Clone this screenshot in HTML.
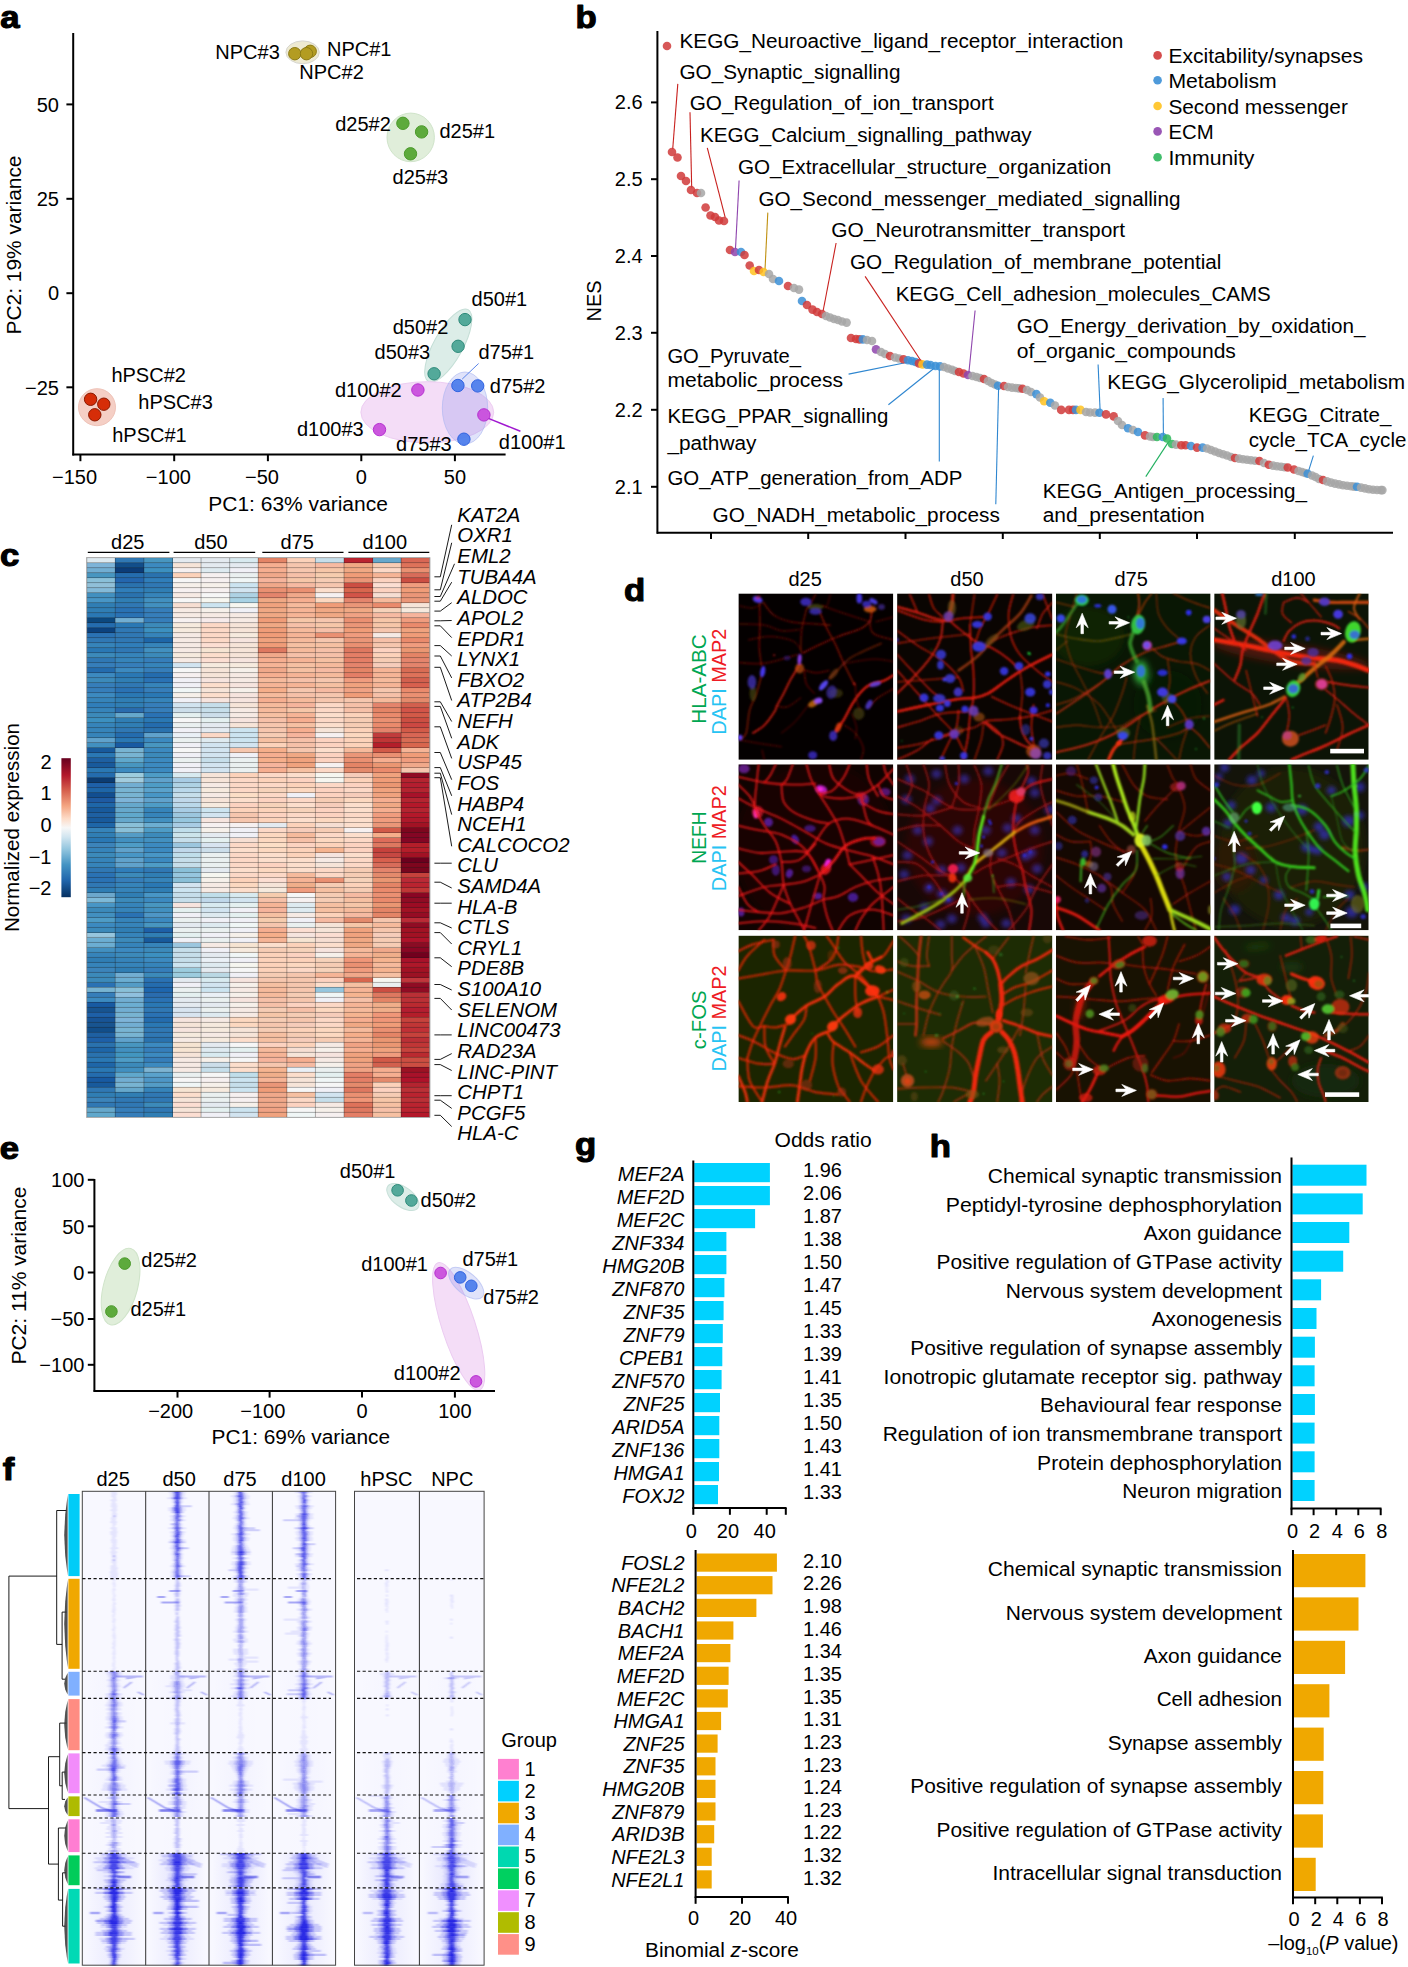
<!DOCTYPE html>
<html><head><meta charset="utf-8"><title>Figure</title>
<style>
html,body{margin:0;padding:0;background:#fff;}
body{width:1408px;height:1967px;overflow:hidden;}
svg{display:block;font-family:"Liberation Sans",sans-serif;font-size:20px;fill:#000;}
</style></head><body>
<svg width="1408" height="1967" viewBox="0 0 1408 1967">
<rect width="1408" height="1967" fill="#fff"/>
<g id="pa">
<text transform="translate(1.6 27.5) scale(1.12 1)" x="-1.2" y="0" font-size="31" font-weight="bold" stroke="#000" stroke-width="1.1" stroke-linejoin="round">a</text>
<ellipse cx="302.6" cy="52.3" rx="16.7" ry="11.4" fill="#EEEAD2" stroke="#D6D6D0" stroke-width="1"/>
<ellipse cx="410.7" cy="137.4" rx="23.7" ry="24.3" fill="#E0EEDA" stroke="#D0E4CA" stroke-width="1"/>
<ellipse cx="448.3" cy="345.5" rx="14.5" ry="41" transform="rotate(29 448.3 345.5)" fill="#DCEDE8" stroke="#C4DED6" stroke-width="1"/>
<ellipse cx="427.3" cy="412.3" rx="66.4" ry="30.6" fill="#F4DDF7" stroke="#EDCDF2" stroke-width="1"/>
<ellipse cx="465" cy="408" rx="22.7" ry="36" fill="#7080E8" fill-opacity="0.22" stroke="#A8B4F0" stroke-opacity="0.6" stroke-width="1"/>
<circle cx="97" cy="407.2" r="18.5" fill="#F5CFC5" stroke="#EFC3B8" stroke-width="1"/>
<line x1="478.6" y1="363.5" x2="462.2" y2="379.1" stroke="#5C86EA" stroke-width="1"/>
<line x1="487.8" y1="418.1" x2="520.4" y2="431.3" stroke="#A018D0" stroke-width="1.5"/>
<circle cx="310.2" cy="51.3" r="6.2" fill="#B39C22" stroke="#8C7A14" stroke-width="1" fill-opacity="1"/>
<circle cx="294.8" cy="53.7" r="6.2" fill="#B39C22" stroke="#8C7A14" stroke-width="1" fill-opacity="1"/>
<circle cx="306.5" cy="53.7" r="6.2" fill="#B39C22" stroke="#8C7A14" stroke-width="1" fill-opacity="1"/>
<circle cx="402.9" cy="123.3" r="6.2" fill="#5DAA3C" stroke="#4C9A2C" stroke-width="1" fill-opacity="1"/>
<circle cx="421.6" cy="131.9" r="6.2" fill="#5DAA3C" stroke="#4C9A2C" stroke-width="1" fill-opacity="1"/>
<circle cx="410.5" cy="153.8" r="6.2" fill="#5DAA3C" stroke="#4C9A2C" stroke-width="1" fill-opacity="1"/>
<circle cx="465" cy="319.6" r="6.2" fill="#4BA596" stroke="#2E8A7A" stroke-width="1" fill-opacity="0.95"/>
<circle cx="458.1" cy="346.3" r="6.2" fill="#4BA596" stroke="#2E8A7A" stroke-width="1" fill-opacity="0.95"/>
<circle cx="434.1" cy="373.8" r="6.2" fill="#4BA596" stroke="#2E8A7A" stroke-width="1" fill-opacity="0.95"/>
<circle cx="457.9" cy="385.5" r="6.2" fill="#4A7CEB" stroke="#2F62E0" stroke-width="1" fill-opacity="0.92"/>
<circle cx="477.7" cy="385.9" r="6.2" fill="#4A7CEB" stroke="#2F62E0" stroke-width="1" fill-opacity="0.92"/>
<circle cx="463.9" cy="439.2" r="6.2" fill="#4A7CEB" stroke="#2F62E0" stroke-width="1" fill-opacity="0.92"/>
<circle cx="417.9" cy="390" r="6.2" fill="#C94FDC" stroke="#B530D0" stroke-width="1" fill-opacity="0.95"/>
<circle cx="483.9" cy="414.9" r="6.2" fill="#C94FDC" stroke="#B530D0" stroke-width="1" fill-opacity="0.95"/>
<circle cx="379.5" cy="429.6" r="6.2" fill="#C94FDC" stroke="#B530D0" stroke-width="1" fill-opacity="0.95"/>
<circle cx="90.6" cy="399.3" r="6.2" fill="#D62D08" stroke="#8A1800" stroke-width="1" fill-opacity="1"/>
<circle cx="103.8" cy="404.2" r="6.2" fill="#D62D08" stroke="#8A1800" stroke-width="1" fill-opacity="1"/>
<circle cx="94.8" cy="414.8" r="6.2" fill="#D62D08" stroke="#8A1800" stroke-width="1" fill-opacity="1"/>
<line x1="73.2" y1="33.0" x2="73.2" y2="455.4" stroke="#000" stroke-width="2.0"/>
<line x1="72.4" y1="454.6" x2="505.6" y2="454.6" stroke="#000" stroke-width="2.0"/>
<line x1="66.4" y1="104.4" x2="73.2" y2="104.4" stroke="#000" stroke-width="2.0"/>
<text x="59.0" y="111.6" text-anchor="end">50</text>
<line x1="66.4" y1="198.8" x2="73.2" y2="198.8" stroke="#000" stroke-width="2.0"/>
<text x="59.0" y="206.0" text-anchor="end">25</text>
<line x1="66.4" y1="293.2" x2="73.2" y2="293.2" stroke="#000" stroke-width="2.0"/>
<text x="59.0" y="300.4" text-anchor="end">0</text>
<line x1="66.4" y1="387.3" x2="73.2" y2="387.3" stroke="#000" stroke-width="2.0"/>
<text x="59.0" y="394.5" text-anchor="end">−25</text>
<line x1="80.4" y1="454.6" x2="80.4" y2="461.2" stroke="#000" stroke-width="2.0"/>
<text x="97.1" y="483.5" text-anchor="end">−150</text>
<line x1="174.2" y1="454.6" x2="174.2" y2="461.2" stroke="#000" stroke-width="2.0"/>
<text x="190.9" y="483.5" text-anchor="end">−100</text>
<line x1="267.9" y1="454.6" x2="267.9" y2="461.2" stroke="#000" stroke-width="2.0"/>
<text x="279.0" y="483.5" text-anchor="end">−50</text>
<line x1="361.3" y1="454.6" x2="361.3" y2="461.2" stroke="#000" stroke-width="2.0"/>
<text x="361.3" y="483.5" text-anchor="middle">0</text>
<line x1="454.9" y1="454.6" x2="454.9" y2="461.2" stroke="#000" stroke-width="2.0"/>
<text x="454.9" y="483.5" text-anchor="middle">50</text>
<text x="208.3" y="511.2" textLength="179.5" lengthAdjust="spacingAndGlyphs">PC1: 63% variance</text>
<text x="21.2" y="245.0" text-anchor="middle" textLength="179.0" lengthAdjust="spacingAndGlyphs" transform="rotate(-90 21.2 245.0)">PC2: 19% variance</text>
<text x="215.3" y="58.6">NPC#3</text>
<text x="327.0" y="55.8">NPC#1</text>
<text x="299.3" y="79.3">NPC#2</text>
<text x="335.2" y="131.4">d25#2</text>
<text x="439.5" y="138.4">d25#1</text>
<text x="392.6" y="184.4">d25#3</text>
<text x="471.6" y="306.2">d50#1</text>
<text x="392.7" y="334.4">d50#2</text>
<text x="374.6" y="359.0">d50#3</text>
<text x="478.5" y="359.3">d75#1</text>
<text x="489.8" y="392.5">d75#2</text>
<text x="396.1" y="450.6">d75#3</text>
<text x="334.9" y="396.9">d100#2</text>
<text x="297.0" y="436.0">d100#3</text>
<text x="498.8" y="449.2">d100#1</text>
<text x="111.4" y="382.2">hPSC#2</text>
<text x="138.3" y="409.2">hPSC#3</text>
<text x="112.2" y="442.2">hPSC#1</text>
</g>
<g id="pb">
<text transform="translate(576.8 27.8) scale(1.12 1)" x="-1.2" y="0" font-size="31" font-weight="bold" stroke="#000" stroke-width="1.1" stroke-linejoin="round">b</text>
<line x1="657.4" y1="31.0" x2="657.4" y2="533.8" stroke="#000" stroke-width="2.0"/>
<line x1="656.8" y1="532.8" x2="1393.0" y2="532.8" stroke="#000" stroke-width="2.0"/>
<line x1="651.0" y1="102.4" x2="657.6" y2="102.4" stroke="#000" stroke-width="2.0"/>
<text x="642.6" y="109.3" text-anchor="end">2.6</text>
<line x1="651.0" y1="179.2" x2="657.6" y2="179.2" stroke="#000" stroke-width="2.0"/>
<text x="642.6" y="186.1" text-anchor="end">2.5</text>
<line x1="651.0" y1="256.0" x2="657.6" y2="256.0" stroke="#000" stroke-width="2.0"/>
<text x="642.6" y="262.9" text-anchor="end">2.4</text>
<line x1="651.0" y1="332.8" x2="657.6" y2="332.8" stroke="#000" stroke-width="2.0"/>
<text x="642.6" y="339.7" text-anchor="end">2.3</text>
<line x1="651.0" y1="409.8" x2="657.6" y2="409.8" stroke="#000" stroke-width="2.0"/>
<text x="642.6" y="416.7" text-anchor="end">2.2</text>
<line x1="651.0" y1="486.8" x2="657.6" y2="486.8" stroke="#000" stroke-width="2.0"/>
<text x="642.6" y="493.7" text-anchor="end">2.1</text>
<line x1="711.0" y1="532.8" x2="711.0" y2="539.0" stroke="#000" stroke-width="2.0"/>
<line x1="808.2" y1="532.8" x2="808.2" y2="539.0" stroke="#000" stroke-width="2.0"/>
<line x1="905.5" y1="532.8" x2="905.5" y2="539.0" stroke="#000" stroke-width="2.0"/>
<line x1="1002.8" y1="532.8" x2="1002.8" y2="539.0" stroke="#000" stroke-width="2.0"/>
<line x1="1099.8" y1="532.8" x2="1099.8" y2="539.0" stroke="#000" stroke-width="2.0"/>
<line x1="1197.0" y1="532.8" x2="1197.0" y2="539.0" stroke="#000" stroke-width="2.0"/>
<line x1="1294.8" y1="532.8" x2="1294.8" y2="539.0" stroke="#000" stroke-width="2.0"/>
<text x="600.5" y="301.0" text-anchor="middle" transform="rotate(-90 600.5 301.0)">NES</text>
<line x1="677.8" y1="83.9" x2="672.7" y2="149.3" stroke="#C8201E" stroke-width="1.1"/>
<line x1="690.0" y1="112.3" x2="691.7" y2="187.6" stroke="#C8201E" stroke-width="1.1"/>
<line x1="707.3" y1="147.8" x2="725.2" y2="217.4" stroke="#C8201E" stroke-width="1.1"/>
<line x1="739.1" y1="180.5" x2="735.5" y2="248.7" stroke="#8E44AD" stroke-width="1.1"/>
<line x1="767.8" y1="212.6" x2="765.0" y2="270.0" stroke="#C09010" stroke-width="1.1"/>
<line x1="836.1" y1="243.0" x2="823.1" y2="311.0" stroke="#C8201E" stroke-width="1.1"/>
<line x1="865.1" y1="276.4" x2="921.9" y2="362.2" stroke="#C8201E" stroke-width="1.1"/>
<line x1="975.1" y1="310.5" x2="968.8" y2="373.5" stroke="#8E44AD" stroke-width="1.1"/>
<line x1="1098.1" y1="364.4" x2="1100.1" y2="410.5" stroke="#2E86D0" stroke-width="1.1"/>
<line x1="848.6" y1="374.1" x2="907.7" y2="362.2" stroke="#2E86D0" stroke-width="1.1"/>
<line x1="888.4" y1="404.8" x2="934.7" y2="367.8" stroke="#2E86D0" stroke-width="1.1"/>
<line x1="939.3" y1="369.3" x2="939.3" y2="461.6" stroke="#2E86D0" stroke-width="1.1"/>
<line x1="998.6" y1="387.7" x2="995.8" y2="504.2" stroke="#2E86D0" stroke-width="1.1"/>
<line x1="1163.1" y1="397.9" x2="1163.4" y2="436.3" stroke="#2E86D0" stroke-width="1.1"/>
<line x1="1168.5" y1="441.9" x2="1145.8" y2="476.6" stroke="#22B060" stroke-width="1.1"/>
<line x1="1313.4" y1="455.6" x2="1308.6" y2="470.9" stroke="#2E86D0" stroke-width="1.1"/>
<g fill-opacity="0.85">
<circle cx="667" cy="46" r="4.3" fill="#D03A3A"/>
<circle cx="672" cy="152" r="4.3" fill="#D03A3A"/>
<circle cx="677.5" cy="157.5" r="4.3" fill="#D03A3A"/>
<circle cx="681" cy="176" r="4.3" fill="#D03A3A"/>
<circle cx="686" cy="181" r="4.3" fill="#D03A3A"/>
<circle cx="691" cy="190" r="4.3" fill="#D03A3A"/>
<circle cx="697" cy="193" r="4.3" fill="#D03A3A"/>
<circle cx="701" cy="193" r="4.3" fill="#A6A6A6"/>
<circle cx="705.6" cy="207.5" r="4.3" fill="#D03A3A"/>
<circle cx="710.5" cy="215.5" r="4.3" fill="#D03A3A"/>
<circle cx="715" cy="217" r="4.3" fill="#D03A3A"/>
<circle cx="719" cy="220.5" r="4.3" fill="#D03A3A"/>
<circle cx="724" cy="221" r="4.3" fill="#D03A3A"/>
<circle cx="730" cy="250" r="4.3" fill="#D03A3A"/>
<circle cx="735" cy="252" r="4.3" fill="#8E44AD"/>
<circle cx="741" cy="252" r="4.3" fill="#3B8FD6"/>
<circle cx="744.5" cy="255" r="4.3" fill="#D03A3A"/>
<circle cx="749.7" cy="265.5" r="4.3" fill="#D03A3A"/>
<circle cx="754" cy="271" r="4.3" fill="#FFC21F"/>
<circle cx="759" cy="270" r="4.3" fill="#D03A3A"/>
<circle cx="763.6" cy="272" r="4.3" fill="#FFC21F"/>
<circle cx="769" cy="274" r="4.3" fill="#A6A6A6"/>
<circle cx="773" cy="279" r="4.3" fill="#A6A6A6"/>
<circle cx="779" cy="281" r="4.3" fill="#3B8FD6"/>
<circle cx="788" cy="286" r="4.3" fill="#D03A3A"/>
<circle cx="794" cy="288" r="4.3" fill="#A6A6A6"/>
<circle cx="799" cy="289.6" r="4.3" fill="#A6A6A6"/>
<circle cx="802" cy="301" r="4.3" fill="#3B8FD6"/>
<circle cx="807" cy="305" r="4.3" fill="#D03A3A"/>
<circle cx="812.5" cy="309.6" r="4.3" fill="#D03A3A"/>
<circle cx="817" cy="312" r="4.3" fill="#D03A3A"/>
<circle cx="822" cy="314" r="4.3" fill="#D03A3A"/>
<circle cx="826" cy="316" r="4.3" fill="#A6A6A6"/>
<circle cx="830" cy="317.5" r="4.3" fill="#A6A6A6"/>
<circle cx="834" cy="319" r="4.3" fill="#A6A6A6"/>
<circle cx="838" cy="320" r="4.3" fill="#A6A6A6"/>
<circle cx="842" cy="321.5" r="4.3" fill="#A6A6A6"/>
<circle cx="846.6" cy="322.6" r="4.3" fill="#A6A6A6"/>
<circle cx="851" cy="338" r="4.3" fill="#D03A3A"/>
<circle cx="856" cy="339" r="4.3" fill="#D03A3A"/>
<circle cx="859.5" cy="339.4" r="4.3" fill="#D03A3A"/>
<circle cx="862.8" cy="339.4" r="4.3" fill="#3B8FD6"/>
<circle cx="867" cy="340" r="4.3" fill="#A6A6A6"/>
<circle cx="872" cy="341" r="4.3" fill="#A6A6A6"/>
<circle cx="876" cy="349.4" r="4.3" fill="#8E44AD"/>
<circle cx="881" cy="352" r="4.3" fill="#A6A6A6"/>
<circle cx="885" cy="354" r="4.3" fill="#A6A6A6"/>
<circle cx="890" cy="356" r="4.3" fill="#D03A3A"/>
<circle cx="895" cy="357.5" r="4.3" fill="#A6A6A6"/>
<circle cx="899" cy="358.5" r="4.3" fill="#A6A6A6"/>
<circle cx="903.5" cy="359.3" r="4.3" fill="#D03A3A"/>
<circle cx="908" cy="360.2" r="4.3" fill="#3B8FD6"/>
<circle cx="912" cy="361" r="4.3" fill="#3B8FD6"/>
<circle cx="915.5" cy="362" r="4.3" fill="#3B8FD6"/>
<circle cx="919" cy="363.4" r="4.3" fill="#D03A3A"/>
<circle cx="922.5" cy="364.4" r="4.3" fill="#FFC21F"/>
<circle cx="927" cy="364.6" r="4.3" fill="#3B8FD6"/>
<circle cx="930.5" cy="365" r="4.3" fill="#3B8FD6"/>
<circle cx="935.5" cy="366" r="4.3" fill="#3B8FD6"/>
<circle cx="940" cy="366.4" r="4.3" fill="#3B8FD6"/>
<circle cx="944" cy="367" r="4.3" fill="#A6A6A6"/>
<circle cx="948" cy="368.5" r="4.3" fill="#A6A6A6"/>
<circle cx="952" cy="369.8" r="4.3" fill="#A6A6A6"/>
<circle cx="955" cy="371" r="4.3" fill="#A6A6A6"/>
<circle cx="959" cy="372" r="4.3" fill="#D03A3A"/>
<circle cx="963.5" cy="373.5" r="4.3" fill="#D03A3A"/>
<circle cx="968" cy="375" r="4.3" fill="#8E44AD"/>
<circle cx="972.5" cy="376" r="4.3" fill="#A6A6A6"/>
<circle cx="976.5" cy="377" r="4.3" fill="#A6A6A6"/>
<circle cx="980" cy="378" r="4.3" fill="#A6A6A6"/>
<circle cx="984" cy="379" r="4.3" fill="#D03A3A"/>
<circle cx="988" cy="381" r="4.3" fill="#A6A6A6"/>
<circle cx="991.5" cy="383" r="4.3" fill="#A6A6A6"/>
<circle cx="995" cy="384.5" r="4.3" fill="#A6A6A6"/>
<circle cx="998" cy="385.7" r="4.3" fill="#3B8FD6"/>
<circle cx="1004" cy="386" r="4.3" fill="#D03A3A"/>
<circle cx="1008" cy="387" r="4.3" fill="#A6A6A6"/>
<circle cx="1012" cy="387.6" r="4.3" fill="#A6A6A6"/>
<circle cx="1016" cy="388" r="4.3" fill="#A6A6A6"/>
<circle cx="1019" cy="388.4" r="4.3" fill="#A6A6A6"/>
<circle cx="1022.5" cy="388.7" r="4.3" fill="#D03A3A"/>
<circle cx="1027" cy="390" r="4.3" fill="#A6A6A6"/>
<circle cx="1031" cy="392" r="4.3" fill="#A6A6A6"/>
<circle cx="1036.4" cy="394.1" r="4.3" fill="#3B8FD6"/>
<circle cx="1040" cy="397.5" r="4.3" fill="#A6A6A6"/>
<circle cx="1044.2" cy="401.2" r="4.3" fill="#FFC21F"/>
<circle cx="1050.3" cy="402.8" r="4.3" fill="#3B8FD6"/>
<circle cx="1055" cy="405.5" r="4.3" fill="#A6A6A6"/>
<circle cx="1061.2" cy="409.9" r="4.3" fill="#D03A3A"/>
<circle cx="1069" cy="409.9" r="4.3" fill="#D03A3A"/>
<circle cx="1073" cy="409.9" r="4.3" fill="#D03A3A"/>
<circle cx="1076" cy="409.9" r="4.3" fill="#3B8FD6"/>
<circle cx="1080.5" cy="409.9" r="4.3" fill="#FFC21F"/>
<circle cx="1086" cy="412" r="4.3" fill="#A6A6A6"/>
<circle cx="1090" cy="412.5" r="4.3" fill="#A6A6A6"/>
<circle cx="1095" cy="412.6" r="4.3" fill="#A6A6A6"/>
<circle cx="1099.5" cy="412.7" r="4.3" fill="#3B8FD6"/>
<circle cx="1106" cy="414.4" r="4.3" fill="#D03A3A"/>
<circle cx="1113.7" cy="416.4" r="4.3" fill="#D03A3A"/>
<circle cx="1118" cy="421" r="4.3" fill="#A6A6A6"/>
<circle cx="1122" cy="425" r="4.3" fill="#A6A6A6"/>
<circle cx="1128" cy="428.3" r="4.3" fill="#3B8FD6"/>
<circle cx="1133" cy="430" r="4.3" fill="#A6A6A6"/>
<circle cx="1138" cy="432" r="4.3" fill="#3B8FD6"/>
<circle cx="1145" cy="435.4" r="4.3" fill="#D03A3A"/>
<circle cx="1150" cy="436.5" r="4.3" fill="#A6A6A6"/>
<circle cx="1153" cy="437" r="4.3" fill="#A6A6A6"/>
<circle cx="1157" cy="437" r="4.3" fill="#2DB75C"/>
<circle cx="1162.8" cy="437" r="4.3" fill="#3B8FD6"/>
<circle cx="1167" cy="438.5" r="4.3" fill="#2DB75C"/>
<circle cx="1172" cy="444" r="4.3" fill="#2DB75C"/>
<circle cx="1176" cy="444.6" r="4.3" fill="#A6A6A6"/>
<circle cx="1181.3" cy="445.3" r="4.3" fill="#D03A3A"/>
<circle cx="1185.5" cy="445.3" r="4.3" fill="#D03A3A"/>
<circle cx="1191" cy="446" r="4.3" fill="#3B8FD6"/>
<circle cx="1197" cy="447.6" r="4.3" fill="#D03A3A"/>
<circle cx="1202.6" cy="447.6" r="4.3" fill="#3B8FD6"/>
<circle cx="1207" cy="448.5" r="4.3" fill="#A6A6A6"/>
<circle cx="1211" cy="450" r="4.3" fill="#A6A6A6"/>
<circle cx="1215" cy="451.5" r="4.3" fill="#A6A6A6"/>
<circle cx="1219" cy="453" r="4.3" fill="#A6A6A6"/>
<circle cx="1223" cy="454.2" r="4.3" fill="#A6A6A6"/>
<circle cx="1227" cy="455.5" r="4.3" fill="#A6A6A6"/>
<circle cx="1231" cy="457" r="4.3" fill="#A6A6A6"/>
<circle cx="1235" cy="458" r="4.3" fill="#D03A3A"/>
<circle cx="1239" cy="458.6" r="4.3" fill="#A6A6A6"/>
<circle cx="1243" cy="459.2" r="4.3" fill="#A6A6A6"/>
<circle cx="1247" cy="459.8" r="4.3" fill="#A6A6A6"/>
<circle cx="1251" cy="460.3" r="4.3" fill="#A6A6A6"/>
<circle cx="1255" cy="460.8" r="4.3" fill="#A6A6A6"/>
<circle cx="1259.4" cy="461" r="4.3" fill="#D03A3A"/>
<circle cx="1264" cy="463" r="4.3" fill="#A6A6A6"/>
<circle cx="1268.8" cy="464.7" r="4.3" fill="#D03A3A"/>
<circle cx="1273" cy="465.6" r="4.3" fill="#A6A6A6"/>
<circle cx="1277" cy="466.2" r="4.3" fill="#A6A6A6"/>
<circle cx="1281" cy="466.8" r="4.3" fill="#A6A6A6"/>
<circle cx="1284.5" cy="467.2" r="4.3" fill="#A6A6A6"/>
<circle cx="1287.8" cy="467.5" r="4.3" fill="#D03A3A"/>
<circle cx="1294" cy="469.5" r="4.3" fill="#D03A3A"/>
<circle cx="1298.5" cy="471" r="4.3" fill="#A6A6A6"/>
<circle cx="1302" cy="472" r="4.3" fill="#A6A6A6"/>
<circle cx="1305" cy="473" r="4.3" fill="#A6A6A6"/>
<circle cx="1307.7" cy="473.7" r="4.3" fill="#3B8FD6"/>
<circle cx="1312" cy="475.5" r="4.3" fill="#A6A6A6"/>
<circle cx="1315.5" cy="477" r="4.3" fill="#A6A6A6"/>
<circle cx="1319" cy="479" r="4.3" fill="#A6A6A6"/>
<circle cx="1323" cy="480" r="4.3" fill="#D03A3A"/>
<circle cx="1327" cy="481.4" r="4.3" fill="#A6A6A6"/>
<circle cx="1331" cy="482.6" r="4.3" fill="#A6A6A6"/>
<circle cx="1335" cy="483.6" r="4.3" fill="#A6A6A6"/>
<circle cx="1339" cy="484.4" r="4.3" fill="#A6A6A6"/>
<circle cx="1343" cy="485.2" r="4.3" fill="#A6A6A6"/>
<circle cx="1347" cy="485.8" r="4.3" fill="#A6A6A6"/>
<circle cx="1351" cy="486.3" r="4.3" fill="#A6A6A6"/>
<circle cx="1354" cy="486.6" r="4.3" fill="#A6A6A6"/>
<circle cx="1357" cy="486.8" r="4.3" fill="#3B8FD6"/>
<circle cx="1361" cy="487.6" r="4.3" fill="#A6A6A6"/>
<circle cx="1365" cy="488.4" r="4.3" fill="#A6A6A6"/>
<circle cx="1369" cy="489.2" r="4.3" fill="#A6A6A6"/>
<circle cx="1373" cy="489.7" r="4.3" fill="#A6A6A6"/>
<circle cx="1377" cy="490" r="4.3" fill="#A6A6A6"/>
<circle cx="1381" cy="490.1" r="4.3" fill="#A6A6A6"/>
<circle cx="1382.4" cy="490.1" r="4.3" fill="#A6A6A6"/>
</g>
<circle cx="1157.6" cy="55.4" r="4.3" fill="#D03A3A" fill-opacity="0.9"/>
<text x="1168.4" y="63.4" textLength="194.6" lengthAdjust="spacingAndGlyphs">Excitability/synapses</text>
<circle cx="1157.6" cy="80.3" r="4.3" fill="#3B8FD6" fill-opacity="0.9"/>
<text x="1168.4" y="88.3" textLength="108.4" lengthAdjust="spacingAndGlyphs">Metabolism</text>
<circle cx="1157.6" cy="106" r="4.3" fill="#FFC21F" fill-opacity="0.9"/>
<text x="1168.4" y="114.0" textLength="179.5" lengthAdjust="spacingAndGlyphs">Second messenger</text>
<circle cx="1157.6" cy="131.4" r="4.3" fill="#8E44AD" fill-opacity="0.9"/>
<text x="1168.4" y="139.4" textLength="45.2" lengthAdjust="spacingAndGlyphs">ECM</text>
<circle cx="1157.6" cy="157.2" r="4.3" fill="#2DB75C" fill-opacity="0.9"/>
<text x="1168.4" y="165.2" textLength="86.1" lengthAdjust="spacingAndGlyphs">Immunity</text>
<text x="679.5" y="47.6" textLength="443.8" lengthAdjust="spacingAndGlyphs">KEGG_Neuroactive_ligand_receptor_interaction</text>
<text x="679.5" y="78.5" textLength="220.9" lengthAdjust="spacingAndGlyphs">GO_Synaptic_signalling</text>
<text x="689.7" y="110.3" textLength="304.0" lengthAdjust="spacingAndGlyphs">GO_Regulation_of_ion_transport</text>
<text x="700.0" y="142.2" textLength="331.7" lengthAdjust="spacingAndGlyphs">KEGG_Calcium_signalling_pathway</text>
<text x="737.9" y="173.7" textLength="373.3" lengthAdjust="spacingAndGlyphs">GO_Extracellular_structure_organization</text>
<text x="758.4" y="205.5" textLength="422.1" lengthAdjust="spacingAndGlyphs">GO_Second_messenger_mediated_signalling</text>
<text x="831.3" y="237.4" textLength="293.8" lengthAdjust="spacingAndGlyphs">GO_Neurotransmitter_transport</text>
<text x="850.0" y="269.3" textLength="371.4" lengthAdjust="spacingAndGlyphs">GO_Regulation_of_membrane_potential</text>
<text x="895.7" y="300.8" textLength="375.1" lengthAdjust="spacingAndGlyphs">KEGG_Cell_adhesion_molecules_CAMS</text>
<text x="1016.8" y="333.2" textLength="348.6" lengthAdjust="spacingAndGlyphs">GO_Energy_derivation_by_oxidation_</text>
<text x="1016.8" y="358.0" textLength="219.1" lengthAdjust="spacingAndGlyphs">of_organic_compounds</text>
<text x="1107.2" y="389.3" textLength="298.0" lengthAdjust="spacingAndGlyphs">KEGG_Glycerolipid_metabolism</text>
<text x="1248.8" y="421.8" textLength="142.5" lengthAdjust="spacingAndGlyphs">KEGG_Citrate_</text>
<text x="1248.8" y="446.5" textLength="157.6" lengthAdjust="spacingAndGlyphs">cycle_TCA_cycle</text>
<text x="667.4" y="362.8" textLength="133.6" lengthAdjust="spacingAndGlyphs">GO_Pyruvate_</text>
<text x="667.4" y="387.4" textLength="175.7" lengthAdjust="spacingAndGlyphs">metabolic_process</text>
<text x="667.4" y="423.0" textLength="220.9" lengthAdjust="spacingAndGlyphs">KEGG_PPAR_signalling</text>
<text x="667.4" y="449.5" textLength="89.0" lengthAdjust="spacingAndGlyphs">_pathway</text>
<text x="667.4" y="485.0" textLength="295.0" lengthAdjust="spacingAndGlyphs">GO_ATP_generation_from_ADP</text>
<text x="712.6" y="521.8" textLength="287.2" lengthAdjust="spacingAndGlyphs">GO_NADH_metabolic_process</text>
<text x="1042.7" y="497.7" textLength="264.3" lengthAdjust="spacingAndGlyphs">KEGG_Antigen_processing_</text>
<text x="1042.7" y="521.8" textLength="161.9" lengthAdjust="spacingAndGlyphs">and_presentation</text>
</g>
<g id="pc">
<text transform="translate(1.4 566.0) scale(1.12 1)" x="-1.2" y="0" font-size="31" font-weight="bold" stroke="#000" stroke-width="1.1" stroke-linejoin="round">c</text>
<g shape-rendering="crispEdges">
<path d="M86.7 557.6h28.6v5.00h-28.6zM201.1 567.6h28.6v5.00h-28.6zM201.1 737.5h28.6v5.00h-28.6zM286.8 902.5h28.6v5.00h-28.6zM286.8 907.5h28.6v5.00h-28.6zM201.1 912.5h28.6v5.00h-28.6zM201.1 922.5h28.6v5.00h-28.6zM201.1 962.5h28.6v5.00h-28.6zM201.1 1012.4h28.6v5.00h-28.6zM201.1 1047.4h28.6v5.00h-28.6z" fill="#deeaf0"/>
<path d="M115.3 557.6h28.6v5.00h-28.6zM143.9 582.6h28.6v5.00h-28.6zM115.3 602.6h28.6v5.00h-28.6zM115.3 627.6h28.6v5.00h-28.6zM115.3 632.6h28.6v5.00h-28.6zM86.7 637.6h28.6v5.00h-28.6zM115.3 637.6h28.6v5.00h-28.6zM115.3 647.6h28.6v5.00h-28.6zM86.7 657.6h28.6v5.00h-28.6zM115.3 682.6h28.6v5.00h-28.6zM115.3 727.5h28.6v5.00h-28.6zM86.7 867.5h28.6v5.00h-28.6zM143.9 867.5h28.6v5.00h-28.6zM86.7 882.5h28.6v5.00h-28.6zM143.9 1007.4h28.6v5.00h-28.6zM143.9 1027.4h28.6v5.00h-28.6zM143.9 1032.4h28.6v5.00h-28.6zM86.7 1087.4h28.6v5.00h-28.6zM143.9 1092.4h28.6v5.00h-28.6zM115.3 1097.4h28.6v5.00h-28.6zM143.9 1097.4h28.6v5.00h-28.6zM86.7 1102.4h28.6v5.00h-28.6zM115.3 1102.4h28.6v5.00h-28.6zM143.9 1107.4h28.6v5.00h-28.6z" fill="#3078b4"/>
<path d="M143.9 557.6h28.6v5.00h-28.6zM86.7 572.6h28.6v5.00h-28.6zM143.9 742.5h28.6v5.00h-28.6zM115.3 762.5h28.6v5.00h-28.6zM143.9 902.5h28.6v5.00h-28.6zM143.9 922.5h28.6v5.00h-28.6zM115.3 1042.4h28.6v5.00h-28.6z" fill="#4896c0"/>
<path d="M172.5 557.6h28.6v5.00h-28.6zM201.1 557.6h28.6v5.00h-28.6zM201.1 562.6h28.6v5.00h-28.6zM229.7 562.6h28.6v5.00h-28.6zM201.1 722.5h28.6v5.00h-28.6zM201.1 727.5h28.6v5.00h-28.6zM258.2 822.5h28.6v5.00h-28.6zM201.1 832.5h28.6v5.00h-28.6zM201.1 867.5h28.6v5.00h-28.6zM172.5 922.5h28.6v5.00h-28.6zM201.1 952.5h28.6v5.00h-28.6zM201.1 967.5h28.6v5.00h-28.6zM172.5 977.5h28.6v5.00h-28.6zM172.5 997.4h28.6v5.00h-28.6zM172.5 1002.4h28.6v5.00h-28.6zM201.1 1002.4h28.6v5.00h-28.6zM201.1 1042.4h28.6v5.00h-28.6zM201.1 1102.4h28.6v5.00h-28.6z" fill="#e4eaf0"/>
<path d="M229.7 557.6h28.6v5.00h-28.6zM172.5 772.5h28.6v5.00h-28.6zM229.7 892.5h28.6v5.00h-28.6zM201.1 902.5h28.6v5.00h-28.6zM201.1 977.5h28.6v5.00h-28.6zM201.1 1052.4h28.6v5.00h-28.6z" fill="#d8eaf0"/>
<path d="M258.2 557.6h28.6v5.00h-28.6zM401.2 652.6h28.6v5.00h-28.6zM344.0 667.6h28.6v5.00h-28.6zM372.6 707.5h28.6v5.00h-28.6zM344.0 762.5h28.6v5.00h-28.6zM372.6 882.5h28.6v5.00h-28.6zM372.6 907.5h28.6v5.00h-28.6zM372.6 912.5h28.6v5.00h-28.6zM372.6 997.4h28.6v5.00h-28.6zM372.6 1032.4h28.6v5.00h-28.6z" fill="#e48466"/>
<path d="M286.8 557.6h28.6v5.00h-28.6zM172.5 572.6h28.6v5.00h-28.6zM372.6 652.6h28.6v5.00h-28.6zM344.0 712.5h28.6v5.00h-28.6zM344.0 727.5h28.6v5.00h-28.6zM344.0 737.5h28.6v5.00h-28.6zM258.2 742.5h28.6v5.00h-28.6zM344.0 742.5h28.6v5.00h-28.6zM229.7 772.5h28.6v5.00h-28.6zM258.2 777.5h28.6v5.00h-28.6zM344.0 777.5h28.6v5.00h-28.6zM286.8 782.5h28.6v5.00h-28.6zM229.7 807.5h28.6v5.00h-28.6zM258.2 807.5h28.6v5.00h-28.6zM258.2 817.5h28.6v5.00h-28.6zM286.8 822.5h28.6v5.00h-28.6zM315.4 842.5h28.6v5.00h-28.6zM286.8 847.5h28.6v5.00h-28.6zM286.8 852.5h28.6v5.00h-28.6zM229.7 877.5h28.6v5.00h-28.6zM344.0 882.5h28.6v5.00h-28.6zM315.4 912.5h28.6v5.00h-28.6zM286.8 942.5h28.6v5.00h-28.6zM258.2 952.5h28.6v5.00h-28.6zM258.2 957.5h28.6v5.00h-28.6zM286.8 957.5h28.6v5.00h-28.6zM258.2 962.5h28.6v5.00h-28.6zM258.2 967.5h28.6v5.00h-28.6zM286.8 1027.4h28.6v5.00h-28.6zM286.8 1042.4h28.6v5.00h-28.6zM372.6 1082.4h28.6v5.00h-28.6z" fill="#fcd2ba"/>
<path d="M315.4 557.6h28.6v5.00h-28.6zM201.1 702.5h28.6v5.00h-28.6zM201.1 707.5h28.6v5.00h-28.6zM201.1 757.5h28.6v5.00h-28.6zM172.5 792.5h28.6v5.00h-28.6zM172.5 837.5h28.6v5.00h-28.6zM172.5 857.5h28.6v5.00h-28.6zM172.5 862.5h28.6v5.00h-28.6zM172.5 892.5h28.6v5.00h-28.6zM172.5 897.5h28.6v5.00h-28.6zM172.5 947.5h28.6v5.00h-28.6zM172.5 952.5h28.6v5.00h-28.6zM172.5 957.5h28.6v5.00h-28.6zM201.1 1067.4h28.6v5.00h-28.6zM229.7 1082.4h28.6v5.00h-28.6zM315.4 1097.4h28.6v5.00h-28.6z" fill="#c6deea"/>
<path d="M344.0 557.6h28.6v5.00h-28.6zM401.2 882.5h28.6v5.00h-28.6zM401.2 1092.4h28.6v5.00h-28.6zM401.2 1102.4h28.6v5.00h-28.6zM401.2 1107.4h28.6v5.00h-28.6z" fill="#ba2430"/>
<path d="M372.6 557.6h28.6v5.00h-28.6zM115.3 712.5h28.6v5.00h-28.6zM115.3 802.5h28.6v5.00h-28.6zM115.3 807.5h28.6v5.00h-28.6zM115.3 817.5h28.6v5.00h-28.6zM115.3 1087.4h28.6v5.00h-28.6zM86.7 1107.4h28.6v5.00h-28.6z" fill="#66a8cc"/>
<path d="M401.2 557.6h28.6v5.00h-28.6zM401.2 732.5h28.6v5.00h-28.6z" fill="#d86654"/>
<path d="M86.7 562.6h28.6v5.00h-28.6zM115.3 797.5h28.6v5.00h-28.6zM115.3 1017.4h28.6v5.00h-28.6z" fill="#7eb4d8"/>
<path d="M115.3 562.6h28.6v5.00h-28.6zM86.7 1027.4h28.6v5.00h-28.6z" fill="#124e8a"/>
<path d="M143.9 562.6h28.6v5.00h-28.6zM115.3 667.6h28.6v5.00h-28.6zM86.7 672.6h28.6v5.00h-28.6zM86.7 692.6h28.6v5.00h-28.6zM143.9 737.5h28.6v5.00h-28.6zM143.9 747.5h28.6v5.00h-28.6zM143.9 757.5h28.6v5.00h-28.6zM143.9 762.5h28.6v5.00h-28.6zM115.3 767.5h28.6v5.00h-28.6zM143.9 767.5h28.6v5.00h-28.6zM143.9 842.5h28.6v5.00h-28.6zM143.9 847.5h28.6v5.00h-28.6zM143.9 857.5h28.6v5.00h-28.6zM143.9 897.5h28.6v5.00h-28.6zM143.9 917.5h28.6v5.00h-28.6zM86.7 922.5h28.6v5.00h-28.6zM115.3 947.5h28.6v5.00h-28.6zM143.9 957.5h28.6v5.00h-28.6zM86.7 997.4h28.6v5.00h-28.6zM143.9 1042.4h28.6v5.00h-28.6zM143.9 1052.4h28.6v5.00h-28.6zM143.9 1062.4h28.6v5.00h-28.6z" fill="#3c8ac0"/>
<path d="M172.5 562.6h28.6v5.00h-28.6zM401.2 602.6h28.6v5.00h-28.6zM229.7 622.6h28.6v5.00h-28.6zM229.7 627.6h28.6v5.00h-28.6zM229.7 642.6h28.6v5.00h-28.6zM229.7 647.6h28.6v5.00h-28.6zM229.7 652.6h28.6v5.00h-28.6zM201.1 667.6h28.6v5.00h-28.6zM201.1 672.6h28.6v5.00h-28.6zM201.1 687.6h28.6v5.00h-28.6zM229.7 702.5h28.6v5.00h-28.6zM229.7 722.5h28.6v5.00h-28.6zM315.4 727.5h28.6v5.00h-28.6zM201.1 772.5h28.6v5.00h-28.6zM201.1 777.5h28.6v5.00h-28.6zM201.1 797.5h28.6v5.00h-28.6zM315.4 862.5h28.6v5.00h-28.6zM258.2 882.5h28.6v5.00h-28.6zM315.4 922.5h28.6v5.00h-28.6zM315.4 927.5h28.6v5.00h-28.6zM172.5 1022.4h28.6v5.00h-28.6zM229.7 1027.4h28.6v5.00h-28.6zM229.7 1032.4h28.6v5.00h-28.6zM172.5 1052.4h28.6v5.00h-28.6zM286.8 1052.4h28.6v5.00h-28.6zM286.8 1077.4h28.6v5.00h-28.6zM286.8 1082.4h28.6v5.00h-28.6zM172.5 1097.4h28.6v5.00h-28.6zM172.5 1107.4h28.6v5.00h-28.6z" fill="#f6e4d8"/>
<path d="M258.2 562.6h28.6v5.00h-28.6zM258.2 567.6h28.6v5.00h-28.6zM286.8 597.6h28.6v5.00h-28.6zM258.2 657.6h28.6v5.00h-28.6zM258.2 672.6h28.6v5.00h-28.6zM258.2 697.6h28.6v5.00h-28.6zM286.8 717.5h28.6v5.00h-28.6zM286.8 727.5h28.6v5.00h-28.6zM258.2 752.5h28.6v5.00h-28.6zM372.6 757.5h28.6v5.00h-28.6zM258.2 767.5h28.6v5.00h-28.6zM372.6 797.5h28.6v5.00h-28.6zM372.6 807.5h28.6v5.00h-28.6zM258.2 927.5h28.6v5.00h-28.6zM344.0 1017.4h28.6v5.00h-28.6zM344.0 1047.4h28.6v5.00h-28.6zM286.8 1057.4h28.6v5.00h-28.6zM372.6 1067.4h28.6v5.00h-28.6zM372.6 1072.4h28.6v5.00h-28.6z" fill="#f6ae90"/>
<path d="M286.8 562.6h28.6v5.00h-28.6zM286.8 567.6h28.6v5.00h-28.6zM315.4 582.6h28.6v5.00h-28.6zM315.4 617.6h28.6v5.00h-28.6zM372.6 627.6h28.6v5.00h-28.6zM315.4 637.6h28.6v5.00h-28.6zM372.6 642.6h28.6v5.00h-28.6zM315.4 677.6h28.6v5.00h-28.6zM286.8 687.6h28.6v5.00h-28.6zM372.6 687.6h28.6v5.00h-28.6zM315.4 692.6h28.6v5.00h-28.6zM315.4 697.6h28.6v5.00h-28.6zM344.0 697.6h28.6v5.00h-28.6zM258.2 722.5h28.6v5.00h-28.6zM258.2 727.5h28.6v5.00h-28.6zM229.7 747.5h28.6v5.00h-28.6zM286.8 747.5h28.6v5.00h-28.6zM401.2 767.5h28.6v5.00h-28.6zM229.7 812.5h28.6v5.00h-28.6zM229.7 817.5h28.6v5.00h-28.6zM372.6 917.5h28.6v5.00h-28.6zM258.2 922.5h28.6v5.00h-28.6zM372.6 927.5h28.6v5.00h-28.6zM286.8 972.5h28.6v5.00h-28.6zM258.2 977.5h28.6v5.00h-28.6zM286.8 977.5h28.6v5.00h-28.6zM286.8 982.4h28.6v5.00h-28.6zM286.8 987.4h28.6v5.00h-28.6zM286.8 997.4h28.6v5.00h-28.6zM286.8 1017.4h28.6v5.00h-28.6zM258.2 1022.4h28.6v5.00h-28.6zM258.2 1062.4h28.6v5.00h-28.6z" fill="#f6c6ae"/>
<path d="M315.4 562.6h28.6v5.00h-28.6zM286.8 582.6h28.6v5.00h-28.6zM372.6 612.6h28.6v5.00h-28.6zM315.4 667.6h28.6v5.00h-28.6zM315.4 687.6h28.6v5.00h-28.6zM344.0 892.5h28.6v5.00h-28.6zM344.0 912.5h28.6v5.00h-28.6zM315.4 917.5h28.6v5.00h-28.6zM286.8 1062.4h28.6v5.00h-28.6z" fill="#f6baa2"/>
<path d="M344.0 562.6h28.6v5.00h-28.6zM344.0 567.6h28.6v5.00h-28.6zM258.2 597.6h28.6v5.00h-28.6zM258.2 607.6h28.6v5.00h-28.6zM315.4 607.6h28.6v5.00h-28.6zM344.0 607.6h28.6v5.00h-28.6zM258.2 612.6h28.6v5.00h-28.6zM315.4 612.6h28.6v5.00h-28.6zM258.2 622.6h28.6v5.00h-28.6zM286.8 752.5h28.6v5.00h-28.6zM372.6 802.5h28.6v5.00h-28.6zM344.0 937.5h28.6v5.00h-28.6zM344.0 942.5h28.6v5.00h-28.6zM344.0 1022.4h28.6v5.00h-28.6z" fill="#f0a884"/>
<path d="M372.6 562.6h28.6v5.00h-28.6zM315.4 577.6h28.6v5.00h-28.6zM372.6 657.6h28.6v5.00h-28.6zM344.0 717.5h28.6v5.00h-28.6zM344.0 722.5h28.6v5.00h-28.6zM258.2 732.5h28.6v5.00h-28.6zM315.4 797.5h28.6v5.00h-28.6zM315.4 827.5h28.6v5.00h-28.6zM344.0 867.5h28.6v5.00h-28.6zM344.0 872.5h28.6v5.00h-28.6zM315.4 882.5h28.6v5.00h-28.6zM344.0 887.5h28.6v5.00h-28.6zM315.4 892.5h28.6v5.00h-28.6zM315.4 897.5h28.6v5.00h-28.6zM372.6 937.5h28.6v5.00h-28.6zM372.6 942.5h28.6v5.00h-28.6zM258.2 947.5h28.6v5.00h-28.6zM315.4 962.5h28.6v5.00h-28.6zM258.2 972.5h28.6v5.00h-28.6zM286.8 992.4h28.6v5.00h-28.6zM258.2 1007.4h28.6v5.00h-28.6zM286.8 1012.4h28.6v5.00h-28.6zM258.2 1017.4h28.6v5.00h-28.6zM258.2 1027.4h28.6v5.00h-28.6zM286.8 1032.4h28.6v5.00h-28.6zM315.4 1037.4h28.6v5.00h-28.6zM372.6 1092.4h28.6v5.00h-28.6z" fill="#f6ccb4"/>
<path d="M401.2 562.6h28.6v5.00h-28.6zM401.2 672.6h28.6v5.00h-28.6zM344.0 1102.4h28.6v5.00h-28.6z" fill="#de725a"/>
<path d="M86.7 567.6h28.6v5.00h-28.6zM115.3 617.6h28.6v5.00h-28.6zM115.3 782.5h28.6v5.00h-28.6zM115.3 972.5h28.6v5.00h-28.6zM115.3 997.4h28.6v5.00h-28.6zM115.3 1007.4h28.6v5.00h-28.6zM115.3 1022.4h28.6v5.00h-28.6zM115.3 1077.4h28.6v5.00h-28.6z" fill="#72aed2"/>
<path d="M115.3 567.6h28.6v5.00h-28.6z" fill="#0c3c78"/>
<path d="M143.9 567.6h28.6v5.00h-28.6zM143.9 627.6h28.6v5.00h-28.6zM86.7 717.5h28.6v5.00h-28.6zM143.9 952.5h28.6v5.00h-28.6z" fill="#3c90c0"/>
<path d="M172.5 567.6h28.6v5.00h-28.6zM201.1 572.6h28.6v5.00h-28.6zM201.1 577.6h28.6v5.00h-28.6zM172.5 587.6h28.6v5.00h-28.6zM201.1 587.6h28.6v5.00h-28.6zM315.4 592.6h28.6v5.00h-28.6zM172.5 617.6h28.6v5.00h-28.6zM172.5 672.6h28.6v5.00h-28.6zM315.4 732.5h28.6v5.00h-28.6zM315.4 762.5h28.6v5.00h-28.6zM201.1 822.5h28.6v5.00h-28.6zM229.7 822.5h28.6v5.00h-28.6zM344.0 827.5h28.6v5.00h-28.6zM286.8 897.5h28.6v5.00h-28.6zM201.1 1077.4h28.6v5.00h-28.6zM229.7 1092.4h28.6v5.00h-28.6zM229.7 1097.4h28.6v5.00h-28.6zM315.4 1112.4h28.6v5.00h-28.6z" fill="#f6f0f0"/>
<path d="M229.7 567.6h28.6v5.00h-28.6zM229.7 607.6h28.6v5.00h-28.6zM172.5 677.6h28.6v5.00h-28.6zM172.5 682.6h28.6v5.00h-28.6zM172.5 697.6h28.6v5.00h-28.6zM172.5 727.5h28.6v5.00h-28.6zM172.5 742.5h28.6v5.00h-28.6zM172.5 752.5h28.6v5.00h-28.6zM229.7 752.5h28.6v5.00h-28.6zM172.5 762.5h28.6v5.00h-28.6zM172.5 767.5h28.6v5.00h-28.6zM286.8 792.5h28.6v5.00h-28.6zM229.7 827.5h28.6v5.00h-28.6zM229.7 832.5h28.6v5.00h-28.6zM229.7 907.5h28.6v5.00h-28.6zM172.5 912.5h28.6v5.00h-28.6zM201.1 917.5h28.6v5.00h-28.6zM229.7 917.5h28.6v5.00h-28.6zM286.8 917.5h28.6v5.00h-28.6zM229.7 927.5h28.6v5.00h-28.6zM201.1 932.5h28.6v5.00h-28.6zM172.5 937.5h28.6v5.00h-28.6zM229.7 937.5h28.6v5.00h-28.6zM201.1 947.5h28.6v5.00h-28.6zM229.7 957.5h28.6v5.00h-28.6zM229.7 972.5h28.6v5.00h-28.6zM172.5 982.4h28.6v5.00h-28.6zM315.4 997.4h28.6v5.00h-28.6zM229.7 1052.4h28.6v5.00h-28.6zM315.4 1087.4h28.6v5.00h-28.6zM201.1 1112.4h28.6v5.00h-28.6z" fill="#f0f0f6"/>
<path d="M315.4 567.6h28.6v5.00h-28.6zM286.8 577.6h28.6v5.00h-28.6zM286.8 617.6h28.6v5.00h-28.6zM372.6 617.6h28.6v5.00h-28.6zM315.4 622.6h28.6v5.00h-28.6zM372.6 622.6h28.6v5.00h-28.6zM286.8 707.5h28.6v5.00h-28.6zM344.0 902.5h28.6v5.00h-28.6zM344.0 922.5h28.6v5.00h-28.6zM258.2 1012.4h28.6v5.00h-28.6zM372.6 1097.4h28.6v5.00h-28.6z" fill="#f6c6a8"/>
<path d="M372.6 567.6h28.6v5.00h-28.6zM201.1 622.6h28.6v5.00h-28.6zM201.1 627.6h28.6v5.00h-28.6zM201.1 632.6h28.6v5.00h-28.6zM201.1 637.6h28.6v5.00h-28.6zM315.4 702.5h28.6v5.00h-28.6zM315.4 707.5h28.6v5.00h-28.6zM315.4 717.5h28.6v5.00h-28.6zM201.1 732.5h28.6v5.00h-28.6zM315.4 767.5h28.6v5.00h-28.6zM258.2 772.5h28.6v5.00h-28.6zM229.7 777.5h28.6v5.00h-28.6zM229.7 782.5h28.6v5.00h-28.6zM258.2 782.5h28.6v5.00h-28.6zM315.4 782.5h28.6v5.00h-28.6zM229.7 787.5h28.6v5.00h-28.6zM344.0 787.5h28.6v5.00h-28.6zM258.2 792.5h28.6v5.00h-28.6zM286.8 797.5h28.6v5.00h-28.6zM286.8 812.5h28.6v5.00h-28.6zM344.0 812.5h28.6v5.00h-28.6zM258.2 827.5h28.6v5.00h-28.6zM315.4 832.5h28.6v5.00h-28.6zM344.0 837.5h28.6v5.00h-28.6zM229.7 842.5h28.6v5.00h-28.6zM229.7 852.5h28.6v5.00h-28.6zM229.7 857.5h28.6v5.00h-28.6zM344.0 857.5h28.6v5.00h-28.6zM229.7 862.5h28.6v5.00h-28.6zM344.0 862.5h28.6v5.00h-28.6zM315.4 867.5h28.6v5.00h-28.6zM229.7 872.5h28.6v5.00h-28.6zM258.2 872.5h28.6v5.00h-28.6zM315.4 872.5h28.6v5.00h-28.6zM286.8 967.5h28.6v5.00h-28.6zM315.4 1002.4h28.6v5.00h-28.6zM315.4 1017.4h28.6v5.00h-28.6zM315.4 1022.4h28.6v5.00h-28.6zM286.8 1097.4h28.6v5.00h-28.6z" fill="#fcd8c6"/>
<path d="M401.2 567.6h28.6v5.00h-28.6zM258.2 587.6h28.6v5.00h-28.6zM286.8 587.6h28.6v5.00h-28.6zM344.0 617.6h28.6v5.00h-28.6zM315.4 632.6h28.6v5.00h-28.6zM344.0 642.6h28.6v5.00h-28.6zM401.2 692.6h28.6v5.00h-28.6zM372.6 717.5h28.6v5.00h-28.6zM372.6 752.5h28.6v5.00h-28.6zM344.0 757.5h28.6v5.00h-28.6zM315.4 877.5h28.6v5.00h-28.6zM372.6 892.5h28.6v5.00h-28.6zM344.0 962.5h28.6v5.00h-28.6zM372.6 1027.4h28.6v5.00h-28.6zM344.0 1092.4h28.6v5.00h-28.6z" fill="#ea9072"/>
<path d="M115.3 572.6h28.6v5.00h-28.6zM86.7 622.6h28.6v5.00h-28.6zM86.7 667.6h28.6v5.00h-28.6zM143.9 672.6h28.6v5.00h-28.6zM143.9 722.5h28.6v5.00h-28.6zM115.3 732.5h28.6v5.00h-28.6zM86.7 772.5h28.6v5.00h-28.6zM143.9 982.4h28.6v5.00h-28.6zM143.9 1017.4h28.6v5.00h-28.6zM86.7 1072.4h28.6v5.00h-28.6z" fill="#246cae"/>
<path d="M143.9 572.6h28.6v5.00h-28.6zM115.3 582.6h28.6v5.00h-28.6zM115.3 592.6h28.6v5.00h-28.6zM143.9 727.5h28.6v5.00h-28.6zM143.9 1037.4h28.6v5.00h-28.6zM86.7 1042.4h28.6v5.00h-28.6zM86.7 1052.4h28.6v5.00h-28.6z" fill="#2a72ae"/>
<path d="M229.7 572.6h28.6v5.00h-28.6zM172.5 722.5h28.6v5.00h-28.6zM172.5 737.5h28.6v5.00h-28.6zM172.5 757.5h28.6v5.00h-28.6zM229.7 757.5h28.6v5.00h-28.6zM229.7 762.5h28.6v5.00h-28.6zM229.7 767.5h28.6v5.00h-28.6zM201.1 852.5h28.6v5.00h-28.6zM201.1 857.5h28.6v5.00h-28.6zM201.1 862.5h28.6v5.00h-28.6zM172.5 917.5h28.6v5.00h-28.6zM286.8 922.5h28.6v5.00h-28.6zM172.5 927.5h28.6v5.00h-28.6zM201.1 927.5h28.6v5.00h-28.6zM201.1 937.5h28.6v5.00h-28.6zM372.6 982.4h28.6v5.00h-28.6zM172.5 987.4h28.6v5.00h-28.6zM201.1 997.4h28.6v5.00h-28.6zM201.1 1007.4h28.6v5.00h-28.6zM315.4 1067.4h28.6v5.00h-28.6zM172.5 1072.4h28.6v5.00h-28.6zM201.1 1092.4h28.6v5.00h-28.6zM201.1 1097.4h28.6v5.00h-28.6z" fill="#eaf0f0"/>
<path d="M258.2 572.6h28.6v5.00h-28.6zM258.2 582.6h28.6v5.00h-28.6zM286.8 592.6h28.6v5.00h-28.6zM258.2 652.6h28.6v5.00h-28.6zM258.2 667.6h28.6v5.00h-28.6zM401.2 762.5h28.6v5.00h-28.6zM372.6 947.5h28.6v5.00h-28.6zM344.0 972.5h28.6v5.00h-28.6zM258.2 1092.4h28.6v5.00h-28.6zM258.2 1097.4h28.6v5.00h-28.6zM258.2 1102.4h28.6v5.00h-28.6z" fill="#f0a88a"/>
<path d="M286.8 572.6h28.6v5.00h-28.6zM286.8 622.6h28.6v5.00h-28.6zM315.4 627.6h28.6v5.00h-28.6zM372.6 637.6h28.6v5.00h-28.6zM315.4 647.6h28.6v5.00h-28.6zM286.8 652.6h28.6v5.00h-28.6zM315.4 652.6h28.6v5.00h-28.6zM286.8 677.6h28.6v5.00h-28.6zM286.8 692.6h28.6v5.00h-28.6zM372.6 692.6h28.6v5.00h-28.6zM344.0 702.5h28.6v5.00h-28.6zM344.0 707.5h28.6v5.00h-28.6zM258.2 717.5h28.6v5.00h-28.6zM286.8 737.5h28.6v5.00h-28.6zM286.8 742.5h28.6v5.00h-28.6zM286.8 837.5h28.6v5.00h-28.6zM258.2 897.5h28.6v5.00h-28.6zM258.2 997.4h28.6v5.00h-28.6zM344.0 997.4h28.6v5.00h-28.6zM258.2 1002.4h28.6v5.00h-28.6zM286.8 1007.4h28.6v5.00h-28.6zM372.6 1107.4h28.6v5.00h-28.6z" fill="#f6c0a8"/>
<path d="M315.4 572.6h28.6v5.00h-28.6zM258.2 892.5h28.6v5.00h-28.6zM258.2 917.5h28.6v5.00h-28.6z" fill="#f6ccae"/>
<path d="M344.0 572.6h28.6v5.00h-28.6zM401.2 587.6h28.6v5.00h-28.6zM315.4 602.6h28.6v5.00h-28.6zM258.2 617.6h28.6v5.00h-28.6zM258.2 627.6h28.6v5.00h-28.6zM344.0 627.6h28.6v5.00h-28.6zM258.2 632.6h28.6v5.00h-28.6zM401.2 632.6h28.6v5.00h-28.6zM258.2 642.6h28.6v5.00h-28.6zM344.0 692.6h28.6v5.00h-28.6zM401.2 752.5h28.6v5.00h-28.6zM372.6 777.5h28.6v5.00h-28.6zM372.6 1022.4h28.6v5.00h-28.6zM258.2 1087.4h28.6v5.00h-28.6z" fill="#f09c78"/>
<path d="M372.6 572.6h28.6v5.00h-28.6zM286.8 607.6h28.6v5.00h-28.6zM286.8 612.6h28.6v5.00h-28.6zM286.8 632.6h28.6v5.00h-28.6zM286.8 657.6h28.6v5.00h-28.6zM258.2 662.6h28.6v5.00h-28.6zM372.6 667.6h28.6v5.00h-28.6zM286.8 672.6h28.6v5.00h-28.6zM372.6 672.6h28.6v5.00h-28.6zM258.2 682.6h28.6v5.00h-28.6zM286.8 682.6h28.6v5.00h-28.6zM372.6 682.6h28.6v5.00h-28.6zM286.8 712.5h28.6v5.00h-28.6zM401.2 747.5h28.6v5.00h-28.6zM286.8 877.5h28.6v5.00h-28.6zM258.2 902.5h28.6v5.00h-28.6zM258.2 937.5h28.6v5.00h-28.6zM344.0 952.5h28.6v5.00h-28.6zM315.4 972.5h28.6v5.00h-28.6zM344.0 987.4h28.6v5.00h-28.6zM344.0 1002.4h28.6v5.00h-28.6zM344.0 1037.4h28.6v5.00h-28.6zM258.2 1052.4h28.6v5.00h-28.6zM258.2 1077.4h28.6v5.00h-28.6z" fill="#f6b496"/>
<path d="M401.2 572.6h28.6v5.00h-28.6zM372.6 862.5h28.6v5.00h-28.6z" fill="#d86c5a"/>
<path d="M86.7 577.6h28.6v5.00h-28.6zM115.3 822.5h28.6v5.00h-28.6zM115.3 827.5h28.6v5.00h-28.6zM172.5 867.5h28.6v5.00h-28.6zM172.5 877.5h28.6v5.00h-28.6zM115.3 987.4h28.6v5.00h-28.6z" fill="#8ac0d8"/>
<path d="M115.3 577.6h28.6v5.00h-28.6z" fill="#2466ae"/>
<path d="M143.9 577.6h28.6v5.00h-28.6zM115.3 587.6h28.6v5.00h-28.6zM115.3 642.6h28.6v5.00h-28.6zM86.7 702.5h28.6v5.00h-28.6zM115.3 867.5h28.6v5.00h-28.6z" fill="#307eba"/>
<path d="M172.5 577.6h28.6v5.00h-28.6zM201.1 592.6h28.6v5.00h-28.6zM172.5 597.6h28.6v5.00h-28.6zM172.5 667.6h28.6v5.00h-28.6zM172.5 717.5h28.6v5.00h-28.6zM172.5 747.5h28.6v5.00h-28.6zM286.8 892.5h28.6v5.00h-28.6zM229.7 967.5h28.6v5.00h-28.6zM229.7 1042.4h28.6v5.00h-28.6zM229.7 1057.4h28.6v5.00h-28.6zM201.1 1072.4h28.6v5.00h-28.6zM172.5 1077.4h28.6v5.00h-28.6zM315.4 1082.4h28.6v5.00h-28.6zM286.8 1087.4h28.6v5.00h-28.6zM286.8 1107.4h28.6v5.00h-28.6z" fill="#f6f6f6"/>
<path d="M229.7 577.6h28.6v5.00h-28.6zM172.5 687.6h28.6v5.00h-28.6zM229.7 922.5h28.6v5.00h-28.6zM229.7 952.5h28.6v5.00h-28.6zM315.4 992.4h28.6v5.00h-28.6zM315.4 1077.4h28.6v5.00h-28.6zM172.5 1082.4h28.6v5.00h-28.6zM286.8 1112.4h28.6v5.00h-28.6z" fill="#f0f6f6"/>
<path d="M258.2 577.6h28.6v5.00h-28.6zM401.2 612.6h28.6v5.00h-28.6zM286.8 702.5h28.6v5.00h-28.6zM286.8 732.5h28.6v5.00h-28.6zM258.2 762.5h28.6v5.00h-28.6zM258.2 907.5h28.6v5.00h-28.6zM258.2 1057.4h28.6v5.00h-28.6z" fill="#f6b49c"/>
<path d="M344.0 577.6h28.6v5.00h-28.6zM401.2 592.6h28.6v5.00h-28.6zM401.2 597.6h28.6v5.00h-28.6zM344.0 602.6h28.6v5.00h-28.6zM344.0 622.6h28.6v5.00h-28.6zM344.0 637.6h28.6v5.00h-28.6zM344.0 752.5h28.6v5.00h-28.6zM372.6 822.5h28.6v5.00h-28.6zM258.2 1082.4h28.6v5.00h-28.6z" fill="#ea9678"/>
<path d="M372.6 577.6h28.6v5.00h-28.6zM372.6 587.6h28.6v5.00h-28.6zM372.6 647.6h28.6v5.00h-28.6zM315.4 737.5h28.6v5.00h-28.6zM315.4 742.5h28.6v5.00h-28.6zM315.4 752.5h28.6v5.00h-28.6zM315.4 757.5h28.6v5.00h-28.6zM286.8 777.5h28.6v5.00h-28.6zM344.0 782.5h28.6v5.00h-28.6zM315.4 787.5h28.6v5.00h-28.6zM315.4 792.5h28.6v5.00h-28.6zM258.2 797.5h28.6v5.00h-28.6zM229.7 802.5h28.6v5.00h-28.6zM315.4 807.5h28.6v5.00h-28.6zM258.2 812.5h28.6v5.00h-28.6zM315.4 812.5h28.6v5.00h-28.6zM286.8 842.5h28.6v5.00h-28.6zM344.0 842.5h28.6v5.00h-28.6zM344.0 847.5h28.6v5.00h-28.6zM258.2 862.5h28.6v5.00h-28.6zM286.8 952.5h28.6v5.00h-28.6zM315.4 977.5h28.6v5.00h-28.6zM286.8 1002.4h28.6v5.00h-28.6zM258.2 1042.4h28.6v5.00h-28.6zM372.6 1087.4h28.6v5.00h-28.6zM286.8 1102.4h28.6v5.00h-28.6z" fill="#fcd2c0"/>
<path d="M401.2 577.6h28.6v5.00h-28.6zM344.0 582.6h28.6v5.00h-28.6zM401.2 717.5h28.6v5.00h-28.6zM372.6 987.4h28.6v5.00h-28.6zM401.2 1057.4h28.6v5.00h-28.6zM401.2 1062.4h28.6v5.00h-28.6z" fill="#cc4e42"/>
<path d="M86.7 582.6h28.6v5.00h-28.6z" fill="#90c0d8"/>
<path d="M172.5 582.6h28.6v5.00h-28.6zM201.1 582.6h28.6v5.00h-28.6zM201.1 607.6h28.6v5.00h-28.6zM229.7 667.6h28.6v5.00h-28.6zM229.7 687.6h28.6v5.00h-28.6zM172.5 692.6h28.6v5.00h-28.6zM201.1 827.5h28.6v5.00h-28.6zM201.1 877.5h28.6v5.00h-28.6zM229.7 932.5h28.6v5.00h-28.6zM315.4 952.5h28.6v5.00h-28.6zM229.7 982.4h28.6v5.00h-28.6zM229.7 992.4h28.6v5.00h-28.6zM229.7 1002.4h28.6v5.00h-28.6zM315.4 1047.4h28.6v5.00h-28.6zM201.1 1057.4h28.6v5.00h-28.6zM315.4 1062.4h28.6v5.00h-28.6zM201.1 1082.4h28.6v5.00h-28.6zM229.7 1102.4h28.6v5.00h-28.6zM315.4 1107.4h28.6v5.00h-28.6z" fill="#f6f0ea"/>
<path d="M229.7 582.6h28.6v5.00h-28.6zM201.1 602.6h28.6v5.00h-28.6zM229.7 727.5h28.6v5.00h-28.6zM229.7 732.5h28.6v5.00h-28.6zM229.7 737.5h28.6v5.00h-28.6zM201.1 807.5h28.6v5.00h-28.6zM172.5 887.5h28.6v5.00h-28.6zM172.5 962.5h28.6v5.00h-28.6zM201.1 987.4h28.6v5.00h-28.6zM229.7 1077.4h28.6v5.00h-28.6zM229.7 1087.4h28.6v5.00h-28.6zM229.7 1107.4h28.6v5.00h-28.6z" fill="#cce4f0"/>
<path d="M372.6 582.6h28.6v5.00h-28.6zM201.1 642.6h28.6v5.00h-28.6zM201.1 657.6h28.6v5.00h-28.6zM258.2 877.5h28.6v5.00h-28.6zM286.8 927.5h28.6v5.00h-28.6zM315.4 932.5h28.6v5.00h-28.6zM172.5 1102.4h28.6v5.00h-28.6zM172.5 1112.4h28.6v5.00h-28.6z" fill="#fcded2"/>
<path d="M401.2 582.6h28.6v5.00h-28.6zM401.2 617.6h28.6v5.00h-28.6zM344.0 632.6h28.6v5.00h-28.6zM401.2 642.6h28.6v5.00h-28.6zM344.0 677.6h28.6v5.00h-28.6zM401.2 757.5h28.6v5.00h-28.6zM372.6 812.5h28.6v5.00h-28.6zM372.6 817.5h28.6v5.00h-28.6zM286.8 887.5h28.6v5.00h-28.6zM344.0 967.5h28.6v5.00h-28.6zM372.6 1052.4h28.6v5.00h-28.6z" fill="#f09c7e"/>
<path d="M86.7 587.6h28.6v5.00h-28.6z" fill="#84bad8"/>
<path d="M143.9 587.6h28.6v5.00h-28.6zM115.3 597.6h28.6v5.00h-28.6zM86.7 602.6h28.6v5.00h-28.6zM86.7 607.6h28.6v5.00h-28.6zM115.3 677.6h28.6v5.00h-28.6zM115.3 697.6h28.6v5.00h-28.6zM115.3 702.5h28.6v5.00h-28.6zM115.3 717.5h28.6v5.00h-28.6zM115.3 722.5h28.6v5.00h-28.6zM86.7 832.5h28.6v5.00h-28.6zM143.9 872.5h28.6v5.00h-28.6zM86.7 887.5h28.6v5.00h-28.6zM143.9 887.5h28.6v5.00h-28.6zM115.3 892.5h28.6v5.00h-28.6zM115.3 927.5h28.6v5.00h-28.6zM143.9 932.5h28.6v5.00h-28.6zM86.7 957.5h28.6v5.00h-28.6zM115.3 967.5h28.6v5.00h-28.6zM86.7 1092.4h28.6v5.00h-28.6zM115.3 1092.4h28.6v5.00h-28.6zM143.9 1112.4h28.6v5.00h-28.6z" fill="#307eb4"/>
<path d="M229.7 587.6h28.6v5.00h-28.6zM172.5 662.6h28.6v5.00h-28.6zM172.5 702.5h28.6v5.00h-28.6zM201.1 742.5h28.6v5.00h-28.6zM229.7 742.5h28.6v5.00h-28.6zM201.1 747.5h28.6v5.00h-28.6zM201.1 752.5h28.6v5.00h-28.6zM201.1 762.5h28.6v5.00h-28.6zM201.1 767.5h28.6v5.00h-28.6zM201.1 812.5h28.6v5.00h-28.6zM172.5 882.5h28.6v5.00h-28.6zM229.7 897.5h28.6v5.00h-28.6zM201.1 907.5h28.6v5.00h-28.6zM201.1 982.4h28.6v5.00h-28.6zM315.4 1092.4h28.6v5.00h-28.6zM229.7 1112.4h28.6v5.00h-28.6z" fill="#d2e4f0"/>
<path d="M315.4 587.6h28.6v5.00h-28.6zM201.1 652.6h28.6v5.00h-28.6zM201.1 682.6h28.6v5.00h-28.6zM201.1 692.6h28.6v5.00h-28.6zM315.4 712.5h28.6v5.00h-28.6zM315.4 722.5h28.6v5.00h-28.6zM315.4 747.5h28.6v5.00h-28.6zM286.8 772.5h28.6v5.00h-28.6zM229.7 797.5h28.6v5.00h-28.6zM286.8 802.5h28.6v5.00h-28.6zM344.0 802.5h28.6v5.00h-28.6zM344.0 807.5h28.6v5.00h-28.6zM286.8 817.5h28.6v5.00h-28.6zM344.0 817.5h28.6v5.00h-28.6zM344.0 822.5h28.6v5.00h-28.6zM344.0 832.5h28.6v5.00h-28.6zM229.7 847.5h28.6v5.00h-28.6zM258.2 852.5h28.6v5.00h-28.6zM344.0 852.5h28.6v5.00h-28.6zM258.2 857.5h28.6v5.00h-28.6zM286.8 857.5h28.6v5.00h-28.6zM286.8 862.5h28.6v5.00h-28.6zM229.7 867.5h28.6v5.00h-28.6zM286.8 867.5h28.6v5.00h-28.6zM229.7 887.5h28.6v5.00h-28.6zM258.2 942.5h28.6v5.00h-28.6zM315.4 942.5h28.6v5.00h-28.6zM315.4 982.4h28.6v5.00h-28.6zM229.7 1037.4h28.6v5.00h-28.6zM229.7 1062.4h28.6v5.00h-28.6zM229.7 1067.4h28.6v5.00h-28.6zM286.8 1072.4h28.6v5.00h-28.6zM172.5 1092.4h28.6v5.00h-28.6z" fill="#fcdecc"/>
<path d="M344.0 587.6h28.6v5.00h-28.6zM401.2 742.5h28.6v5.00h-28.6zM344.0 977.5h28.6v5.00h-28.6z" fill="#d8664e"/>
<path d="M86.7 592.6h28.6v5.00h-28.6zM143.9 597.6h28.6v5.00h-28.6zM143.9 602.6h28.6v5.00h-28.6zM143.9 647.6h28.6v5.00h-28.6zM86.7 742.5h28.6v5.00h-28.6zM143.9 817.5h28.6v5.00h-28.6zM115.3 837.5h28.6v5.00h-28.6zM143.9 837.5h28.6v5.00h-28.6zM143.9 907.5h28.6v5.00h-28.6zM86.7 912.5h28.6v5.00h-28.6zM86.7 947.5h28.6v5.00h-28.6zM115.3 1047.4h28.6v5.00h-28.6zM115.3 1067.4h28.6v5.00h-28.6z" fill="#4290c0"/>
<path d="M143.9 592.6h28.6v5.00h-28.6zM143.9 632.6h28.6v5.00h-28.6zM86.7 642.6h28.6v5.00h-28.6zM143.9 642.6h28.6v5.00h-28.6zM115.3 652.6h28.6v5.00h-28.6zM115.3 657.6h28.6v5.00h-28.6zM143.9 662.6h28.6v5.00h-28.6zM143.9 682.6h28.6v5.00h-28.6zM86.7 697.6h28.6v5.00h-28.6zM143.9 697.6h28.6v5.00h-28.6zM86.7 707.5h28.6v5.00h-28.6zM86.7 722.5h28.6v5.00h-28.6zM86.7 727.5h28.6v5.00h-28.6zM86.7 732.5h28.6v5.00h-28.6zM143.9 807.5h28.6v5.00h-28.6zM143.9 812.5h28.6v5.00h-28.6zM86.7 827.5h28.6v5.00h-28.6zM86.7 847.5h28.6v5.00h-28.6zM86.7 857.5h28.6v5.00h-28.6zM86.7 862.5h28.6v5.00h-28.6zM143.9 877.5h28.6v5.00h-28.6zM115.3 882.5h28.6v5.00h-28.6zM115.3 887.5h28.6v5.00h-28.6zM115.3 902.5h28.6v5.00h-28.6zM115.3 907.5h28.6v5.00h-28.6zM115.3 917.5h28.6v5.00h-28.6zM115.3 922.5h28.6v5.00h-28.6zM115.3 932.5h28.6v5.00h-28.6zM115.3 942.5h28.6v5.00h-28.6zM143.9 942.5h28.6v5.00h-28.6zM86.7 952.5h28.6v5.00h-28.6zM115.3 957.5h28.6v5.00h-28.6zM86.7 962.5h28.6v5.00h-28.6zM115.3 962.5h28.6v5.00h-28.6zM143.9 962.5h28.6v5.00h-28.6zM143.9 1087.4h28.6v5.00h-28.6z" fill="#3684ba"/>
<path d="M172.5 592.6h28.6v5.00h-28.6zM172.5 607.6h28.6v5.00h-28.6zM172.5 612.6h28.6v5.00h-28.6zM201.1 612.6h28.6v5.00h-28.6zM229.7 612.6h28.6v5.00h-28.6zM229.7 617.6h28.6v5.00h-28.6zM172.5 632.6h28.6v5.00h-28.6zM372.6 632.6h28.6v5.00h-28.6zM172.5 637.6h28.6v5.00h-28.6zM172.5 642.6h28.6v5.00h-28.6zM172.5 647.6h28.6v5.00h-28.6zM172.5 657.6h28.6v5.00h-28.6zM229.7 672.6h28.6v5.00h-28.6zM229.7 677.6h28.6v5.00h-28.6zM229.7 707.5h28.6v5.00h-28.6zM229.7 712.5h28.6v5.00h-28.6zM201.1 782.5h28.6v5.00h-28.6zM201.1 792.5h28.6v5.00h-28.6zM315.4 857.5h28.6v5.00h-28.6zM201.1 882.5h28.6v5.00h-28.6zM201.1 887.5h28.6v5.00h-28.6zM286.8 912.5h28.6v5.00h-28.6zM201.1 942.5h28.6v5.00h-28.6zM229.7 987.4h28.6v5.00h-28.6zM229.7 1007.4h28.6v5.00h-28.6zM229.7 1012.4h28.6v5.00h-28.6zM201.1 1017.4h28.6v5.00h-28.6zM201.1 1032.4h28.6v5.00h-28.6zM172.5 1037.4h28.6v5.00h-28.6zM315.4 1042.4h28.6v5.00h-28.6zM172.5 1057.4h28.6v5.00h-28.6zM315.4 1057.4h28.6v5.00h-28.6zM172.5 1062.4h28.6v5.00h-28.6zM172.5 1067.4h28.6v5.00h-28.6zM315.4 1102.4h28.6v5.00h-28.6z" fill="#f6eae4"/>
<path d="M229.7 592.6h28.6v5.00h-28.6zM172.5 782.5h28.6v5.00h-28.6z" fill="#aed2e4"/>
<path d="M258.2 592.6h28.6v5.00h-28.6zM344.0 597.6h28.6v5.00h-28.6zM401.2 657.6h28.6v5.00h-28.6zM344.0 662.6h28.6v5.00h-28.6zM401.2 662.6h28.6v5.00h-28.6zM372.6 702.5h28.6v5.00h-28.6zM372.6 727.5h28.6v5.00h-28.6zM372.6 867.5h28.6v5.00h-28.6z" fill="#e4846c"/>
<path d="M344.0 592.6h28.6v5.00h-28.6zM401.2 707.5h28.6v5.00h-28.6z" fill="#d25448"/>
<path d="M372.6 592.6h28.6v5.00h-28.6zM172.5 602.6h28.6v5.00h-28.6zM315.4 822.5h28.6v5.00h-28.6zM229.7 837.5h28.6v5.00h-28.6zM315.4 937.5h28.6v5.00h-28.6zM286.8 1047.4h28.6v5.00h-28.6z" fill="#f6ded2"/>
<path d="M86.7 597.6h28.6v5.00h-28.6zM143.9 792.5h28.6v5.00h-28.6zM115.3 852.5h28.6v5.00h-28.6zM143.9 852.5h28.6v5.00h-28.6zM143.9 892.5h28.6v5.00h-28.6zM86.7 902.5h28.6v5.00h-28.6z" fill="#4896c6"/>
<path d="M201.1 597.6h28.6v5.00h-28.6zM229.7 602.6h28.6v5.00h-28.6zM315.4 772.5h28.6v5.00h-28.6zM315.4 777.5h28.6v5.00h-28.6zM201.1 872.5h28.6v5.00h-28.6zM229.7 962.5h28.6v5.00h-28.6zM372.6 977.5h28.6v5.00h-28.6z" fill="#f6f6f0"/>
<path d="M229.7 597.6h28.6v5.00h-28.6z" fill="#a8d2e4"/>
<path d="M315.4 597.6h28.6v5.00h-28.6zM344.0 732.5h28.6v5.00h-28.6zM286.8 787.5h28.6v5.00h-28.6zM344.0 797.5h28.6v5.00h-28.6zM315.4 817.5h28.6v5.00h-28.6zM258.2 832.5h28.6v5.00h-28.6zM258.2 837.5h28.6v5.00h-28.6zM315.4 837.5h28.6v5.00h-28.6zM258.2 847.5h28.6v5.00h-28.6zM258.2 867.5h28.6v5.00h-28.6zM229.7 882.5h28.6v5.00h-28.6zM286.8 962.5h28.6v5.00h-28.6zM315.4 1007.4h28.6v5.00h-28.6zM229.7 1017.4h28.6v5.00h-28.6zM229.7 1022.4h28.6v5.00h-28.6zM315.4 1027.4h28.6v5.00h-28.6zM315.4 1032.4h28.6v5.00h-28.6z" fill="#fcd8c0"/>
<path d="M372.6 597.6h28.6v5.00h-28.6zM286.8 602.6h28.6v5.00h-28.6zM286.8 627.6h28.6v5.00h-28.6zM286.8 637.6h28.6v5.00h-28.6zM286.8 647.6h28.6v5.00h-28.6zM315.4 662.6h28.6v5.00h-28.6zM315.4 672.6h28.6v5.00h-28.6zM258.2 677.6h28.6v5.00h-28.6zM372.6 677.6h28.6v5.00h-28.6zM258.2 692.6h28.6v5.00h-28.6zM286.8 697.6h28.6v5.00h-28.6zM372.6 697.6h28.6v5.00h-28.6zM258.2 702.5h28.6v5.00h-28.6zM258.2 707.5h28.6v5.00h-28.6zM344.0 747.5h28.6v5.00h-28.6zM286.8 832.5h28.6v5.00h-28.6zM286.8 872.5h28.6v5.00h-28.6zM344.0 907.5h28.6v5.00h-28.6zM372.6 922.5h28.6v5.00h-28.6zM344.0 947.5h28.6v5.00h-28.6zM372.6 962.5h28.6v5.00h-28.6zM258.2 987.4h28.6v5.00h-28.6zM258.2 992.4h28.6v5.00h-28.6zM344.0 1007.4h28.6v5.00h-28.6zM344.0 1027.4h28.6v5.00h-28.6zM258.2 1047.4h28.6v5.00h-28.6z" fill="#f6ba9c"/>
<path d="M258.2 602.6h28.6v5.00h-28.6zM401.2 627.6h28.6v5.00h-28.6zM258.2 637.6h28.6v5.00h-28.6zM344.0 682.6h28.6v5.00h-28.6zM286.8 757.5h28.6v5.00h-28.6zM286.8 762.5h28.6v5.00h-28.6zM372.6 772.5h28.6v5.00h-28.6zM372.6 787.5h28.6v5.00h-28.6zM372.6 792.5h28.6v5.00h-28.6zM344.0 927.5h28.6v5.00h-28.6zM344.0 932.5h28.6v5.00h-28.6zM372.6 1047.4h28.6v5.00h-28.6zM344.0 1052.4h28.6v5.00h-28.6zM344.0 1057.4h28.6v5.00h-28.6zM258.2 1112.4h28.6v5.00h-28.6z" fill="#f0a27e"/>
<path d="M372.6 602.6h28.6v5.00h-28.6zM401.2 622.6h28.6v5.00h-28.6zM401.2 637.6h28.6v5.00h-28.6zM401.2 687.6h28.6v5.00h-28.6zM372.6 712.5h28.6v5.00h-28.6zM372.6 722.5h28.6v5.00h-28.6zM372.6 767.5h28.6v5.00h-28.6zM372.6 887.5h28.6v5.00h-28.6zM372.6 897.5h28.6v5.00h-28.6z" fill="#ea8a6c"/>
<path d="M115.3 607.6h28.6v5.00h-28.6zM115.3 612.6h28.6v5.00h-28.6zM86.7 632.6h28.6v5.00h-28.6zM143.9 677.6h28.6v5.00h-28.6zM115.3 687.6h28.6v5.00h-28.6zM143.9 712.5h28.6v5.00h-28.6zM86.7 872.5h28.6v5.00h-28.6zM86.7 877.5h28.6v5.00h-28.6zM115.3 912.5h28.6v5.00h-28.6zM143.9 977.5h28.6v5.00h-28.6zM86.7 982.4h28.6v5.00h-28.6zM143.9 997.4h28.6v5.00h-28.6zM143.9 1012.4h28.6v5.00h-28.6z" fill="#2a72b4"/>
<path d="M143.9 607.6h28.6v5.00h-28.6zM143.9 612.6h28.6v5.00h-28.6zM143.9 617.6h28.6v5.00h-28.6zM143.9 657.6h28.6v5.00h-28.6zM86.7 662.6h28.6v5.00h-28.6zM115.3 662.6h28.6v5.00h-28.6zM143.9 667.6h28.6v5.00h-28.6zM86.7 682.6h28.6v5.00h-28.6zM86.7 687.6h28.6v5.00h-28.6zM143.9 687.6h28.6v5.00h-28.6zM143.9 702.5h28.6v5.00h-28.6zM143.9 707.5h28.6v5.00h-28.6zM115.3 877.5h28.6v5.00h-28.6zM143.9 967.5h28.6v5.00h-28.6zM86.7 992.4h28.6v5.00h-28.6zM143.9 1047.4h28.6v5.00h-28.6zM143.9 1057.4h28.6v5.00h-28.6zM115.3 1107.4h28.6v5.00h-28.6zM115.3 1112.4h28.6v5.00h-28.6z" fill="#367eba"/>
<path d="M372.6 607.6h28.6v5.00h-28.6zM258.2 787.5h28.6v5.00h-28.6zM258.2 802.5h28.6v5.00h-28.6zM286.8 807.5h28.6v5.00h-28.6zM344.0 877.5h28.6v5.00h-28.6zM286.8 947.5h28.6v5.00h-28.6zM315.4 957.5h28.6v5.00h-28.6zM315.4 967.5h28.6v5.00h-28.6z" fill="#f6d2ba"/>
<path d="M401.2 607.6h28.6v5.00h-28.6zM172.5 622.6h28.6v5.00h-28.6zM172.5 627.6h28.6v5.00h-28.6zM229.7 632.6h28.6v5.00h-28.6zM172.5 652.6h28.6v5.00h-28.6zM201.1 662.6h28.6v5.00h-28.6zM229.7 662.6h28.6v5.00h-28.6zM201.1 787.5h28.6v5.00h-28.6zM201.1 802.5h28.6v5.00h-28.6zM258.2 887.5h28.6v5.00h-28.6zM229.7 947.5h28.6v5.00h-28.6zM201.1 1022.4h28.6v5.00h-28.6zM201.1 1027.4h28.6v5.00h-28.6zM172.5 1032.4h28.6v5.00h-28.6zM201.1 1037.4h28.6v5.00h-28.6zM201.1 1087.4h28.6v5.00h-28.6z" fill="#f6eade"/>
<path d="M86.7 612.6h28.6v5.00h-28.6zM115.3 622.6h28.6v5.00h-28.6zM86.7 647.6h28.6v5.00h-28.6zM115.3 672.6h28.6v5.00h-28.6zM115.3 692.6h28.6v5.00h-28.6zM143.9 692.6h28.6v5.00h-28.6zM143.9 717.5h28.6v5.00h-28.6zM115.3 737.5h28.6v5.00h-28.6zM86.7 752.5h28.6v5.00h-28.6zM86.7 767.5h28.6v5.00h-28.6zM86.7 837.5h28.6v5.00h-28.6zM143.9 882.5h28.6v5.00h-28.6zM143.9 1002.4h28.6v5.00h-28.6zM143.9 1022.4h28.6v5.00h-28.6zM86.7 1057.4h28.6v5.00h-28.6zM86.7 1067.4h28.6v5.00h-28.6z" fill="#2a78b4"/>
<path d="M344.0 612.6h28.6v5.00h-28.6zM344.0 687.6h28.6v5.00h-28.6zM344.0 1042.4h28.6v5.00h-28.6zM344.0 1062.4h28.6v5.00h-28.6zM344.0 1067.4h28.6v5.00h-28.6zM258.2 1107.4h28.6v5.00h-28.6z" fill="#f0a284"/>
<path d="M86.7 617.6h28.6v5.00h-28.6z" fill="#0c487e"/>
<path d="M201.1 617.6h28.6v5.00h-28.6z" fill="#f6eaea"/>
<path d="M143.9 622.6h28.6v5.00h-28.6zM86.7 652.6h28.6v5.00h-28.6zM143.9 652.6h28.6v5.00h-28.6zM86.7 677.6h28.6v5.00h-28.6zM86.7 712.5h28.6v5.00h-28.6zM143.9 752.5h28.6v5.00h-28.6zM143.9 832.5h28.6v5.00h-28.6zM86.7 852.5h28.6v5.00h-28.6zM115.3 872.5h28.6v5.00h-28.6zM115.3 897.5h28.6v5.00h-28.6zM86.7 907.5h28.6v5.00h-28.6zM86.7 927.5h28.6v5.00h-28.6zM115.3 937.5h28.6v5.00h-28.6zM143.9 947.5h28.6v5.00h-28.6zM115.3 952.5h28.6v5.00h-28.6zM86.7 972.5h28.6v5.00h-28.6zM143.9 972.5h28.6v5.00h-28.6zM86.7 977.5h28.6v5.00h-28.6zM115.3 1062.4h28.6v5.00h-28.6zM143.9 1102.4h28.6v5.00h-28.6z" fill="#3c8aba"/>
<path d="M86.7 627.6h28.6v5.00h-28.6z" fill="#0c427e"/>
<path d="M143.9 637.6h28.6v5.00h-28.6zM86.7 787.5h28.6v5.00h-28.6zM86.7 802.5h28.6v5.00h-28.6zM86.7 822.5h28.6v5.00h-28.6zM86.7 1047.4h28.6v5.00h-28.6zM86.7 1062.4h28.6v5.00h-28.6z" fill="#1e66a8"/>
<path d="M229.7 637.6h28.6v5.00h-28.6zM229.7 657.6h28.6v5.00h-28.6zM201.1 677.6h28.6v5.00h-28.6zM229.7 682.6h28.6v5.00h-28.6zM229.7 692.6h28.6v5.00h-28.6zM201.1 697.6h28.6v5.00h-28.6zM229.7 697.6h28.6v5.00h-28.6zM229.7 717.5h28.6v5.00h-28.6zM201.1 817.5h28.6v5.00h-28.6zM315.4 852.5h28.6v5.00h-28.6zM172.5 902.5h28.6v5.00h-28.6zM286.8 932.5h28.6v5.00h-28.6zM315.4 947.5h28.6v5.00h-28.6zM229.7 977.5h28.6v5.00h-28.6zM229.7 997.4h28.6v5.00h-28.6zM172.5 1017.4h28.6v5.00h-28.6zM172.5 1027.4h28.6v5.00h-28.6zM315.4 1052.4h28.6v5.00h-28.6z" fill="#f6e4de"/>
<path d="M286.8 642.6h28.6v5.00h-28.6zM315.4 642.6h28.6v5.00h-28.6zM315.4 657.6h28.6v5.00h-28.6zM286.8 662.6h28.6v5.00h-28.6zM286.8 667.6h28.6v5.00h-28.6zM315.4 682.6h28.6v5.00h-28.6zM258.2 712.5h28.6v5.00h-28.6zM286.8 722.5h28.6v5.00h-28.6zM258.2 737.5h28.6v5.00h-28.6zM286.8 767.5h28.6v5.00h-28.6zM315.4 887.5h28.6v5.00h-28.6zM344.0 897.5h28.6v5.00h-28.6zM315.4 902.5h28.6v5.00h-28.6zM315.4 907.5h28.6v5.00h-28.6zM258.2 912.5h28.6v5.00h-28.6zM372.6 972.5h28.6v5.00h-28.6zM258.2 982.4h28.6v5.00h-28.6zM344.0 982.4h28.6v5.00h-28.6zM258.2 1032.4h28.6v5.00h-28.6zM258.2 1037.4h28.6v5.00h-28.6zM286.8 1092.4h28.6v5.00h-28.6zM372.6 1102.4h28.6v5.00h-28.6zM372.6 1112.4h28.6v5.00h-28.6z" fill="#f6c0a2"/>
<path d="M201.1 647.6h28.6v5.00h-28.6zM286.8 937.5h28.6v5.00h-28.6zM229.7 942.5h28.6v5.00h-28.6zM172.5 1042.4h28.6v5.00h-28.6zM172.5 1047.4h28.6v5.00h-28.6zM172.5 1087.4h28.6v5.00h-28.6z" fill="#f6e4d2"/>
<path d="M258.2 647.6h28.6v5.00h-28.6zM344.0 647.6h28.6v5.00h-28.6zM372.6 842.5h28.6v5.00h-28.6zM372.6 992.4h28.6v5.00h-28.6zM344.0 1087.4h28.6v5.00h-28.6zM344.0 1107.4h28.6v5.00h-28.6z" fill="#de7860"/>
<path d="M401.2 647.6h28.6v5.00h-28.6zM372.6 762.5h28.6v5.00h-28.6zM372.6 782.5h28.6v5.00h-28.6zM372.6 877.5h28.6v5.00h-28.6zM372.6 902.5h28.6v5.00h-28.6zM372.6 1037.4h28.6v5.00h-28.6zM372.6 1042.4h28.6v5.00h-28.6z" fill="#ea9672"/>
<path d="M344.0 652.6h28.6v5.00h-28.6zM344.0 657.6h28.6v5.00h-28.6zM344.0 672.6h28.6v5.00h-28.6zM344.0 1072.4h28.6v5.00h-28.6zM344.0 1077.4h28.6v5.00h-28.6zM344.0 1112.4h28.6v5.00h-28.6z" fill="#e47e66"/>
<path d="M372.6 662.6h28.6v5.00h-28.6zM344.0 772.5h28.6v5.00h-28.6zM344.0 792.5h28.6v5.00h-28.6zM315.4 802.5h28.6v5.00h-28.6zM286.8 827.5h28.6v5.00h-28.6zM372.6 932.5h28.6v5.00h-28.6zM315.4 1012.4h28.6v5.00h-28.6zM286.8 1022.4h28.6v5.00h-28.6zM286.8 1037.4h28.6v5.00h-28.6z" fill="#f6ccba"/>
<path d="M401.2 667.6h28.6v5.00h-28.6zM401.2 737.5h28.6v5.00h-28.6z" fill="#d86c54"/>
<path d="M401.2 677.6h28.6v5.00h-28.6zM401.2 702.5h28.6v5.00h-28.6zM372.6 1062.4h28.6v5.00h-28.6z" fill="#d2604e"/>
<path d="M401.2 682.6h28.6v5.00h-28.6zM372.6 857.5h28.6v5.00h-28.6z" fill="#d8604e"/>
<path d="M258.2 687.6h28.6v5.00h-28.6zM258.2 747.5h28.6v5.00h-28.6zM258.2 757.5h28.6v5.00h-28.6zM372.6 832.5h28.6v5.00h-28.6zM258.2 932.5h28.6v5.00h-28.6zM344.0 1032.4h28.6v5.00h-28.6z" fill="#f6ae8a"/>
<path d="M401.2 697.6h28.6v5.00h-28.6zM344.0 767.5h28.6v5.00h-28.6zM372.6 872.5h28.6v5.00h-28.6zM344.0 917.5h28.6v5.00h-28.6zM372.6 1077.4h28.6v5.00h-28.6zM344.0 1082.4h28.6v5.00h-28.6z" fill="#e48a6c"/>
<path d="M115.3 707.5h28.6v5.00h-28.6zM143.9 992.4h28.6v5.00h-28.6z" fill="#2a6cae"/>
<path d="M172.5 707.5h28.6v5.00h-28.6zM201.1 712.5h28.6v5.00h-28.6zM201.1 847.5h28.6v5.00h-28.6zM201.1 1062.4h28.6v5.00h-28.6z" fill="#ccdeea"/>
<path d="M172.5 712.5h28.6v5.00h-28.6zM201.1 717.5h28.6v5.00h-28.6zM201.1 837.5h28.6v5.00h-28.6zM229.7 902.5h28.6v5.00h-28.6zM172.5 907.5h28.6v5.00h-28.6zM229.7 912.5h28.6v5.00h-28.6zM172.5 932.5h28.6v5.00h-28.6zM172.5 992.4h28.6v5.00h-28.6zM229.7 1047.4h28.6v5.00h-28.6zM315.4 1072.4h28.6v5.00h-28.6zM201.1 1107.4h28.6v5.00h-28.6z" fill="#e4f0f0"/>
<path d="M401.2 712.5h28.6v5.00h-28.6zM401.2 727.5h28.6v5.00h-28.6zM372.6 747.5h28.6v5.00h-28.6zM372.6 827.5h28.6v5.00h-28.6zM372.6 1057.4h28.6v5.00h-28.6z" fill="#d25a48"/>
<path d="M401.2 722.5h28.6v5.00h-28.6z" fill="#cc4842"/>
<path d="M143.9 732.5h28.6v5.00h-28.6zM86.7 737.5h28.6v5.00h-28.6zM143.9 777.5h28.6v5.00h-28.6zM143.9 797.5h28.6v5.00h-28.6zM115.3 847.5h28.6v5.00h-28.6zM115.3 857.5h28.6v5.00h-28.6zM115.3 862.5h28.6v5.00h-28.6zM115.3 1037.4h28.6v5.00h-28.6z" fill="#60a2cc"/>
<path d="M172.5 732.5h28.6v5.00h-28.6zM201.1 957.5h28.6v5.00h-28.6zM201.1 992.4h28.6v5.00h-28.6zM286.8 1067.4h28.6v5.00h-28.6z" fill="#eaf0f6"/>
<path d="M372.6 732.5h28.6v5.00h-28.6z" fill="#c03c3c"/>
<path d="M372.6 737.5h28.6v5.00h-28.6zM401.2 887.5h28.6v5.00h-28.6zM401.2 1022.4h28.6v5.00h-28.6zM401.2 1042.4h28.6v5.00h-28.6z" fill="#c03636"/>
<path d="M115.3 742.5h28.6v5.00h-28.6zM86.7 1002.4h28.6v5.00h-28.6zM86.7 1077.4h28.6v5.00h-28.6z" fill="#185aa2"/>
<path d="M372.6 742.5h28.6v5.00h-28.6zM401.2 842.5h28.6v5.00h-28.6zM401.2 847.5h28.6v5.00h-28.6zM401.2 1012.4h28.6v5.00h-28.6z" fill="#b41e2a"/>
<path d="M86.7 747.5h28.6v5.00h-28.6zM86.7 762.5h28.6v5.00h-28.6zM86.7 807.5h28.6v5.00h-28.6zM86.7 817.5h28.6v5.00h-28.6zM143.9 937.5h28.6v5.00h-28.6zM86.7 1082.4h28.6v5.00h-28.6z" fill="#185a9c"/>
<path d="M115.3 747.5h28.6v5.00h-28.6zM115.3 752.5h28.6v5.00h-28.6zM115.3 787.5h28.6v5.00h-28.6zM115.3 792.5h28.6v5.00h-28.6zM86.7 987.4h28.6v5.00h-28.6zM115.3 1012.4h28.6v5.00h-28.6zM115.3 1027.4h28.6v5.00h-28.6zM115.3 1032.4h28.6v5.00h-28.6zM115.3 1082.4h28.6v5.00h-28.6z" fill="#78b4d2"/>
<path d="M86.7 757.5h28.6v5.00h-28.6zM86.7 812.5h28.6v5.00h-28.6zM86.7 1032.4h28.6v5.00h-28.6z" fill="#1e60a2"/>
<path d="M115.3 757.5h28.6v5.00h-28.6zM115.3 812.5h28.6v5.00h-28.6zM115.3 1072.4h28.6v5.00h-28.6zM86.7 1112.4h28.6v5.00h-28.6z" fill="#60a8cc"/>
<path d="M115.3 772.5h28.6v5.00h-28.6zM172.5 967.5h28.6v5.00h-28.6zM172.5 972.5h28.6v5.00h-28.6z" fill="#9cccde"/>
<path d="M143.9 772.5h28.6v5.00h-28.6zM143.9 782.5h28.6v5.00h-28.6zM143.9 802.5h28.6v5.00h-28.6zM143.9 827.5h28.6v5.00h-28.6zM115.3 842.5h28.6v5.00h-28.6zM143.9 862.5h28.6v5.00h-28.6zM86.7 917.5h28.6v5.00h-28.6zM115.3 1057.4h28.6v5.00h-28.6z" fill="#4e9cc6"/>
<path d="M401.2 772.5h28.6v5.00h-28.6zM401.2 897.5h28.6v5.00h-28.6zM401.2 922.5h28.6v5.00h-28.6zM401.2 982.4h28.6v5.00h-28.6zM401.2 987.4h28.6v5.00h-28.6z" fill="#900c24"/>
<path d="M86.7 777.5h28.6v5.00h-28.6z" fill="#0c3c72"/>
<path d="M115.3 777.5h28.6v5.00h-28.6z" fill="#a2ccde"/>
<path d="M172.5 777.5h28.6v5.00h-28.6zM172.5 807.5h28.6v5.00h-28.6zM172.5 822.5h28.6v5.00h-28.6z" fill="#a8cce4"/>
<path d="M401.2 777.5h28.6v5.00h-28.6zM401.2 787.5h28.6v5.00h-28.6zM401.2 797.5h28.6v5.00h-28.6zM401.2 807.5h28.6v5.00h-28.6zM401.2 1082.4h28.6v5.00h-28.6z" fill="#b42430"/>
<path d="M86.7 782.5h28.6v5.00h-28.6zM143.9 927.5h28.6v5.00h-28.6zM86.7 1012.4h28.6v5.00h-28.6zM86.7 1037.4h28.6v5.00h-28.6z" fill="#1e60a8"/>
<path d="M401.2 782.5h28.6v5.00h-28.6zM401.2 1007.4h28.6v5.00h-28.6z" fill="#b41e30"/>
<path d="M143.9 787.5h28.6v5.00h-28.6zM143.9 1072.4h28.6v5.00h-28.6z" fill="#5aa2cc"/>
<path d="M172.5 787.5h28.6v5.00h-28.6zM172.5 802.5h28.6v5.00h-28.6z" fill="#bad8ea"/>
<path d="M86.7 792.5h28.6v5.00h-28.6z" fill="#124e90"/>
<path d="M229.7 792.5h28.6v5.00h-28.6zM258.2 842.5h28.6v5.00h-28.6z" fill="#fcdec6"/>
<path d="M401.2 792.5h28.6v5.00h-28.6zM401.2 957.5h28.6v5.00h-28.6zM401.2 1072.4h28.6v5.00h-28.6z" fill="#a8122a"/>
<path d="M86.7 797.5h28.6v5.00h-28.6z" fill="#1e5aa2"/>
<path d="M172.5 797.5h28.6v5.00h-28.6zM172.5 847.5h28.6v5.00h-28.6zM201.1 897.5h28.6v5.00h-28.6z" fill="#c0d8ea"/>
<path d="M401.2 802.5h28.6v5.00h-28.6zM401.2 812.5h28.6v5.00h-28.6zM401.2 1112.4h28.6v5.00h-28.6z" fill="#b4182a"/>
<path d="M172.5 812.5h28.6v5.00h-28.6zM172.5 842.5h28.6v5.00h-28.6zM172.5 942.5h28.6v5.00h-28.6z" fill="#9cc6de"/>
<path d="M172.5 817.5h28.6v5.00h-28.6zM172.5 872.5h28.6v5.00h-28.6zM86.7 932.5h28.6v5.00h-28.6zM315.4 987.4h28.6v5.00h-28.6z" fill="#96c6de"/>
<path d="M401.2 817.5h28.6v5.00h-28.6zM401.2 962.5h28.6v5.00h-28.6z" fill="#ae182a"/>
<path d="M143.9 822.5h28.6v5.00h-28.6zM86.7 937.5h28.6v5.00h-28.6zM86.7 942.5h28.6v5.00h-28.6zM115.3 977.5h28.6v5.00h-28.6zM115.3 1002.4h28.6v5.00h-28.6z" fill="#6caed2"/>
<path d="M401.2 822.5h28.6v5.00h-28.6zM401.2 852.5h28.6v5.00h-28.6zM401.2 907.5h28.6v5.00h-28.6zM401.2 927.5h28.6v5.00h-28.6zM401.2 932.5h28.6v5.00h-28.6zM401.2 967.5h28.6v5.00h-28.6z" fill="#a21224"/>
<path d="M172.5 827.5h28.6v5.00h-28.6zM172.5 852.5h28.6v5.00h-28.6zM201.1 892.5h28.6v5.00h-28.6zM229.7 1072.4h28.6v5.00h-28.6z" fill="#c0deea"/>
<path d="M401.2 827.5h28.6v5.00h-28.6zM401.2 862.5h28.6v5.00h-28.6z" fill="#7e061e"/>
<path d="M115.3 832.5h28.6v5.00h-28.6zM115.3 982.4h28.6v5.00h-28.6zM143.9 1082.4h28.6v5.00h-28.6z" fill="#549cc6"/>
<path d="M172.5 832.5h28.6v5.00h-28.6z" fill="#cce4ea"/>
<path d="M401.2 832.5h28.6v5.00h-28.6zM401.2 837.5h28.6v5.00h-28.6z" fill="#840624"/>
<path d="M372.6 837.5h28.6v5.00h-28.6z" fill="#de6c5a"/>
<path d="M86.7 842.5h28.6v5.00h-28.6zM86.7 967.5h28.6v5.00h-28.6zM86.7 1097.4h28.6v5.00h-28.6z" fill="#3c84ba"/>
<path d="M201.1 842.5h28.6v5.00h-28.6zM172.5 1007.4h28.6v5.00h-28.6zM172.5 1012.4h28.6v5.00h-28.6z" fill="#d8e4f0"/>
<path d="M315.4 847.5h28.6v5.00h-28.6zM372.6 957.5h28.6v5.00h-28.6zM372.6 967.5h28.6v5.00h-28.6zM344.0 992.4h28.6v5.00h-28.6zM344.0 1012.4h28.6v5.00h-28.6zM258.2 1067.4h28.6v5.00h-28.6z" fill="#f6b490"/>
<path d="M372.6 847.5h28.6v5.00h-28.6zM401.2 872.5h28.6v5.00h-28.6zM401.2 1017.4h28.6v5.00h-28.6zM401.2 1032.4h28.6v5.00h-28.6zM401.2 1047.4h28.6v5.00h-28.6z" fill="#c6423c"/>
<path d="M372.6 852.5h28.6v5.00h-28.6z" fill="#c64842"/>
<path d="M401.2 857.5h28.6v5.00h-28.6z" fill="#6c001e"/>
<path d="M401.2 867.5h28.6v5.00h-28.6z" fill="#78061e"/>
<path d="M401.2 877.5h28.6v5.00h-28.6zM401.2 917.5h28.6v5.00h-28.6z" fill="#ba2a36"/>
<path d="M286.8 882.5h28.6v5.00h-28.6zM372.6 952.5h28.6v5.00h-28.6zM372.6 1002.4h28.6v5.00h-28.6zM372.6 1007.4h28.6v5.00h-28.6zM258.2 1072.4h28.6v5.00h-28.6z" fill="#f0ae8a"/>
<path d="M86.7 892.5h28.6v5.00h-28.6z" fill="#6ca8cc"/>
<path d="M401.2 892.5h28.6v5.00h-28.6zM401.2 947.5h28.6v5.00h-28.6z" fill="#8a0624"/>
<path d="M86.7 897.5h28.6v5.00h-28.6z" fill="#7ebad8"/>
<path d="M401.2 902.5h28.6v5.00h-28.6z" fill="#9c0c24"/>
<path d="M143.9 912.5h28.6v5.00h-28.6zM143.9 1077.4h28.6v5.00h-28.6z" fill="#4e96c6"/>
<path d="M401.2 912.5h28.6v5.00h-28.6z" fill="#960c24"/>
<path d="M401.2 937.5h28.6v5.00h-28.6zM401.2 1077.4h28.6v5.00h-28.6z" fill="#ae122a"/>
<path d="M401.2 942.5h28.6v5.00h-28.6z" fill="#8a0c24"/>
<path d="M401.2 952.5h28.6v5.00h-28.6z" fill="#72001e"/>
<path d="M344.0 957.5h28.6v5.00h-28.6zM372.6 1012.4h28.6v5.00h-28.6zM372.6 1017.4h28.6v5.00h-28.6zM344.0 1097.4h28.6v5.00h-28.6z" fill="#f09678"/>
<path d="M201.1 972.5h28.6v5.00h-28.6z" fill="#bad8e4"/>
<path d="M401.2 972.5h28.6v5.00h-28.6zM401.2 1067.4h28.6v5.00h-28.6z" fill="#9c1224"/>
<path d="M401.2 977.5h28.6v5.00h-28.6z" fill="#c0363c"/>
<path d="M143.9 987.4h28.6v5.00h-28.6z" fill="#1e66ae"/>
<path d="M115.3 992.4h28.6v5.00h-28.6z" fill="#90c0de"/>
<path d="M401.2 992.4h28.6v5.00h-28.6zM401.2 997.4h28.6v5.00h-28.6zM401.2 1037.4h28.6v5.00h-28.6zM401.2 1087.4h28.6v5.00h-28.6zM401.2 1097.4h28.6v5.00h-28.6z" fill="#ba3036"/>
<path d="M401.2 1002.4h28.6v5.00h-28.6zM401.2 1052.4h28.6v5.00h-28.6z" fill="#ba2a30"/>
<path d="M86.7 1007.4h28.6v5.00h-28.6zM86.7 1022.4h28.6v5.00h-28.6z" fill="#185490"/>
<path d="M86.7 1017.4h28.6v5.00h-28.6z" fill="#185496"/>
<path d="M401.2 1027.4h28.6v5.00h-28.6z" fill="#c03036"/>
<path d="M115.3 1052.4h28.6v5.00h-28.6z" fill="#4296c0"/>
<path d="M143.9 1067.4h28.6v5.00h-28.6z" fill="#7eb4d2"/>
</g>
<path d="M86.7 557.60H429.8M86.7 562.60H429.8M86.7 567.60H429.8M86.7 572.59H429.8M86.7 577.59H429.8M86.7 582.59H429.8M86.7 587.59H429.8M86.7 592.59H429.8M86.7 597.59H429.8M86.7 602.58H429.8M86.7 607.58H429.8M86.7 612.58H429.8M86.7 617.58H429.8M86.7 622.58H429.8M86.7 627.58H429.8M86.7 632.57H429.8M86.7 637.57H429.8M86.7 642.57H429.8M86.7 647.57H429.8M86.7 652.57H429.8M86.7 657.56H429.8M86.7 662.56H429.8M86.7 667.56H429.8M86.7 672.56H429.8M86.7 677.56H429.8M86.7 682.56H429.8M86.7 687.55H429.8M86.7 692.55H429.8M86.7 697.55H429.8M86.7 702.55H429.8M86.7 707.55H429.8M86.7 712.54H429.8M86.7 717.54H429.8M86.7 722.54H429.8M86.7 727.54H429.8M86.7 732.54H429.8M86.7 737.54H429.8M86.7 742.53H429.8M86.7 747.53H429.8M86.7 752.53H429.8M86.7 757.53H429.8M86.7 762.53H429.8M86.7 767.53H429.8M86.7 772.52H429.8M86.7 777.52H429.8M86.7 782.52H429.8M86.7 787.52H429.8M86.7 792.52H429.8M86.7 797.51H429.8M86.7 802.51H429.8M86.7 807.51H429.8M86.7 812.51H429.8M86.7 817.51H429.8M86.7 822.51H429.8M86.7 827.50H429.8M86.7 832.50H429.8M86.7 837.50H429.8M86.7 842.50H429.8M86.7 847.50H429.8M86.7 852.49H429.8M86.7 857.49H429.8M86.7 862.49H429.8M86.7 867.49H429.8M86.7 872.49H429.8M86.7 877.49H429.8M86.7 882.48H429.8M86.7 887.48H429.8M86.7 892.48H429.8M86.7 897.48H429.8M86.7 902.48H429.8M86.7 907.48H429.8M86.7 912.47H429.8M86.7 917.47H429.8M86.7 922.47H429.8M86.7 927.47H429.8M86.7 932.47H429.8M86.7 937.46H429.8M86.7 942.46H429.8M86.7 947.46H429.8M86.7 952.46H429.8M86.7 957.46H429.8M86.7 962.46H429.8M86.7 967.45H429.8M86.7 972.45H429.8M86.7 977.45H429.8M86.7 982.45H429.8M86.7 987.45H429.8M86.7 992.44H429.8M86.7 997.44H429.8M86.7 1002.44H429.8M86.7 1007.44H429.8M86.7 1012.44H429.8M86.7 1017.44H429.8M86.7 1022.43H429.8M86.7 1027.43H429.8M86.7 1032.43H429.8M86.7 1037.43H429.8M86.7 1042.43H429.8M86.7 1047.43H429.8M86.7 1052.42H429.8M86.7 1057.42H429.8M86.7 1062.42H429.8M86.7 1067.42H429.8M86.7 1072.42H429.8M86.7 1077.41H429.8M86.7 1082.41H429.8M86.7 1087.41H429.8M86.7 1092.41H429.8M86.7 1097.41H429.8M86.7 1102.41H429.8M86.7 1107.40H429.8M86.7 1112.40H429.8M86.7 1117.40H429.8M86.70 557.6V1117.4M115.29 557.6V1117.4M143.88 557.6V1117.4M172.48 557.6V1117.4M201.07 557.6V1117.4M229.66 557.6V1117.4M258.25 557.6V1117.4M286.84 557.6V1117.4M315.43 557.6V1117.4M344.03 557.6V1117.4M372.62 557.6V1117.4M401.21 557.6V1117.4M429.80 557.6V1117.4" stroke="#1a1a1a" stroke-opacity="0.62" stroke-width="0.55" fill="none"/>
<rect x="86.7" y="557.6" width="343.1" height="559.8" fill="none" stroke="#aaa" stroke-width="0.8"/>
<text x="127.8" y="549.2" text-anchor="middle">d25</text>
<line x1="87.8" y1="552.4" x2="169.4" y2="552.4" stroke="#000" stroke-width="1.3"/>
<text x="211.0" y="549.2" text-anchor="middle">d50</text>
<line x1="173.6" y1="552.4" x2="255.2" y2="552.4" stroke="#000" stroke-width="1.3"/>
<text x="297.2" y="549.2" text-anchor="middle">d75</text>
<line x1="262.3" y1="552.4" x2="343.5" y2="552.4" stroke="#000" stroke-width="1.3"/>
<text x="384.8" y="549.2" text-anchor="middle">d100</text>
<line x1="348.4" y1="552.4" x2="429.3" y2="552.4" stroke="#000" stroke-width="1.3"/>
<defs><linearGradient id="cbar" x1="0" y1="0" x2="0" y2="1">
<stop offset="0.000" stop-color="rgb(103, 0, 31)"/>
<stop offset="0.122" stop-color="rgb(178, 24, 43)"/>
<stop offset="0.233" stop-color="rgb(214, 96, 77)"/>
<stop offset="0.344" stop-color="rgb(244, 165, 130)"/>
<stop offset="0.433" stop-color="rgb(253, 219, 199)"/>
<stop offset="0.500" stop-color="rgb(247, 247, 247)"/>
<stop offset="0.567" stop-color="rgb(209, 229, 240)"/>
<stop offset="0.656" stop-color="rgb(146, 197, 222)"/>
<stop offset="0.767" stop-color="rgb(67, 147, 195)"/>
<stop offset="0.878" stop-color="rgb(33, 102, 172)"/>
<stop offset="1.000" stop-color="rgb(5, 48, 97)"/>
</linearGradient></defs>
<rect x="61.4" y="758.2" width="9.4" height="139" fill="url(#cbar)"/>
<text x="51.5" y="768.5" text-anchor="end">2</text>
<text x="51.5" y="800.1" text-anchor="end">1</text>
<text x="51.5" y="831.8" text-anchor="end">0</text>
<text x="51.5" y="863.6" text-anchor="end">−1</text>
<text x="51.5" y="895.3" text-anchor="end">−2</text>
<text x="19.4" y="827.5" text-anchor="middle" textLength="209.0" lengthAdjust="spacingAndGlyphs" transform="rotate(-90 19.4 827.5)">Normalized expression</text>
<text x="457.3" y="521.8" font-style="italic" textLength="63.1" lengthAdjust="spacingAndGlyphs">KAT2A</text>
<text x="457.3" y="542.4" font-style="italic" textLength="55.6" lengthAdjust="spacingAndGlyphs">OXR1</text>
<text x="457.3" y="563.0" font-style="italic" textLength="53.3" lengthAdjust="spacingAndGlyphs">EML2</text>
<text x="457.3" y="583.7" font-style="italic" textLength="79.4" lengthAdjust="spacingAndGlyphs">TUBA4A</text>
<text x="457.3" y="604.3" font-style="italic" textLength="70.3" lengthAdjust="spacingAndGlyphs">ALDOC</text>
<text x="457.3" y="624.9" font-style="italic" textLength="65.8" lengthAdjust="spacingAndGlyphs">APOL2</text>
<text x="457.3" y="645.5" font-style="italic" textLength="68.0" lengthAdjust="spacingAndGlyphs">EPDR1</text>
<text x="457.3" y="666.1" font-style="italic" textLength="62.8" lengthAdjust="spacingAndGlyphs">LYNX1</text>
<text x="457.3" y="686.8" font-style="italic" textLength="66.9" lengthAdjust="spacingAndGlyphs">FBXO2</text>
<text x="457.3" y="707.4" font-style="italic" textLength="74.5" lengthAdjust="spacingAndGlyphs">ATP2B4</text>
<text x="457.3" y="728.0" font-style="italic" textLength="55.5" lengthAdjust="spacingAndGlyphs">NEFH</text>
<text x="457.3" y="748.6" font-style="italic" textLength="41.9" lengthAdjust="spacingAndGlyphs">ADK</text>
<text x="457.3" y="769.2" font-style="italic" textLength="64.6" lengthAdjust="spacingAndGlyphs">USP45</text>
<text x="457.3" y="789.9" font-style="italic" textLength="41.9" lengthAdjust="spacingAndGlyphs">FOS</text>
<text x="457.3" y="810.5" font-style="italic" textLength="66.9" lengthAdjust="spacingAndGlyphs">HABP4</text>
<text x="457.3" y="831.1" font-style="italic" textLength="69.2" lengthAdjust="spacingAndGlyphs">NCEH1</text>
<text x="457.3" y="851.7" font-style="italic" textLength="112.2" lengthAdjust="spacingAndGlyphs">CALCOCO2</text>
<text x="457.3" y="872.3" font-style="italic" textLength="40.8" lengthAdjust="spacingAndGlyphs">CLU</text>
<text x="457.3" y="893.0" font-style="italic" textLength="83.9" lengthAdjust="spacingAndGlyphs">SAMD4A</text>
<text x="457.3" y="913.6" font-style="italic" textLength="60.1" lengthAdjust="spacingAndGlyphs">HLA-B</text>
<text x="457.3" y="934.2" font-style="italic" textLength="52.1" lengthAdjust="spacingAndGlyphs">CTLS</text>
<text x="457.3" y="954.8" font-style="italic" textLength="65.0" lengthAdjust="spacingAndGlyphs">CRYL1</text>
<text x="457.3" y="975.4" font-style="italic" textLength="66.9" lengthAdjust="spacingAndGlyphs">PDE8B</text>
<text x="457.3" y="996.1" font-style="italic" textLength="83.9" lengthAdjust="spacingAndGlyphs">S100A10</text>
<text x="457.3" y="1016.7" font-style="italic" textLength="99.8" lengthAdjust="spacingAndGlyphs">SELENOM</text>
<text x="457.3" y="1037.3" font-style="italic" textLength="103.2" lengthAdjust="spacingAndGlyphs">LINC00473</text>
<text x="457.3" y="1057.9" font-style="italic" textLength="79.4" lengthAdjust="spacingAndGlyphs">RAD23A</text>
<text x="457.3" y="1078.5" font-style="italic" textLength="99.7" lengthAdjust="spacingAndGlyphs">LINC-PINT</text>
<text x="457.3" y="1099.2" font-style="italic" textLength="66.9" lengthAdjust="spacingAndGlyphs">CHPT1</text>
<text x="457.3" y="1119.8" font-style="italic" textLength="68.0" lengthAdjust="spacingAndGlyphs">PCGF5</text>
<text x="457.3" y="1140.4" font-style="italic" textLength="61.2" lengthAdjust="spacingAndGlyphs">HLA-C</text>
<polyline points="434.4,576.8 440.3,576.8 451.7,524.8" fill="none" stroke="#000" stroke-width="0.9"/>
<polyline points="434.4,589.8 440.3,589.8 451.7,542.8" fill="none" stroke="#000" stroke-width="0.9"/>
<polyline points="434.4,596.5 440.3,596.5 454.5,563.8" fill="none" stroke="#000" stroke-width="0.9"/>
<polyline points="434.4,601.2 440.3,601.2 451.7,582.2" fill="none" stroke="#000" stroke-width="0.9"/>
<polyline points="434.4,611.1 440.3,611.1 451.7,602.7" fill="none" stroke="#000" stroke-width="0.9"/>
<polyline points="434.4,620.8 440.3,620.8 451.7,620.5" fill="none" stroke="#000" stroke-width="0.9"/>
<polyline points="434.4,625.8 440.3,625.8 451.7,637.6" fill="none" stroke="#000" stroke-width="0.9"/>
<polyline points="434.4,645.6 440.3,645.6 451.7,656.0" fill="none" stroke="#000" stroke-width="0.9"/>
<polyline points="434.4,656.0 440.3,656.0 451.7,677.9" fill="none" stroke="#000" stroke-width="0.9"/>
<polyline points="434.4,667.3 440.3,667.3 451.7,700.5" fill="none" stroke="#000" stroke-width="0.9"/>
<polyline points="434.4,701.8 440.3,701.8 451.7,721.5" fill="none" stroke="#000" stroke-width="0.9"/>
<polyline points="434.4,706.4 440.3,706.4 451.7,738.3" fill="none" stroke="#000" stroke-width="0.9"/>
<polyline points="434.4,726.8 440.3,726.8 451.7,758.4" fill="none" stroke="#000" stroke-width="0.9"/>
<polyline points="434.4,752.5 440.3,752.5 451.7,779.7" fill="none" stroke="#000" stroke-width="0.9"/>
<polyline points="434.4,767.6 440.3,767.6 451.7,795.8" fill="none" stroke="#000" stroke-width="0.9"/>
<polyline points="434.4,773.2 440.3,773.2 451.7,814.6" fill="none" stroke="#000" stroke-width="0.9"/>
<polyline points="434.4,777.7 440.3,777.7 451.7,846.3" fill="none" stroke="#000" stroke-width="0.9"/>
<polyline points="434.4,863.2 440.3,863.2 451.7,863.2" fill="none" stroke="#000" stroke-width="0.9"/>
<polyline points="434.4,882.2 440.3,882.2 451.7,888.0" fill="none" stroke="#000" stroke-width="0.9"/>
<polyline points="434.4,903.2 440.3,903.2 451.7,903.2" fill="none" stroke="#000" stroke-width="0.9"/>
<polyline points="434.4,922.8 440.3,922.8 451.7,928.0" fill="none" stroke="#000" stroke-width="0.9"/>
<polyline points="434.4,932.6 440.3,932.6 451.7,944.0" fill="none" stroke="#000" stroke-width="0.9"/>
<polyline points="434.4,957.8 440.3,957.8 451.7,966.7" fill="none" stroke="#000" stroke-width="0.9"/>
<polyline points="434.4,984.5 440.3,984.5 451.7,990.0" fill="none" stroke="#000" stroke-width="0.9"/>
<polyline points="434.4,998.4 440.3,998.4 451.7,1010.0" fill="none" stroke="#000" stroke-width="0.9"/>
<polyline points="434.4,1034.9 440.3,1034.9 451.7,1034.9" fill="none" stroke="#000" stroke-width="0.9"/>
<polyline points="434.4,1059.4 440.3,1059.4 451.7,1053.6" fill="none" stroke="#000" stroke-width="0.9"/>
<polyline points="434.4,1064.6 440.3,1064.6 451.7,1070.5" fill="none" stroke="#000" stroke-width="0.9"/>
<polyline points="434.4,1095.7 440.3,1095.7 451.7,1095.7" fill="none" stroke="#000" stroke-width="0.9"/>
<polyline points="434.4,1100.2 440.3,1100.2 451.7,1108.4" fill="none" stroke="#000" stroke-width="0.9"/>
<polyline points="434.4,1115.3 440.3,1115.3 451.7,1126.5" fill="none" stroke="#000" stroke-width="0.9"/>
</g>
<g id="pd">
<text transform="translate(625.4 601.4) scale(1.12 1)" x="-1.2" y="0" font-size="31" font-weight="bold" stroke="#000" stroke-width="1.1" stroke-linejoin="round">d</text>
<text x="805.2" y="586.3" text-anchor="middle">d25</text>
<text x="967.0" y="586.3" text-anchor="middle">d50</text>
<text x="1131.2" y="586.3" text-anchor="middle">d75</text>
<text x="1293.5" y="586.3" text-anchor="middle">d100</text>
<text x="705.7" y="679" text-anchor="middle" fill="#00A651" transform="rotate(-90 705.7 679)" textLength="89.5" lengthAdjust="spacingAndGlyphs">HLA-ABC</text>
<text x="725.6" y="681.7" text-anchor="middle" transform="rotate(-90 725.6 681.7)" textLength="106" lengthAdjust="spacingAndGlyphs"><tspan fill="#27C3F3">DAPI</tspan><tspan fill="#EE1C25"> MAP2</tspan></text>
<text x="705.7" y="837.5" text-anchor="middle" fill="#00A651" transform="rotate(-90 705.7 837.5)" textLength="52.4" lengthAdjust="spacingAndGlyphs">NEFH</text>
<text x="725.6" y="838.2" text-anchor="middle" transform="rotate(-90 725.6 838.2)" textLength="106" lengthAdjust="spacingAndGlyphs"><tspan fill="#27C3F3">DAPI</tspan><tspan fill="#EE1C25"> MAP2</tspan></text>
<text x="705.7" y="1019.8" text-anchor="middle" fill="#00A651" transform="rotate(-90 705.7 1019.8)" textLength="58.7" lengthAdjust="spacingAndGlyphs">c-FOS</text>
<text x="725.6" y="1018.4" text-anchor="middle" transform="rotate(-90 725.6 1018.4)" textLength="106" lengthAdjust="spacingAndGlyphs"><tspan fill="#27C3F3">DAPI</tspan><tspan fill="#EE1C25"> MAP2</tspan></text>
<defs><filter id="b1" x="-5%" y="-5%" width="110%" height="110%"><feGaussianBlur stdDeviation="0.8"/></filter><filter id="b2" x="-20%" y="-20%" width="140%" height="140%"><feGaussianBlur stdDeviation="1.05"/></filter><filter id="b2s" x="-30%" y="-30%" width="160%" height="160%"><feGaussianBlur stdDeviation="2.0"/></filter><filter id="b3" x="-30%" y="-30%" width="160%" height="160%"><feGaussianBlur stdDeviation="3.5"/></filter>
<clipPath id="cp00"><rect x="738.4" y="593.4" width="154.9" height="166.4"/></clipPath>
<clipPath id="cp01"><rect x="897.1" y="593.4" width="155.3" height="166.4"/></clipPath>
<clipPath id="cp02"><rect x="1056" y="593.4" width="154.6" height="166.4"/></clipPath>
<clipPath id="cp03"><rect x="1214.2" y="593.4" width="154.5" height="166.4"/></clipPath>
<clipPath id="cp10"><rect x="738.4" y="764.3" width="154.9" height="166.0"/></clipPath>
<clipPath id="cp11"><rect x="897.1" y="764.3" width="155.3" height="166.0"/></clipPath>
<clipPath id="cp12"><rect x="1056" y="764.3" width="154.6" height="166.0"/></clipPath>
<clipPath id="cp13"><rect x="1214.2" y="764.3" width="154.5" height="166.0"/></clipPath>
<clipPath id="cp20"><rect x="738.4" y="935.6" width="154.9" height="166.4"/></clipPath>
<clipPath id="cp21"><rect x="897.1" y="935.6" width="155.3" height="166.4"/></clipPath>
<clipPath id="cp22"><rect x="1056" y="935.6" width="154.6" height="166.4"/></clipPath>
<clipPath id="cp23"><rect x="1214.2" y="935.6" width="154.5" height="166.4"/></clipPath>
</defs>
<g clip-path="url(#cp00)">
<rect x="738.4" y="593.4" width="154.9" height="166.4" fill="#040000"/>
<g filter="url(#b1)" fill="none" stroke-linecap="round" stroke-linejoin="round">
<path d="M759.3 595.5C759.4 600.5 759.9 616.4 759.9 625.1C759.9 633.8 759.0 641.0 759.3 647.8C759.6 654.6 761.2 663.0 761.6 666.0" stroke="#B81810" stroke-width="1.1" stroke-opacity="0.75"/>
<path d="M761.6 675.1C760.7 678.1 758.4 687.4 756.5 693.3C754.5 699.1 751.3 703.7 749.6 710.3C747.9 716.9 747.7 728.3 746.2 733.0C744.7 737.8 741.5 737.8 740.5 738.7" stroke="#B02010" stroke-width="1.3" stroke-opacity="0.75"/>
<path d="M763.3 602.4C765.0 604.4 769.0 611.6 773.5 614.9C778.0 618.1 783.5 620.2 790.5 621.7C797.6 623.2 808.9 623.4 815.5 624.0C822.2 624.5 827.9 624.9 830.3 625.1" stroke="#B81810" stroke-width="1.1" stroke-opacity="0.7"/>
<path d="M739.4 624.0C743.6 624.1 757.4 624.0 764.4 625.1C771.4 626.2 775.6 630.0 781.5 630.8C787.3 631.5 796.6 629.8 799.6 629.6" stroke="#A81810" stroke-width="1.0" stroke-opacity="0.65"/>
<path d="M748.5 639.9C752.1 639.3 762.7 636.3 770.1 636.5C777.5 636.6 787.7 638.7 792.8 641.0C797.9 643.3 799.4 648.6 800.8 650.1" stroke="#A81810" stroke-width="1.0" stroke-opacity="0.65"/>
<path d="M806.5 609.2C805.7 612.4 802.9 622.4 801.9 628.5C801.0 634.6 800.9 641.5 800.8 645.5C800.7 649.6 801.2 651.7 801.3 652.9" stroke="#B81810" stroke-width="1.1" stroke-opacity="0.7"/>
<path d="M815.5 594.4C814.6 596.1 811.4 602.2 809.9 604.6C808.3 607.1 807.0 608.4 806.5 609.2" stroke="#B81810" stroke-width="1.1" stroke-opacity="0.7"/>
<path d="M819.0 610.3C820.3 613.3 824.1 622.6 826.9 628.5C829.8 634.4 833.2 639.7 836.0 645.5C838.8 651.4 841.1 657.7 844.0 663.7C846.8 669.8 851.2 678.3 853.0 681.9C854.9 685.5 854.9 684.8 855.3 685.3" stroke="#C01810" stroke-width="1.2" stroke-opacity="0.8"/>
<path d="M803.0 652.9C805.5 651.7 811.9 648.3 817.8 645.5C823.7 642.8 831.1 639.3 838.3 636.5C845.5 633.6 855.7 631.2 861.0 628.5C866.3 625.8 868.4 623.6 870.1 620.5C871.8 617.5 871.0 612.0 871.2 610.3" stroke="#C01810" stroke-width="1.2" stroke-opacity="0.8"/>
<path d="M799.6 664.9C798.1 667.3 793.2 674.9 790.5 679.6C787.9 684.4 786.0 688.9 783.7 693.3C781.5 697.6 778.4 702.7 776.9 705.8C775.4 708.8 776.7 708.2 774.6 711.5C772.6 714.7 768.0 721.5 764.4 725.1C760.8 728.7 754.9 731.7 753.0 733.0" stroke="#E02010" stroke-width="1.8" stroke-opacity="0.9"/>
<path d="M803.0 669.4C805.1 670.0 811.2 672.6 815.5 672.8C819.9 673.0 826.9 670.9 829.2 670.5" stroke="#B81810" stroke-width="1.0" stroke-opacity="0.7"/>
<path d="M804.2 670.5C804.6 672.8 804.8 680.4 806.5 684.2C808.2 688.0 813.1 691.8 814.4 693.3" stroke="#B81810" stroke-width="1.0" stroke-opacity="0.7"/>
<path d="M739.4 662.6C742.6 662.8 753.0 663.9 758.7 663.7C764.4 663.5 767.1 663.0 773.5 661.5C779.9 659.9 793.4 655.8 797.4 654.6" stroke="#B01810" stroke-width="1.0" stroke-opacity="0.7"/>
<path d="M829.2 678.5C830.7 677.0 835.1 672.6 838.3 669.4C841.5 666.2 844.7 662.0 848.5 659.2C852.3 656.3 855.5 655.0 861.0 652.4C866.5 649.7 878.0 644.8 881.5 643.3" stroke="#A83010" stroke-width="1.2" stroke-opacity="0.7"/>
<path d="M836.0 730.8C837.3 728.9 841.3 723.8 844.0 719.4C846.6 715.1 849.3 709.0 851.9 704.6C854.6 700.3 857.0 696.5 859.9 693.3C862.7 690.1 865.0 687.4 869.0 685.3C872.9 683.2 879.7 682.5 883.7 680.8C887.8 679.1 891.8 676.0 893.4 675.1" stroke="#F02010" stroke-width="2.2" stroke-opacity="0.95"/>
<path d="M872.4 611.5C872.0 613.7 869.7 621.3 870.1 625.1C870.5 628.9 870.8 631.7 874.6 634.2C878.5 636.6 890.3 638.9 893.4 639.9" stroke="#B81810" stroke-width="1.1" stroke-opacity="0.7"/>
<path d="M822.4 605.8C825.0 606.7 832.8 609.6 838.3 611.5C843.8 613.3 850.0 615.4 855.3 617.1C860.6 618.8 867.6 620.9 870.1 621.7" stroke="#B01810" stroke-width="1.0" stroke-opacity="0.65"/>
<path d="M775.8 705.8C777.7 706.0 783.0 708.2 787.1 706.9C791.3 705.6 798.5 699.3 800.8 697.8" stroke="#B01810" stroke-width="1.0" stroke-opacity="0.65"/>
<path d="M855.3 685.3C855.5 687.6 855.7 694.8 856.5 699.0C857.2 703.1 859.3 708.4 859.9 710.3" stroke="#B01810" stroke-width="1.0" stroke-opacity="0.65"/>
<path d="M844.0 725.1C845.8 726.4 852.1 729.3 855.3 733.0C858.5 736.8 862.3 743.4 863.3 747.8C864.2 752.3 861.4 757.8 861.0 759.8" stroke="#B01810" stroke-width="1.0" stroke-opacity="0.65"/>
<path d="M739.4 739.9C742.6 740.4 751.7 742.1 758.7 743.3C765.7 744.4 777.7 746.1 781.5 746.7" stroke="#A01810" stroke-width="1.0" stroke-opacity="0.6"/>
<path d="M869.0 706.9C870.5 705.4 874.0 700.8 878.0 697.8C882.1 694.8 890.8 690.2 893.4 688.7" stroke="#B01810" stroke-width="1.1" stroke-opacity="0.7"/>
<path d="M851.9 713.7C852.7 716.0 855.9 723.2 856.5 727.4C857.0 731.5 855.5 736.8 855.3 738.7" stroke="#A01810" stroke-width="1.0" stroke-opacity="0.6"/>
<path d="M808.7 704.6C806.5 707.5 799.6 716.9 795.1 721.7C790.5 726.4 783.7 731.2 781.5 733.0" stroke="#A01810" stroke-width="1.0" stroke-opacity="0.6"/>
<path d="M875.8 621.7 L893.4 617.1" stroke="#A01810" stroke-width="1.0" stroke-opacity="0.6"/>
<path d="M842.8 663.7C847.7 663.0 863.9 659.6 872.4 659.2C880.8 658.8 889.9 661.1 893.4 661.5" stroke="#A01810" stroke-width="1.0" stroke-opacity="0.6"/>
<path d="M762.1 750.1 L764.4 759.8" stroke="#A01810" stroke-width="1.0" stroke-opacity="0.6"/>
<path d="M830.3 594.4C829.8 596.3 828.2 603.9 826.9 605.8C825.6 607.7 823.1 605.8 822.4 605.8" stroke="#A01810" stroke-width="1.0" stroke-opacity="0.55"/>
<path d="M739.4 605.8C741.7 606.2 749.1 608.6 753.0 608.0C757.0 607.5 761.6 603.3 763.3 602.4" stroke="#A01810" stroke-width="1.0" stroke-opacity="0.55"/>
</g>
<g filter="url(#b2)"><ellipse cx="799.6" cy="668.3" rx="4.5" ry="5.1" fill="#C05010" fill-opacity="0.7"/><ellipse cx="870.1" cy="609.2" rx="6.2" ry="3.4" fill="#E06010" fill-opacity="0.8"/><ellipse cx="813.3" cy="703.5" rx="5.7" ry="3.2" fill="#D07010" fill-opacity="0.8" transform="rotate(-30 813.3 703.5)"/><ellipse cx="838.3" cy="727.4" rx="2.8" ry="5.1" fill="#E04010" fill-opacity="0.8" transform="rotate(20 838.3 727.4)"/><ellipse cx="815.5" cy="606.9" rx="8.0" ry="2.8" fill="#606010" fill-opacity="0.6"/><ellipse cx="753.0" cy="693.3" rx="3.4" ry="8.0" fill="#505010" fill-opacity="0.6"/><ellipse cx="858.7" cy="713.7" rx="5.7" ry="6.2" fill="#504810" fill-opacity="0.6"/><ellipse cx="836.0" cy="693.3" rx="6.8" ry="4.5" fill="#504810" fill-opacity="0.55"/><ellipse cx="833.7" cy="674.0" rx="2.8" ry="6.8" fill="#804010" fill-opacity="0.6" transform="rotate(40 833.7 674.0)"/><ellipse cx="757.6" cy="599.5" rx="5.1" ry="3.2" fill="#5038F0" fill-opacity="0.95" transform="rotate(20 757.6 599.5)"/><ellipse cx="805.9" cy="601.8" rx="5.7" ry="4.0" fill="#4030C8" fill-opacity="0.85"/><ellipse cx="815.5" cy="611.5" rx="6.2" ry="3.2" fill="#4030C0" fill-opacity="0.8"/><ellipse cx="859.3" cy="598.4" rx="2.8" ry="5.1" fill="#4838F0" fill-opacity="0.9"/><ellipse cx="866.7" cy="604.1" rx="4.5" ry="3.4" fill="#4030D0" fill-opacity="0.8"/><ellipse cx="873.5" cy="601.2" rx="4.5" ry="2.3" fill="#5040F0" fill-opacity="0.9" transform="rotate(30 873.5 601.2)"/><ellipse cx="881.5" cy="606.9" rx="3.4" ry="2.8" fill="#5030B0" fill-opacity="0.6"/><ellipse cx="799.6" cy="659.2" rx="2.0" ry="5.1" fill="#9040F0" fill-opacity="0.95" transform="rotate(5 799.6 659.2)"/><ellipse cx="762.7" cy="671.7" rx="2.5" ry="5.7" fill="#4838F8" fill-opacity="0.95" transform="rotate(10 762.7 671.7)"/><ellipse cx="751.9" cy="681.9" rx="4.3" ry="6.8" fill="#4030B0" fill-opacity="0.8"/><ellipse cx="823.5" cy="685.3" rx="2.8" ry="6.2" fill="#5848F8" fill-opacity="0.95" transform="rotate(40 823.5 685.3)"/><ellipse cx="831.5" cy="692.1" rx="5.1" ry="6.8" fill="#4030A8" fill-opacity="0.7" transform="rotate(15 831.5 692.1)"/><ellipse cx="818.4" cy="700.7" rx="4.1" ry="3.0" fill="#9050FF" fill-opacity="0.95" transform="rotate(-10 818.4 700.7)"/><ellipse cx="875.2" cy="684.2" rx="6.2" ry="2.5" fill="#6040E0" fill-opacity="0.9" transform="rotate(-15 875.2 684.2)"/><ellipse cx="869.0" cy="704.6" rx="2.8" ry="5.1" fill="#5038D0" fill-opacity="0.85" transform="rotate(30 869.0 704.6)"/><ellipse cx="833.2" cy="735.9" rx="4.0" ry="5.1" fill="#4030C0" fill-opacity="0.85"/><ellipse cx="812.7" cy="755.2" rx="4.5" ry="4.0" fill="#3828C0" fill-opacity="0.85"/><ellipse cx="740.0" cy="737.6" rx="2.5" ry="2.8" fill="#6040FF" fill-opacity="0.95"/><ellipse cx="787.1" cy="658.0" rx="3.4" ry="2.3" fill="#3020A0" fill-opacity="0.5"/><ellipse cx="774.1" cy="655.2" rx="1.0" ry="1.0" fill="#E02020" fill-opacity="0.8"/><ellipse cx="854.2" cy="683.6" rx="1.2" ry="1.2" fill="#E02020" fill-opacity="0.8"/><ellipse cx="757.6" cy="597.8" rx="2.3" ry="1.4" fill="#F03040" fill-opacity="0.6"/></g>
</g>
<g clip-path="url(#cp01)">
<rect x="897.1" y="593.4" width="155.3" height="166.4" fill="#0A0502"/>
<g filter="url(#b1)" fill="none" stroke-linecap="round" stroke-linejoin="round">
<path d="M897.3 606.9C900.7 607.9 910.9 610.5 917.7 612.6C924.5 614.7 932.9 618.3 938.2 619.4C943.5 620.5 947.7 619.4 949.5 619.4" stroke="#E02010" stroke-width="2.4" stroke-opacity="0.9"/>
<path d="M897.3 610.3C901.6 611.8 916.2 617.5 923.4 619.4C930.6 621.3 933.8 621.9 940.5 621.7C947.1 621.5 956.0 619.0 963.2 618.3C970.4 617.5 980.2 617.3 983.6 617.1" stroke="#F02010" stroke-width="1.6" stroke-opacity="0.9"/>
<path d="M953.0 594.4C952.8 596.3 952.6 602.0 951.8 605.8C951.1 609.6 949.0 615.2 948.4 617.1" stroke="#E02810" stroke-width="3.0" stroke-opacity="0.85"/>
<path d="M949.5 620.5C951.1 621.9 955.4 625.8 958.6 628.5C961.9 631.2 965.3 633.8 968.9 636.5C972.5 639.1 976.4 642.5 980.2 644.4C984.0 646.3 986.9 645.4 991.6 647.8C996.3 650.3 1003.9 655.4 1008.6 659.2C1013.4 663.0 1018.1 668.7 1020.0 670.5" stroke="#F02010" stroke-width="1.6" stroke-opacity="0.9"/>
<path d="M942.7 622.8C942.3 625.5 942.2 633.4 940.5 638.7C938.8 644.0 936.3 649.0 932.5 654.6C928.7 660.3 923.2 666.8 917.7 672.8C912.2 678.9 903.0 687.6 899.5 691.0C896.1 694.4 897.7 692.9 897.3 693.3" stroke="#D82010" stroke-width="2.0" stroke-opacity="0.85"/>
<path d="M970.0 625.1C970.2 629.3 970.6 642.5 971.1 650.1C971.7 657.7 973.0 662.6 973.4 670.5C973.8 678.5 974.0 690.2 973.4 697.8C972.8 705.4 970.9 709.2 970.0 716.0C969.1 722.8 968.9 731.4 967.7 738.7C966.6 746.0 963.9 756.2 963.2 759.8" stroke="#F02010" stroke-width="1.6" stroke-opacity="0.9"/>
<path d="M1052.4 654.6C1048.9 656.3 1037.1 661.8 1031.4 664.9C1025.6 667.9 1022.5 669.8 1017.7 672.8C1013.0 675.8 1007.9 679.6 1003.0 683.0C998.0 686.5 992.9 690.8 988.2 693.3C983.4 695.7 979.5 696.9 974.5 697.8C969.6 698.8 966.2 697.8 958.6 699.0C951.1 700.1 939.3 702.6 929.1 704.6C918.9 706.7 902.6 710.3 897.3 711.5" stroke="#F02010" stroke-width="2.6" stroke-opacity="0.95"/>
<path d="M1031.4 595.5C1029.5 598.6 1024.7 608.0 1020.0 613.7C1015.3 619.4 1007.7 625.1 1003.0 629.6C998.2 634.2 995.9 636.5 991.6 641.0C987.2 645.5 982.3 652.0 976.8 656.9C971.3 661.8 961.7 668.3 958.6 670.5" stroke="#B04010" stroke-width="2.6" stroke-opacity="0.8"/>
<path d="M897.3 630.8C900.7 633.2 910.5 640.8 917.7 645.5C924.9 650.3 933.6 653.9 940.5 659.2C947.3 664.5 954.8 672.1 958.6 677.4C962.4 682.7 962.4 688.7 963.2 691.0" stroke="#E82010" stroke-width="1.4" stroke-opacity="0.88"/>
<path d="M897.3 654.6C899.7 657.3 906.7 664.9 912.0 670.5C917.3 676.2 924.0 683.8 929.1 688.7C934.2 693.7 940.5 698.2 942.7 700.1" stroke="#E82010" stroke-width="1.4" stroke-opacity="0.88"/>
<path d="M983.6 721.7C985.9 723.6 993.1 730.2 997.3 733.0C1001.4 735.9 1003.9 736.5 1008.6 738.7C1013.4 741.0 1021.3 744.8 1025.7 746.7C1030.0 748.6 1033.3 749.5 1034.8 750.1" stroke="#E02010" stroke-width="2.0" stroke-opacity="0.9"/>
<path d="M983.6 721.7C982.1 722.6 978.7 725.8 974.5 727.4C970.4 728.9 964.3 729.3 958.6 730.8C953.0 732.3 943.5 735.5 940.5 736.5" stroke="#D02010" stroke-width="1.4" stroke-opacity="0.8"/>
<path d="M1020.0 716.0C1020.2 717.9 1020.2 723.6 1021.1 727.4C1022.1 731.2 1023.6 735.3 1025.7 738.7C1027.8 742.1 1032.3 746.3 1033.6 747.8" stroke="#E02010" stroke-width="2.0" stroke-opacity="0.85"/>
<path d="M897.3 747.8C900.7 747.2 910.5 746.1 917.7 744.4C924.9 742.7 932.9 739.9 940.5 737.6C948.0 735.3 959.4 731.9 963.2 730.8" stroke="#E82010" stroke-width="1.4" stroke-opacity="0.88"/>
<path d="M997.3 594.4C995.8 597.6 991.0 608.0 988.2 613.7C985.3 619.4 982.5 623.2 980.2 628.5C978.0 633.8 975.5 642.7 974.5 645.5" stroke="#E82010" stroke-width="1.4" stroke-opacity="0.88"/>
<path d="M1013.2 594.4C1012.4 597.6 1009.0 606.7 1008.6 613.7C1008.3 620.7 1009.0 629.6 1010.9 636.5C1012.8 643.3 1015.6 649.0 1020.0 654.6C1024.4 660.3 1031.6 666.0 1037.0 670.5C1042.4 675.1 1049.8 680.0 1052.4 681.9" stroke="#E82010" stroke-width="1.4" stroke-opacity="0.88"/>
<path d="M985.9 720.5C989.7 720.4 1001.1 720.2 1008.6 719.4C1016.2 718.7 1024.1 717.5 1031.4 716.0C1038.7 714.5 1048.9 711.3 1052.4 710.3" stroke="#E82010" stroke-width="1.4" stroke-opacity="0.88"/>
<path d="M897.3 727.4C900.7 726.4 910.5 724.0 917.7 721.7C924.9 719.4 932.1 715.4 940.5 713.7C948.8 712.0 963.2 711.8 967.7 711.5" stroke="#E82010" stroke-width="1.4" stroke-opacity="0.88"/>
<path d="M929.1 594.4C929.8 596.7 931.4 604.3 933.6 608.0C935.9 611.8 941.2 615.6 942.7 617.1" stroke="#E82010" stroke-width="1.4" stroke-opacity="0.88"/>
<path d="M1052.4 625.1C1048.9 625.5 1038.7 625.8 1031.4 627.4C1024.1 628.9 1015.3 631.9 1008.6 634.2C1002.0 636.5 994.4 639.9 991.6 641.0" stroke="#E02010" stroke-width="1.4" stroke-opacity="0.85"/>
<path d="M897.3 670.5C900.7 674.3 910.9 685.7 917.7 693.3C924.5 700.8 932.1 709.4 938.2 716.0C944.2 722.6 949.9 727.4 954.1 733.0C958.3 738.7 961.7 747.2 963.2 750.1" stroke="#E82010" stroke-width="1.4" stroke-opacity="0.88"/>
<path d="M1033.6 704.6C1033.3 708.4 1031.2 719.8 1031.4 727.4C1031.6 734.9 1034.2 746.3 1034.8 750.1" stroke="#E82010" stroke-width="1.4" stroke-opacity="0.88"/>
<path d="M991.6 696.7C994.4 698.0 1002.0 701.8 1008.6 704.6C1015.3 707.5 1024.1 710.9 1031.4 713.7C1038.7 716.6 1048.9 720.4 1052.4 721.7" stroke="#E82010" stroke-width="1.4" stroke-opacity="0.88"/>
<path d="M940.5 759.8C942.0 756.6 946.9 746.4 949.5 741.0C952.2 735.6 954.8 732.5 956.4 727.4C957.9 722.2 958.3 713.2 958.6 710.3" stroke="#E82010" stroke-width="1.4" stroke-opacity="0.88"/>
<path d="M897.3 759.8C900.7 758.1 911.9 753.6 917.7 750.1C923.6 746.6 930.0 740.6 932.5 738.7" stroke="#E82010" stroke-width="1.4" stroke-opacity="0.88"/>
<path d="M1052.4 602.4C1050.8 604.3 1045.3 609.4 1042.7 613.7C1040.2 618.1 1038.0 626.0 1037.0 628.5" stroke="#E02010" stroke-width="1.4" stroke-opacity="0.85"/>
<path d="M997.3 759.8C998.2 757.2 1002.6 748.9 1003.0 744.4C1003.3 740.0 1002.4 736.8 999.5 733.0C996.7 729.3 988.2 723.6 985.9 721.7" stroke="#E82010" stroke-width="1.4" stroke-opacity="0.88"/>
<path d="M909.8 594.4 L917.7 612.6" stroke="#E02010" stroke-width="1.4" stroke-opacity="0.85"/>
<path d="M1042.7 594.4 L1052.4 619.4" stroke="#E02010" stroke-width="1.4" stroke-opacity="0.85"/>
<path d="M897.3 643.3C902.6 642.5 917.0 640.2 929.1 638.7C941.2 637.2 963.2 634.9 970.0 634.2" stroke="#D82010" stroke-width="1.3" stroke-opacity="0.8"/>
<path d="M974.5 594.4 L970.0 625.1" stroke="#D82010" stroke-width="1.3" stroke-opacity="0.8"/>
<path d="M1020.0 670.5C1020.4 674.3 1022.3 685.7 1022.3 693.3C1022.3 700.8 1020.4 712.2 1020.0 716.0" stroke="#D82010" stroke-width="1.3" stroke-opacity="0.8"/>
<path d="M897.3 681.9C902.6 681.5 918.9 680.4 929.1 679.6C939.3 678.9 953.7 677.7 958.6 677.4" stroke="#D82010" stroke-width="1.3" stroke-opacity="0.8"/>
<path d="M974.5 759.8C975.7 756.2 979.8 745.1 981.4 738.7C982.9 732.4 983.3 724.5 983.6 721.7" stroke="#D82010" stroke-width="1.3" stroke-opacity="0.8"/>
</g>
<g filter="url(#b2)"><ellipse cx="951.8" cy="608.0" rx="4.0" ry="8.0" fill="#806020" fill-opacity="0.6"/><ellipse cx="1025.7" cy="625.1" rx="9.1" ry="5.1" fill="#506018" fill-opacity="0.6" transform="rotate(-20 1025.7 625.1)"/><ellipse cx="991.6" cy="639.9" rx="8.0" ry="3.4" fill="#705018" fill-opacity="0.6" transform="rotate(-40 991.6 639.9)"/><ellipse cx="979.1" cy="717.1" rx="5.7" ry="4.5" fill="#A05010" fill-opacity="0.65"/><ellipse cx="958.6" cy="730.8" rx="4.5" ry="4.5" fill="#704810" fill-opacity="0.5"/><ellipse cx="1033.6" cy="751.2" rx="7.4" ry="6.8" fill="#C05010" fill-opacity="0.7"/><ellipse cx="948.4" cy="616.6" rx="5.1" ry="5.1" fill="#7040B0" fill-opacity="0.85"/><ellipse cx="987.6" cy="616.6" rx="4.3" ry="4.1" fill="#3838E8" fill-opacity="0.9"/><ellipse cx="977.4" cy="624.5" rx="5.5" ry="3.4" fill="#3838E8" fill-opacity="0.9"/><ellipse cx="1030.2" cy="618.3" rx="5.7" ry="5.1" fill="#3848E0" fill-opacity="0.85"/><ellipse cx="979.1" cy="646.7" rx="6.8" ry="5.1" fill="#3C3CE8" fill-opacity="0.9"/><ellipse cx="941.0" cy="654.6" rx="5.1" ry="4.8" fill="#3838D8" fill-opacity="0.85"/><ellipse cx="940.5" cy="664.9" rx="3.4" ry="4.5" fill="#3838D8" fill-opacity="0.85"/><ellipse cx="950.1" cy="678.5" rx="5.1" ry="4.5" fill="#3838D8" fill-opacity="0.85"/><ellipse cx="944.4" cy="679.6" rx="2.0" ry="2.0" fill="#4040FF" fill-opacity="0.9"/><ellipse cx="1004.1" cy="671.1" rx="4.3" ry="4.1" fill="#3838E8" fill-opacity="0.9"/><ellipse cx="1018.9" cy="666.0" rx="4.3" ry="4.1" fill="#3838E8" fill-opacity="0.9"/><ellipse cx="958.1" cy="692.1" rx="4.5" ry="4.5" fill="#4838D8" fill-opacity="0.85"/><ellipse cx="924.0" cy="697.8" rx="4.5" ry="4.3" fill="#3838E8" fill-opacity="0.9"/><ellipse cx="939.3" cy="698.4" rx="6.2" ry="4.5" fill="#3838D8" fill-opacity="0.85"/><ellipse cx="947.3" cy="703.5" rx="3.4" ry="3.4" fill="#4038E8" fill-opacity="0.9"/><ellipse cx="939.9" cy="708.0" rx="4.0" ry="3.6" fill="#3838E8" fill-opacity="0.9"/><ellipse cx="964.9" cy="709.2" rx="3.4" ry="3.4" fill="#3838F0" fill-opacity="0.9"/><ellipse cx="973.4" cy="710.9" rx="5.1" ry="5.1" fill="#7040C0" fill-opacity="0.85"/><ellipse cx="1030.2" cy="692.1" rx="5.1" ry="4.3" fill="#3838E8" fill-opacity="0.9"/><ellipse cx="1047.3" cy="684.2" rx="4.3" ry="4.3" fill="#3838E0" fill-opacity="0.85"/><ellipse cx="1047.8" cy="674.0" rx="2.8" ry="2.5" fill="#3838FF" fill-opacity="0.9"/><ellipse cx="1051.2" cy="692.1" rx="2.3" ry="2.8" fill="#3838E8" fill-opacity="0.85"/><ellipse cx="1033.6" cy="710.3" rx="4.0" ry="3.7" fill="#4030E8" fill-opacity="0.9"/><ellipse cx="1047.8" cy="705.2" rx="2.0" ry="2.0" fill="#3030FF" fill-opacity="0.9"/><ellipse cx="938.8" cy="735.3" rx="4.5" ry="4.1" fill="#3838E8" fill-opacity="0.9"/><ellipse cx="954.1" cy="734.2" rx="4.8" ry="4.8" fill="#6038D0" fill-opacity="0.85"/><ellipse cx="1025.7" cy="729.6" rx="4.5" ry="5.7" fill="#3030A0" fill-opacity="0.6"/><ellipse cx="1043.9" cy="743.3" rx="5.1" ry="4.8" fill="#3838B0" fill-opacity="0.7"/><ellipse cx="1035.9" cy="753.5" rx="5.7" ry="5.5" fill="#9048B0" fill-opacity="0.85"/><ellipse cx="1047.3" cy="755.8" rx="4.0" ry="3.7" fill="#3838D0" fill-opacity="0.8"/><ellipse cx="963.8" cy="755.8" rx="3.7" ry="3.7" fill="#3838F0" fill-opacity="0.9"/><ellipse cx="1039.9" cy="596.7" rx="4.0" ry="3.4" fill="#3838D0" fill-opacity="0.8"/><ellipse cx="1031.4" cy="738.7" rx="2.0" ry="2.0" fill="#3838FF" fill-opacity="0.9"/><ellipse cx="942.2" cy="758.6" rx="2.8" ry="2.3" fill="#3838E8" fill-opacity="0.85"/><ellipse cx="897.3" cy="639.9" rx="1.4" ry="1.8" fill="#6040F0" fill-opacity="0.8"/><ellipse cx="1029.1" cy="653.5" rx="1.8" ry="1.1" fill="#20F040" fill-opacity="1" transform="rotate(30 1029.1 653.5)"/><ellipse cx="931.4" cy="649.5" rx="0.7" ry="0.7" fill="#20C030" fill-opacity="0.7"/><ellipse cx="901.8" cy="741.0" rx="0.7" ry="0.7" fill="#20C030" fill-opacity="0.7"/></g>
</g>
<g clip-path="url(#cp02)">
<rect x="1056" y="593.4" width="154.6" height="166.4" fill="#091704"/>
<g filter="url(#b3)"><ellipse cx="1088.1" cy="636.5" rx="36.4" ry="29.5" fill="#1C4410" fill-opacity="0.28"/><ellipse cx="1167.6" cy="704.6" rx="34.1" ry="34.1" fill="#0A2204" fill-opacity="0.3"/><ellipse cx="1140.9" cy="672.2" rx="6.6" ry="11.4" fill="#38D048" fill-opacity="0.9"/></g>
<g filter="url(#b1)" fill="none" stroke-linecap="round" stroke-linejoin="round">
<path d="M1056.3 713.7C1059.7 711.5 1069.5 705.0 1076.7 700.1C1083.9 695.2 1091.9 690.1 1099.5 684.2C1107.0 678.3 1114.6 670.2 1122.2 664.9C1129.8 659.6 1137.3 655.6 1144.9 652.4C1152.5 649.1 1162.0 647.2 1167.6 645.5C1173.3 643.8 1177.1 642.7 1179.0 642.1" stroke="#D83010" stroke-width="1.5" stroke-opacity="0.85"/>
<path d="M1138.1 593.3C1138.3 595.2 1139.4 600.8 1139.2 604.6C1139.0 608.4 1137.3 614.1 1137.0 616.0" stroke="#D84010" stroke-width="1.5" stroke-opacity="0.8"/>
<path d="M1056.3 634.2C1059.7 634.9 1069.5 637.6 1076.7 638.7C1083.9 639.9 1091.9 641.4 1099.5 641.0C1107.0 640.6 1116.9 637.6 1122.2 636.5C1127.5 635.3 1129.8 634.6 1131.3 634.2" stroke="#806010" stroke-width="1.3" stroke-opacity="0.7"/>
<path d="M1056.3 659.2C1059.7 660.3 1069.5 663.7 1076.7 666.0C1083.9 668.3 1094.2 671.7 1099.5 672.8C1104.8 674.0 1107.0 672.8 1108.5 672.8" stroke="#C03010" stroke-width="1.2" stroke-opacity="0.7"/>
<path d="M1173.3 593.3C1176.2 594.6 1184.3 598.8 1190.4 601.2C1196.5 603.7 1206.7 606.9 1209.9 608.0" stroke="#C83010" stroke-width="1.2" stroke-opacity="0.75"/>
<path d="M1056.3 752.4C1061.6 751.0 1077.9 747.8 1088.1 744.4C1098.3 741.0 1108.2 737.0 1117.6 731.9C1127.1 726.8 1136.6 719.0 1144.9 713.7C1153.2 708.4 1160.1 704.3 1167.6 700.1C1175.2 695.9 1183.3 691.9 1190.4 688.7C1197.4 685.5 1206.7 682.1 1209.9 680.8" stroke="#E02810" stroke-width="1.9" stroke-opacity="0.9"/>
<path d="M1117.6 744.4C1120.3 744.0 1127.1 743.1 1133.5 742.1C1140.0 741.2 1148.7 740.2 1156.3 738.7C1163.8 737.2 1173.7 734.9 1179.0 733.0C1184.3 731.2 1186.6 728.3 1188.1 727.4" stroke="#D03010" stroke-width="1.3" stroke-opacity="0.8"/>
<path d="M1108.5 759.8C1109.3 758.1 1111.4 752.8 1113.1 750.1C1114.8 747.3 1117.3 745.2 1118.8 743.3C1120.3 741.4 1121.6 739.5 1122.2 738.7" stroke="#F03010" stroke-width="3.2" stroke-opacity="0.95"/>
<path d="M1172.2 700.1C1173.7 701.8 1178.6 706.5 1181.3 710.3C1183.9 714.1 1187.0 720.7 1188.1 722.8" stroke="#D03010" stroke-width="1.3" stroke-opacity="0.8"/>
<path d="M1190.4 727.4C1191.9 728.7 1196.2 731.9 1199.5 735.3C1202.7 738.7 1208.2 745.7 1209.9 747.8" stroke="#D03010" stroke-width="1.3" stroke-opacity="0.8"/>
<path d="M1108.5 677.4C1105.1 679.6 1094.3 687.2 1088.1 691.0C1081.8 694.8 1076.3 697.8 1071.0 700.1C1065.7 702.4 1058.7 703.9 1056.3 704.6" stroke="#C83010" stroke-width="1.2" stroke-opacity="0.75"/>
<path d="M1147.2 705.8C1147.9 708.4 1150.6 716.2 1151.7 721.7C1152.9 727.2 1153.2 732.4 1154.0 738.7C1154.8 745.1 1155.9 756.2 1156.3 759.8" stroke="#907010" stroke-width="2.4" stroke-opacity="0.75"/>
<path d="M1167.6 659.2C1168.0 662.6 1169.9 674.0 1169.9 679.6C1169.9 685.3 1168.4 689.1 1167.6 693.3C1166.9 697.4 1165.7 702.7 1165.4 704.6" stroke="#C83010" stroke-width="1.2" stroke-opacity="0.7"/>
<path d="M1151.7 647.8C1153.6 649.3 1158.5 654.6 1163.1 656.9C1167.6 659.2 1173.5 660.3 1179.0 661.5C1184.5 662.6 1190.9 662.2 1196.0 663.7C1201.2 665.2 1207.6 669.4 1209.9 670.5" stroke="#C83010" stroke-width="1.2" stroke-opacity="0.7"/>
<path d="M1056.3 727.4C1059.7 727.0 1069.5 725.1 1076.7 725.1C1083.9 725.1 1091.9 727.2 1099.5 727.4C1107.0 727.6 1118.4 726.4 1122.2 726.2" stroke="#C03010" stroke-width="1.2" stroke-opacity="0.7"/>
<path d="M1076.7 593.3C1075.8 596.7 1072.9 606.5 1071.0 613.7C1069.2 620.9 1065.4 628.9 1065.4 636.5C1065.4 644.0 1068.2 651.6 1071.0 659.2C1073.9 666.8 1078.6 674.3 1082.4 681.9C1086.2 689.5 1090.6 697.1 1093.8 704.6C1097.0 712.2 1100.4 723.6 1101.7 727.4" stroke="#B03010" stroke-width="1.2" stroke-opacity="0.65"/>
<path d="M1209.9 625.1C1207.6 627.0 1199.3 631.7 1196.0 636.5C1192.8 641.2 1190.4 646.9 1190.4 653.5C1190.4 660.1 1193.2 669.6 1196.0 676.2C1198.9 682.9 1205.5 690.4 1207.4 693.3" stroke="#C03010" stroke-width="1.2" stroke-opacity="0.7"/>
<path d="M1122.2 726.2C1125.0 724.5 1133.5 718.7 1139.2 716.0C1144.9 713.3 1153.4 711.3 1156.3 710.3" stroke="#C03010" stroke-width="1.2" stroke-opacity="0.7"/>
<path d="M1188.1 727.4C1187.1 730.2 1183.9 739.0 1182.4 744.4C1180.9 749.8 1179.6 757.2 1179.0 759.8" stroke="#C03010" stroke-width="1.2" stroke-opacity="0.7"/>
<path d="M1056.3 602.4 L1074.5 606.9" stroke="#B04010" stroke-width="1.2" stroke-opacity="0.65"/>
<path d="M1156.3 738.7C1158.2 740.6 1164.2 746.6 1167.6 750.1C1171.0 753.6 1175.2 758.1 1176.7 759.8" stroke="#C03010" stroke-width="1.2" stroke-opacity="0.7"/>
<path d="M1088.1 759.8C1090.0 756.2 1095.3 746.0 1099.5 738.7C1103.6 731.4 1109.3 723.6 1113.1 716.0C1116.9 708.4 1119.9 699.7 1122.2 693.3C1124.5 686.8 1126.0 680.0 1126.7 677.4" stroke="#C03010" stroke-width="1.2" stroke-opacity="0.7"/>
<path d="M1138.1 616.0C1139.2 613.7 1142.6 606.2 1144.9 602.4C1147.2 598.6 1150.6 594.8 1151.7 593.3" stroke="#D04010" stroke-width="1.3" stroke-opacity="0.75"/>
<path d="M1056.3 650.1 L1067.6 641.0" stroke="#A05010" stroke-width="1.2" stroke-opacity="0.6"/>
<path d="M1056.3 681.9C1059.7 683.0 1069.5 684.9 1076.7 688.7C1083.9 692.5 1092.6 697.4 1099.5 704.6C1106.3 711.8 1114.6 727.4 1117.6 731.9" stroke="#C03010" stroke-width="1.2" stroke-opacity="0.65"/>
<path d="M1133.5 759.8C1133.9 756.2 1134.7 746.0 1135.8 738.7C1137.0 731.4 1139.6 719.8 1140.4 716.0" stroke="#C03010" stroke-width="1.2" stroke-opacity="0.65"/>
<path d="M1156.3 593.3C1156.7 596.7 1156.7 607.9 1158.5 613.7C1160.4 619.6 1163.8 624.0 1167.6 628.5C1171.5 633.0 1179.5 638.9 1181.8 641.0" stroke="#C03010" stroke-width="1.2" stroke-opacity="0.6"/>
<path d="M1209.9 716.0C1206.7 716.4 1197.4 716.4 1190.4 718.3C1183.3 720.2 1171.4 725.8 1167.6 727.4" stroke="#C03010" stroke-width="1.2" stroke-opacity="0.6"/>
<path d="M1076.7 604.6C1075.4 606.5 1071.4 612.2 1068.8 616.0C1066.1 619.8 1062.9 624.7 1060.8 627.4C1058.7 630.0 1057.0 631.2 1056.3 631.9" stroke="#40B030" stroke-width="3.0" stroke-opacity="0.6"/>
<path d="M1133.5 631.9C1133.0 633.8 1130.1 639.5 1130.1 643.3C1130.1 647.1 1132.4 651.6 1133.5 654.6C1134.7 657.7 1136.4 660.3 1137.0 661.5" stroke="#40B030" stroke-width="4.0" stroke-opacity="0.7"/>
<path d="M1143.8 681.9C1144.5 684.2 1147.2 690.8 1148.3 695.5C1149.5 700.3 1150.2 707.9 1150.6 710.3" stroke="#50B030" stroke-width="4.5" stroke-opacity="0.75"/>
</g>
<g filter="url(#b2)"><ellipse cx="1081.8" cy="600.3" rx="7.0" ry="5.7" fill="#30D050" fill-opacity="0.9"/><ellipse cx="1138.1" cy="624.5" rx="7.0" ry="10.0" fill="#38D048" fill-opacity="0.9" transform="rotate(10 1138.1 624.5)"/><ellipse cx="1167.6" cy="697.8" rx="5.7" ry="5.1" fill="#506020" fill-opacity="0.6"/><ellipse cx="1123.3" cy="733.0" rx="6.8" ry="5.7" fill="#607020" fill-opacity="0.6"/><ellipse cx="1081.8" cy="599.6" rx="5.0" ry="3.9" fill="#3070E8" fill-opacity="0.9"/><ellipse cx="1140.4" cy="623.4" rx="4.3" ry="5.7" fill="#3070E8" fill-opacity="0.9"/><ellipse cx="1140.9" cy="671.1" rx="4.3" ry="6.2" fill="#3070E0" fill-opacity="0.9"/><ellipse cx="1060.8" cy="618.3" rx="4.3" ry="4.1" fill="#3848F0" fill-opacity="0.95"/><ellipse cx="1112.0" cy="609.2" rx="4.5" ry="4.5" fill="#3858F0" fill-opacity="0.95"/><ellipse cx="1097.8" cy="605.8" rx="3.6" ry="1.8" fill="#3030F0" fill-opacity="0.9"/><ellipse cx="1188.7" cy="612.6" rx="2.8" ry="2.8" fill="#3030F8" fill-opacity="0.95"/><ellipse cx="1206.8" cy="619.4" rx="4.0" ry="3.7" fill="#5040F0" fill-opacity="0.95"/><ellipse cx="1181.8" cy="641.0" rx="5.1" ry="3.6" fill="#3838F0" fill-opacity="0.95"/><ellipse cx="1147.2" cy="645.5" rx="4.8" ry="4.8" fill="#C040B0" fill-opacity="0.9"/><ellipse cx="1146.6" cy="645.0" rx="3.4" ry="3.4" fill="#7050F0" fill-opacity="0.9"/><ellipse cx="1108.0" cy="674.0" rx="4.0" ry="5.1" fill="#6040E0" fill-opacity="0.9"/><ellipse cx="1162.5" cy="672.8" rx="5.1" ry="3.2" fill="#3030F0" fill-opacity="0.85"/><ellipse cx="1162.5" cy="692.1" rx="5.5" ry="4.5" fill="#4038E8" fill-opacity="0.95"/><ellipse cx="1172.2" cy="699.0" rx="4.3" ry="4.1" fill="#4848F0" fill-opacity="0.95"/><ellipse cx="1189.2" cy="724.5" rx="4.5" ry="5.1" fill="#6038D0" fill-opacity="0.9"/><ellipse cx="1122.8" cy="735.9" rx="5.1" ry="4.0" fill="#3848F0" fill-opacity="0.95"/><ellipse cx="1118.8" cy="743.3" rx="2.5" ry="2.3" fill="#F03010" fill-opacity="0.95"/><ellipse cx="1128.4" cy="617.1" rx="0.7" ry="0.7" fill="#30E040" fill-opacity="0.9"/><ellipse cx="1204.0" cy="718.3" rx="0.9" ry="0.9" fill="#30E040" fill-opacity="0.9"/><ellipse cx="1196.0" cy="749.0" rx="0.7" ry="0.7" fill="#30E040" fill-opacity="0.9"/></g>
</g>
<g clip-path="url(#cp03)">
<rect x="1214.2" y="593.4" width="154.5" height="166.4" fill="#0C1406"/>
<g filter="url(#b3)"><ellipse cx="1291.5" cy="654.6" rx="79.5" ry="10.2" fill="#C02010" fill-opacity="0.35" transform="rotate(8 1291.5 654.6)"/></g>
<g filter="url(#b1)" fill="none" stroke-linecap="round" stroke-linejoin="round">
<path d="M1214.3 610.3C1217.7 612.6 1227.5 619.2 1234.7 624.0C1241.9 628.7 1250.6 634.0 1257.5 638.7C1264.3 643.5 1270.0 648.6 1275.6 652.4C1281.3 656.2 1285.1 659.6 1291.5 661.5C1298.0 663.3 1310.5 663.3 1314.3 663.7" stroke="#F03010" stroke-width="4.0" stroke-opacity="0.9"/>
<path d="M1214.3 639.9C1218.6 640.6 1231.3 642.7 1240.4 644.4C1249.5 646.1 1260.3 648.4 1268.8 650.1C1277.3 651.8 1284.0 653.3 1291.5 654.6C1299.1 656.0 1306.7 657.1 1314.3 658.0C1321.8 659.0 1330.4 659.2 1337.0 660.3C1343.6 661.5 1348.7 663.2 1354.0 664.9C1359.3 666.6 1366.4 669.6 1368.8 670.5" stroke="#F82810" stroke-width="5.0" stroke-opacity="0.95"/>
<path d="M1222.2 593.3C1222.8 595.7 1224.5 602.7 1225.6 608.0C1226.8 613.3 1227.5 619.4 1229.0 625.1C1230.6 630.8 1233.8 639.3 1234.7 642.1" stroke="#F02010" stroke-width="2.6" stroke-opacity="0.9"/>
<path d="M1264.3 594.4C1263.1 597.6 1259.9 607.5 1257.5 613.7C1255.0 620.0 1252.0 625.8 1249.5 631.9C1247.0 638.0 1244.2 644.6 1242.7 650.1C1241.2 655.6 1241.7 659.9 1240.4 664.9C1239.1 669.8 1235.7 677.2 1234.7 679.6" stroke="#E82010" stroke-width="2.6" stroke-opacity="0.9"/>
<path d="M1283.6 641.0C1284.5 639.3 1286.4 633.8 1289.3 630.8C1292.1 627.7 1296.5 624.5 1300.6 622.8C1304.8 621.1 1309.2 620.4 1314.3 620.5C1319.4 620.7 1327.2 622.6 1331.3 624.0C1335.5 625.3 1337.9 627.7 1339.3 628.5" stroke="#E82010" stroke-width="2.0" stroke-opacity="0.9"/>
<path d="M1343.8 642.1C1341.7 644.2 1336.2 650.3 1331.3 654.6C1326.4 659.0 1319.0 664.3 1314.3 668.3C1309.5 672.2 1306.7 675.3 1302.9 678.5C1299.1 681.7 1293.4 686.1 1291.5 687.6" stroke="#E07010" stroke-width="4.2" stroke-opacity="0.85"/>
<path d="M1352.9 639.9 L1368.8 638.7" stroke="#E07010" stroke-width="2.5" stroke-opacity="0.8"/>
<path d="M1284.7 696.7C1282.1 698.0 1275.3 702.2 1268.8 704.6C1262.4 707.1 1255.2 708.6 1246.1 711.5C1237.0 714.3 1219.6 720.0 1214.3 721.7" stroke="#E06010" stroke-width="2.6" stroke-opacity="0.85"/>
<path d="M1285.9 697.8C1283.4 700.8 1275.8 710.1 1271.1 716.0C1266.4 721.9 1262.6 727.7 1257.5 733.0C1252.3 738.3 1245.1 743.4 1240.4 747.8C1235.7 752.3 1230.9 757.8 1229.0 759.8" stroke="#F02010" stroke-width="2.6" stroke-opacity="0.9"/>
<path d="M1368.8 725.1C1365.4 726.6 1355.6 730.8 1348.4 734.2C1341.2 737.6 1333.2 742.1 1325.6 745.5C1318.1 749.0 1308.6 752.3 1302.9 754.6C1297.2 757.0 1293.4 758.9 1291.5 759.8" stroke="#F02010" stroke-width="2.6" stroke-opacity="0.92"/>
<path d="M1327.9 681.9C1331.3 682.5 1341.5 684.4 1348.4 685.3C1355.2 686.3 1365.4 687.2 1368.8 687.6" stroke="#E82010" stroke-width="2.0" stroke-opacity="0.85"/>
<path d="M1325.6 666.0C1326.8 668.7 1330.9 676.4 1332.5 681.9C1334.0 687.4 1334.9 693.3 1334.7 699.0C1334.5 704.6 1332.8 710.3 1331.3 716.0C1329.8 721.7 1326.6 730.2 1325.6 733.0" stroke="#E02010" stroke-width="1.4" stroke-opacity="0.8"/>
<path d="M1214.3 704.6 L1223.4 700.1" stroke="#F02010" stroke-width="2.6" stroke-opacity="0.9"/>
<path d="M1368.8 602.4C1365.4 602.4 1354.6 602.4 1348.4 602.4C1342.1 602.4 1337.0 602.7 1331.3 602.4C1325.6 602.0 1317.1 600.5 1314.3 600.1" stroke="#E85010" stroke-width="3.2" stroke-opacity="0.85"/>
<path d="M1359.7 593.3C1358.8 595.7 1354.0 603.7 1354.0 608.0C1354.0 612.4 1358.8 617.5 1359.7 619.4" stroke="#E06010" stroke-width="2.0" stroke-opacity="0.8"/>
<path d="M1300.6 593.3C1302.0 594.8 1305.9 599.3 1308.6 602.4C1311.2 605.4 1314.5 609.0 1316.5 611.5C1318.6 613.9 1320.3 616.2 1321.1 617.1" stroke="#E02010" stroke-width="1.4" stroke-opacity="0.8"/>
<path d="M1214.3 663.7C1217.7 666.8 1228.5 677.0 1234.7 681.9C1241.0 686.8 1247.6 689.5 1251.8 693.3C1255.9 697.1 1258.4 702.7 1259.7 704.6" stroke="#E82010" stroke-width="1.5" stroke-opacity="0.85"/>
<path d="M1214.3 628.5C1216.7 630.2 1223.7 635.1 1229.0 638.7C1234.3 642.3 1243.2 648.2 1246.1 650.1" stroke="#E82010" stroke-width="1.5" stroke-opacity="0.85"/>
<path d="M1298.4 735.3C1301.0 734.4 1309.7 731.3 1314.3 729.6C1318.8 727.9 1323.7 725.8 1325.6 725.1" stroke="#E82010" stroke-width="1.4" stroke-opacity="0.85"/>
<path d="M1325.6 689.9C1327.5 691.4 1332.3 695.0 1337.0 699.0C1341.7 702.9 1348.7 709.4 1354.0 713.7C1359.3 718.1 1366.4 723.2 1368.8 725.1" stroke="#E82010" stroke-width="1.5" stroke-opacity="0.85"/>
<path d="M1287.0 700.1C1287.4 702.7 1289.3 710.9 1289.3 716.0C1289.3 721.1 1287.4 728.3 1287.0 730.8" stroke="#E82010" stroke-width="1.4" stroke-opacity="0.85"/>
<path d="M1314.3 663.7 L1317.7 677.4" stroke="#E02010" stroke-width="1.4" stroke-opacity="0.8"/>
<path d="M1214.3 730.8C1217.7 729.3 1227.5 724.5 1234.7 721.7C1241.9 718.8 1253.7 715.1 1257.5 713.7" stroke="#D06010" stroke-width="1.3" stroke-opacity="0.7"/>
<path d="M1283.6 602.4C1283.4 604.3 1281.1 610.3 1282.5 613.7C1283.8 617.1 1290.0 621.3 1291.5 622.8" stroke="#E82010" stroke-width="1.4" stroke-opacity="0.85"/>
<path d="M1283.6 602.4C1285.9 601.6 1293.1 597.8 1297.2 597.8C1301.4 597.8 1306.7 601.6 1308.6 602.4" stroke="#E82010" stroke-width="1.4" stroke-opacity="0.85"/>
<path d="M1368.8 628.5C1367.3 626.8 1363.1 621.1 1359.7 618.3C1356.3 615.4 1350.3 612.6 1348.4 611.5" stroke="#E04010" stroke-width="1.4" stroke-opacity="0.75"/>
<path d="M1246.1 670.5C1247.0 674.3 1249.9 685.7 1251.8 693.3C1253.7 700.8 1256.5 712.2 1257.5 716.0" stroke="#E02010" stroke-width="1.3" stroke-opacity="0.8"/>
<path d="M1337.0 704.6C1337.9 708.4 1342.7 719.8 1342.7 727.4C1342.7 734.9 1337.9 746.3 1337.0 750.1" stroke="#E02010" stroke-width="1.3" stroke-opacity="0.8"/>
<path d="M1266.5 593.3 L1265.4 613.7" stroke="#30A030" stroke-width="2.0" stroke-opacity="0.5"/>
<path d="M1239.3 725.1 L1238.7 759.8" stroke="#30A030" stroke-width="3.0" stroke-opacity="0.45"/>
</g>
<g filter="url(#b2)"><ellipse cx="1352.9" cy="631.9" rx="7.7" ry="10.8" fill="#40E030" fill-opacity="0.95" transform="rotate(15 1352.9 631.9)"/><ellipse cx="1293.2" cy="688.7" rx="7.0" ry="8.5" fill="#38D840" fill-opacity="0.92" transform="rotate(20 1293.2 688.7)"/><ellipse cx="1301.8" cy="677.4" rx="3.4" ry="4.8" fill="#60A030" fill-opacity="0.8" transform="rotate(30 1301.8 677.4)"/><ellipse cx="1241.0" cy="620.5" rx="5.1" ry="8.5" fill="#607030" fill-opacity="0.7"/><ellipse cx="1354.6" cy="634.8" rx="5.1" ry="4.3" fill="#3868E0" fill-opacity="0.9"/><ellipse cx="1293.2" cy="688.7" rx="5.1" ry="4.5" fill="#3860E0" fill-opacity="0.9"/><ellipse cx="1241.0" cy="614.3" rx="4.8" ry="4.3" fill="#5040A0" fill-opacity="0.85"/><ellipse cx="1324.5" cy="601.8" rx="5.5" ry="4.3" fill="#5038D0" fill-opacity="0.9"/><ellipse cx="1338.1" cy="614.3" rx="4.8" ry="4.5" fill="#4838E8" fill-opacity="0.95"/><ellipse cx="1275.1" cy="645.5" rx="7.4" ry="5.1" fill="#7040D0" fill-opacity="0.9"/><ellipse cx="1313.1" cy="652.4" rx="5.7" ry="4.5" fill="#5030A0" fill-opacity="0.8"/><ellipse cx="1306.3" cy="660.9" rx="5.1" ry="4.0" fill="#5030A0" fill-opacity="0.8"/><ellipse cx="1293.8" cy="636.5" rx="2.3" ry="2.3" fill="#3030F0" fill-opacity="0.9"/><ellipse cx="1307.5" cy="638.7" rx="2.3" ry="2.3" fill="#3030C0" fill-opacity="0.7"/><ellipse cx="1349.5" cy="656.3" rx="2.8" ry="2.8" fill="#3030F8" fill-opacity="0.95"/><ellipse cx="1321.7" cy="684.2" rx="6.8" ry="6.2" fill="#E03020" fill-opacity="0.6"/><ellipse cx="1321.7" cy="684.2" rx="5.2" ry="4.8" fill="#E040A0" fill-opacity="0.9"/><ellipse cx="1290.4" cy="738.7" rx="8.5" ry="8.0" fill="#D05020" fill-opacity="0.85"/><ellipse cx="1287.0" cy="735.3" rx="4.5" ry="4.3" fill="#C04080" fill-opacity="0.8"/><ellipse cx="1259.2" cy="594.4" rx="4.0" ry="1.7" fill="#3080E0" fill-opacity="0.8"/><ellipse cx="1262.0" cy="717.1" rx="0.7" ry="0.7" fill="#30E040" fill-opacity="0.9"/><ellipse cx="1292.7" cy="707.5" rx="0.7" ry="0.7" fill="#30E040" fill-opacity="0.9"/></g>
</g>
<g clip-path="url(#cp10)">
<rect x="738.4" y="764.3" width="154.9" height="166.0" fill="#100301"/>
<g filter="url(#b3)"><ellipse cx="815.5" cy="847.2" rx="79.5" ry="85.2" fill="#3A0806" fill-opacity="0.22"/></g>
<g filter="url(#b2)"><ellipse cx="744.0" cy="768.8" rx="5.7" ry="4.5" fill="#7020A0" fill-opacity="0.8"/><ellipse cx="821.2" cy="789.8" rx="6.2" ry="4.5" fill="#C020D0" fill-opacity="0.9" transform="rotate(20 821.2 789.8)"/><ellipse cx="820.1" cy="789.3" rx="2.8" ry="2.3" fill="#FF30E0" fill-opacity="0.9"/><ellipse cx="863.3" cy="799.5" rx="5.7" ry="6.2" fill="#6020A0" fill-opacity="0.75"/><ellipse cx="884.9" cy="792.1" rx="5.7" ry="4.0" fill="#7020A0" fill-opacity="0.7"/><ellipse cx="757.6" cy="812.0" rx="5.7" ry="6.2" fill="#E01830" fill-opacity="0.7"/><ellipse cx="755.9" cy="813.7" rx="2.5" ry="4.8" fill="#FF30B0" fill-opacity="0.95"/><ellipse cx="768.4" cy="822.2" rx="4.5" ry="4.5" fill="#6020B0" fill-opacity="0.8"/><ellipse cx="809.9" cy="828.5" rx="5.7" ry="3.4" fill="#5020A0" fill-opacity="0.7"/><ellipse cx="795.1" cy="839.3" rx="3.4" ry="5.1" fill="#5020C0" fill-opacity="0.8" transform="rotate(-30 795.1 839.3)"/><ellipse cx="878.0" cy="841.5" rx="8.0" ry="5.7" fill="#D01820" fill-opacity="0.6"/><ellipse cx="879.2" cy="841.5" rx="5.7" ry="4.0" fill="#7020B0" fill-opacity="0.8"/><ellipse cx="825.8" cy="868.8" rx="5.1" ry="6.2" fill="#F01820" fill-opacity="0.8" transform="rotate(30 825.8 868.8)"/><ellipse cx="828.0" cy="863.1" rx="3.2" ry="4.3" fill="#F020E0" fill-opacity="0.97" transform="rotate(20 828.0 863.1)"/><ellipse cx="773.5" cy="859.7" rx="4.5" ry="4.5" fill="#5020A0" fill-opacity="0.7"/><ellipse cx="775.8" cy="870.0" rx="4.0" ry="5.7" fill="#5020A0" fill-opacity="0.7"/><ellipse cx="789.4" cy="873.4" rx="3.4" ry="4.5" fill="#6020B8" fill-opacity="0.8" transform="rotate(20 789.4 873.4)"/><ellipse cx="817.8" cy="896.1" rx="4.5" ry="3.4" fill="#6020B0" fill-opacity="0.8"/><ellipse cx="853.0" cy="897.2" rx="5.1" ry="4.5" fill="#5020B0" fill-opacity="0.8"/><ellipse cx="741.1" cy="912.0" rx="3.4" ry="4.5" fill="#6020B0" fill-opacity="0.8"/><ellipse cx="806.5" cy="868.8" rx="4.5" ry="3.4" fill="#5020A0" fill-opacity="0.6"/><ellipse cx="861.0" cy="796.1" rx="5.7" ry="4.5" fill="#D01820" fill-opacity="0.5"/></g>
<g filter="url(#b1)" fill="none" stroke-linecap="round" stroke-linejoin="round">
<path d="M738.3 776.8C742.6 777.7 755.3 781.1 764.4 782.5C773.5 783.8 784.3 784.5 792.8 784.7C801.3 784.9 811.8 783.8 815.5 783.6" stroke="#EC1618" stroke-width="1.8" stroke-opacity="0.9"/>
<path d="M738.3 798.4C741.1 799.9 748.1 804.0 755.3 807.5C762.5 810.9 772.9 814.7 781.5 818.8C790.0 823.0 798.9 828.3 806.5 832.5C814.0 836.6 819.7 840.8 826.9 843.8C834.1 846.8 842.1 848.6 849.6 850.6C857.2 852.7 865.1 854.0 872.4 856.3C879.7 858.6 889.9 862.9 893.4 864.3" stroke="#EC1618" stroke-width="1.8" stroke-opacity="0.9"/>
<path d="M758.7 764.3C758.3 767.7 757.0 777.5 756.5 784.7C755.9 791.9 754.0 800.6 755.3 807.5C756.6 814.3 761.0 820.0 764.4 825.6C767.8 831.3 772.9 835.5 775.8 841.5C778.6 847.6 780.1 854.8 781.5 862.0C782.8 869.2 782.2 877.7 783.7 884.7C785.2 891.7 787.9 898.0 790.5 904.0C793.2 910.1 797.4 916.7 799.6 921.1C801.9 925.5 803.4 928.9 804.2 930.4" stroke="#EC1618" stroke-width="1.8" stroke-opacity="0.9"/>
<path d="M806.5 764.3C807.2 766.7 808.9 774.1 811.0 779.0C813.1 784.0 815.9 788.7 819.0 793.8C822.0 798.9 826.0 804.4 829.2 809.7C832.4 815.0 835.6 819.6 838.3 825.6C840.9 831.7 843.2 839.7 845.1 846.1C847.0 852.5 848.9 861.2 849.6 864.3" stroke="#EC1618" stroke-width="1.8" stroke-opacity="0.9"/>
<path d="M738.3 825.6C741.7 826.4 751.5 828.7 758.7 830.2C765.9 831.7 773.9 831.7 781.5 834.7C789.0 837.8 797.7 841.7 804.2 848.4C810.6 855.0 817.4 870.1 820.1 874.5" stroke="#EC1618" stroke-width="1.8" stroke-opacity="0.9"/>
<path d="M820.1 874.5C817.4 875.6 810.2 879.6 804.2 881.3C798.1 883.0 790.4 883.8 783.7 884.7C777.1 885.7 772.0 885.1 764.4 887.0C756.8 888.9 742.6 894.6 738.3 896.1" stroke="#EC1618" stroke-width="1.8" stroke-opacity="0.9"/>
<path d="M820.1 874.5C820.8 876.6 824.1 882.8 824.6 887.0C825.2 891.2 823.1 894.8 823.5 899.5C823.9 904.2 825.4 910.3 826.9 915.4C828.4 920.6 831.6 927.9 832.6 930.4" stroke="#EC1618" stroke-width="1.8" stroke-opacity="0.9"/>
<path d="M823.5 899.5C826.0 898.9 833.0 898.2 838.3 896.1C843.6 894.0 849.6 889.5 855.3 887.0C861.0 884.5 866.0 882.8 872.4 881.3C878.7 879.8 889.9 878.5 893.4 877.9" stroke="#EC1618" stroke-width="1.8" stroke-opacity="0.9"/>
<path d="M823.5 899.5C820.3 900.8 811.2 905.2 804.2 907.5C797.2 909.7 789.0 912.4 781.5 913.1C773.9 913.9 765.9 912.6 758.7 912.0C751.5 911.4 741.7 910.1 738.3 909.7" stroke="#EC1618" stroke-width="1.8" stroke-opacity="0.9"/>
<path d="M893.4 768.8C890.8 771.5 883.4 780.4 878.0 784.7C872.6 789.1 866.7 792.7 861.0 795.0C855.3 797.2 849.6 798.0 844.0 798.4C838.3 798.7 831.1 798.0 826.9 797.2C822.7 796.5 820.3 794.4 819.0 793.8" stroke="#EC1618" stroke-width="1.8" stroke-opacity="0.9"/>
<path d="M849.6 764.3C848.7 766.4 846.8 772.4 844.0 776.8C841.1 781.1 836.8 787.6 832.6 790.4C828.4 793.2 821.2 793.2 819.0 793.8" stroke="#EC1618" stroke-width="1.8" stroke-opacity="0.9"/>
<path d="M738.3 848.4C741.7 849.1 751.5 852.3 758.7 852.9C765.9 853.5 773.5 851.8 781.5 851.8C789.4 851.8 800.0 849.1 806.5 852.9C812.9 856.7 817.8 870.9 820.1 874.5" stroke="#EC1618" stroke-width="1.8" stroke-opacity="0.9"/>
<path d="M806.5 852.9C808.0 851.0 811.8 846.5 815.5 841.5C819.3 836.6 823.5 827.2 829.2 823.4C834.9 819.6 842.4 818.4 849.6 818.8C856.8 819.2 865.1 823.0 872.4 825.6C879.7 828.3 889.9 833.2 893.4 834.7" stroke="#EC1618" stroke-width="1.8" stroke-opacity="0.9"/>
<path d="M866.7 764.3C867.1 766.7 867.1 773.7 869.0 779.0C870.8 784.3 876.5 793.2 878.0 796.1" stroke="#EC1618" stroke-width="1.8" stroke-opacity="0.9"/>
<path d="M781.5 862.0C784.5 861.6 794.0 862.8 799.6 859.7C805.3 856.7 812.9 846.5 815.5 843.8" stroke="#EC1618" stroke-width="1.8" stroke-opacity="0.9"/>
<path d="M849.6 864.3C851.5 866.2 856.3 870.9 861.0 875.6C865.7 880.4 872.6 887.9 878.0 892.7C883.4 897.4 890.8 902.2 893.4 904.0" stroke="#EC1618" stroke-width="1.8" stroke-opacity="0.9"/>
<path d="M849.6 864.3C853.4 863.5 865.1 861.2 872.4 859.7C879.7 858.2 889.9 855.9 893.4 855.2" stroke="#EC1618" stroke-width="1.8" stroke-opacity="0.9"/>
<path d="M738.3 873.4C741.7 873.0 752.5 872.6 758.7 871.1C765.0 869.6 772.9 865.4 775.8 864.3" stroke="#EC1618" stroke-width="1.8" stroke-opacity="0.9"/>
<path d="M893.4 887.0C889.9 889.8 877.8 898.7 872.4 904.0C867.0 909.3 863.8 914.4 861.0 918.8C858.2 923.2 856.3 928.5 855.3 930.4" stroke="#EC1618" stroke-width="1.8" stroke-opacity="0.9"/>
<path d="M758.7 930.4C760.6 927.9 765.9 923.0 770.1 915.4C774.3 907.8 781.5 889.8 783.7 884.7" stroke="#EC1618" stroke-width="1.8" stroke-opacity="0.9"/>
<path d="M738.3 923.4C742.6 923.0 755.3 921.1 764.4 921.1C773.5 921.1 784.3 922.2 792.8 923.4C801.3 924.5 811.8 927.2 815.5 927.9" stroke="#EC1618" stroke-width="1.8" stroke-opacity="0.9"/>
<path d="M838.3 930.4C840.2 927.9 844.0 918.9 849.6 915.4C855.3 912.0 865.1 909.7 872.4 909.7C879.7 909.7 889.9 914.5 893.4 915.4" stroke="#EC1618" stroke-width="1.8" stroke-opacity="0.9"/>
<path d="M781.5 784.7C781.8 787.6 781.5 797.0 783.7 801.8C786.0 806.5 789.8 809.9 795.1 813.1C800.4 816.4 809.9 819.4 815.5 821.1C821.2 822.8 826.9 823.0 829.2 823.4" stroke="#EC1618" stroke-width="1.8" stroke-opacity="0.9"/>
<path d="M738.3 784.7C740.2 786.6 746.8 792.3 749.6 796.1C752.5 799.9 754.4 805.6 755.3 807.5" stroke="#EC1618" stroke-width="1.8" stroke-opacity="0.9"/>
<path d="M878.0 784.7C879.0 786.6 881.2 793.6 883.7 796.1C886.3 798.6 891.8 798.9 893.4 799.5" stroke="#EC1618" stroke-width="1.8" stroke-opacity="0.9"/>
<path d="M792.8 764.3C791.9 766.7 789.0 775.6 787.1 779.0C785.2 782.5 782.4 783.8 781.5 784.7" stroke="#EC1618" stroke-width="1.8" stroke-opacity="0.9"/>
<path d="M804.2 930.4C805.1 927.0 807.2 919.0 809.9 909.7C812.5 900.4 818.4 880.4 820.1 874.5" stroke="#EC1618" stroke-width="1.8" stroke-opacity="0.9"/>
<path d="M872.4 856.3C873.3 859.2 876.5 867.3 878.0 873.4C879.6 879.4 880.5 883.2 881.5 892.7C882.4 902.2 883.3 924.1 883.7 930.4" stroke="#EC1618" stroke-width="1.8" stroke-opacity="0.9"/>
<path d="M738.3 862.0C740.7 864.3 747.7 870.5 753.0 875.6C758.3 880.8 763.8 887.9 770.1 892.7C776.3 897.4 787.1 902.2 790.5 904.0" stroke="#EC1618" stroke-width="1.8" stroke-opacity="0.9"/>
<path d="M829.2 764.3C829.9 766.7 830.3 774.5 833.7 779.0C837.1 783.6 845.1 788.9 849.6 791.5C854.2 794.2 859.1 794.4 861.0 795.0" stroke="#EC1618" stroke-width="1.8" stroke-opacity="0.9"/>
<path d="M893.4 814.3C890.8 813.7 883.4 812.9 878.0 810.9C872.6 808.8 863.8 803.3 861.0 801.8" stroke="#EC1618" stroke-width="1.8" stroke-opacity="0.9"/>
<path d="M738.3 887.0C739.8 889.8 744.0 899.9 747.4 904.0C750.8 908.2 756.8 910.7 758.7 912.0" stroke="#EC1618" stroke-width="1.8" stroke-opacity="0.9"/>
<path d="M861.0 795.0C861.9 798.9 864.8 813.7 866.7 818.8C868.6 823.9 871.4 824.5 872.4 825.6" stroke="#EC1618" stroke-width="1.8" stroke-opacity="0.9"/>
<path d="M775.8 764.3C774.8 766.2 772.0 772.6 770.1 775.6C768.2 778.7 765.4 781.3 764.4 782.5" stroke="#EC1618" stroke-width="1.8" stroke-opacity="0.9"/>
<path d="M893.4 784.7C892.2 782.8 887.6 776.8 886.0 773.4C884.4 770.0 884.1 765.8 883.7 764.3" stroke="#EC1618" stroke-width="1.8" stroke-opacity="0.9"/>
<path d="M820.1 874.5C822.4 872.2 829.6 865.6 833.7 860.9C837.9 856.1 840.5 849.7 845.1 846.1C849.6 842.5 856.1 840.6 861.0 839.3C865.9 837.9 872.4 838.3 874.6 838.1" stroke="#F01818" stroke-width="2.8" stroke-opacity="0.92"/>
</g>
</g>
<g clip-path="url(#cp11)">
<rect x="897.1" y="764.3" width="155.3" height="166.0" fill="#180806"/>
<g filter="url(#b3)"><ellipse cx="974.5" cy="847.2" rx="68.2" ry="68.2" fill="#500808" fill-opacity="0.35"/></g>
<g filter="url(#b2s)"><ellipse cx="936.5" cy="773.9" rx="5.0" ry="4.5" fill="#3C30C0" fill-opacity="0.62"/><ellipse cx="964.3" cy="779.0" rx="5.0" ry="4.5" fill="#3C30C0" fill-opacity="0.62"/><ellipse cx="909.8" cy="779.0" rx="5.0" ry="4.5" fill="#3C30C0" fill-opacity="0.62"/><ellipse cx="988.2" cy="771.1" rx="5.0" ry="4.5" fill="#3C30C0" fill-opacity="0.62"/><ellipse cx="906.4" cy="799.5" rx="5.0" ry="4.5" fill="#3C30C0" fill-opacity="0.62"/><ellipse cx="937.0" cy="800.6" rx="5.0" ry="4.5" fill="#3C30C0" fill-opacity="0.62"/><ellipse cx="930.2" cy="808.6" rx="5.0" ry="4.5" fill="#3C30C0" fill-opacity="0.62"/><ellipse cx="1031.4" cy="781.3" rx="5.0" ry="4.5" fill="#3C30C0" fill-opacity="0.62"/><ellipse cx="1034.8" cy="792.7" rx="5.0" ry="4.5" fill="#3C30C0" fill-opacity="0.62"/><ellipse cx="1049.5" cy="809.7" rx="5.0" ry="4.5" fill="#3C30C0" fill-opacity="0.62"/><ellipse cx="1016.6" cy="818.8" rx="5.0" ry="4.5" fill="#3C30C0" fill-opacity="0.62"/><ellipse cx="917.7" cy="830.2" rx="5.0" ry="4.5" fill="#3C30C0" fill-opacity="0.62"/><ellipse cx="957.5" cy="830.2" rx="5.0" ry="4.5" fill="#3C30C0" fill-opacity="0.62"/><ellipse cx="928.0" cy="841.5" rx="5.0" ry="4.5" fill="#3C30C0" fill-opacity="0.62"/><ellipse cx="985.9" cy="830.2" rx="5.0" ry="4.5" fill="#3C30C0" fill-opacity="0.62"/><ellipse cx="1007.5" cy="827.9" rx="5.0" ry="4.5" fill="#3C30C0" fill-opacity="0.62"/><ellipse cx="1034.8" cy="830.2" rx="5.0" ry="4.5" fill="#3C30C0" fill-opacity="0.62"/><ellipse cx="907.5" cy="855.2" rx="5.0" ry="4.5" fill="#3C30C0" fill-opacity="0.62"/><ellipse cx="1001.8" cy="852.9" rx="5.0" ry="4.5" fill="#3C30C0" fill-opacity="0.62"/><ellipse cx="1025.7" cy="856.3" rx="5.0" ry="4.5" fill="#3C30C0" fill-opacity="0.62"/><ellipse cx="1031.4" cy="852.9" rx="5.0" ry="4.5" fill="#3C30C0" fill-opacity="0.62"/><ellipse cx="960.9" cy="867.7" rx="5.0" ry="4.5" fill="#3C30C0" fill-opacity="0.62"/><ellipse cx="941.6" cy="870.0" rx="5.0" ry="4.5" fill="#3C30C0" fill-opacity="0.62"/><ellipse cx="904.1" cy="874.5" rx="5.0" ry="4.5" fill="#3C30C0" fill-opacity="0.62"/><ellipse cx="1037.0" cy="868.8" rx="5.0" ry="4.5" fill="#3C30C0" fill-opacity="0.62"/><ellipse cx="1010.9" cy="882.5" rx="5.0" ry="4.5" fill="#3C30C0" fill-opacity="0.62"/><ellipse cx="929.1" cy="888.1" rx="5.0" ry="4.5" fill="#3C30C0" fill-opacity="0.62"/><ellipse cx="1029.1" cy="889.3" rx="5.0" ry="4.5" fill="#3C30C0" fill-opacity="0.62"/><ellipse cx="941.6" cy="893.8" rx="5.0" ry="4.5" fill="#3C30C0" fill-opacity="0.62"/><ellipse cx="948.4" cy="899.5" rx="5.0" ry="4.5" fill="#3C30C0" fill-opacity="0.62"/><ellipse cx="924.5" cy="907.5" rx="5.0" ry="4.5" fill="#3C30C0" fill-opacity="0.62"/><ellipse cx="951.8" cy="918.8" rx="5.0" ry="4.5" fill="#3C30C0" fill-opacity="0.62"/><ellipse cx="940.5" cy="924.5" rx="5.0" ry="4.5" fill="#3C30C0" fill-opacity="0.62"/><ellipse cx="906.4" cy="918.8" rx="5.0" ry="4.5" fill="#3C30C0" fill-opacity="0.62"/><ellipse cx="982.5" cy="917.7" rx="5.0" ry="4.5" fill="#3C30C0" fill-opacity="0.62"/><ellipse cx="985.9" cy="923.4" rx="5.0" ry="4.5" fill="#3C30C0" fill-opacity="0.62"/><ellipse cx="1006.4" cy="923.4" rx="5.0" ry="4.5" fill="#3C30C0" fill-opacity="0.62"/></g>
<g filter="url(#b1)" fill="none" stroke-linecap="round" stroke-linejoin="round">
<path d="M897.3 779.0C901.6 780.9 914.3 785.7 923.4 790.4C932.5 795.1 943.3 804.2 951.8 807.5C960.3 810.7 968.5 809.7 974.5 809.7C980.6 809.7 982.5 809.0 988.2 807.5C993.9 805.9 1003.7 802.5 1008.6 800.6C1013.6 798.7 1016.2 796.8 1017.7 796.1" stroke="#D01818" stroke-width="1.5" stroke-opacity="0.7"/>
<path d="M897.3 814.3C901.6 814.5 914.3 816.5 923.4 815.4C932.5 814.3 947.1 808.8 951.8 807.5" stroke="#D01818" stroke-width="1.5" stroke-opacity="0.7"/>
<path d="M897.3 841.5C900.7 843.8 910.5 850.3 917.7 855.2C924.9 860.1 934.8 867.7 940.5 871.1C946.1 874.5 949.9 874.9 951.8 875.6" stroke="#D01818" stroke-width="1.5" stroke-opacity="0.7"/>
<path d="M923.4 764.3C924.4 767.7 928.9 777.5 929.1 784.7C929.3 791.9 925.5 799.9 924.5 807.5C923.6 815.0 922.7 822.6 923.4 830.2C924.2 837.8 926.2 846.1 929.1 852.9C931.9 859.7 938.6 868.1 940.5 871.1" stroke="#D01818" stroke-width="1.5" stroke-opacity="0.7"/>
<path d="M951.8 875.6C953.7 877.5 959.4 882.3 963.2 887.0C967.0 891.7 970.4 898.4 974.5 904.0C978.7 909.7 984.4 916.7 988.2 921.1C992.0 925.5 995.8 928.9 997.3 930.4" stroke="#D01818" stroke-width="1.5" stroke-opacity="0.7"/>
<path d="M897.3 881.3C901.6 880.4 914.7 876.6 923.4 875.6C932.1 874.7 945.2 875.6 949.5 875.6" stroke="#D01818" stroke-width="1.5" stroke-opacity="0.7"/>
<path d="M974.5 765.4C975.7 768.6 980.6 777.7 981.4 784.7C982.1 791.7 980.2 799.9 979.1 807.5C978.0 815.0 975.5 823.4 974.5 830.2C973.6 837.0 973.6 845.3 973.4 848.4" stroke="#D01818" stroke-width="1.5" stroke-opacity="0.7"/>
<path d="M897.3 796.1C900.7 798.0 910.5 802.5 917.7 807.5C924.9 812.4 933.6 820.0 940.5 825.6C947.3 831.3 953.3 837.8 958.6 841.5C963.9 845.3 970.0 847.2 972.3 848.4" stroke="#D01818" stroke-width="1.5" stroke-opacity="0.7"/>
<path d="M1052.4 841.5C1048.9 842.7 1038.7 845.7 1031.4 848.4C1024.1 851.0 1016.2 854.4 1008.6 857.5C1001.1 860.5 991.6 863.9 985.9 866.5C980.2 869.2 976.4 872.2 974.5 873.4" stroke="#D01818" stroke-width="1.5" stroke-opacity="0.7"/>
<path d="M1052.4 887.0C1048.9 885.1 1037.7 879.4 1031.4 875.6C1025.0 871.8 1020.0 867.1 1014.3 864.3C1008.6 861.4 1000.1 859.5 997.3 858.6" stroke="#D01818" stroke-width="1.5" stroke-opacity="0.7"/>
<path d="M991.6 850.6C991.4 853.9 989.5 863.9 990.5 870.0C991.4 876.0 994.2 880.4 997.3 887.0C1000.3 893.6 1005.8 902.5 1008.6 909.7C1011.5 917.0 1013.4 927.0 1014.3 930.4" stroke="#D01818" stroke-width="1.5" stroke-opacity="0.7"/>
<path d="M897.3 862.0C900.7 862.4 911.5 861.1 917.7 864.3C924.0 867.5 930.2 875.6 934.8 881.3C939.3 887.0 943.3 895.5 945.0 898.4" stroke="#D01818" stroke-width="1.5" stroke-opacity="0.7"/>
<path d="M945.0 764.3C945.8 767.7 946.5 778.5 949.5 784.7C952.6 791.0 958.3 798.0 963.2 801.8C968.1 805.6 976.4 806.5 979.1 807.5" stroke="#D01818" stroke-width="1.5" stroke-opacity="0.7"/>
<path d="M897.3 898.4C899.7 900.3 906.7 905.9 912.0 909.7C917.3 913.5 924.4 917.6 929.1 921.1C933.8 924.5 938.6 928.9 940.5 930.4" stroke="#D01818" stroke-width="1.5" stroke-opacity="0.7"/>
<path d="M1052.4 864.3C1049.8 868.1 1041.5 879.4 1037.0 887.0C1032.6 894.6 1030.4 902.5 1025.7 909.7C1020.9 917.0 1011.5 927.0 1008.6 930.4" stroke="#D01818" stroke-width="1.5" stroke-opacity="0.7"/>
<path d="M963.2 930.4C964.1 927.0 968.1 916.0 968.9 909.7C969.6 903.4 967.9 895.5 967.7 892.7" stroke="#D01818" stroke-width="1.5" stroke-opacity="0.7"/>
<path d="M1052.4 801.8C1049.8 803.1 1042.4 806.5 1037.0 809.7C1031.6 812.9 1024.0 817.3 1020.0 821.1C1016.0 824.9 1014.3 830.6 1013.2 832.5" stroke="#D01818" stroke-width="1.5" stroke-opacity="0.7"/>
<path d="M997.3 887.0C1001.1 886.6 1010.8 883.8 1020.0 884.7C1029.2 885.7 1047.0 891.4 1052.4 892.7" stroke="#D01818" stroke-width="1.5" stroke-opacity="0.7"/>
<path d="M1042.7 764.3C1042.3 767.7 1039.9 777.5 1040.5 784.7C1041.0 791.9 1044.1 800.6 1046.1 807.5C1048.1 814.3 1051.3 822.6 1052.4 825.6" stroke="#D01818" stroke-width="1.5" stroke-opacity="0.7"/>
<path d="M897.3 830.2C900.7 829.4 910.5 826.4 917.7 825.6C924.9 824.9 936.7 825.6 940.5 825.6" stroke="#D01818" stroke-width="1.5" stroke-opacity="0.7"/>
<path d="M958.6 764.3C958.6 767.7 959.8 777.5 958.6 784.7C957.5 791.9 953.0 803.7 951.8 807.5" stroke="#D01818" stroke-width="1.5" stroke-opacity="0.7"/>
<path d="M906.4 764.3C907.3 767.7 912.0 778.9 912.0 784.7C912.0 790.6 907.3 797.0 906.4 799.5" stroke="#D01818" stroke-width="1.5" stroke-opacity="0.7"/>
<path d="M897.3 921.1C900.7 920.7 910.5 920.7 917.7 918.8C924.9 916.9 932.9 913.1 940.5 909.7C948.0 906.3 959.4 900.3 963.2 898.4" stroke="#D01818" stroke-width="1.5" stroke-opacity="0.7"/>
<path d="M1008.6 764.3C1006.7 767.7 1000.7 777.5 997.3 784.7C993.9 791.9 989.7 803.7 988.2 807.5" stroke="#D01818" stroke-width="1.5" stroke-opacity="0.7"/>
<path d="M1017.7 796.1C1017.2 798.9 1015.1 807.1 1014.3 813.1C1013.6 819.2 1012.8 825.8 1013.2 832.5C1013.6 839.1 1015.1 846.7 1016.6 852.9C1018.1 859.2 1020.8 864.3 1022.3 870.0C1023.8 875.6 1024.2 880.4 1025.7 887.0C1027.2 893.6 1030.8 902.5 1031.4 909.7C1031.9 917.0 1029.5 927.0 1029.1 930.4" stroke="#E01818" stroke-width="2.2" stroke-opacity="0.85"/>
<path d="M1017.7 796.1C1020.0 794.2 1025.6 787.6 1031.4 784.7C1037.1 781.9 1048.9 780.0 1052.4 779.0" stroke="#E01818" stroke-width="2.2" stroke-opacity="0.85"/>
<path d="M1017.7 796.1C1019.4 792.3 1026.4 778.7 1028.0 773.4C1029.5 768.1 1027.0 765.8 1026.8 764.3" stroke="#E01818" stroke-width="1.8" stroke-opacity="0.8"/>
<path d="M1052.4 816.5C1048.9 817.7 1037.7 820.7 1031.4 823.4C1025.0 826.0 1017.2 830.9 1014.3 832.5" stroke="#F06010" stroke-width="3.0" stroke-opacity="0.9"/>
<path d="M1014.3 832.5C1012.4 834.0 1006.7 838.5 1003.0 841.5C999.2 844.6 996.3 846.8 991.6 850.6C986.9 854.4 978.5 860.1 974.5 864.3C970.6 868.4 968.9 873.7 967.7 875.6" stroke="#E0B010" stroke-width="3.0" stroke-opacity="0.9"/>
<path d="M1001.8 764.3C1000.7 767.7 997.3 778.9 995.0 784.7C992.7 790.6 990.1 794.2 988.2 799.5C986.3 804.8 984.4 813.7 983.6 816.5" stroke="#50B020" stroke-width="2.0" stroke-opacity="0.85"/>
<path d="M983.6 816.5C982.9 819.6 980.2 828.7 979.1 834.7C978.0 840.8 977.8 847.6 976.8 852.9C975.9 858.2 975.3 862.0 973.4 866.5C971.5 871.1 966.8 877.9 965.5 880.2" stroke="#60F020" stroke-width="3.2" stroke-opacity="0.95"/>
<path d="M965.5 880.2C963.6 882.1 958.3 887.9 954.1 891.5C949.9 895.1 945.6 898.4 940.5 901.8C935.3 905.2 929.8 908.4 923.4 912.0C917.0 915.6 905.4 921.5 901.8 923.4" stroke="#A0C010" stroke-width="3.2" stroke-opacity="0.92"/>
<path d="M967.7 875.6C967.2 877.5 965.1 883.2 964.3 887.0C963.6 890.8 963.4 896.5 963.2 898.4" stroke="#50C020" stroke-width="1.5" stroke-opacity="0.8"/>
<path d="M1028.0 765.4C1025.7 768.6 1019.4 778.7 1014.3 784.7C1009.2 790.8 1001.6 797.6 997.3 801.8C992.9 805.9 989.7 808.4 988.2 809.7" stroke="#607010" stroke-width="1.3" stroke-opacity="0.7"/>
<path d="M897.3 909.7C900.7 909.2 909.8 908.2 917.7 906.3C925.7 904.4 940.5 899.7 945.0 898.4" stroke="#408020" stroke-width="1.3" stroke-opacity="0.7"/>
<path d="M992.7 875.6 L993.9 892.7" stroke="#40C020" stroke-width="1.0" stroke-opacity="0.8"/>
<path d="M970.0 899.5C974.5 899.3 988.0 897.6 997.3 898.4C1006.6 899.1 1020.9 903.1 1025.7 904.0" stroke="#808010" stroke-width="1.2" stroke-opacity="0.6"/>
</g>
<g filter="url(#b2)"><ellipse cx="1016.6" cy="796.1" rx="8.0" ry="6.8" fill="#F02020" fill-opacity="0.9"/><ellipse cx="1021.1" cy="791.5" rx="4.5" ry="4.3" fill="#E04070" fill-opacity="0.85"/><ellipse cx="953.0" cy="868.8" rx="5.1" ry="4.8" fill="#F02050" fill-opacity="0.95"/><ellipse cx="952.4" cy="877.9" rx="4.0" ry="4.8" fill="#F03010" fill-opacity="0.9"/><ellipse cx="967.7" cy="877.9" rx="4.5" ry="4.0" fill="#60F040" fill-opacity="0.8"/><ellipse cx="988.2" cy="852.9" rx="5.1" ry="4.0" fill="#807088" fill-opacity="0.7"/><ellipse cx="981.4" cy="846.1" rx="1.5" ry="1.5" fill="#3030F8" fill-opacity="0.9"/><ellipse cx="983.6" cy="837.0" rx="1.5" ry="1.5" fill="#3030F8" fill-opacity="0.9"/><ellipse cx="989.3" cy="821.1" rx="1.5" ry="1.5" fill="#3030F8" fill-opacity="0.9"/><ellipse cx="956.4" cy="783.6" rx="1.5" ry="1.5" fill="#3030F8" fill-opacity="0.9"/><ellipse cx="932.5" cy="862.0" rx="1.5" ry="1.5" fill="#3030F8" fill-opacity="0.9"/><ellipse cx="990.5" cy="823.4" rx="1.5" ry="1.5" fill="#3030F8" fill-opacity="0.9"/><ellipse cx="1024.5" cy="855.2" rx="1.5" ry="1.5" fill="#3030F8" fill-opacity="0.9"/><ellipse cx="1030.2" cy="851.8" rx="1.5" ry="1.5" fill="#3030F8" fill-opacity="0.9"/><ellipse cx="929.1" cy="887.0" rx="1.5" ry="1.5" fill="#3030F8" fill-opacity="0.9"/><ellipse cx="941.6" cy="893.8" rx="1.5" ry="1.5" fill="#3030F8" fill-opacity="0.9"/><ellipse cx="948.4" cy="899.5" rx="1.5" ry="1.5" fill="#3030F8" fill-opacity="0.9"/><ellipse cx="992.7" cy="875.6" rx="0.8" ry="0.8" fill="#30E030" fill-opacity="0.9"/></g>
</g>
<g clip-path="url(#cp12)">
<rect x="1056" y="764.3" width="154.6" height="166.0" fill="#140802"/>
<g filter="url(#b1)" fill="none" stroke-linecap="round" stroke-linejoin="round">
<path d="M1056.3 812.0C1059.7 815.0 1069.5 825.3 1076.7 830.2C1083.9 835.1 1091.9 838.1 1099.5 841.5C1107.0 845.0 1116.5 849.1 1122.2 850.6C1127.9 852.2 1131.7 850.6 1133.5 850.6" stroke="#C02010" stroke-width="1.4" stroke-opacity="0.65"/>
<path d="M1056.3 775.6C1058.7 775.3 1065.7 772.8 1071.0 773.4C1076.3 773.9 1085.2 778.1 1088.1 779.0" stroke="#C02010" stroke-width="1.4" stroke-opacity="0.65"/>
<path d="M1179.0 784.7C1177.1 786.6 1171.4 792.3 1167.6 796.1C1163.8 799.9 1160.1 803.3 1156.3 807.5C1152.5 811.6 1146.8 818.8 1144.9 821.1" stroke="#C02010" stroke-width="1.4" stroke-opacity="0.65"/>
<path d="M1179.0 788.1C1179.9 791.4 1184.7 800.4 1184.7 807.5C1184.7 814.5 1180.5 822.6 1179.0 830.2C1177.5 837.8 1175.6 846.3 1175.6 852.9C1175.6 859.5 1177.5 864.3 1179.0 870.0C1180.5 875.6 1183.7 884.2 1184.7 887.0" stroke="#C02010" stroke-width="1.4" stroke-opacity="0.65"/>
<path d="M1099.5 825.6C1101.3 828.3 1106.7 837.0 1110.8 841.5C1115.0 846.1 1122.2 851.0 1124.5 852.9" stroke="#C02010" stroke-width="1.4" stroke-opacity="0.65"/>
<path d="M1210.2 807.5C1207.9 809.3 1201.3 814.7 1196.0 818.8C1190.8 823.0 1181.8 830.2 1179.0 832.5" stroke="#C02010" stroke-width="1.4" stroke-opacity="0.65"/>
<path d="M1210.2 841.5C1207.9 842.5 1200.3 843.4 1196.0 847.2C1191.8 851.0 1187.5 859.5 1184.7 864.3C1181.8 869.0 1179.9 873.7 1179.0 875.6" stroke="#C02010" stroke-width="1.4" stroke-opacity="0.65"/>
<path d="M1056.3 857.5C1059.7 858.6 1069.5 861.2 1076.7 864.3C1083.9 867.3 1091.9 870.9 1099.5 875.6C1107.0 880.4 1114.6 887.0 1122.2 892.7C1129.8 898.4 1139.2 903.4 1144.9 909.7C1150.6 916.0 1154.4 927.0 1156.3 930.4" stroke="#C02010" stroke-width="1.4" stroke-opacity="0.65"/>
<path d="M1090.4 841.5C1090.6 843.4 1091.9 849.1 1091.5 852.9C1091.1 856.7 1088.7 862.4 1088.1 864.3" stroke="#C02010" stroke-width="1.4" stroke-opacity="0.65"/>
<path d="M1167.6 765.4C1168.6 767.7 1171.4 775.8 1173.3 779.0C1175.2 782.3 1178.1 783.8 1179.0 784.7" stroke="#C02010" stroke-width="1.4" stroke-opacity="0.65"/>
<path d="M1099.5 875.6C1101.3 877.5 1108.5 882.3 1110.8 887.0C1113.1 891.7 1111.2 898.4 1113.1 904.0C1115.0 909.7 1120.7 918.2 1122.2 921.1" stroke="#C02010" stroke-width="1.4" stroke-opacity="0.65"/>
<path d="M1210.2 881.3C1206.9 883.2 1196.5 888.9 1190.4 892.7C1184.2 896.5 1176.2 902.2 1173.3 904.0" stroke="#C02010" stroke-width="1.4" stroke-opacity="0.65"/>
<path d="M1076.7 764.3C1077.7 767.7 1080.5 776.8 1082.4 784.7C1084.3 792.7 1087.1 807.5 1088.1 812.0" stroke="#C02010" stroke-width="1.4" stroke-opacity="0.65"/>
<path d="M1122.2 764.3C1124.1 767.7 1129.4 779.4 1133.5 784.7C1137.7 790.0 1141.5 793.6 1147.2 796.1C1152.9 798.6 1164.2 798.9 1167.6 799.5" stroke="#C02010" stroke-width="1.4" stroke-opacity="0.65"/>
<path d="M1056.3 875.6C1058.7 877.5 1065.7 883.2 1071.0 887.0C1076.3 890.8 1082.4 894.6 1088.1 898.4C1093.8 902.2 1102.3 907.8 1105.1 909.7" stroke="#C02010" stroke-width="1.4" stroke-opacity="0.65"/>
<path d="M1150.6 898.4C1150.8 901.2 1152.7 910.1 1151.7 915.4C1150.8 920.8 1146.0 927.9 1144.9 930.4" stroke="#C02010" stroke-width="1.4" stroke-opacity="0.65"/>
<path d="M1190.4 764.3C1191.3 766.7 1192.7 774.7 1196.0 779.0C1199.4 783.4 1207.9 788.5 1210.2 790.4" stroke="#C02010" stroke-width="1.4" stroke-opacity="0.65"/>
<path d="M1056.3 834.7C1058.7 835.9 1065.4 840.4 1071.0 841.5C1076.7 842.7 1087.1 841.5 1090.4 841.5" stroke="#C02010" stroke-width="1.4" stroke-opacity="0.65"/>
<path d="M1184.7 887.0C1185.6 890.8 1188.5 902.5 1190.4 909.7C1192.3 917.0 1195.1 927.0 1196.0 930.4" stroke="#C02010" stroke-width="1.4" stroke-opacity="0.65"/>
<path d="M1179.0 832.5C1181.8 833.0 1190.8 835.9 1196.0 835.9C1201.3 835.9 1207.9 833.0 1210.2 832.5" stroke="#C02010" stroke-width="1.4" stroke-opacity="0.65"/>
<path d="M1122.2 892.7C1124.1 889.8 1131.1 880.4 1133.5 875.6C1136.0 870.9 1136.4 866.2 1137.0 864.3" stroke="#C02010" stroke-width="1.4" stroke-opacity="0.65"/>
<path d="M1056.3 790.4C1059.7 791.4 1069.5 795.1 1076.7 796.1C1083.9 797.0 1091.9 795.1 1099.5 796.1C1107.0 797.0 1118.4 800.8 1122.2 801.8" stroke="#C02010" stroke-width="1.4" stroke-opacity="0.65"/>
<path d="M1056.3 907.5C1059.7 908.8 1069.5 911.6 1076.7 915.4C1083.9 919.2 1095.7 927.9 1099.5 930.4" stroke="#F01810" stroke-width="3.0" stroke-opacity="0.9"/>
<path d="M1056.3 901.8C1056.5 904.0 1056.3 910.6 1057.4 915.4C1058.5 920.2 1062.1 927.9 1063.1 930.4" stroke="#F01810" stroke-width="2.5" stroke-opacity="0.9"/>
<path d="M1140.4 843.8C1141.7 846.3 1145.7 853.3 1148.3 858.6C1151.0 863.9 1153.8 870.0 1156.3 875.6C1158.7 881.3 1160.8 887.0 1163.1 892.7C1165.4 898.4 1168.8 906.9 1169.9 909.7" stroke="#E0E010" stroke-width="5.0" stroke-opacity="0.97"/>
<path d="M1169.9 909.7C1172.4 910.9 1179.8 914.3 1184.7 916.5C1189.6 918.8 1195.2 921.3 1199.5 923.4C1203.7 925.4 1208.5 928.1 1210.2 929.0" stroke="#A0E020" stroke-width="4.0" stroke-opacity="0.95"/>
<path d="M1169.9 909.7C1170.3 911.6 1171.4 917.6 1172.2 921.1C1172.9 924.5 1174.1 928.9 1174.5 930.4" stroke="#D0D010" stroke-width="3.0" stroke-opacity="0.9"/>
<path d="M1172.2 914.3C1174.3 915.8 1180.7 920.7 1184.7 923.4C1188.7 926.1 1194.2 929.2 1196.0 930.4" stroke="#60D020" stroke-width="1.8" stroke-opacity="0.85"/>
<path d="M1138.1 835.9C1137.1 833.4 1134.3 825.8 1132.4 821.1C1130.5 816.4 1128.6 812.6 1126.7 807.5C1124.8 802.3 1122.8 795.5 1121.0 790.4C1119.3 785.3 1117.8 781.1 1116.5 776.8C1115.2 772.4 1113.7 766.4 1113.1 764.3" stroke="#B0F020" stroke-width="3.8" stroke-opacity="0.95"/>
<path d="M1135.8 830.2C1136.2 827.3 1137.3 818.8 1138.1 813.1C1138.8 807.5 1139.4 801.8 1140.4 796.1C1141.3 790.4 1143.0 784.3 1143.8 779.0C1144.5 773.7 1144.7 766.7 1144.9 764.3" stroke="#90E020" stroke-width="2.8" stroke-opacity="0.92"/>
<path d="M1133.5 834.7C1131.7 833.2 1126.3 828.3 1122.2 825.6C1118.0 823.0 1114.2 821.1 1108.5 818.8C1102.9 816.5 1091.5 813.1 1088.1 812.0" stroke="#A8E020" stroke-width="3.8" stroke-opacity="0.92"/>
<path d="M1088.1 812.0C1085.2 810.9 1076.3 807.1 1071.0 805.2C1065.7 803.3 1058.7 801.4 1056.3 800.6" stroke="#A0A010" stroke-width="3.2" stroke-opacity="0.85"/>
<path d="M1117.6 821.1C1116.5 817.9 1113.1 807.8 1110.8 801.8C1108.5 795.7 1106.5 791.0 1104.0 784.7C1101.5 778.5 1097.4 767.7 1096.0 764.3" stroke="#A0E020" stroke-width="2.4" stroke-opacity="0.9"/>
<path d="M1150.6 841.5C1152.5 840.6 1158.2 838.5 1162.0 835.9C1165.7 833.2 1171.4 827.3 1173.3 825.6" stroke="#40C020" stroke-width="1.2" stroke-opacity="0.7"/>
<path d="M1150.6 843.8C1153.4 845.3 1161.0 850.4 1167.6 852.9C1174.3 855.4 1186.6 857.6 1190.4 858.6" stroke="#40C020" stroke-width="1.2" stroke-opacity="0.7"/>
<path d="M1152.9 858.6C1157.2 858.6 1170.9 859.0 1179.0 858.6C1187.1 858.2 1197.9 856.7 1201.7 856.3" stroke="#40B020" stroke-width="1.1" stroke-opacity="0.55"/>
<path d="M1137.0 850.6C1136.8 853.9 1138.3 864.3 1135.8 870.0C1133.4 875.6 1126.7 879.0 1122.2 884.7C1117.6 890.4 1112.7 897.0 1108.5 904.0C1104.4 911.1 1099.1 923.0 1097.2 926.8" stroke="#40B020" stroke-width="1.5" stroke-opacity="0.8"/>
<path d="M1142.6 832.5 L1147.2 825.6" stroke="#50D020" stroke-width="1.2" stroke-opacity="0.7"/>
<path d="M1156.3 875.6C1160.1 873.7 1172.4 865.8 1179.0 864.3C1185.6 862.8 1193.2 866.2 1196.0 866.5" stroke="#40B020" stroke-width="1.1" stroke-opacity="0.55"/>
<path d="M1076.7 784.7C1080.5 787.6 1092.6 795.7 1099.5 801.8C1106.3 807.8 1114.6 817.9 1117.6 821.1" stroke="#40B020" stroke-width="1.1" stroke-opacity="0.5"/>
<path d="M1081.3 864.3 L1080.7 881.3" stroke="#40C020" stroke-width="2.0" stroke-opacity="0.8"/>
</g>
<g filter="url(#b2)"><ellipse cx="1140.4" cy="840.4" rx="5.9" ry="6.8" fill="#D8F020" fill-opacity="0.97"/><ellipse cx="1146.6" cy="840.4" rx="4.8" ry="5.7" fill="#80C060" fill-opacity="0.9"/><ellipse cx="1132.4" cy="816.5" rx="3.4" ry="5.1" fill="#C0E020" fill-opacity="0.7"/><ellipse cx="1083.0" cy="862.0" rx="2.8" ry="4.0" fill="#40D030" fill-opacity="0.85"/><ellipse cx="1089.2" cy="864.3" rx="4.0" ry="3.4" fill="#B07010" fill-opacity="0.7"/><ellipse cx="1176.7" cy="787.0" rx="6.8" ry="4.5" fill="#C02020" fill-opacity="0.6"/><ellipse cx="1181.3" cy="785.9" rx="4.5" ry="4.3" fill="#B03080" fill-opacity="0.85"/><ellipse cx="1071.0" cy="771.1" rx="5.1" ry="4.8" fill="#502080" fill-opacity="0.6"/><ellipse cx="1093.8" cy="780.2" rx="4.0" ry="3.7" fill="#3030A0" fill-opacity="0.65"/><ellipse cx="1096.6" cy="787.6" rx="2.0" ry="2.0" fill="#3030F0" fill-opacity="0.9"/><ellipse cx="1098.3" cy="797.2" rx="4.0" ry="3.7" fill="#3030A0" fill-opacity="0.6"/><ellipse cx="1072.2" cy="820.0" rx="4.5" ry="4.3" fill="#3030A8" fill-opacity="0.65"/><ellipse cx="1180.1" cy="835.9" rx="5.1" ry="5.1" fill="#5030A0" fill-opacity="0.75"/><ellipse cx="1206.3" cy="831.3" rx="4.5" ry="4.5" fill="#6030B0" fill-opacity="0.8"/><ellipse cx="1164.8" cy="846.7" rx="2.8" ry="2.5" fill="#3030F0" fill-opacity="0.95"/><ellipse cx="1096.0" cy="851.8" rx="5.1" ry="5.1" fill="#803080" fill-opacity="0.65"/><ellipse cx="1084.7" cy="854.0" rx="3.4" ry="3.6" fill="#3030B0" fill-opacity="0.7"/><ellipse cx="1093.8" cy="866.5" rx="4.5" ry="4.5" fill="#706080" fill-opacity="0.65"/><ellipse cx="1107.4" cy="876.8" rx="4.0" ry="4.0" fill="#5030A0" fill-opacity="0.6"/><ellipse cx="1101.7" cy="888.1" rx="4.5" ry="4.3" fill="#6030A0" fill-opacity="0.7"/><ellipse cx="1180.1" cy="873.4" rx="4.5" ry="5.7" fill="#7030A0" fill-opacity="0.75"/><ellipse cx="1179.0" cy="866.5" rx="4.5" ry="4.5" fill="#C02020" fill-opacity="0.5"/><ellipse cx="1058.5" cy="846.1" rx="4.0" ry="4.0" fill="#3030A0" fill-opacity="0.6"/><ellipse cx="1057.4" cy="899.5" rx="3.4" ry="3.6" fill="#F02060" fill-opacity="0.9"/><ellipse cx="1141.5" cy="915.4" rx="6.8" ry="4.5" fill="#503090" fill-opacity="0.55"/><ellipse cx="1087.0" cy="900.6" rx="2.3" ry="2.3" fill="#3030A0" fill-opacity="0.6"/><ellipse cx="1210.2" cy="909.7" rx="2.3" ry="4.5" fill="#808020" fill-opacity="0.7"/><ellipse cx="1131.3" cy="849.5" rx="4.5" ry="4.5" fill="#A05040" fill-opacity="0.6"/></g>
</g>
<g clip-path="url(#cp13)">
<rect x="1214.2" y="764.3" width="154.5" height="166.0" fill="#14140A"/>
<g filter="url(#b3)"><ellipse cx="1291.5" cy="847.2" rx="73.9" ry="79.5" fill="#203010" fill-opacity="0.4"/><ellipse cx="1234.7" cy="864.3" rx="22.7" ry="28.4" fill="#401808" fill-opacity="0.4"/></g>
<g filter="url(#b2s)"><ellipse cx="1224.5" cy="767.7" rx="4.6" ry="4.2" fill="#3430C8" fill-opacity="0.68"/><ellipse cx="1218.8" cy="776.8" rx="3.9" ry="3.6" fill="#3430C8" fill-opacity="0.68"/><ellipse cx="1251.8" cy="780.2" rx="5.2" ry="4.8" fill="#3430C8" fill-opacity="0.68"/><ellipse cx="1260.9" cy="773.4" rx="3.9" ry="3.6" fill="#3430C8" fill-opacity="0.68"/><ellipse cx="1331.3" cy="790.4" rx="4.6" ry="4.2" fill="#3430C8" fill-opacity="0.68"/><ellipse cx="1359.7" cy="787.0" rx="5.2" ry="4.8" fill="#3430C8" fill-opacity="0.68"/><ellipse cx="1231.3" cy="805.2" rx="4.6" ry="4.2" fill="#3430C8" fill-opacity="0.68"/><ellipse cx="1271.1" cy="807.5" rx="5.2" ry="4.8" fill="#3430C8" fill-opacity="0.68"/><ellipse cx="1301.8" cy="809.7" rx="5.9" ry="5.4" fill="#3430C8" fill-opacity="0.68"/><ellipse cx="1359.7" cy="815.4" rx="4.6" ry="4.2" fill="#3430C8" fill-opacity="0.68"/><ellipse cx="1227.9" cy="823.4" rx="4.6" ry="4.2" fill="#3430C8" fill-opacity="0.68"/><ellipse cx="1348.4" cy="821.1" rx="6.3" ry="5.7" fill="#3430C8" fill-opacity="0.68"/><ellipse cx="1318.8" cy="826.8" rx="5.2" ry="4.8" fill="#3430C8" fill-opacity="0.68"/><ellipse cx="1324.5" cy="834.7" rx="5.5" ry="5.0" fill="#3430C8" fill-opacity="0.68"/><ellipse cx="1306.3" cy="847.2" rx="5.2" ry="4.8" fill="#3430C8" fill-opacity="0.68"/><ellipse cx="1317.7" cy="850.6" rx="4.6" ry="4.2" fill="#3430C8" fill-opacity="0.68"/><ellipse cx="1312.0" cy="849.5" rx="3.9" ry="3.6" fill="#3430C8" fill-opacity="0.68"/><ellipse cx="1241.5" cy="858.6" rx="6.5" ry="6.0" fill="#3430C8" fill-opacity="0.68"/><ellipse cx="1250.6" cy="870.0" rx="5.0" ry="4.5" fill="#3430C8" fill-opacity="0.68"/><ellipse cx="1226.8" cy="876.8" rx="4.6" ry="4.2" fill="#3430C8" fill-opacity="0.68"/><ellipse cx="1263.7" cy="880.2" rx="3.9" ry="3.6" fill="#3430C8" fill-opacity="0.68"/><ellipse cx="1279.0" cy="895.0" rx="5.2" ry="4.8" fill="#3430C8" fill-opacity="0.68"/><ellipse cx="1234.7" cy="909.7" rx="5.5" ry="5.0" fill="#3430C8" fill-opacity="0.68"/><ellipse cx="1309.2" cy="912.0" rx="3.9" ry="3.6" fill="#3430C8" fill-opacity="0.68"/><ellipse cx="1285.9" cy="917.7" rx="5.0" ry="4.5" fill="#3430C8" fill-opacity="0.68"/><ellipse cx="1295.0" cy="921.1" rx="5.0" ry="4.5" fill="#3430C8" fill-opacity="0.68"/><ellipse cx="1349.5" cy="895.0" rx="5.2" ry="4.8" fill="#3430C8" fill-opacity="0.68"/><ellipse cx="1351.8" cy="912.0" rx="6.3" ry="5.7" fill="#3430C8" fill-opacity="0.68"/><ellipse cx="1364.3" cy="887.0" rx="4.6" ry="4.2" fill="#3430C8" fill-opacity="0.68"/></g>
<g filter="url(#b1)" fill="none" stroke-linecap="round" stroke-linejoin="round">
<path d="M1214.3 775.6C1217.7 777.2 1227.5 783.2 1234.7 784.7C1241.9 786.2 1249.9 786.6 1257.5 784.7C1265.0 782.8 1276.4 775.3 1280.2 773.4" stroke="#B02810" stroke-width="1.4" stroke-opacity="0.5"/>
<path d="M1246.1 848.4C1249.9 848.0 1261.2 847.6 1268.8 846.1C1276.4 844.6 1284.0 841.9 1291.5 839.3C1299.1 836.6 1310.5 831.7 1314.3 830.2" stroke="#B02810" stroke-width="1.4" stroke-opacity="0.5"/>
<path d="M1214.3 864.3C1217.7 865.2 1227.5 867.1 1234.7 870.0C1241.9 872.8 1249.9 877.5 1257.5 881.3C1265.0 885.1 1276.4 890.8 1280.2 892.7" stroke="#B02810" stroke-width="1.4" stroke-opacity="0.5"/>
<path d="M1240.4 852.9C1243.2 854.8 1253.1 859.5 1257.5 864.3C1261.8 869.0 1264.7 874.7 1266.5 881.3C1268.4 887.9 1269.4 895.9 1268.8 904.0C1268.2 912.2 1264.1 926.0 1263.1 930.4" stroke="#B02810" stroke-width="1.4" stroke-opacity="0.5"/>
<path d="M1214.3 892.7C1217.7 890.8 1228.5 884.2 1234.7 881.3C1241.0 878.5 1248.9 876.6 1251.8 875.6" stroke="#B02810" stroke-width="1.4" stroke-opacity="0.5"/>
<path d="M1291.5 887.0C1295.3 886.1 1306.7 881.7 1314.3 881.3C1321.8 880.9 1330.4 883.8 1337.0 884.7C1343.6 885.7 1351.2 886.6 1354.0 887.0" stroke="#B02810" stroke-width="1.4" stroke-opacity="0.5"/>
<path d="M1223.4 898.4C1225.3 901.2 1231.9 910.1 1234.7 915.4C1237.6 920.8 1239.5 927.9 1240.4 930.4" stroke="#B02810" stroke-width="1.4" stroke-opacity="0.5"/>
<path d="M1280.2 930.4C1281.1 927.0 1283.0 915.1 1285.9 909.7C1288.7 904.4 1295.3 900.3 1297.2 898.4" stroke="#B02810" stroke-width="1.4" stroke-opacity="0.5"/>
<path d="M1214.3 835.9C1217.7 836.8 1227.5 841.5 1234.7 841.5C1241.9 841.5 1253.7 836.8 1257.5 835.9" stroke="#B02810" stroke-width="1.4" stroke-opacity="0.5"/>
<path d="M1325.6 930.4C1327.5 927.0 1333.2 915.1 1337.0 909.7C1340.8 904.4 1346.5 900.3 1348.4 898.4" stroke="#B02810" stroke-width="1.4" stroke-opacity="0.5"/>
<path d="M1369.0 849.5C1366.5 849.7 1358.4 851.0 1354.0 850.6C1349.7 850.3 1344.6 847.8 1342.7 847.2" stroke="#D04010" stroke-width="1.8" stroke-opacity="0.6"/>
<path d="M1214.3 799.5C1216.2 801.4 1222.2 806.9 1225.6 810.9C1229.0 814.8 1231.3 819.2 1234.7 823.4C1238.1 827.5 1241.9 831.7 1246.1 835.9C1250.3 840.0 1254.8 844.0 1259.7 848.4C1264.7 852.7 1270.3 859.0 1275.6 862.0C1280.9 865.0 1285.1 865.6 1291.5 866.5C1298.0 867.5 1310.5 867.5 1314.3 867.7" stroke="#38D820" stroke-width="3.0" stroke-opacity="0.9"/>
<path d="M1289.3 764.3C1289.7 767.7 1291.0 778.7 1291.5 784.7C1292.1 790.8 1291.5 795.3 1292.7 800.6C1293.8 805.9 1296.1 811.6 1298.4 816.5C1300.6 821.5 1302.7 824.9 1306.3 830.2C1309.9 835.5 1314.8 843.1 1320.0 848.4C1325.1 853.7 1332.3 858.2 1337.0 862.0C1341.7 865.8 1346.5 869.6 1348.4 871.1" stroke="#30D020" stroke-width="2.5" stroke-opacity="0.85"/>
<path d="M1352.9 764.3C1353.1 767.7 1353.5 777.5 1354.0 784.7C1354.6 791.9 1355.9 799.9 1356.3 807.5C1356.7 815.0 1356.5 822.6 1356.3 830.2C1356.1 837.8 1354.8 845.3 1355.2 852.9C1355.6 860.5 1357.1 869.0 1358.6 875.6C1360.1 882.3 1362.8 887.0 1364.3 892.7C1365.8 898.4 1367.1 906.9 1367.7 909.7" stroke="#50E820" stroke-width="5.0" stroke-opacity="0.95"/>
<path d="M1369.0 765.4C1367.5 767.7 1364.1 774.7 1359.7 779.0C1355.3 783.4 1347.4 788.7 1342.7 791.5C1337.9 794.4 1333.2 795.3 1331.3 796.1" stroke="#30C020" stroke-width="2.0" stroke-opacity="0.8"/>
<path d="M1292.7 800.6C1290.6 800.8 1284.2 802.5 1280.2 801.8C1276.2 801.0 1272.6 798.0 1268.8 796.1C1265.0 794.2 1259.3 791.4 1257.5 790.4" stroke="#30C020" stroke-width="2.0" stroke-opacity="0.8"/>
<path d="M1291.5 805.2C1294.4 805.9 1302.9 806.3 1308.6 809.7C1314.3 813.1 1321.3 820.3 1325.6 825.6C1330.0 830.9 1331.3 837.0 1334.7 841.5C1338.1 846.1 1342.7 850.1 1346.1 852.9C1349.5 855.8 1353.7 857.6 1355.2 858.6" stroke="#30D020" stroke-width="2.5" stroke-opacity="0.85"/>
<path d="M1234.7 823.4C1234.3 826.4 1232.5 834.7 1232.5 841.5C1232.5 848.4 1235.3 856.7 1234.7 864.3C1234.2 871.8 1231.3 879.4 1229.0 887.0C1226.8 894.6 1222.8 902.5 1221.1 909.7C1219.4 917.0 1219.2 927.0 1218.8 930.4" stroke="#30A020" stroke-width="1.3" stroke-opacity="0.6"/>
<path d="M1306.3 830.2C1306.7 834.0 1308.4 845.3 1308.6 852.9C1308.8 860.5 1307.8 869.4 1307.5 875.6C1307.1 881.9 1306.5 887.9 1306.3 890.4" stroke="#30B020" stroke-width="1.5" stroke-opacity="0.7"/>
<path d="M1318.8 890.4 L1317.7 898.4" stroke="#30E030" stroke-width="3.0" stroke-opacity="0.9"/>
<path d="M1312.0 898.4C1310.3 897.4 1305.6 894.6 1301.8 892.7C1298.0 890.8 1291.9 889.8 1289.3 887.0C1286.6 884.2 1285.5 879.0 1285.9 875.6C1286.2 872.2 1290.6 868.1 1291.5 866.5" stroke="#30B020" stroke-width="1.3" stroke-opacity="0.7"/>
<path d="M1214.3 784.7C1215.8 787.2 1220.3 795.0 1223.4 799.5C1226.4 804.0 1230.9 809.9 1232.5 812.0" stroke="#30C020" stroke-width="2.0" stroke-opacity="0.8"/>
<path d="M1337.0 765.4C1337.9 768.6 1339.8 777.7 1342.7 784.7C1345.5 791.7 1352.2 803.7 1354.0 807.5" stroke="#30B020" stroke-width="1.5" stroke-opacity="0.7"/>
<path d="M1308.6 765.4C1309.5 768.6 1311.4 779.0 1314.3 784.7C1317.1 790.4 1320.9 793.8 1325.6 799.5C1330.4 805.2 1337.8 813.3 1342.7 818.8C1347.6 824.3 1353.1 830.2 1355.2 832.5" stroke="#30B020" stroke-width="1.5" stroke-opacity="0.7"/>
<path d="M1214.3 926.8C1219.6 926.6 1235.1 926.2 1246.1 925.6C1257.1 925.1 1268.8 923.4 1280.2 923.4C1291.5 923.4 1308.6 925.3 1314.3 925.6" stroke="#408020" stroke-width="1.3" stroke-opacity="0.6"/>
<path d="M1316.5 908.6C1318.1 910.7 1323.2 917.5 1325.6 921.1C1328.1 924.7 1330.4 928.9 1331.3 930.4" stroke="#30B020" stroke-width="1.3" stroke-opacity="0.7"/>
<path d="M1239.3 818.8C1240.4 817.3 1243.8 812.0 1246.1 809.7C1248.4 807.5 1251.8 805.9 1252.9 805.2" stroke="#30C020" stroke-width="1.5" stroke-opacity="0.75"/>
<path d="M1214.3 821.1 L1229.0 827.9" stroke="#30B020" stroke-width="1.3" stroke-opacity="0.6"/>
<path d="M1323.4 897.2C1325.6 897.0 1332.8 896.3 1337.0 896.1C1341.2 895.9 1346.5 896.1 1348.4 896.1" stroke="#30C020" stroke-width="1.5" stroke-opacity="0.75"/>
<path d="M1257.5 764.3C1258.4 767.7 1260.1 777.5 1263.1 784.7C1266.2 791.9 1270.9 799.9 1275.6 807.5C1280.4 815.0 1286.4 823.6 1291.5 830.2C1296.7 836.8 1303.9 844.4 1306.3 847.2" stroke="#30A020" stroke-width="1.2" stroke-opacity="0.55"/>
<path d="M1214.3 875.6C1219.6 873.7 1235.9 866.5 1246.1 864.3C1256.3 862.0 1270.7 862.4 1275.6 862.0" stroke="#30A020" stroke-width="1.2" stroke-opacity="0.55"/>
<path d="M1275.6 862.0C1276.4 866.2 1277.5 879.0 1280.2 887.0C1282.8 895.0 1287.8 902.5 1291.5 909.7C1295.3 917.0 1301.0 927.0 1302.9 930.4" stroke="#30A020" stroke-width="1.2" stroke-opacity="0.5"/>
<path d="M1331.3 796.1C1332.3 799.9 1335.1 811.2 1337.0 818.8C1338.9 826.4 1339.7 835.9 1342.7 841.5C1345.7 847.2 1353.1 851.0 1355.2 852.9" stroke="#30A020" stroke-width="1.2" stroke-opacity="0.5"/>
</g>
<g filter="url(#b2)"><ellipse cx="1216.5" cy="784.7" rx="2.8" ry="2.6" fill="#3030D8" fill-opacity="0.8"/><ellipse cx="1326.8" cy="772.2" rx="2.3" ry="2.1" fill="#3030D8" fill-opacity="0.8"/><ellipse cx="1317.7" cy="785.9" rx="2.8" ry="2.6" fill="#3030D8" fill-opacity="0.8"/><ellipse cx="1366.5" cy="770.0" rx="2.8" ry="2.6" fill="#3030D8" fill-opacity="0.8"/><ellipse cx="1246.1" cy="821.1" rx="1.7" ry="1.6" fill="#3030D8" fill-opacity="0.8"/><ellipse cx="1249.5" cy="833.6" rx="2.0" ry="1.9" fill="#3030D8" fill-opacity="0.8"/><ellipse cx="1312.0" cy="891.5" rx="2.5" ry="2.3" fill="#3030D8" fill-opacity="0.8"/><ellipse cx="1363.1" cy="916.5" rx="2.8" ry="2.6" fill="#3030D8" fill-opacity="0.8"/><ellipse cx="1214.3" cy="858.6" rx="1.4" ry="1.3" fill="#3030D8" fill-opacity="0.8"/><ellipse cx="1256.9" cy="808.0" rx="5.1" ry="6.2" fill="#40FF40" fill-opacity="1"/><ellipse cx="1314.3" cy="904.0" rx="5.1" ry="6.2" fill="#30F050" fill-opacity="1"/><ellipse cx="1234.2" cy="817.7" rx="5.1" ry="5.7" fill="#70C080" fill-opacity="0.6"/><ellipse cx="1289.3" cy="807.5" rx="6.8" ry="4.0" fill="#50A080" fill-opacity="0.6"/><ellipse cx="1357.5" cy="904.0" rx="6.8" ry="9.1" fill="#707020" fill-opacity="0.6"/><ellipse cx="1299.5" cy="796.1" rx="1.4" ry="1.1" fill="#40E040" fill-opacity="0.9"/><ellipse cx="1356.3" cy="785.9" rx="0.9" ry="0.9" fill="#60F040" fill-opacity="0.9"/><ellipse cx="1356.3" cy="814.3" rx="1.1" ry="2.8" fill="#60C0A0" fill-opacity="0.6"/></g>
</g>
<g clip-path="url(#cp20)">
<rect x="738.4" y="935.6" width="154.9" height="166.4" fill="#1B2500"/>
<g filter="url(#b1)" fill="none" stroke-linecap="round" stroke-linejoin="round">
<path d="M795.1 936.4C794.3 939.6 792.1 950.0 790.5 955.7C789.0 961.4 787.9 964.8 786.0 970.5C784.1 976.2 781.8 983.9 779.2 989.8C776.5 995.7 773.1 1000.0 770.1 1005.7C767.1 1011.4 763.8 1018.0 761.0 1023.9C758.2 1029.8 755.3 1035.3 753.0 1041.0C750.8 1046.6 748.3 1055.2 747.4 1058.0" stroke="#E82808" stroke-width="2.2" stroke-opacity="0.82"/>
<path d="M738.3 978.5C741.7 977.9 750.8 976.4 758.7 975.0C766.7 973.7 776.5 971.3 786.0 970.5C795.5 969.7 806.8 971.4 815.5 970.5C824.3 969.6 830.7 965.4 838.3 964.8C845.8 964.2 857.2 966.7 861.0 967.1" stroke="#E82808" stroke-width="2.2" stroke-opacity="0.82"/>
<path d="M878.0 996.6C875.2 993.2 866.7 982.1 861.0 976.2C855.3 970.3 848.7 966.7 844.0 961.4C839.2 956.1 835.4 948.5 832.6 944.4C829.8 940.2 827.9 937.7 826.9 936.4" stroke="#E82808" stroke-width="2.2" stroke-opacity="0.82"/>
<path d="M788.3 1023.9C786.2 1024.5 779.8 1026.9 775.8 1027.3C771.8 1027.7 766.3 1026.4 764.4 1026.2" stroke="#E82808" stroke-width="2.2" stroke-opacity="0.82"/>
<path d="M738.3 1035.3C740.7 1036.2 746.8 1037.9 753.0 1041.0C759.3 1044.0 769.1 1050.4 775.8 1053.5C782.4 1056.5 788.1 1058.8 792.8 1059.1C797.6 1059.5 802.3 1056.3 804.2 1055.7" stroke="#E82808" stroke-width="2.2" stroke-opacity="0.82"/>
<path d="M738.3 1086.4C742.6 1086.6 755.3 1087.7 764.4 1087.5C773.5 1087.4 784.3 1084.5 792.8 1085.3C801.3 1086.0 808.0 1090.6 815.5 1092.1C823.1 1093.6 834.5 1094.0 838.3 1094.4" stroke="#E82808" stroke-width="2.2" stroke-opacity="0.82"/>
<path d="M815.5 970.5C815.9 972.8 816.3 979.8 817.8 984.1C819.3 988.5 822.0 991.9 824.6 996.6C827.3 1001.4 830.3 1007.1 833.7 1012.5C837.1 1018.0 841.5 1023.9 845.1 1029.6C848.7 1035.3 853.6 1043.8 855.3 1046.6" stroke="#E82808" stroke-width="2.2" stroke-opacity="0.82"/>
<path d="M878.0 996.6C879.0 999.3 882.2 1006.1 883.7 1012.5C885.2 1019.0 886.2 1027.7 887.1 1035.3C888.1 1042.8 888.4 1052.3 889.4 1058.0C890.5 1063.7 892.7 1067.5 893.4 1069.4" stroke="#E82808" stroke-width="2.2" stroke-opacity="0.82"/>
<path d="M874.6 1070.5C873.3 1073.2 869.0 1081.2 866.7 1086.4C864.4 1091.6 861.9 1099.2 861.0 1101.8" stroke="#E82808" stroke-width="2.2" stroke-opacity="0.82"/>
<path d="M874.6 1070.5C876.5 1068.4 882.9 1060.5 886.0 1058.0C889.1 1055.5 892.2 1056.1 893.4 1055.7" stroke="#E82808" stroke-width="2.2" stroke-opacity="0.82"/>
<path d="M833.7 1042.1C833.5 1045.7 831.8 1056.3 832.6 1063.7C833.3 1071.1 836.4 1081.3 838.3 1086.4C840.2 1091.5 843.0 1093.0 844.0 1094.4" stroke="#E82808" stroke-width="2.2" stroke-opacity="0.82"/>
<path d="M893.4 941.0C891.8 943.4 887.2 952.3 883.7 955.7C880.2 959.1 874.3 960.5 872.4 961.4" stroke="#E82808" stroke-width="2.2" stroke-opacity="0.82"/>
<path d="M738.3 970.5C739.8 968.0 743.0 960.8 747.4 955.7C751.7 950.6 761.6 942.5 764.4 939.8" stroke="#E82808" stroke-width="2.2" stroke-opacity="0.82"/>
<path d="M738.3 951.2C740.7 950.0 747.2 946.3 753.0 944.4C758.9 942.5 770.1 940.6 773.5 939.8" stroke="#E82808" stroke-width="2.2" stroke-opacity="0.82"/>
<path d="M773.5 939.8C773.7 942.5 772.6 950.6 774.6 955.7C776.7 960.8 784.1 968.0 786.0 970.5" stroke="#E82808" stroke-width="2.2" stroke-opacity="0.82"/>
<path d="M838.3 936.4C837.9 938.7 837.5 945.9 836.0 950.0C834.5 954.2 832.6 958.0 829.2 961.4C825.8 964.8 817.8 969.0 815.5 970.5" stroke="#E82808" stroke-width="2.2" stroke-opacity="0.82"/>
<path d="M878.0 996.6 L893.4 1000.0" stroke="#E82808" stroke-width="2.2" stroke-opacity="0.82"/>
<path d="M878.0 996.6 L893.4 989.8" stroke="#E82808" stroke-width="2.2" stroke-opacity="0.82"/>
<path d="M861.0 936.4C861.4 939.6 861.8 950.0 863.3 955.7C864.8 961.4 865.1 968.2 870.1 970.5C875.1 972.8 889.5 969.6 893.4 969.4" stroke="#E82808" stroke-width="2.2" stroke-opacity="0.82"/>
<path d="M738.3 1001.2C740.7 1005.3 748.7 1022.0 753.0 1026.2C757.4 1030.3 762.5 1026.2 764.4 1026.2" stroke="#E82808" stroke-width="2.2" stroke-opacity="0.82"/>
<path d="M806.5 1005.7C806.1 1008.0 806.5 1014.4 804.2 1019.4C801.9 1024.3 796.0 1030.7 792.8 1035.3C789.6 1039.8 786.2 1044.7 784.9 1046.6" stroke="#E82808" stroke-width="2.2" stroke-opacity="0.82"/>
<path d="M893.4 1035.3C890.8 1037.2 883.4 1043.8 878.0 1046.6C872.6 1049.5 863.8 1051.4 861.0 1052.3" stroke="#E82808" stroke-width="2.2" stroke-opacity="0.82"/>
<path d="M815.5 1037.5C815.5 1041.0 816.5 1050.8 815.5 1058.0C814.6 1065.2 810.8 1076.9 809.9 1080.7" stroke="#E82808" stroke-width="2.2" stroke-opacity="0.82"/>
<path d="M844.0 1094.4 L849.6 1101.8" stroke="#E82808" stroke-width="2.2" stroke-opacity="0.82"/>
<path d="M849.6 1052.3C851.5 1057.1 856.3 1072.5 861.0 1080.7C865.7 1089.0 875.2 1098.2 878.0 1101.8" stroke="#E82808" stroke-width="2.2" stroke-opacity="0.82"/>
<path d="M738.3 1058.0C741.7 1058.9 752.7 1062.7 758.7 1063.7C764.8 1064.6 772.0 1063.7 774.6 1063.7" stroke="#E82808" stroke-width="2.2" stroke-opacity="0.82"/>
<path d="M747.4 1058.0C747.7 1061.8 747.2 1073.4 749.6 1080.7C752.1 1088.0 760.1 1098.2 762.1 1101.8" stroke="#E82808" stroke-width="2.2" stroke-opacity="0.82"/>
<path d="M764.4 1026.2C764.6 1029.6 763.8 1040.4 765.5 1046.6C767.2 1052.9 773.1 1060.8 774.6 1063.7" stroke="#E82808" stroke-width="2.2" stroke-opacity="0.82"/>
<path d="M855.3 976.2C855.3 979.4 854.9 989.4 855.3 995.5C855.7 1001.6 857.2 1009.7 857.6 1012.5" stroke="#E82808" stroke-width="2.2" stroke-opacity="0.82"/>
<path d="M804.2 936.4C804.9 937.9 806.8 939.8 808.7 945.5C810.6 951.2 814.4 966.3 815.5 970.5" stroke="#E82808" stroke-width="2.2" stroke-opacity="0.82"/>
<path d="M878.0 996.6C874.3 993.2 861.9 978.3 855.3 976.2C848.7 974.1 843.4 980.7 838.3 984.1C833.2 987.5 829.9 993.0 824.6 996.6C819.3 1000.2 811.8 1002.3 806.5 1005.7C801.2 1009.1 795.1 1015.2 792.8 1017.1" stroke="#F83008" stroke-width="3.0" stroke-opacity="0.92"/>
<path d="M872.4 961.4C870.5 962.9 863.8 968.0 861.0 970.5C858.2 973.0 856.3 975.2 855.3 976.2" stroke="#F83008" stroke-width="4.0" stroke-opacity="0.92"/>
<path d="M872.4 961.4 L867.8 952.3" stroke="#F83008" stroke-width="3.0" stroke-opacity="0.9"/>
<path d="M872.4 961.4 L881.5 956.9" stroke="#F83008" stroke-width="3.0" stroke-opacity="0.9"/>
<path d="M878.0 996.6C875.2 997.8 866.5 1000.4 861.0 1003.5C855.5 1006.5 849.3 1011.6 845.1 1014.8C840.9 1018.0 837.5 1021.4 836.0 1022.8" stroke="#F83008" stroke-width="3.0" stroke-opacity="0.92"/>
<path d="M830.3 1030.7C827.9 1031.9 819.5 1033.9 815.5 1037.5C811.6 1041.1 808.7 1047.0 806.5 1052.3C804.2 1057.6 803.0 1063.7 801.9 1069.4C800.8 1075.0 800.4 1081.0 799.6 1086.4C798.9 1091.8 797.7 1099.2 797.4 1101.8" stroke="#F83008" stroke-width="3.0" stroke-opacity="0.92"/>
<path d="M828.0 1034.1C829.0 1035.5 830.1 1039.1 833.7 1042.1C837.3 1045.1 844.5 1048.7 849.6 1052.3C854.8 1055.9 860.2 1060.7 864.4 1063.7C868.6 1066.7 872.9 1069.4 874.6 1070.5" stroke="#F83008" stroke-width="2.6" stroke-opacity="0.9"/>
<path d="M784.9 1027.3C783.9 1030.5 780.9 1040.6 779.2 1046.6C777.5 1052.7 776.5 1058.0 774.6 1063.7C772.7 1069.4 769.9 1074.4 767.8 1080.7C765.7 1087.1 763.1 1098.2 762.1 1101.8" stroke="#F03008" stroke-width="3.0" stroke-opacity="0.9"/>
<path d="M738.3 1076.2C739.4 1078.8 743.6 1087.8 745.1 1092.1C746.6 1096.4 747.0 1100.1 747.4 1101.8" stroke="#F03008" stroke-width="3.0" stroke-opacity="0.9"/>
</g>
<g filter="url(#b2)"><ellipse cx="790.5" cy="1019.4" rx="5.7" ry="5.1" fill="#FF3810" fill-opacity="0.97" transform="rotate(-30 790.5 1019.4)"/><ellipse cx="832.6" cy="1026.2" rx="5.9" ry="4.8" fill="#FF3810" fill-opacity="0.97" transform="rotate(-35 832.6 1026.2)"/><ellipse cx="781.5" cy="996.6" rx="5.1" ry="4.3" fill="#F83010" fill-opacity="0.9" transform="rotate(-35 781.5 996.6)"/><ellipse cx="872.4" cy="991.0" rx="7.4" ry="5.7" fill="#FF3010" fill-opacity="0.95"/><ellipse cx="880.3" cy="969.4" rx="5.7" ry="4.0" fill="#FF3810" fill-opacity="0.9" transform="rotate(20 880.3 969.4)"/><ellipse cx="869.0" cy="966.0" rx="4.5" ry="4.0" fill="#F03010" fill-opacity="0.8"/><ellipse cx="811.0" cy="945.5" rx="4.8" ry="4.8" fill="#E03010" fill-opacity="0.75"/><ellipse cx="857.6" cy="1012.5" rx="4.5" ry="5.5" fill="#E83010" fill-opacity="0.8"/><ellipse cx="878.0" cy="1069.4" rx="5.9" ry="5.2" fill="#E83010" fill-opacity="0.8"/><ellipse cx="842.8" cy="970.5" rx="4.8" ry="3.4" fill="#C03010" fill-opacity="0.6"/><ellipse cx="787.1" cy="963.7" rx="4.5" ry="6.8" fill="#B03010" fill-opacity="0.55"/><ellipse cx="817.8" cy="986.4" rx="4.0" ry="6.8" fill="#A83010" fill-opacity="0.5"/><ellipse cx="775.8" cy="944.4" rx="4.0" ry="4.0" fill="#B03010" fill-opacity="0.55"/><ellipse cx="788.3" cy="1063.7" rx="5.7" ry="4.5" fill="#A03010" fill-opacity="0.5"/><ellipse cx="806.5" cy="1085.3" rx="5.7" ry="5.7" fill="#A83010" fill-opacity="0.5"/><ellipse cx="841.7" cy="1092.1" rx="4.5" ry="4.5" fill="#B03010" fill-opacity="0.55"/><ellipse cx="893.4" cy="1053.5" rx="2.8" ry="3.4" fill="#E03010" fill-opacity="0.7"/><ellipse cx="831.5" cy="955.7" rx="4.0" ry="5.7" fill="#903010" fill-opacity="0.4"/><ellipse cx="838.3" cy="947.8" rx="0.9" ry="0.9" fill="#30C030" fill-opacity="0.9"/><ellipse cx="779.2" cy="1092.1" rx="0.8" ry="0.8" fill="#30E030" fill-opacity="0.9"/><ellipse cx="887.1" cy="992.1" rx="1.0" ry="0.8" fill="#A0E020" fill-opacity="0.9"/><ellipse cx="833.7" cy="1096.1" rx="0.6" ry="0.6" fill="#30C030" fill-opacity="0.8"/><ellipse cx="812.1" cy="1033.6" rx="0.6" ry="0.6" fill="#30C030" fill-opacity="0.8"/></g>
</g>
<g clip-path="url(#cp21)">
<rect x="897.1" y="935.6" width="155.3" height="166.4" fill="#1D2C04"/>
<g filter="url(#b3)"><ellipse cx="931.4" cy="1042.1" rx="11.4" ry="4.5" fill="#E84810" fill-opacity="0.85"/></g>
<g filter="url(#b1)" fill="none" stroke-linecap="round" stroke-linejoin="round">
<path d="M951.8 936.4C951.8 939.6 951.8 950.0 951.8 955.7C951.8 961.4 953.1 966.0 951.8 970.5C950.5 975.0 946.1 979.4 943.9 983.0C941.6 986.6 939.1 990.6 938.2 992.1" stroke="#C83010" stroke-width="1.9" stroke-opacity="0.62"/>
<path d="M897.3 971.6C900.7 973.2 910.9 977.3 917.7 980.7C924.5 984.1 930.6 989.4 938.2 992.1C945.8 994.7 955.2 995.9 963.2 996.6C971.1 997.4 982.1 996.6 985.9 996.6" stroke="#C83010" stroke-width="1.9" stroke-opacity="0.62"/>
<path d="M899.5 936.4C901.6 938.3 908.8 944.6 912.0 947.8C915.3 951.0 917.7 954.4 918.9 955.7" stroke="#C83010" stroke-width="1.9" stroke-opacity="0.62"/>
<path d="M897.3 1001.2C900.7 1002.3 910.5 1005.7 917.7 1008.0C924.9 1010.3 936.7 1013.7 940.5 1014.8" stroke="#C83010" stroke-width="1.9" stroke-opacity="0.62"/>
<path d="M938.2 992.1C936.7 995.5 931.6 1005.3 929.1 1012.5C926.6 1019.7 924.4 1031.5 923.4 1035.3" stroke="#C83010" stroke-width="1.9" stroke-opacity="0.62"/>
<path d="M942.7 1041.0C945.4 1042.8 954.3 1048.5 958.6 1052.3C963.0 1056.1 966.2 1058.9 968.9 1063.7C971.5 1068.4 973.6 1077.9 974.5 1080.7" stroke="#C83010" stroke-width="1.9" stroke-opacity="0.62"/>
<path d="M963.2 1001.2C962.0 1005.0 958.3 1016.3 956.4 1023.9C954.5 1031.5 953.0 1039.1 951.8 1046.6C950.7 1054.2 951.1 1061.8 949.5 1069.4C948.0 1076.9 944.6 1086.7 942.7 1092.1C940.8 1097.5 938.9 1100.1 938.2 1101.8" stroke="#C83010" stroke-width="1.9" stroke-opacity="0.62"/>
<path d="M897.3 1088.7C901.6 1088.5 914.3 1087.7 923.4 1087.5C932.5 1087.4 943.7 1086.8 951.8 1087.5C960.0 1088.3 968.9 1091.3 972.3 1092.1" stroke="#C83010" stroke-width="1.9" stroke-opacity="0.62"/>
<path d="M972.3 1092.1C970.8 1092.8 966.2 1095.0 963.2 1096.6C960.2 1098.2 955.6 1100.9 954.1 1101.8" stroke="#C83010" stroke-width="1.9" stroke-opacity="0.62"/>
<path d="M1052.4 1046.6C1049.8 1048.5 1041.5 1052.3 1037.0 1058.0C1032.6 1063.7 1028.5 1073.4 1025.7 1080.7C1022.8 1088.0 1020.9 1098.2 1020.0 1101.8" stroke="#C83010" stroke-width="1.9" stroke-opacity="0.62"/>
<path d="M1033.6 936.4C1032.9 939.6 1030.4 949.7 1029.1 955.7C1027.8 961.8 1026.2 969.9 1025.7 972.8" stroke="#C83010" stroke-width="1.9" stroke-opacity="0.62"/>
<path d="M974.5 945.5C976.1 949.1 981.4 959.7 983.6 967.1C985.9 974.5 986.7 982.2 988.2 989.8C989.7 997.4 992.0 1008.8 992.7 1012.5" stroke="#C83010" stroke-width="1.9" stroke-opacity="0.62"/>
<path d="M1025.7 984.1C1025.3 988.9 1024.4 1004.0 1023.4 1012.5C1022.5 1021.1 1020.6 1031.5 1020.0 1035.3" stroke="#C83010" stroke-width="1.9" stroke-opacity="0.62"/>
<path d="M1020.0 1026.2C1018.1 1029.6 1012.4 1040.4 1008.6 1046.6C1004.8 1052.9 1001.1 1058.0 997.3 1063.7C993.5 1069.4 987.8 1077.9 985.9 1080.7" stroke="#C83010" stroke-width="1.9" stroke-opacity="0.62"/>
<path d="M897.3 961.4C899.7 962.2 906.7 965.2 912.0 966.0C917.3 966.7 926.2 966.0 929.1 966.0" stroke="#C83010" stroke-width="1.9" stroke-opacity="0.62"/>
<path d="M1052.4 1086.4C1050.8 1087.7 1045.3 1091.8 1042.7 1094.4C1040.2 1096.9 1038.0 1100.5 1037.0 1101.8" stroke="#C83010" stroke-width="1.9" stroke-opacity="0.62"/>
<path d="M951.8 970.5C953.7 968.0 959.4 959.9 963.2 955.7C967.0 951.6 972.7 947.2 974.5 945.5" stroke="#C83010" stroke-width="1.9" stroke-opacity="0.62"/>
<path d="M903.0 1063.7 L906.4 1075.0" stroke="#C83010" stroke-width="1.9" stroke-opacity="0.62"/>
<path d="M992.7 959.1C993.5 958.0 994.6 955.9 997.3 952.3C999.9 948.7 1006.7 940.0 1008.6 937.5" stroke="#C83010" stroke-width="1.9" stroke-opacity="0.62"/>
<path d="M897.3 1023.9 L916.6 1023.9" stroke="#C83010" stroke-width="1.9" stroke-opacity="0.62"/>
<path d="M929.1 936.4C928.7 939.6 926.8 950.8 926.8 955.7C926.8 960.7 928.7 964.2 929.1 966.0" stroke="#C83010" stroke-width="1.9" stroke-opacity="0.62"/>
<path d="M985.9 936.4 L974.5 945.5" stroke="#C83010" stroke-width="1.9" stroke-opacity="0.62"/>
<path d="M997.3 1063.7C997.7 1066.5 999.5 1074.4 999.5 1080.7C999.5 1087.1 997.7 1098.2 997.3 1101.8" stroke="#C83010" stroke-width="1.9" stroke-opacity="0.62"/>
<path d="M1037.0 1033.0C1038.0 1037.2 1040.2 1051.0 1042.7 1058.0C1045.3 1065.0 1050.8 1072.2 1052.4 1075.0" stroke="#C83010" stroke-width="1.9" stroke-opacity="0.62"/>
<path d="M921.1 936.4C920.8 939.6 919.4 948.7 918.9 955.7C918.3 962.7 918.1 970.9 917.7 978.5C917.3 986.0 916.8 993.6 916.6 1001.2C916.4 1008.8 916.8 1018.2 916.6 1023.9C916.4 1029.6 915.6 1033.4 915.5 1035.3" stroke="#D83010" stroke-width="3.0" stroke-opacity="0.75"/>
<path d="M998.4 1019.4C999.0 1016.3 1001.4 1007.1 1001.8 1001.2C1002.2 995.3 1000.9 987.0 1000.7 984.1" stroke="#F82808" stroke-width="5.0" stroke-opacity="0.95"/>
<path d="M1000.7 984.1C1000.1 981.7 998.6 973.5 997.3 969.4C995.9 965.2 994.6 962.0 992.7 959.1C990.8 956.3 987.0 953.5 985.9 952.3" stroke="#F82808" stroke-width="3.5" stroke-opacity="0.95"/>
<path d="M985.9 952.3C984.0 951.2 978.3 948.0 974.5 945.5C970.8 943.0 965.1 938.9 963.2 937.5" stroke="#F03008" stroke-width="2.2" stroke-opacity="0.9"/>
<path d="M1000.7 984.1C1002.0 982.8 1005.4 979.0 1008.6 976.2C1011.9 973.3 1015.3 969.9 1020.0 967.1C1024.7 964.2 1031.6 962.0 1037.0 959.1C1042.4 956.3 1049.8 951.6 1052.4 950.0" stroke="#F02808" stroke-width="3.0" stroke-opacity="0.92"/>
<path d="M1003.0 994.4C1004.8 993.2 1009.6 989.6 1014.3 987.5C1019.1 985.5 1025.0 984.7 1031.4 981.9C1037.7 979.0 1048.9 972.4 1052.4 970.5" stroke="#E82808" stroke-width="2.0" stroke-opacity="0.85"/>
<path d="M1002.4 1005.7C1004.4 1004.6 1009.5 1001.2 1014.3 998.9C1019.1 996.6 1025.0 994.2 1031.4 992.1C1037.7 990.0 1048.9 987.4 1052.4 986.4" stroke="#E82808" stroke-width="2.0" stroke-opacity="0.85"/>
<path d="M1003.0 1020.5C1005.8 1021.4 1014.3 1024.1 1020.0 1026.2C1025.7 1028.3 1031.6 1031.3 1037.0 1033.0C1042.4 1034.7 1049.8 1035.8 1052.4 1036.4" stroke="#F02808" stroke-width="3.0" stroke-opacity="0.92"/>
<path d="M991.6 1031.9C990.3 1033.2 985.7 1035.5 983.6 1039.8C981.6 1044.2 980.4 1052.1 979.1 1058.0C977.8 1063.9 976.6 1069.4 975.7 1075.0C974.7 1080.7 974.4 1087.6 973.4 1092.1C972.5 1096.5 970.6 1100.1 970.0 1101.8" stroke="#F82808" stroke-width="5.0" stroke-opacity="0.96"/>
<path d="M1001.8 1031.9C1003.0 1033.2 1006.6 1036.4 1008.6 1039.8C1010.7 1043.2 1012.8 1047.4 1014.3 1052.3C1015.8 1057.2 1016.8 1063.7 1017.7 1069.4C1018.7 1075.0 1019.2 1081.0 1020.0 1086.4C1020.8 1091.8 1021.9 1099.2 1022.3 1101.8" stroke="#F82808" stroke-width="5.0" stroke-opacity="0.96"/>
<path d="M990.5 1023.9C987.8 1023.7 979.8 1021.6 974.5 1022.8C969.2 1023.9 963.9 1028.1 958.6 1030.7C953.3 1033.4 945.4 1037.4 942.7 1038.7" stroke="#E03010" stroke-width="2.0" stroke-opacity="0.8"/>
</g>
<g filter="url(#b2)"><ellipse cx="996.1" cy="1026.2" rx="6.6" ry="6.6" fill="#E03810" fill-opacity="0.95"/><ellipse cx="996.1" cy="1026.8" rx="3.4" ry="3.4" fill="#A04010" fill-opacity="0.8"/><ellipse cx="999.0" cy="1014.8" rx="3.4" ry="5.7" fill="#F82808" fill-opacity="0.9"/><ellipse cx="924.5" cy="994.9" rx="6.2" ry="4.5" fill="#D05010" fill-opacity="0.75"/><ellipse cx="916.6" cy="986.4" rx="4.5" ry="5.7" fill="#A05010" fill-opacity="0.55"/><ellipse cx="984.8" cy="1021.6" rx="9.1" ry="4.5" fill="#B05020" fill-opacity="0.7" transform="rotate(-15 984.8 1021.6)"/><ellipse cx="1031.4" cy="978.5" rx="8.0" ry="6.8" fill="#A05818" fill-opacity="0.65"/><ellipse cx="1026.8" cy="1012.5" rx="6.2" ry="4.0" fill="#805018" fill-opacity="0.5"/><ellipse cx="1003.0" cy="1050.0" rx="5.7" ry="3.4" fill="#805018" fill-opacity="0.5"/><ellipse cx="907.5" cy="1080.7" rx="6.8" ry="6.8" fill="#D05020" fill-opacity="0.8"/><ellipse cx="907.5" cy="1081.3" rx="3.2" ry="3.2" fill="#E84010" fill-opacity="0.7"/><ellipse cx="901.8" cy="1060.3" rx="5.1" ry="5.1" fill="#705018" fill-opacity="0.5"/><ellipse cx="972.3" cy="1094.4" rx="6.8" ry="4.5" fill="#806018" fill-opacity="0.5"/><ellipse cx="914.3" cy="1096.6" rx="3.4" ry="4.5" fill="#705018" fill-opacity="0.45"/><ellipse cx="904.1" cy="962.5" rx="4.5" ry="4.5" fill="#506018" fill-opacity="0.45"/><ellipse cx="954.1" cy="995.5" rx="5.1" ry="5.1" fill="#406020" fill-opacity="0.5"/><ellipse cx="993.9" cy="950.0" rx="5.7" ry="4.5" fill="#605018" fill-opacity="0.4"/><ellipse cx="1047.3" cy="938.7" rx="4.5" ry="4.5" fill="#705018" fill-opacity="0.4"/><ellipse cx="957.5" cy="996.6" rx="1.1" ry="1.1" fill="#30D040" fill-opacity="0.9"/><ellipse cx="974.5" cy="988.7" rx="1.4" ry="1.1" fill="#30A030" fill-opacity="0.6"/><ellipse cx="1000.7" cy="954.6" rx="1.8" ry="1.6" fill="#309030" fill-opacity="0.6"/><ellipse cx="961.5" cy="1004.0" rx="0.6" ry="0.6" fill="#30D040" fill-opacity="0.9"/><ellipse cx="939.9" cy="1013.5" rx="0.6" ry="0.6" fill="#30D040" fill-opacity="0.9"/><ellipse cx="925.7" cy="1071.6" rx="0.7" ry="0.7" fill="#30D040" fill-opacity="0.9"/><ellipse cx="983.6" cy="1093.8" rx="0.7" ry="0.7" fill="#30D040" fill-opacity="0.9"/><ellipse cx="904.1" cy="1013.5" rx="0.6" ry="0.6" fill="#30D040" fill-opacity="0.9"/><ellipse cx="936.5" cy="1035.3" rx="1.8" ry="1.6" fill="#40A030" fill-opacity="0.6"/><ellipse cx="1003.5" cy="1081.3" rx="0.6" ry="0.6" fill="#30D040" fill-opacity="0.9"/></g>
</g>
<g clip-path="url(#cp22)">
<rect x="1056" y="935.6" width="154.6" height="166.4" fill="#181202"/>
<g filter="url(#b3)"><ellipse cx="1080.1" cy="1006.9" rx="4.5" ry="13.6" fill="#F02010" fill-opacity="0.4" transform="rotate(10 1080.1 1006.9)"/></g>
<g filter="url(#b1)" fill="none" stroke-linecap="round" stroke-linejoin="round">
<path d="M1056.3 996.6C1059.7 996.8 1069.5 997.2 1076.7 997.8C1083.9 998.3 1091.9 999.5 1099.5 1000.0C1107.0 1000.6 1114.6 1001.4 1122.2 1001.2C1129.8 1001.0 1138.5 999.5 1144.9 998.9C1151.3 998.3 1158.2 998.0 1160.8 997.8" stroke="#E01810" stroke-width="1.4" stroke-opacity="0.7"/>
<path d="M1142.6 947.8C1142.8 951.0 1142.6 961.0 1143.8 967.1C1144.9 973.2 1147.4 979.4 1149.5 984.1C1151.5 988.9 1155.1 993.6 1156.3 995.5" stroke="#E01810" stroke-width="1.4" stroke-opacity="0.7"/>
<path d="M1056.3 1089.8C1058.7 1087.4 1068.0 1079.4 1071.0 1075.0C1074.1 1070.7 1073.9 1065.6 1074.5 1063.7" stroke="#E01810" stroke-width="1.4" stroke-opacity="0.7"/>
<path d="M1056.3 955.7C1059.7 956.9 1069.5 961.4 1076.7 962.5C1083.9 963.7 1093.4 962.4 1099.5 962.5C1105.5 962.7 1110.8 963.5 1113.1 963.7" stroke="#E01810" stroke-width="1.4" stroke-opacity="0.7"/>
<path d="M1056.3 1052.3C1057.8 1053.6 1062.9 1058.4 1065.4 1060.3C1067.8 1062.2 1070.1 1063.1 1071.0 1063.7" stroke="#E01810" stroke-width="1.4" stroke-opacity="0.7"/>
<path d="M1126.7 964.8C1129.8 965.2 1138.1 966.3 1144.9 967.1C1151.7 967.8 1159.1 968.2 1167.6 969.4C1176.2 970.5 1191.3 973.2 1196.0 973.9" stroke="#E01810" stroke-width="1.4" stroke-opacity="0.7"/>
<path d="M1184.7 944.4C1182.8 948.2 1176.2 959.5 1173.3 967.1C1170.5 974.7 1168.6 986.0 1167.6 989.8" stroke="#E01810" stroke-width="1.4" stroke-opacity="0.7"/>
<path d="M1076.7 1041.0C1078.6 1043.8 1084.3 1053.6 1088.1 1058.0C1091.9 1062.4 1097.6 1065.6 1099.5 1067.1" stroke="#E01810" stroke-width="1.4" stroke-opacity="0.7"/>
<path d="M1108.5 1067.1C1111.8 1065.6 1121.8 1059.9 1127.9 1058.0C1133.9 1056.1 1142.1 1056.1 1144.9 1055.7" stroke="#E01810" stroke-width="1.4" stroke-opacity="0.7"/>
<path d="M1151.7 1072.8C1153.4 1070.3 1158.4 1063.3 1162.0 1058.0C1165.6 1052.7 1170.5 1046.6 1173.3 1041.0C1176.2 1035.3 1178.1 1026.8 1179.0 1023.9" stroke="#E01810" stroke-width="1.4" stroke-opacity="0.7"/>
<path d="M1150.6 1075.0C1153.4 1076.0 1161.0 1080.2 1167.6 1080.7C1174.3 1081.3 1183.3 1078.5 1190.4 1078.5C1197.5 1078.5 1206.9 1080.3 1210.2 1080.7" stroke="#E01810" stroke-width="1.4" stroke-opacity="0.7"/>
<path d="M1056.3 1033.0C1057.8 1035.3 1063.1 1042.5 1065.4 1046.6C1067.6 1050.8 1069.2 1056.1 1069.9 1058.0" stroke="#E01810" stroke-width="1.4" stroke-opacity="0.7"/>
<path d="M1076.7 1069.4C1077.3 1073.2 1079.2 1086.7 1080.1 1092.1C1081.1 1097.5 1082.0 1100.1 1082.4 1101.8" stroke="#E01810" stroke-width="1.4" stroke-opacity="0.7"/>
<path d="M1138.1 936.4 L1142.6 944.4" stroke="#E01810" stroke-width="1.4" stroke-opacity="0.7"/>
<path d="M1065.4 936.4C1069.2 937.0 1080.5 939.6 1088.1 939.8C1095.7 940.0 1107.0 937.9 1110.8 937.5" stroke="#E01810" stroke-width="1.4" stroke-opacity="0.7"/>
<path d="M1210.2 946.6C1207.9 948.2 1201.3 953.3 1196.0 955.7C1190.8 958.2 1181.8 960.5 1179.0 961.4" stroke="#E01810" stroke-width="1.4" stroke-opacity="0.7"/>
<path d="M1056.3 978.5C1058.7 979.4 1065.2 983.4 1071.0 984.1C1076.9 984.9 1088.1 983.2 1091.5 983.0" stroke="#E01810" stroke-width="1.4" stroke-opacity="0.7"/>
<path d="M1210.2 1035.3C1206.9 1036.2 1196.5 1040.0 1190.4 1041.0C1184.2 1041.9 1176.2 1041.0 1173.3 1041.0" stroke="#E01810" stroke-width="1.4" stroke-opacity="0.7"/>
<path d="M1167.6 936.4C1166.7 939.6 1165.0 947.8 1162.0 955.7C1158.9 963.7 1151.5 979.4 1149.5 984.1" stroke="#E01810" stroke-width="1.4" stroke-opacity="0.7"/>
<path d="M1210.2 984.1C1209.6 987.0 1207.5 996.4 1206.3 1001.2C1205.0 1005.9 1204.0 1009.1 1202.9 1012.5C1201.7 1016.0 1201.0 1017.8 1199.5 1021.6C1197.9 1025.4 1196.2 1030.2 1193.8 1035.3C1191.3 1040.4 1188.1 1048.5 1184.7 1052.3C1181.3 1056.1 1175.2 1057.1 1173.3 1058.0" stroke="#C01810" stroke-width="1.2" stroke-opacity="0.5"/>
<path d="M1056.3 1016.0C1058.7 1017.1 1065.7 1020.5 1071.0 1022.8C1076.3 1025.0 1082.4 1027.9 1088.1 1029.6C1093.8 1031.3 1099.5 1031.9 1105.1 1033.0C1110.8 1034.1 1119.3 1035.8 1122.2 1036.4" stroke="#F81810" stroke-width="3.0" stroke-opacity="0.95"/>
<path d="M1122.2 1036.4C1124.1 1035.3 1129.8 1032.4 1133.5 1029.6C1137.3 1026.8 1141.5 1022.6 1144.9 1019.4C1148.3 1016.1 1151.0 1013.3 1154.0 1010.3C1157.0 1007.2 1161.6 1002.7 1163.1 1001.2" stroke="#F81810" stroke-width="4.0" stroke-opacity="0.95"/>
<path d="M1122.2 1036.4C1121.4 1037.5 1119.1 1040.9 1117.6 1043.2C1116.2 1045.6 1114.3 1049.4 1113.7 1050.6" stroke="#F01810" stroke-width="2.5" stroke-opacity="0.9"/>
<path d="M1176.7 996.6C1179.0 996.3 1184.8 994.9 1190.4 994.4C1196.0 993.8 1206.9 993.4 1210.2 993.2" stroke="#F01810" stroke-width="2.5" stroke-opacity="0.9"/>
<path d="M1162.0 998.9C1160.1 999.3 1154.4 999.7 1150.6 1001.2C1146.8 1002.7 1143.0 1005.2 1139.2 1008.0C1135.4 1010.8 1131.5 1015.6 1127.9 1018.2C1124.3 1020.9 1122.4 1021.8 1117.6 1023.9C1112.9 1026.0 1102.5 1029.6 1099.5 1030.7" stroke="#E81810" stroke-width="2.0" stroke-opacity="0.85"/>
<path d="M1091.5 983.0C1090.2 984.9 1085.8 989.8 1083.5 994.4C1081.3 998.9 1079.2 1005.3 1077.9 1010.3C1076.5 1015.2 1075.8 1018.8 1075.6 1023.9C1075.4 1029.0 1076.9 1035.3 1076.7 1041.0C1076.5 1046.6 1075.4 1054.2 1074.5 1058.0C1073.5 1061.8 1071.6 1062.7 1071.0 1063.7" stroke="#E01810" stroke-width="6.5" stroke-opacity="0.8"/>
<path d="M1144.9 946.6C1142.1 948.2 1133.5 952.3 1127.9 955.7C1122.2 959.1 1115.6 963.7 1110.8 967.1C1106.1 970.5 1101.3 974.7 1099.5 976.2" stroke="#F01810" stroke-width="3.0" stroke-opacity="0.9"/>
<path d="M1108.5 936.4C1108.7 939.6 1109.3 948.7 1109.7 955.7C1110.1 962.7 1109.9 970.9 1110.8 978.5C1111.8 986.0 1113.5 994.4 1115.4 1001.2C1117.3 1008.0 1119.9 1013.7 1122.2 1019.4C1124.5 1025.0 1126.7 1029.8 1129.0 1035.3C1131.3 1040.8 1133.5 1046.6 1135.8 1052.3C1138.1 1058.0 1140.7 1063.7 1142.6 1069.4C1144.5 1075.0 1146.2 1081.0 1147.2 1086.4C1148.1 1091.8 1148.1 1099.2 1148.3 1101.8" stroke="#E81810" stroke-width="2.0" stroke-opacity="0.85"/>
<path d="M1097.2 1073.9C1096.2 1076.0 1093.4 1082.6 1091.5 1086.4C1089.6 1090.2 1087.3 1094.1 1085.8 1096.6C1084.3 1099.2 1083.0 1100.9 1082.4 1101.8" stroke="#F01810" stroke-width="3.0" stroke-opacity="0.9"/>
<path d="M1156.3 1095.5C1160.1 1095.7 1172.4 1097.0 1179.0 1096.6C1185.6 1096.3 1190.8 1094.2 1196.0 1093.2C1201.3 1092.3 1207.9 1091.3 1210.2 1091.0" stroke="#F01810" stroke-width="2.5" stroke-opacity="0.88"/>
<path d="M1206.3 984.1C1205.5 987.0 1202.9 996.1 1201.7 1001.2C1200.6 1006.3 1199.8 1012.5 1199.5 1014.8" stroke="#E01810" stroke-width="1.8" stroke-opacity="0.8"/>
</g>
<g filter="url(#b2)"><ellipse cx="1149.5" cy="941.0" rx="7.4" ry="5.7" fill="#D02010" fill-opacity="0.85"/><ellipse cx="1118.8" cy="964.2" rx="7.0" ry="4.8" fill="#C03010" fill-opacity="0.8" transform="rotate(-15 1118.8 964.2)"/><ellipse cx="1119.9" cy="964.8" rx="4.5" ry="3.0" fill="#508020" fill-opacity="0.9" transform="rotate(-15 1119.9 964.8)"/><ellipse cx="1093.8" cy="980.7" rx="4.8" ry="4.1" fill="#D02810" fill-opacity="0.6"/><ellipse cx="1093.8" cy="980.7" rx="3.6" ry="3.2" fill="#608020" fill-opacity="0.9"/><ellipse cx="1202.9" cy="976.8" rx="6.2" ry="6.2" fill="#C04010" fill-opacity="0.7"/><ellipse cx="1202.9" cy="976.8" rx="4.8" ry="4.8" fill="#70A020" fill-opacity="0.9"/><ellipse cx="1166.5" cy="998.9" rx="9.1" ry="4.8" fill="#F82010" fill-opacity="0.9" transform="rotate(-15 1166.5 998.9)"/><ellipse cx="1172.2" cy="994.4" rx="6.6" ry="5.1" fill="#70B030" fill-opacity="0.95" transform="rotate(-10 1172.2 994.4)"/><ellipse cx="1089.8" cy="1013.7" rx="4.3" ry="4.3" fill="#509020" fill-opacity="0.9"/><ellipse cx="1198.9" cy="1020.5" rx="4.0" ry="4.5" fill="#E02010" fill-opacity="0.7"/><ellipse cx="1199.5" cy="1014.8" rx="4.1" ry="4.5" fill="#509020" fill-opacity="0.9"/><ellipse cx="1099.5" cy="1070.5" rx="6.8" ry="4.8" fill="#E02010" fill-opacity="0.75"/><ellipse cx="1104.0" cy="1068.2" rx="4.8" ry="3.7" fill="#508020" fill-opacity="0.9"/><ellipse cx="1140.4" cy="1063.7" rx="8.0" ry="8.0" fill="#A02010" fill-opacity="0.5"/><ellipse cx="1144.9" cy="1068.2" rx="3.2" ry="4.5" fill="#507020" fill-opacity="0.8"/><ellipse cx="1151.7" cy="1094.4" rx="4.8" ry="4.8" fill="#608020" fill-opacity="0.85"/><ellipse cx="1151.7" cy="1094.4" rx="6.2" ry="5.7" fill="#C02010" fill-opacity="0.4"/><ellipse cx="1069.9" cy="1063.7" rx="6.8" ry="6.8" fill="#C02010" fill-opacity="0.6"/><ellipse cx="1068.8" cy="1063.7" rx="3.6" ry="3.6" fill="#607020" fill-opacity="0.7"/><ellipse cx="1132.4" cy="1008.0" rx="4.0" ry="4.0" fill="#405018" fill-opacity="0.6"/><ellipse cx="1085.8" cy="1097.8" rx="6.8" ry="4.5" fill="#E02010" fill-opacity="0.7"/></g>
</g>
<g clip-path="url(#cp23)">
<rect x="1214.2" y="935.6" width="154.5" height="166.4" fill="#141F08"/>
<g filter="url(#b3)"><ellipse cx="1257.5" cy="946.6" rx="13.6" ry="2.8" fill="#206018" fill-opacity="0.5" transform="rotate(-5 1257.5 946.6)"/><ellipse cx="1291.5" cy="967.1" rx="11.4" ry="5.7" fill="#204818" fill-opacity="0.5"/><ellipse cx="1325.6" cy="1080.7" rx="34.1" ry="17.0" fill="#1A3010" fill-opacity="0.5"/></g>
<g filter="url(#b1)" fill="none" stroke-linecap="round" stroke-linejoin="round">
<path d="M1337.0 1030.7C1338.9 1029.2 1344.6 1025.6 1348.4 1021.6C1352.2 1017.7 1356.7 1012.2 1359.7 1006.9C1362.8 1001.6 1365.0 995.5 1366.5 989.8C1368.1 984.1 1368.6 975.6 1369.0 972.8" stroke="#E02410" stroke-width="1.3" stroke-opacity="0.7"/>
<path d="M1225.6 950.0C1227.2 954.8 1232.6 969.9 1234.7 978.5C1236.8 987.0 1238.1 993.6 1238.1 1001.2C1238.1 1008.8 1235.3 1020.1 1234.7 1023.9" stroke="#E02410" stroke-width="1.3" stroke-opacity="0.7"/>
<path d="M1246.1 1023.9C1245.7 1026.8 1245.7 1035.3 1243.8 1041.0C1241.9 1046.6 1236.2 1055.2 1234.7 1058.0" stroke="#E02410" stroke-width="1.3" stroke-opacity="0.7"/>
<path d="M1271.1 1069.4C1272.6 1071.3 1276.8 1076.9 1280.2 1080.7C1283.6 1084.5 1288.7 1088.6 1291.5 1092.1C1294.4 1095.6 1296.3 1100.1 1297.2 1101.8" stroke="#E02410" stroke-width="1.3" stroke-opacity="0.7"/>
<path d="M1214.3 1075.0C1217.7 1076.0 1227.5 1078.8 1234.7 1080.7C1241.9 1082.6 1249.9 1083.6 1257.5 1086.4C1265.0 1089.2 1276.4 1095.9 1280.2 1097.8" stroke="#E02410" stroke-width="1.3" stroke-opacity="0.7"/>
<path d="M1350.6 936.4C1350.8 939.6 1352.2 948.7 1351.8 955.7C1351.4 962.7 1348.9 974.7 1348.4 978.5" stroke="#E02410" stroke-width="1.3" stroke-opacity="0.7"/>
<path d="M1300.6 936.4 L1301.8 950.0" stroke="#E02410" stroke-width="1.3" stroke-opacity="0.7"/>
<path d="M1325.6 936.4C1326.6 939.6 1330.4 948.7 1331.3 955.7C1332.3 962.7 1330.4 971.8 1331.3 978.5C1332.3 985.1 1336.1 992.7 1337.0 995.5" stroke="#E02410" stroke-width="1.3" stroke-opacity="0.7"/>
<path d="M1255.2 1023.9C1256.5 1026.8 1260.9 1035.3 1263.1 1041.0C1265.4 1046.6 1267.9 1055.2 1268.8 1058.0" stroke="#E02410" stroke-width="1.3" stroke-opacity="0.7"/>
<path d="M1214.3 1092.1C1215.8 1091.1 1219.0 1086.4 1223.4 1086.4C1227.7 1086.4 1237.6 1091.1 1240.4 1092.1" stroke="#E02410" stroke-width="1.3" stroke-opacity="0.7"/>
<path d="M1238.1 981.9 L1246.1 972.8" stroke="#E02410" stroke-width="1.3" stroke-opacity="0.7"/>
<path d="M1280.2 955.7C1281.1 959.5 1284.0 970.9 1285.9 978.5C1287.8 986.0 1290.6 997.4 1291.5 1001.2" stroke="#E02410" stroke-width="1.3" stroke-opacity="0.7"/>
<path d="M1369.0 1035.3C1367.5 1037.2 1363.2 1044.0 1359.7 1046.6C1356.3 1049.3 1350.3 1050.4 1348.4 1051.2" stroke="#E02410" stroke-width="1.3" stroke-opacity="0.7"/>
<path d="M1291.5 1046.6C1289.7 1048.5 1283.2 1055.2 1280.2 1058.0C1277.2 1060.8 1274.5 1062.7 1273.4 1063.7" stroke="#E02410" stroke-width="1.3" stroke-opacity="0.7"/>
<path d="M1214.3 996.6C1217.7 998.2 1227.5 1002.7 1234.7 1005.7C1241.9 1008.8 1249.9 1012.0 1257.5 1014.8C1265.0 1017.7 1272.6 1020.1 1280.2 1022.8C1287.8 1025.4 1295.3 1027.9 1302.9 1030.7C1310.5 1033.6 1318.1 1036.4 1325.6 1039.8C1333.2 1043.2 1341.1 1047.4 1348.4 1051.2C1355.6 1055.0 1365.6 1060.7 1369.0 1062.5" stroke="#F82010" stroke-width="2.5" stroke-opacity="0.95"/>
<path d="M1214.3 937.5C1215.8 939.6 1220.0 945.9 1223.4 950.0C1226.8 954.2 1230.9 958.8 1234.7 962.5C1238.5 966.3 1241.9 970.3 1246.1 972.8C1250.3 975.2 1257.5 976.6 1259.7 977.3" stroke="#F02010" stroke-width="2.5" stroke-opacity="0.9"/>
<path d="M1337.0 936.4C1334.2 937.4 1325.6 940.0 1320.0 942.1C1314.3 944.2 1308.6 946.6 1302.9 948.9C1297.2 951.2 1288.7 954.6 1285.9 955.7" stroke="#F02010" stroke-width="2.4" stroke-opacity="0.9"/>
<path d="M1291.5 973.9C1293.4 974.7 1299.1 977.1 1302.9 978.5C1306.7 979.8 1312.4 981.3 1314.3 981.9" stroke="#F82810" stroke-width="3.2" stroke-opacity="0.92"/>
<path d="M1331.3 1012.5C1334.2 1012.7 1342.1 1013.4 1348.4 1013.7C1354.7 1014.0 1365.6 1014.2 1369.0 1014.2" stroke="#F02010" stroke-width="2.4" stroke-opacity="0.9"/>
<path d="M1325.6 1051.2C1328.5 1052.3 1337.0 1055.3 1342.7 1058.0C1348.4 1060.7 1355.3 1064.8 1359.7 1067.1C1364.1 1069.4 1367.5 1070.9 1369.0 1071.6" stroke="#F02010" stroke-width="2.5" stroke-opacity="0.9"/>
<path d="M1321.1 1058.0C1320.5 1059.9 1318.1 1065.2 1317.7 1069.4C1317.3 1073.5 1317.9 1078.8 1318.8 1083.0C1319.8 1087.2 1322.2 1091.2 1323.4 1094.4C1324.5 1097.5 1325.3 1100.5 1325.6 1101.8" stroke="#E82010" stroke-width="2.0" stroke-opacity="0.85"/>
<path d="M1291.5 1005.7C1293.4 1006.5 1299.1 1009.1 1302.9 1010.3C1306.7 1011.4 1312.4 1012.2 1314.3 1012.5" stroke="#F02010" stroke-width="2.4" stroke-opacity="0.9"/>
<path d="M1259.7 977.3C1261.2 979.4 1265.4 986.2 1268.8 989.8C1272.2 993.4 1278.3 997.4 1280.2 998.9" stroke="#E82010" stroke-width="2.0" stroke-opacity="0.85"/>
<path d="M1214.3 1033.0C1216.7 1031.9 1224.1 1028.5 1229.0 1026.2C1234.0 1023.9 1241.4 1020.5 1243.8 1019.4" stroke="#E82010" stroke-width="2.0" stroke-opacity="0.85"/>
<path d="M1240.4 980.7 L1259.7 977.3" stroke="#E82010" stroke-width="2.0" stroke-opacity="0.8"/>
<path d="M1342.7 1023.9C1341.7 1025.0 1339.8 1028.8 1337.0 1030.7C1334.2 1032.6 1327.5 1034.5 1325.6 1035.3" stroke="#D04010" stroke-width="4.0" stroke-opacity="0.6"/>
<path d="M1369.0 939.8 L1354.0 936.4" stroke="#E82010" stroke-width="1.5" stroke-opacity="0.8"/>
</g>
<g filter="url(#b2)"><ellipse cx="1264.3" cy="979.6" rx="8.0" ry="6.2" fill="#E03010" fill-opacity="0.9"/><ellipse cx="1267.7" cy="980.7" rx="3.9" ry="4.5" fill="#708020" fill-opacity="0.9"/><ellipse cx="1316.5" cy="983.0" rx="8.5" ry="6.8" fill="#FF3010" fill-opacity="0.95" transform="rotate(15 1316.5 983.0)"/><ellipse cx="1318.8" cy="984.1" rx="4.5" ry="3.9" fill="#A05010" fill-opacity="0.85"/><ellipse cx="1291.5" cy="985.3" rx="5.7" ry="6.2" fill="#506018" fill-opacity="0.7"/><ellipse cx="1242.7" cy="992.1" rx="6.8" ry="5.7" fill="#B02810" fill-opacity="0.55"/><ellipse cx="1246.1" cy="992.7" rx="4.5" ry="4.3" fill="#40A020" fill-opacity="0.95"/><ellipse cx="1243.8" cy="963.7" rx="6.2" ry="4.5" fill="#902810" fill-opacity="0.45"/><ellipse cx="1243.8" cy="963.7" rx="4.5" ry="3.4" fill="#307018" fill-opacity="0.85"/><ellipse cx="1287.0" cy="1000.0" rx="6.2" ry="5.1" fill="#FF3010" fill-opacity="0.95"/><ellipse cx="1291.5" cy="1001.2" rx="3.9" ry="3.2" fill="#90A020" fill-opacity="0.9"/><ellipse cx="1340.4" cy="1006.9" rx="9.1" ry="8.0" fill="#E03010" fill-opacity="0.7"/><ellipse cx="1327.9" cy="1009.1" rx="6.2" ry="4.8" fill="#50C030" fill-opacity="0.97"/><ellipse cx="1321.1" cy="996.6" rx="4.5" ry="4.5" fill="#306018" fill-opacity="0.7"/><ellipse cx="1339.3" cy="994.4" rx="5.1" ry="4.0" fill="#306018" fill-opacity="0.7"/><ellipse cx="1247.2" cy="1018.2" rx="5.7" ry="4.5" fill="#E03010" fill-opacity="0.7"/><ellipse cx="1253.5" cy="1019.4" rx="4.3" ry="4.5" fill="#409020" fill-opacity="0.92"/><ellipse cx="1272.2" cy="1026.2" rx="5.1" ry="5.7" fill="#A02810" fill-opacity="0.45"/><ellipse cx="1272.2" cy="1026.2" rx="3.7" ry="4.3" fill="#407018" fill-opacity="0.8"/><ellipse cx="1224.5" cy="1028.5" rx="6.8" ry="5.1" fill="#E03010" fill-opacity="0.7"/><ellipse cx="1220.5" cy="1031.9" rx="4.5" ry="4.8" fill="#508020" fill-opacity="0.9"/><ellipse cx="1312.0" cy="1037.5" rx="6.8" ry="6.2" fill="#F04010" fill-opacity="0.8"/><ellipse cx="1305.8" cy="1036.4" rx="4.8" ry="4.3" fill="#50B028" fill-opacity="0.97"/><ellipse cx="1308.6" cy="1050.0" rx="4.5" ry="4.0" fill="#306018" fill-opacity="0.7"/><ellipse cx="1271.7" cy="1063.7" rx="5.1" ry="6.8" fill="#E84010" fill-opacity="0.9"/><ellipse cx="1271.1" cy="1061.4" rx="2.7" ry="3.2" fill="#806018" fill-opacity="0.8"/><ellipse cx="1292.7" cy="1061.4" rx="4.5" ry="5.7" fill="#D03010" fill-opacity="0.7"/><ellipse cx="1295.0" cy="1067.1" rx="3.9" ry="3.9" fill="#407018" fill-opacity="0.9"/><ellipse cx="1218.8" cy="1069.4" rx="6.8" ry="8.0" fill="#E83810" fill-opacity="0.9"/><ellipse cx="1216.5" cy="1068.2" rx="3.2" ry="3.2" fill="#806018" fill-opacity="0.8"/><ellipse cx="1342.7" cy="1072.8" rx="8.0" ry="6.8" fill="#B03010" fill-opacity="0.75"/><ellipse cx="1342.7" cy="1072.8" rx="4.0" ry="3.4" fill="#602810" fill-opacity="0.6"/><ellipse cx="1342.7" cy="1028.5" rx="5.1" ry="4.5" fill="#405018" fill-opacity="0.6"/><ellipse cx="1320.0" cy="938.7" rx="6.8" ry="3.4" fill="#F02010" fill-opacity="0.85" transform="rotate(-15 1320.0 938.7)"/><ellipse cx="1310.9" cy="939.8" rx="5.1" ry="4.0" fill="#407018" fill-opacity="0.7"/><ellipse cx="1215.4" cy="1095.5" rx="3.4" ry="4.5" fill="#C03010" fill-opacity="0.7"/><ellipse cx="1354.0" cy="980.7" rx="0.7" ry="0.7" fill="#30D040" fill-opacity="0.9"/><ellipse cx="1341.5" cy="956.9" rx="0.7" ry="0.7" fill="#30D040" fill-opacity="0.9"/></g>
</g>
<path transform="translate(1082.2 613.2) rotate(-90)" d="M0 0L-14.6 -6L-10.6 -1.3H-20.5V1.3H-10.6L-14.6 6Z" fill="#fff" stroke="#fff" stroke-width="0.6" stroke-linejoin="round"/>
<path transform="translate(1129.6 622.8) rotate(0)" d="M0 0L-14.6 -6L-10.6 -1.3H-20.5V1.3H-10.6L-14.6 6Z" fill="#fff" stroke="#fff" stroke-width="0.6" stroke-linejoin="round"/>
<path transform="translate(1134.7 672.2) rotate(0)" d="M0 0L-14.6 -6L-10.6 -1.3H-20.5V1.3H-10.6L-14.6 6Z" fill="#fff" stroke="#fff" stroke-width="0.6" stroke-linejoin="round"/>
<path transform="translate(1167.6 705.2) rotate(-90)" d="M0 0L-14.6 -6L-10.6 -1.3H-20.5V1.3H-10.6L-14.6 6Z" fill="#fff" stroke="#fff" stroke-width="0.6" stroke-linejoin="round"/>
<path transform="translate(1236.4 618.3) rotate(0)" d="M0 0L-14.6 -6L-10.6 -1.3H-20.5V1.3H-10.6L-14.6 6Z" fill="#fff" stroke="#fff" stroke-width="0.6" stroke-linejoin="round"/>
<path transform="translate(1341.5 633.6) rotate(0)" d="M0 0L-14.6 -6L-10.6 -1.3H-20.5V1.3H-10.6L-14.6 6Z" fill="#fff" stroke="#fff" stroke-width="0.6" stroke-linejoin="round"/>
<path transform="translate(1305.2 648.4) rotate(0)" d="M0 0L-14.6 -6L-10.6 -1.3H-20.5V1.3H-10.6L-14.6 6Z" fill="#fff" stroke="#fff" stroke-width="0.6" stroke-linejoin="round"/>
<path transform="translate(1297.2 664.3) rotate(0)" d="M0 0L-14.6 -6L-10.6 -1.3H-20.5V1.3H-10.6L-14.6 6Z" fill="#fff" stroke="#fff" stroke-width="0.6" stroke-linejoin="round"/>
<path transform="translate(1284.2 688.2) rotate(0)" d="M0 0L-14.6 -6L-10.6 -1.3H-20.5V1.3H-10.6L-14.6 6Z" fill="#fff" stroke="#fff" stroke-width="0.6" stroke-linejoin="round"/>
<path transform="translate(979.7 852.9) rotate(0)" d="M0 0L-14.6 -6L-10.6 -1.3H-20.5V1.3H-10.6L-14.6 6Z" fill="#fff" stroke="#fff" stroke-width="0.6" stroke-linejoin="round"/>
<path transform="translate(962.0 892.7) rotate(-90)" d="M0 0L-14.6 -6L-10.6 -1.3H-20.5V1.3H-10.6L-14.6 6Z" fill="#fff" stroke="#fff" stroke-width="0.6" stroke-linejoin="round"/>
<path transform="translate(1131.8 851.2) rotate(-44)" d="M0 0L-14.6 -6L-10.6 -1.3H-20.5V1.3H-10.6L-14.6 6Z" fill="#fff" stroke="#fff" stroke-width="0.6" stroke-linejoin="round"/>
<path transform="translate(1090.4 873.4) rotate(-90)" d="M0 0L-14.6 -6L-10.6 -1.3H-20.5V1.3H-10.6L-14.6 6Z" fill="#fff" stroke="#fff" stroke-width="0.6" stroke-linejoin="round"/>
<path transform="translate(1234.2 831.3) rotate(-90)" d="M0 0L-14.6 -6L-10.6 -1.3H-20.5V1.3H-10.6L-14.6 6Z" fill="#fff" stroke="#fff" stroke-width="0.6" stroke-linejoin="round"/>
<path transform="translate(1284.7 816.0) rotate(-45)" d="M0 0L-14.6 -6L-10.6 -1.3H-20.5V1.3H-10.6L-14.6 6Z" fill="#fff" stroke="#fff" stroke-width="0.6" stroke-linejoin="round"/>
<path transform="translate(1305.2 905.2) rotate(0)" d="M0 0L-14.6 -6L-10.6 -1.3H-20.5V1.3H-10.6L-14.6 6Z" fill="#fff" stroke="#fff" stroke-width="0.6" stroke-linejoin="round"/>
<path transform="translate(1347.2 895.5) rotate(0)" d="M0 0L-14.6 -6L-10.6 -1.3H-20.5V1.3H-10.6L-14.6 6Z" fill="#fff" stroke="#fff" stroke-width="0.6" stroke-linejoin="round"/>
<path transform="translate(1347.2 913.1) rotate(0)" d="M0 0L-14.6 -6L-10.6 -1.3H-20.5V1.3H-10.6L-14.6 6Z" fill="#fff" stroke="#fff" stroke-width="0.6" stroke-linejoin="round"/>
<path transform="translate(1090.4 985.3) rotate(-48)" d="M0 0L-14.6 -6L-10.6 -1.3H-20.5V1.3H-10.6L-14.6 6Z" fill="#fff" stroke="#fff" stroke-width="0.6" stroke-linejoin="round"/>
<path transform="translate(1121.0 971.6) rotate(-90)" d="M0 0L-14.6 -6L-10.6 -1.3H-20.5V1.3H-10.6L-14.6 6Z" fill="#fff" stroke="#fff" stroke-width="0.6" stroke-linejoin="round"/>
<path transform="translate(1193.8 978.5) rotate(0)" d="M0 0L-14.6 -6L-10.6 -1.3H-20.5V1.3H-10.6L-14.6 6Z" fill="#fff" stroke="#fff" stroke-width="0.6" stroke-linejoin="round"/>
<path transform="translate(1098.9 1014.2) rotate(180)" d="M0 0L-14.6 -6L-10.6 -1.3H-20.5V1.3H-10.6L-14.6 6Z" fill="#fff" stroke="#fff" stroke-width="0.6" stroke-linejoin="round"/>
<path transform="translate(1163.7 1002.9) rotate(-47)" d="M0 0L-14.6 -6L-10.6 -1.3H-20.5V1.3H-10.6L-14.6 6Z" fill="#fff" stroke="#fff" stroke-width="0.6" stroke-linejoin="round"/>
<path transform="translate(1198.3 1023.3) rotate(-90)" d="M0 0L-14.6 -6L-10.6 -1.3H-20.5V1.3H-10.6L-14.6 6Z" fill="#fff" stroke="#fff" stroke-width="0.6" stroke-linejoin="round"/>
<path transform="translate(1093.2 1069.4) rotate(0)" d="M0 0L-14.6 -6L-10.6 -1.3H-20.5V1.3H-10.6L-14.6 6Z" fill="#fff" stroke="#fff" stroke-width="0.6" stroke-linejoin="round"/>
<path transform="translate(1136.4 1090.4) rotate(0)" d="M0 0L-14.6 -6L-10.6 -1.3H-20.5V1.3H-10.6L-14.6 6Z" fill="#fff" stroke="#fff" stroke-width="0.6" stroke-linejoin="round"/>
<path transform="translate(1237.9 963.7) rotate(0)" d="M0 0L-14.6 -6L-10.6 -1.3H-20.5V1.3H-10.6L-14.6 6Z" fill="#fff" stroke="#fff" stroke-width="0.6" stroke-linejoin="round"/>
<path transform="translate(1235.9 993.5) rotate(0)" d="M0 0L-14.6 -6L-10.6 -1.3H-20.5V1.3H-10.6L-14.6 6Z" fill="#fff" stroke="#fff" stroke-width="0.6" stroke-linejoin="round"/>
<path transform="translate(1283.0 1001.0) rotate(0)" d="M0 0L-14.6 -6L-10.6 -1.3H-20.5V1.3H-10.6L-14.6 6Z" fill="#fff" stroke="#fff" stroke-width="0.6" stroke-linejoin="round"/>
<path transform="translate(1349.5 995.8) rotate(180)" d="M0 0L-14.6 -6L-10.6 -1.3H-20.5V1.3H-10.6L-14.6 6Z" fill="#fff" stroke="#fff" stroke-width="0.6" stroke-linejoin="round"/>
<path transform="translate(1314.8 1003.5) rotate(-46)" d="M0 0L-14.6 -6L-10.6 -1.3H-20.5V1.3H-10.6L-14.6 6Z" fill="#fff" stroke="#fff" stroke-width="0.6" stroke-linejoin="round"/>
<path transform="translate(1246.1 1020.7) rotate(0)" d="M0 0L-14.6 -6L-10.6 -1.3H-20.5V1.3H-10.6L-14.6 6Z" fill="#fff" stroke="#fff" stroke-width="0.6" stroke-linejoin="round"/>
<path transform="translate(1329.0 1019.4) rotate(-90)" d="M0 0L-14.6 -6L-10.6 -1.3H-20.5V1.3H-10.6L-14.6 6Z" fill="#fff" stroke="#fff" stroke-width="0.6" stroke-linejoin="round"/>
<path transform="translate(1273.1 1033.6) rotate(-90)" d="M0 0L-14.6 -6L-10.6 -1.3H-20.5V1.3H-10.6L-14.6 6Z" fill="#fff" stroke="#fff" stroke-width="0.6" stroke-linejoin="round"/>
<path transform="translate(1300.1 1039.8) rotate(-46)" d="M0 0L-14.6 -6L-10.6 -1.3H-20.5V1.3H-10.6L-14.6 6Z" fill="#fff" stroke="#fff" stroke-width="0.6" stroke-linejoin="round"/>
<path transform="translate(1314.3 1050.6) rotate(180)" d="M0 0L-14.6 -6L-10.6 -1.3H-20.5V1.3H-10.6L-14.6 6Z" fill="#fff" stroke="#fff" stroke-width="0.6" stroke-linejoin="round"/>
<path transform="translate(1221.7 1041.5) rotate(-90)" d="M0 0L-14.6 -6L-10.6 -1.3H-20.5V1.3H-10.6L-14.6 6Z" fill="#fff" stroke="#fff" stroke-width="0.6" stroke-linejoin="round"/>
<path transform="translate(1297.8 1074.5) rotate(180)" d="M0 0L-14.6 -6L-10.6 -1.3H-20.5V1.3H-10.6L-14.6 6Z" fill="#fff" stroke="#fff" stroke-width="0.6" stroke-linejoin="round"/>
<rect x="1330.2" y="748.8" width="33.8" height="4.6" fill="#fff"/>
<rect x="1330.4" y="923.6" width="30.8" height="4.6" fill="#fff"/>
<rect x="1325" y="1092.3" width="34.2" height="4.6" fill="#fff"/>
</g>
<g id="pe">
<text transform="translate(1.0 1159.0) scale(1.12 1)" x="-1.2" y="0" font-size="31" font-weight="bold" stroke="#000" stroke-width="1.1" stroke-linejoin="round">e</text>
<ellipse cx="402.9" cy="1197.1" rx="18.6" ry="9.8" transform="rotate(36 402.9 1197.1)" fill="#DCEDE8" stroke="#C8E0D9" stroke-width="1"/>
<ellipse cx="120.6" cy="1286.6" rx="17" ry="39.4" transform="rotate(15 120.6 1286.6)" fill="#E0EEDA" stroke="#D0E4CA" stroke-width="1"/>
<ellipse cx="458.7" cy="1326.4" rx="16.7" ry="67" transform="rotate(-18 458.7 1326.4)" fill="#F4DDF7" stroke="#EBCBF1" stroke-width="1"/>
<ellipse cx="466.2" cy="1283.2" rx="21.2" ry="10.6" transform="rotate(40 466.2 1283.2)" fill="#7080E8" fill-opacity="0.22" stroke="#A8B4F0" stroke-opacity="0.6" stroke-width="1"/>
<circle cx="397.6" cy="1190.3" r="5.8" fill="#4BA596" stroke="#2E8A7A" stroke-width="1" fill-opacity="0.95"/>
<circle cx="411.4" cy="1200.5" r="5.8" fill="#4BA596" stroke="#2E8A7A" stroke-width="1" fill-opacity="0.95"/>
<circle cx="124.7" cy="1263.6" r="5.8" fill="#5DAA3C" stroke="#4C9A2C" stroke-width="1" fill-opacity="1"/>
<circle cx="111.4" cy="1311.5" r="5.8" fill="#5DAA3C" stroke="#4C9A2C" stroke-width="1" fill-opacity="1"/>
<circle cx="460.2" cy="1277.4" r="5.8" fill="#4A7CEB" stroke="#2F62E0" stroke-width="1" fill-opacity="0.92"/>
<circle cx="471.3" cy="1285.8" r="5.8" fill="#4A7CEB" stroke="#2F62E0" stroke-width="1" fill-opacity="0.92"/>
<circle cx="440.6" cy="1273" r="5.8" fill="#C94FDC" stroke="#B530D0" stroke-width="1" fill-opacity="0.95"/>
<circle cx="476" cy="1381.4" r="5.8" fill="#C94FDC" stroke="#B530D0" stroke-width="1" fill-opacity="0.95"/>
<line x1="94.4" y1="1179.0" x2="94.4" y2="1391.8" stroke="#000" stroke-width="2.0"/>
<line x1="93.6" y1="1391.0" x2="495.0" y2="1391.0" stroke="#000" stroke-width="2.0"/>
<line x1="87.8" y1="1179.8" x2="94.4" y2="1179.8" stroke="#000" stroke-width="2.0"/>
<text x="84.4" y="1187.1" text-anchor="end">100</text>
<line x1="87.8" y1="1226.3" x2="94.4" y2="1226.3" stroke="#000" stroke-width="2.0"/>
<text x="84.4" y="1233.6" text-anchor="end">50</text>
<line x1="87.8" y1="1272.5" x2="94.4" y2="1272.5" stroke="#000" stroke-width="2.0"/>
<text x="84.4" y="1279.8" text-anchor="end">0</text>
<line x1="87.8" y1="1319.0" x2="94.4" y2="1319.0" stroke="#000" stroke-width="2.0"/>
<text x="84.4" y="1326.3" text-anchor="end">−50</text>
<line x1="87.8" y1="1364.8" x2="94.4" y2="1364.8" stroke="#000" stroke-width="2.0"/>
<text x="84.4" y="1372.1" text-anchor="end">−100</text>
<line x1="177.5" y1="1391.0" x2="177.5" y2="1397.6" stroke="#000" stroke-width="2.0"/>
<text x="193.2" y="1418.0" text-anchor="end">−200</text>
<line x1="269.6" y1="1391.0" x2="269.6" y2="1397.6" stroke="#000" stroke-width="2.0"/>
<text x="285.3" y="1418.0" text-anchor="end">−100</text>
<line x1="362.0" y1="1391.0" x2="362.0" y2="1397.6" stroke="#000" stroke-width="2.0"/>
<text x="362.0" y="1418.0" text-anchor="middle">0</text>
<line x1="454.9" y1="1391.0" x2="454.9" y2="1397.6" stroke="#000" stroke-width="2.0"/>
<text x="454.9" y="1418.0" text-anchor="middle">100</text>
<text x="211.6" y="1444.3" textLength="178.5" lengthAdjust="spacingAndGlyphs">PC1: 69% variance</text>
<text x="26.0" y="1275.6" text-anchor="middle" textLength="178.0" lengthAdjust="spacingAndGlyphs" transform="rotate(-90 26.0 1275.6)">PC2: 11% variance</text>
<text x="339.8" y="1177.9">d50#1</text>
<text x="420.6" y="1206.7">d50#2</text>
<text x="361.2" y="1270.6">d100#1</text>
<text x="462.4" y="1266.1">d75#1</text>
<text x="483.3" y="1303.6">d75#2</text>
<text x="393.8" y="1379.7">d100#2</text>
<text x="141.3" y="1266.8">d25#2</text>
<text x="130.4" y="1315.8">d25#1</text>
</g>
<g id="pf">
<text transform="translate(4.0 1480.3) scale(1.12 1)" x="-1.2" y="0" font-size="31" font-weight="bold" stroke="#000" stroke-width="1.1" stroke-linejoin="round">f</text>
<defs>
<linearGradient id="bd0" x1="0" y1="0" x2="1" y2="0"><stop offset="0.420" stop-color="#2222EE" stop-opacity="0"/><stop offset="0.457" stop-color="#2222EE" stop-opacity="0.22"/><stop offset="0.481" stop-color="#1A1AE6" stop-opacity="0.8"/><stop offset="0.5" stop-color="#1010E0" stop-opacity="1"/><stop offset="0.519" stop-color="#1A1AE6" stop-opacity="0.8"/><stop offset="0.543" stop-color="#2222EE" stop-opacity="0.22"/><stop offset="0.580" stop-color="#2222EE" stop-opacity="0"/></linearGradient>
<linearGradient id="bd1" x1="0" y1="0" x2="1" y2="0"><stop offset="0.386" stop-color="#2222EE" stop-opacity="0"/><stop offset="0.439" stop-color="#2222EE" stop-opacity="0.22"/><stop offset="0.474" stop-color="#1A1AE6" stop-opacity="0.8"/><stop offset="0.5" stop-color="#1010E0" stop-opacity="1"/><stop offset="0.526" stop-color="#1A1AE6" stop-opacity="0.8"/><stop offset="0.561" stop-color="#2222EE" stop-opacity="0.22"/><stop offset="0.614" stop-color="#2222EE" stop-opacity="0"/></linearGradient>
<linearGradient id="bd2" x1="0" y1="0" x2="1" y2="0"><stop offset="0.330" stop-color="#2222EE" stop-opacity="0"/><stop offset="0.409" stop-color="#2222EE" stop-opacity="0.22"/><stop offset="0.460" stop-color="#1A1AE6" stop-opacity="0.8"/><stop offset="0.5" stop-color="#1010E0" stop-opacity="1"/><stop offset="0.540" stop-color="#1A1AE6" stop-opacity="0.8"/><stop offset="0.591" stop-color="#2222EE" stop-opacity="0.22"/><stop offset="0.670" stop-color="#2222EE" stop-opacity="0"/></linearGradient>
<linearGradient id="hz" x1="0" y1="0" x2="1" y2="0"><stop offset="0.05" stop-color="#3030F0" stop-opacity="0"/><stop offset="0.5" stop-color="#3030F0" stop-opacity="1"/><stop offset="0.95" stop-color="#3030F0" stop-opacity="0"/></linearGradient>
</defs>
<filter id="fb" x="-2%" y="-2%" width="104%" height="104%"><feGaussianBlur stdDeviation="0.9 0.5"/></filter>
<rect x="82.3" y="1491.3" width="63.4" height="473.9" fill="#F8F8FF"/>
<rect x="145.7" y="1491.3" width="63.3" height="473.9" fill="#F8F8FF"/>
<rect x="209" y="1491.3" width="63.4" height="473.9" fill="#F8F8FF"/>
<rect x="272.4" y="1491.3" width="63.2" height="473.9" fill="#F8F8FF"/>
<rect x="354.5" y="1491.3" width="64.9" height="473.9" fill="#F8F8FF"/>
<rect x="419.4" y="1491.3" width="64.7" height="473.9" fill="#F8F8FF"/>
<g filter="url(#fb)" fill="none" stroke="#1616E2" stroke-width="2.1">
<path d="M111.3 1492.3H116.7M112.8 1492.3H115.3M111.4 1494.3H116.9M112.8 1494.3H115.4M111.2 1496.3H116.0M112.5 1496.3H114.7M112.7 1498.3H116.2M113.7 1498.3H115.3M110.6 1500.3H116.7M112.2 1500.3H115.1M111.9 1502.3H115.5M112.8 1502.3H114.5M111.2 1504.3H116.6M112.7 1504.3H115.2M110.9 1506.3H117.1M112.6 1506.3H115.4M112.2 1508.3H116.8M113.4 1508.3H115.6M110.6 1510.3H117.0M112.3 1510.3H115.3M112.4 1512.3H116.1M113.4 1512.3H115.1M112.0 1514.3H117.0M113.3 1514.3H115.6M112.2 1516.3H116.6M111.0 1518.3H116.1M112.4 1518.3H114.8M111.3 1520.3H115.8M112.5 1520.3H114.6M110.3 1522.3H116.9M112.1 1522.3H115.2M112.5 1524.3H116.1M113.4 1524.3H115.1M112.5 1526.3H114.9M110.6 1528.3H116.7M112.2 1528.3H115.1M112.2 1530.3H116.7M113.4 1530.3H115.5M110.1 1532.3H117.3M112.0 1532.3H115.4M110.5 1534.3H116.7M112.2 1534.3H115.0M112.0 1536.3H116.5M113.2 1536.3H115.3M111.8 1538.3H115.4M112.7 1538.3H114.4M110.9 1540.3H116.8M112.5 1540.3H115.3M111.4 1542.3H116.8M112.8 1542.3H115.4M112.4 1544.3H116.4M113.5 1544.3H115.4M112.1 1546.3H116.3M113.3 1546.3H115.2M110.6 1548.3H118.2M112.6 1548.3H116.2M111.6 1550.3H115.4M112.6 1550.3H114.4M110.5 1552.3H117.0M112.2 1552.3H115.3M111.3 1554.3H116.0M112.6 1554.3H114.8M111.8 1556.3H116.3M112.1 1558.3H116.7M113.3 1558.3H115.5M111.6 1560.3H116.2M111.6 1562.3H116.5M112.9 1562.3H115.2M112.8 1564.3H116.2M110.7 1566.3H116.6M112.3 1566.3H115.0M110.6 1568.3H117.8M112.5 1568.3H115.9M110.9 1570.3H117.1M112.5 1570.3H115.4M109.7 1572.3H117.4M111.8 1572.3H115.4M110.6 1574.3H117.9M112.5 1574.3H115.9M110.2 1576.3H117.5M112.1 1576.3H115.6M110.3 1578.3H117.5M112.2 1578.3H115.6M112.6 1579.6H115.2M113.3 1581.6H114.9M112.5 1583.6H115.3M113.2 1585.6H115.5M113.4 1587.6H114.8M112.6 1589.6H115.4M112.6 1591.6H114.5M112.8 1593.6H114.6M113.3 1595.6H115.5M113.0 1597.6H114.8M112.3 1599.6H115.4M113.2 1601.6H114.8M113.1 1603.6H115.8M112.6 1605.6H114.9M112.7 1607.6H115.3M112.3 1609.6H115.6M112.0 1611.6H115.1M113.3 1613.6H115.3M112.4 1615.6H114.7M112.7 1617.6H114.4M112.9 1619.6H115.5M112.3 1621.6H115.1M113.2 1623.6H114.7M112.9 1625.6H114.8M113.0 1627.6H115.5M112.0 1629.6H115.1M113.1 1631.6H114.8M113.0 1633.6H115.1M112.4 1635.6H115.6M112.9 1637.6H115.7M113.5 1639.6H115.3M113.1 1641.6H115.5M112.3 1643.6H115.4M113.0 1645.6H115.5M112.1 1647.6H115.0M113.3 1649.6H115.3M113.0 1651.6H115.4M112.4 1653.6H115.6M113.1 1655.6H115.0M112.7 1657.6H115.3M112.9 1659.6H114.9M113.4 1661.6H115.3M112.4 1663.6H115.0M112.2 1665.6H114.8M113.2 1667.6H115.4M112.2 1669.6H114.9M105.5 1672.3H122.0M106.8 1674.3H122.0M107.9 1676.3H121.0M108.8 1678.3H118.6M106.9 1680.3H120.3M108.9 1682.3H118.5M108.4 1684.3H119.6M107.4 1686.3H120.6M109.5 1688.3H119.0M109.1 1690.3H119.7M109.2 1692.3H118.3M105.6 1694.3H122.2M106.5 1696.3H120.5M105.2 1698.3H122.1M108.7 1699.4H118.4M107.8 1701.4H120.4M106.7 1703.4H122.3M105.4 1705.4H122.5M107.8 1707.4H120.0M106.2 1709.4H121.2M109.0 1711.4H118.3M106.8 1713.4H121.6M107.4 1715.4H120.6M105.9 1717.4H122.5M106.0 1719.4H122.8M108.2 1721.4H120.2M107.2 1723.4H121.0M108.6 1725.4H119.8M105.2 1727.4H123.1M110.1 1729.4H118.2M109.6 1731.4H117.8M105.9 1733.4H122.2M105.2 1735.4H123.0M106.1 1737.4H121.0M109.5 1739.4H118.5M108.4 1741.4H119.6M107.3 1743.4H120.8M110.0 1745.4H117.5M105.1 1745.4H114.0M106.2 1747.4H120.9M105.0 1749.4H122.8M107.8 1751.4H121.1M106.9 1753.6H120.3M110.1 1755.6H118.0M107.9 1757.6H119.6M108.3 1759.6H120.7M107.5 1761.6H121.3M106.0 1763.6H122.3M101.8 1765.6H125.6M105.4 1767.6H121.7M106.7 1769.6H120.4M107.6 1771.6H119.8M109.5 1773.6H117.8M109.1 1775.6H118.7M107.4 1777.6H121.5M105.6 1779.6H122.2M109.6 1781.6H117.6M106.1 1783.6H122.5M104.2 1783.6H114.0M103.0 1785.6H125.4M102.9 1787.6H124.9M101.7 1789.6H127.2M108.8 1791.6H118.8M109.0 1793.6H118.7M109.1 1796.0H119.0M106.8 1798.0H120.5M109.9 1800.0H118.2M106.8 1802.0H121.8M98.9 1802.0H114.0M106.3 1804.0H122.5M108.5 1806.0H119.0M107.8 1808.0H119.9M107.4 1810.0H121.1M105.6 1812.0H122.7M105.5 1814.0H123.4M105.5 1816.0H122.3M108.2 1819.0H119.2M110.7 1819.0H116.6M105.2 1821.0H121.9M109.1 1821.0H118.0M106.4 1823.0H121.0M109.8 1823.0H117.6M100.3 1823.0H114.0M109.3 1825.0H118.1M107.2 1827.0H120.2M110.3 1827.0H117.2M106.6 1829.0H121.1M110.0 1829.0H117.7M109.4 1831.0H119.4M105.7 1833.0H122.3M109.6 1833.0H118.4M110.0 1835.0H117.8M105.8 1837.0H122.5M109.7 1837.0H118.6M111.5 1839.0H117.1M109.4 1841.0H118.2M111.5 1841.0H116.1M107.7 1843.0H121.3M106.0 1845.0H121.0M109.6 1847.0H117.9M108.5 1849.0H120.4M111.3 1849.0H117.6M106.3 1851.0H121.5M109.4 1853.0H118.7M111.6 1853.0H116.5M101.3 1856.2H127.1M94.7 1858.2H134.0M97.7 1860.2H129.8M101.2 1864.2H126.9M97.8 1866.2H129.7M94.5 1868.2H133.7M107.8 1870.2H119.5M103.4 1872.2H124.8M109.0 1874.2H119.9M104.1 1876.2H124.5M108.7 1878.2H119.1M100.5 1926.9H126.9M105.8 1928.9H123.0M105.8 1936.9H123.0M99.5 1938.9H127.6M102.1 1942.9H125.3M108.1 1944.9H120.7M108.3 1946.9H120.5M104.1 1948.9H124.3M108.0 1952.9H119.3M107.8 1964.9H119.5M168.7 1492.3H185.7M170.1 1494.3H184.9M170.1 1496.3H184.6M167.3 1498.3H186.8M171.8 1500.3H182.8M171.7 1502.3H183.0M172.9 1504.3H182.0M171.7 1506.3H182.3M168.2 1508.3H185.6M168.4 1510.3H185.8M173.1 1514.3H182.3M170.0 1516.3H185.4M171.2 1518.3H182.9M170.2 1520.3H185.5M173.0 1522.3H181.2M171.9 1524.3H182.7M171.8 1526.3H182.4M168.3 1528.3H186.1M172.8 1530.3H181.7M170.0 1532.3H185.5M171.3 1534.3H184.1M170.7 1536.3H183.3M172.0 1538.3H182.7M169.8 1540.3H185.6M171.9 1544.3H182.6M170.9 1546.3H183.1M169.8 1548.3H185.7M172.0 1550.3H183.3M171.8 1552.3H182.0M171.3 1554.3H183.3M172.3 1556.3H182.8M172.3 1558.3H182.9M172.1 1560.3H182.2M173.2 1562.3H181.7M171.9 1564.3H183.2M170.3 1566.3H185.3M172.8 1568.3H181.7M171.8 1570.3H182.9M170.8 1572.3H183.2M171.4 1574.3H183.2M170.7 1576.3H184.4M173.2 1578.3H181.5M175.5 1579.6H178.9M175.3 1581.6H179.7M174.9 1583.6H180.7M174.0 1585.6H181.2M174.8 1587.6H179.8M173.8 1589.6H180.7M175.4 1591.6H179.3M173.3 1593.6H180.7M174.1 1595.6H180.1M174.7 1597.6H179.5M176.0 1597.6H178.2M174.7 1599.6H180.2M173.6 1601.6H180.8M175.3 1603.6H179.8M174.0 1605.6H181.3M174.8 1607.6H180.0M174.2 1609.6H180.5M174.8 1611.6H179.3M176.0 1611.6H178.1M175.2 1613.6H178.7M175.5 1615.6H179.1M176.4 1615.6H178.2M175.8 1617.6H179.7M175.1 1619.6H179.6M173.9 1621.6H180.3M175.3 1623.6H180.0M174.4 1625.6H180.1M174.2 1627.6H181.1M174.0 1629.6H180.1M174.9 1631.6H180.7M174.2 1633.6H180.4M174.2 1635.6H181.5M175.0 1637.6H178.8M173.3 1639.6H180.7M174.5 1641.6H180.1M174.4 1643.6H181.0M174.7 1645.6H180.5M174.3 1647.6H180.5M174.9 1649.6H179.0M174.3 1651.6H179.7M174.1 1653.6H179.9M175.2 1655.6H179.5M175.2 1657.6H178.6M175.2 1659.6H178.8M175.7 1661.6H179.8M173.9 1663.6H180.6M174.5 1665.6H180.5M174.4 1667.6H181.3M173.9 1669.6H180.1M173.2 1672.3H181.2M173.5 1674.3H180.6M170.6 1676.3H184.7M173.9 1676.3H181.4M170.4 1678.3H184.8M173.8 1678.3H181.5M172.3 1680.3H182.8M174.8 1680.3H180.3M170.5 1682.3H183.6M169.9 1684.3H184.6M169.4 1686.3H184.9M165.6 1686.3H177.3M171.5 1688.3H183.6M172.2 1690.3H182.4M177.3 1690.3H191.8M169.2 1692.3H184.9M173.9 1694.3H181.8M172.0 1696.3H183.1M169.1 1698.3H185.2M174.0 1699.4H180.4M174.6 1701.4H180.9M174.5 1703.4H180.3M174.0 1705.4H180.6M174.5 1707.4H179.7M174.0 1709.4H179.8M174.4 1711.4H180.5M175.0 1713.4H180.7M174.4 1715.4H181.3M175.8 1717.4H179.9M173.8 1719.4H181.2M173.8 1721.4H181.0M170.2 1723.4H184.9M173.7 1723.4H181.5M174.6 1725.4H180.2M175.1 1727.4H179.9M173.8 1729.4H180.9M174.0 1731.4H181.3M173.5 1733.4H180.5M175.4 1735.4H179.0M175.0 1737.4H179.0M174.6 1739.4H180.9M175.3 1741.4H179.6M175.3 1743.4H179.7M174.6 1745.4H179.7M174.4 1747.4H180.6M174.0 1749.4H180.6M173.6 1751.4H181.3M170.7 1753.6H184.4M173.2 1755.6H181.7M171.5 1757.6H183.2M172.7 1759.6H182.2M164.6 1761.6H190.4M165.1 1763.6H189.8M169.1 1765.6H185.5M170.2 1767.6H183.9M172.5 1769.6H182.0M170.9 1771.6H183.9M170.4 1773.6H184.6M173.6 1775.6H181.4M172.3 1777.6H182.8M168.5 1779.6H186.0M168.1 1781.6H185.7M170.0 1783.6H185.7M168.4 1785.6H186.8M169.6 1787.6H185.8M166.2 1789.6H187.5M173.2 1791.6H181.2M168.8 1793.6H185.5M173.1 1796.0H181.6M170.9 1798.0H182.9M171.5 1800.0H183.9M168.4 1802.0H186.3M168.3 1804.0H186.2M168.5 1804.0H177.3M172.6 1806.0H182.2M177.3 1806.0H185.5M168.4 1808.0H185.4M173.3 1810.0H182.3M169.4 1812.0H186.2M171.2 1814.0H183.1M171.3 1816.0H183.3M173.0 1819.0H180.8M174.3 1821.0H179.9M174.8 1823.0H179.9M173.9 1825.0H179.8M175.6 1827.0H179.3M173.9 1829.0H180.5M173.9 1831.0H180.4M173.3 1833.0H180.5M175.2 1835.0H180.1M174.4 1837.0H179.9M173.4 1839.0H182.0M173.9 1841.0H181.4M173.2 1843.0H180.6M173.4 1845.0H181.6M173.8 1847.0H181.0M174.8 1849.0H180.3M176.2 1849.0H178.8M175.6 1851.0H179.6M174.6 1853.0H180.0M160.3 1854.2H193.6M162.7 1858.2H192.8M158.9 1860.2H195.1M166.9 1866.2H188.0M165.0 1868.2H189.9M166.3 1870.2H188.1M170.1 1872.2H185.0M168.1 1874.2H186.1M167.9 1876.2H187.0M165.8 1880.2H188.0M169.4 1882.2H184.6M167.5 1886.2H186.5M166.3 1920.9H188.8M163.5 1924.9H191.6M165.5 1934.9H188.2M164.1 1936.9H190.3M160.1 1938.9H193.9M166.3 1940.9H188.1M170.1 1944.9H184.3M170.4 1948.9H185.3M166.6 1950.9H187.9M170.9 1956.9H183.0M169.7 1958.9H186.0M173.2 1960.9H181.9M171.2 1962.9H184.2M234.1 1492.3H246.4M233.9 1494.3H247.6M230.9 1496.3H249.6M233.1 1498.3H249.2M233.6 1500.3H247.4M233.6 1502.3H248.5M231.0 1504.3H249.4M235.2 1506.3H245.6M235.6 1508.3H246.4M235.2 1510.3H245.2M233.5 1512.3H247.7M235.2 1514.3H247.0M234.1 1516.3H247.0M232.7 1518.3H249.5M234.9 1520.3H245.9M236.4 1522.3H245.9M235.1 1524.3H246.4M234.1 1526.3H246.3M233.3 1528.3H248.0M235.1 1530.3H246.2M235.5 1532.3H246.7M231.4 1534.3H250.0M233.8 1536.3H247.3M233.0 1538.3H249.4M233.1 1540.3H248.9M234.9 1542.3H246.0M235.4 1544.3H246.6M232.8 1546.3H247.8M232.0 1548.3H249.0M231.5 1550.3H250.1M231.3 1554.3H250.4M236.0 1556.3H244.7M232.7 1558.3H249.1M235.8 1560.3H245.9M231.8 1562.3H250.4M231.2 1564.3H250.8M233.3 1566.3H247.1M232.2 1568.3H248.7M234.3 1570.3H246.3M233.9 1572.3H247.3M235.7 1574.3H245.6M233.2 1576.3H249.1M231.1 1578.3H250.4M234.9 1579.6H246.1M234.2 1581.6H247.5M236.9 1583.6H244.4M236.7 1585.6H244.3M235.6 1587.6H245.9M234.6 1589.6H247.0M240.7 1589.6H258.5M237.0 1591.6H243.6M238.5 1591.6H242.0M233.5 1593.6H248.6M232.9 1595.6H247.8M236.4 1595.6H244.3M235.3 1597.6H246.0M237.8 1597.6H243.5M234.2 1599.6H247.6M235.3 1601.6H245.7M234.1 1603.6H247.2M237.2 1603.6H244.1M236.2 1605.6H246.0M234.7 1607.6H247.2M234.6 1609.6H247.1M234.0 1611.6H247.5M237.2 1613.6H244.0M236.4 1615.6H244.8M237.3 1617.6H244.3M238.9 1617.6H242.6M235.1 1619.6H246.7M236.5 1621.6H245.3M237.1 1623.6H244.9M236.2 1625.6H245.3M235.1 1627.6H247.1M235.3 1629.6H245.4M233.3 1631.6H248.3M236.9 1633.6H244.1M238.6 1633.6H242.4M235.6 1635.6H245.4M235.8 1637.6H246.0M233.2 1639.6H247.7M236.6 1639.6H244.3M234.2 1641.6H247.7M237.7 1643.6H244.4M239.2 1643.6H242.8M237.3 1645.6H243.8M238.3 1647.6H243.0M233.1 1649.6H247.8M236.5 1649.6H244.3M233.2 1651.6H247.9M236.7 1651.6H244.4M233.8 1653.6H248.0M237.1 1653.6H244.7M236.9 1655.6H245.2M238.9 1655.6H243.3M236.8 1657.6H245.1M238.7 1657.6H243.1M240.7 1657.6H258.2M234.5 1659.6H246.0M228.7 1659.6H240.7M236.8 1661.6H243.9M240.7 1661.6H258.3M234.3 1663.6H246.7M237.2 1663.6H243.8M235.8 1665.6H245.3M238.1 1665.6H243.1M237.2 1667.6H243.8M238.8 1667.6H242.2M233.7 1669.6H247.6M234.0 1672.3H247.7M235.0 1674.3H246.4M233.4 1676.3H248.7M237.2 1678.3H244.8M233.3 1680.3H248.8M234.7 1682.3H246.5M232.7 1684.3H249.4M230.3 1684.3H240.7M235.8 1686.3H246.4M230.8 1688.3H249.7M236.4 1690.3H245.1M234.1 1692.3H247.5M233.3 1694.3H247.5M234.2 1696.3H247.4M230.8 1696.3H240.7M232.8 1698.3H248.3M240.0 1699.4H242.1M238.5 1701.4H242.0M239.4 1701.4H241.1M238.1 1703.4H242.3M239.2 1703.4H241.2M236.8 1705.4H244.3M238.8 1705.4H242.3M239.9 1707.4H241.8M239.0 1709.4H242.5M239.9 1709.4H241.6M239.9 1711.4H241.9M238.7 1713.4H242.2M238.8 1715.4H241.7M240.0 1717.4H242.1M239.4 1719.4H242.3M239.0 1721.4H241.5M238.9 1723.4H241.6M239.4 1725.4H241.7M238.7 1727.4H242.1M239.2 1729.4H242.3M238.8 1731.4H241.8M238.6 1733.4H242.8M239.7 1733.4H241.7M237.7 1735.4H244.2M239.4 1735.4H242.5M236.8 1737.4H243.9M238.7 1737.4H242.0M239.3 1739.4H242.8M240.3 1739.4H241.9M239.3 1741.4H242.8M240.2 1741.4H241.9M238.6 1743.4H242.1M239.5 1743.4H241.1M239.5 1745.4H241.3M238.7 1747.4H242.8M239.8 1747.4H241.7M237.8 1749.4H243.6M239.4 1749.4H242.1M240.0 1751.4H241.6M233.0 1753.6H248.6M236.5 1755.6H244.7M232.7 1757.6H247.8M233.9 1759.6H247.9M229.3 1761.6H252.7M228.3 1763.6H252.8M230.7 1765.6H251.5M232.0 1767.6H248.6M232.9 1769.6H247.7M234.0 1771.6H246.8M235.7 1773.6H245.5M236.3 1775.6H245.2M236.9 1777.6H244.2M237.0 1779.6H244.8M233.6 1781.6H248.7M232.9 1783.6H249.0M229.4 1785.6H252.9M234.5 1787.6H246.7M230.1 1789.6H252.2M240.7 1789.6H248.7M233.9 1791.6H247.6M233.3 1793.6H247.1M234.0 1796.0H246.7M236.6 1798.0H245.2M234.4 1800.0H247.7M233.1 1802.0H248.6M235.8 1804.0H245.8M236.2 1806.0H245.4M235.4 1808.0H246.0M232.1 1810.0H249.2M231.4 1812.0H249.1M235.9 1814.0H244.8M234.5 1816.0H246.5M236.8 1819.0H244.6M238.9 1819.0H242.5M237.1 1821.0H244.8M239.2 1821.0H242.7M239.6 1823.0H241.7M236.6 1825.0H244.5M238.7 1825.0H242.4M239.3 1827.0H241.2M239.2 1829.0H242.8M237.5 1831.0H243.8M239.2 1831.0H242.2M239.8 1833.0H241.9M239.0 1835.0H242.6M239.2 1837.0H242.8M239.8 1839.0H241.7M239.7 1841.0H241.8M239.3 1843.0H242.6M239.4 1845.0H242.5M238.4 1847.0H242.4M239.4 1847.0H241.3M237.3 1849.0H243.8M239.0 1849.0H242.1M236.8 1851.0H244.8M238.9 1851.0H242.7M239.3 1853.0H242.3M223.1 1858.2H258.6M229.1 1860.2H251.9M221.9 1864.2H258.7M221.8 1866.2H259.3M227.3 1868.2H253.7M230.4 1870.2H250.7M230.3 1872.2H251.3M232.5 1874.2H248.6M230.3 1876.2H251.2M230.3 1888.9H251.0M225.2 1890.9H255.9M225.5 1894.9H256.1M231.0 1896.9H250.4M234.4 1914.9H246.1M295.0 1492.3H312.3M299.4 1494.3H308.2M297.5 1496.3H311.4M298.5 1498.3H309.0M298.5 1500.3H310.5M298.9 1502.3H309.6M299.2 1504.3H309.3M295.3 1506.3H313.6M296.3 1508.3H311.8M298.6 1510.3H309.7M299.2 1512.3H309.8M295.4 1514.3H313.2M295.9 1516.3H312.8M294.7 1518.3H313.2M298.1 1520.3H310.2M298.7 1522.3H309.2M297.9 1526.3H310.4M297.6 1530.3H309.5M295.5 1532.3H312.9M296.1 1534.3H312.9M297.2 1536.3H311.6M295.4 1538.3H312.8M296.5 1540.3H312.5M299.6 1542.3H308.0M298.4 1544.3H310.0M298.0 1546.3H310.6M296.6 1548.3H310.9M296.8 1550.3H310.7M298.9 1552.3H309.8M295.6 1554.3H312.9M295.3 1556.3H312.0M299.6 1558.3H309.4M297.5 1560.3H309.7M298.5 1562.3H309.7M295.1 1564.3H313.7M299.6 1566.3H308.5M296.9 1568.3H310.1M296.1 1570.3H311.8M300.1 1572.3H307.9M296.3 1574.3H312.1M297.9 1576.3H310.2M298.5 1578.3H310.0M298.1 1579.6H310.9M301.1 1579.6H307.9M300.7 1581.6H307.5M302.3 1581.6H305.9M299.4 1583.6H308.1M298.8 1585.6H308.9M301.2 1585.6H306.5M298.1 1587.6H309.1M300.7 1587.6H306.5M287.9 1587.6H304.0M300.0 1589.6H308.4M302.0 1589.6H306.4M300.5 1591.6H308.4M300.3 1593.6H307.5M300.9 1595.6H307.9M299.8 1597.6H308.1M301.7 1597.6H306.1M297.7 1599.6H309.4M296.7 1601.6H310.8M297.8 1603.6H310.2M299.2 1605.6H308.2M300.4 1607.6H308.0M296.9 1609.6H311.8M300.2 1611.6H308.3M299.6 1613.6H307.6M300.3 1615.6H308.0M298.3 1617.6H310.3M300.1 1619.6H307.8M301.9 1619.6H306.0M283.7 1619.6H304.0M297.0 1621.6H311.6M298.6 1623.6H308.5M299.3 1625.6H308.6M297.0 1627.6H311.9M297.6 1629.6H311.3M300.3 1631.6H307.6M290.9 1631.6H304.0M298.5 1633.6H309.4M285.0 1633.6H304.0M298.1 1635.6H309.0M300.4 1637.6H308.2M299.7 1639.6H307.9M297.3 1641.6H309.8M296.5 1643.6H311.7M299.4 1645.6H309.5M300.8 1647.6H307.8M297.8 1649.6H309.6M299.5 1651.6H308.7M296.9 1653.6H311.4M297.8 1655.6H309.7M300.4 1657.6H307.8M300.4 1659.6H308.1M297.5 1661.6H311.2M298.1 1663.6H310.1M299.8 1665.6H308.5M300.4 1667.6H307.4M298.4 1669.6H309.9M298.5 1672.3H308.7M298.6 1674.3H309.6M295.6 1676.3H311.5M298.8 1678.3H308.4M297.4 1680.3H310.8M298.1 1682.3H310.3M295.4 1684.3H312.9M298.1 1686.3H309.7M295.6 1688.3H313.3M297.5 1690.3H309.6M298.0 1692.3H310.5M296.6 1694.3H311.5M297.3 1696.3H310.1M295.3 1698.3H312.0M303.5 1699.4H305.2M302.3 1701.4H305.6M302.9 1703.4H304.8M303.1 1705.4H304.9M302.5 1707.4H305.7M302.4 1709.4H305.2M303.3 1711.4H305.0M302.8 1713.4H304.7M302.4 1715.4H305.2M300.9 1717.4H307.7M302.7 1717.4H305.9M302.5 1719.4H305.2M303.0 1721.4H305.4M303.3 1723.4H305.4M302.7 1725.4H305.4M302.5 1727.4H306.0M302.8 1729.4H304.3M302.0 1731.4H305.4M302.9 1731.4H304.5M302.0 1733.4H305.4M302.9 1733.4H304.5M301.6 1735.4H306.3M302.9 1735.4H305.1M300.6 1737.4H307.6M302.4 1737.4H305.7M301.7 1739.4H306.1M302.8 1739.4H304.9M300.2 1741.4H307.7M302.2 1741.4H305.7M300.4 1743.4H307.2M302.2 1743.4H305.4M301.5 1745.4H305.9M302.6 1745.4H304.7M302.0 1747.4H306.3M303.2 1747.4H305.2M300.0 1749.4H307.7M302.0 1749.4H305.6M300.9 1751.4H306.5M302.4 1751.4H305.0M299.9 1753.6H307.3M297.3 1755.6H310.6M297.8 1757.6H310.1M296.8 1759.6H310.7M294.6 1761.6H312.8M295.8 1763.6H312.8M295.0 1765.6H312.8M297.4 1767.6H310.3M296.7 1769.6H310.3M297.1 1771.6H310.4M298.9 1773.6H309.4M300.1 1775.6H307.9M298.7 1777.6H309.7M299.0 1779.6H308.2M283.1 1779.6H304.0M297.2 1781.6H311.1M304.0 1781.6H322.7M292.8 1783.6H314.7M294.3 1785.6H313.1M294.6 1785.6H304.0M293.8 1787.6H314.3M295.0 1789.6H313.8M297.4 1791.6H310.7M299.6 1793.6H308.6M299.0 1796.0H309.4M298.0 1798.0H309.8M296.5 1800.0H312.0M296.9 1802.0H310.7M297.6 1804.0H310.1M304.0 1804.0H314.9M296.2 1806.0H312.8M295.2 1808.0H312.0M296.4 1810.0H312.3M298.1 1812.0H309.9M299.3 1814.0H308.2M288.3 1814.0H304.0M295.8 1816.0H312.6M302.7 1819.0H305.5M302.6 1821.0H306.3M303.6 1821.0H305.3M302.5 1823.0H305.8M301.6 1825.0H306.3M302.9 1825.0H305.1M302.2 1827.0H305.1M302.2 1829.0H305.9M303.2 1829.0H304.9M302.3 1831.0H305.9M302.1 1833.0H305.6M300.2 1835.0H308.1M302.3 1835.0H306.0M302.9 1837.0H304.9M302.5 1839.0H304.9M300.3 1841.0H307.5M302.2 1841.0H305.5M302.5 1843.0H306.2M302.6 1845.0H306.2M303.0 1847.0H304.8M303.4 1849.0H305.1M303.0 1851.0H305.7M302.2 1853.0H305.3M290.2 1854.2H317.4M286.9 1866.2H321.1M295.2 1870.2H312.1M293.9 1872.2H314.3M296.2 1874.2H312.1M297.2 1876.2H311.4M298.5 1878.2H308.7M295.5 1880.2H312.9M296.3 1882.2H312.0M295.4 1884.2H312.4M294.0 1886.2H313.3M299.1 1900.9H308.9M298.9 1902.9H308.5M298.0 1904.9H309.9M296.4 1906.9H312.0M296.5 1908.9H311.7M296.0 1910.9H312.3M296.1 1912.9H311.1M300.0 1914.9H308.7M295.3 1918.9H312.0M297.5 1942.9H310.4M385.0 1570.3H388.5M385.8 1578.3H387.6M386.3 1579.6H387.9M386.2 1581.6H388.6M385.0 1583.6H387.9M385.4 1585.6H388.2M385.8 1587.6H387.3M385.8 1589.6H387.5M385.9 1591.6H388.3M385.9 1595.6H387.9M385.0 1599.6H388.1M385.6 1601.6H388.5M385.0 1603.6H388.2M385.4 1605.6H387.9M386.6 1607.6H388.1M385.3 1609.6H387.7M386.3 1611.6H387.9M385.5 1621.6H388.4M386.1 1623.6H388.3M385.8 1631.6H387.5M386.0 1635.6H387.5M385.5 1637.6H387.6M385.6 1639.6H387.6M385.5 1641.6H387.8M385.8 1643.6H388.6M385.5 1645.6H388.7M385.7 1647.6H388.2M385.2 1649.6H388.2M385.9 1651.6H387.4M385.7 1653.6H388.5M386.2 1655.6H388.2M386.2 1657.6H388.6M385.1 1659.6H388.1M386.1 1661.6H387.6M383.6 1672.3H391.2M385.4 1672.3H389.4M380.3 1674.3H394.4M383.6 1674.3H391.1M382.8 1676.3H390.8M383.7 1678.3H390.0M383.8 1680.3H391.0M383.3 1682.3H390.1M383.6 1684.3H390.7M382.9 1686.3H390.1M384.6 1688.3H390.2M384.6 1690.3H389.1M383.9 1692.3H391.0M383.1 1694.3H391.3M381.5 1696.3H392.4M384.0 1698.3H389.4M386.3 1705.4H388.2M385.9 1709.4H388.5M386.0 1715.4H388.6M383.7 1753.6H391.1M383.0 1755.6H389.9M384.8 1755.6H388.1M383.8 1757.6H391.0M385.7 1757.6H389.1M384.2 1759.6H390.6M381.9 1761.6H392.6M382.6 1763.6H392.1M382.9 1765.6H391.7M383.5 1767.6H390.9M382.9 1769.6H390.0M382.9 1771.6H390.0M385.0 1773.6H389.2M382.9 1775.6H390.2M383.8 1777.6H390.6M384.3 1779.6H390.0M384.1 1781.6H390.5M384.3 1783.6H390.0M381.4 1785.6H393.1M382.0 1787.6H392.1M383.8 1789.6H390.7M383.8 1791.6H390.2M384.1 1793.6H389.3M383.3 1796.0H391.4M369.0 1796.0H386.9M380.6 1798.0H392.4M382.6 1800.0H390.6M382.7 1802.0H391.0M382.1 1804.0H392.3M382.6 1806.0H391.2M379.5 1808.0H394.2M381.7 1810.0H391.5M378.9 1812.0H396.0M380.9 1814.0H393.9M379.5 1816.0H393.7M381.9 1819.0H391.8M381.1 1821.0H393.8M382.1 1823.0H391.5M386.9 1823.0H399.8M379.8 1825.0H393.4M380.8 1827.0H393.1M382.7 1829.0H391.2M379.4 1831.0H395.4M382.6 1833.0H391.8M382.0 1835.0H392.6M379.9 1837.0H393.6M377.9 1839.0H395.8M381.9 1841.0H392.8M378.7 1843.0H395.9M381.2 1845.0H392.0M378.2 1847.0H396.3M378.6 1849.0H396.0M381.3 1851.0H393.1M380.0 1853.0H394.7M370.5 1854.2H402.6M376.5 1856.2H397.0M369.4 1858.2H404.8M373.7 1860.2H400.5M371.4 1864.2H402.2M372.2 1866.2H401.7M379.7 1872.2H394.2M381.2 1878.2H393.1M377.7 1886.2H396.3M377.9 1888.9H395.6M370.4 1890.9H403.1M372.5 1898.9H402.0M378.9 1902.9H395.8M381.5 1908.9H392.0M374.6 1934.9H399.5M379.5 1944.9H393.9M380.6 1946.9H394.2M377.9 1948.9H395.7M378.8 1950.9H395.8M377.3 1952.9H396.6M450.6 1579.6H452.3M450.0 1595.6H453.2M450.9 1597.6H453.3M450.4 1599.6H453.1M450.7 1601.6H453.8M450.8 1603.6H452.4M450.6 1605.6H452.7M451.4 1607.6H453.0M450.2 1619.6H452.6M450.5 1623.6H452.1M450.0 1637.6H452.9M450.1 1672.3H453.8M449.5 1674.3H453.1M449.8 1676.3H454.6M443.7 1678.3H458.9M449.5 1680.3H454.0M449.7 1682.3H454.2M448.7 1684.3H454.8M448.6 1686.3H454.2M449.4 1688.3H455.1M449.4 1690.3H453.8M448.1 1692.3H456.4M449.6 1694.3H454.4M448.8 1696.3H455.0M447.5 1698.3H456.1M449.5 1698.3H454.1M450.7 1699.4H452.6M450.7 1701.4H453.2M450.9 1707.4H452.6M451.1 1709.4H452.8M451.3 1711.4H453.2M451.2 1713.4H453.2M450.8 1715.4H452.6M450.0 1729.4H453.1M450.5 1739.4H452.0M449.7 1741.4H453.1M451.4 1743.4H452.9M450.3 1745.4H453.3M450.0 1747.4H452.8M450.5 1749.4H453.3M450.1 1751.4H453.1M448.3 1753.6H455.4M447.1 1755.6H455.5M449.0 1755.6H453.5M446.8 1757.6H456.2M449.0 1757.6H454.0M444.0 1759.6H458.9M447.5 1759.6H455.4M443.1 1761.6H460.4M447.2 1761.6H456.3M445.2 1763.6H458.9M448.4 1763.6H455.7M445.5 1765.6H457.2M448.3 1765.6H454.5M447.6 1767.6H456.3M447.5 1769.6H455.4M447.2 1771.6H456.7M449.4 1771.6H454.5M449.4 1773.6H454.0M449.9 1775.6H454.2M448.1 1777.6H454.6M449.7 1779.6H454.2M446.3 1781.6H457.0M448.8 1781.6H454.5M439.9 1783.6H463.4M445.4 1783.6H457.9M440.9 1785.6H462.0M445.8 1785.6H457.0M443.7 1787.6H459.9M447.5 1787.6H456.1M443.6 1789.6H459.7M447.3 1789.6H455.9M447.4 1791.6H456.7M449.6 1791.6H454.5M450.1 1793.6H454.2M446.3 1796.0H456.6M447.7 1798.0H455.9M443.3 1800.0H459.5M446.9 1802.0H456.1M446.4 1804.0H456.6M445.9 1806.0H457.5M443.2 1808.0H459.4M444.5 1810.0H459.1M446.7 1812.0H456.8M447.3 1814.0H455.3M449.2 1814.0H453.4M447.1 1816.0H456.6M445.5 1819.0H457.1M443.4 1821.0H460.1M445.9 1823.0H457.7M443.0 1825.0H461.3M442.6 1827.0H460.1M444.2 1829.0H460.1M444.6 1831.0H458.8M442.5 1833.0H460.8M442.9 1835.0H460.4M444.3 1837.0H459.5M444.8 1839.0H459.1M442.9 1841.0H461.6M446.1 1843.0H456.8M442.4 1845.0H461.8M442.4 1847.0H460.7M447.9 1849.0H456.5M445.1 1851.0H457.8M444.0 1853.0H459.0M433.3 1854.2H469.7M440.6 1856.2H462.5M436.6 1858.2H466.4M437.3 1860.2H466.5M442.0 1862.2H462.0M441.1 1864.2H463.0M435.2 1866.2H468.5M441.0 1868.2H462.2M443.9 1870.2H459.6M443.6 1872.2H460.8M443.1 1876.2H460.8M443.8 1878.2H458.8M443.5 1880.2H459.1M443.2 1882.2H460.5M440.5 1884.2H463.5M440.6 1886.2H463.6M446.9 1906.9H455.9M445.8 1916.9H457.1M439.2 1918.9H463.5M439.5 1938.9H464.2M442.4 1942.9H460.2M443.7 1944.9H459.7" stroke-opacity="0.083"/>
<path d="M113.4 1516.3H115.4M113.0 1556.3H115.1M112.9 1560.3H115.0M109.4 1672.3H118.2M110.4 1674.3H118.4M110.9 1676.3H117.9M110.1 1680.3H117.1M111.1 1682.3H116.2M111.1 1684.3H117.0M110.5 1686.3H117.5M111.7 1688.3H116.8M111.6 1690.3H117.2M109.8 1696.3H117.2M109.1 1698.3H118.1M110.7 1701.4H117.4M110.4 1703.4H118.6M109.4 1705.4H118.5M110.7 1707.4H117.2M109.7 1709.4H117.7M111.2 1711.4H116.1M110.3 1713.4H118.1M110.5 1715.4H117.5M109.8 1717.4H118.7M114.0 1721.4H125.9M110.4 1723.4H117.8M111.5 1731.4H115.9M109.7 1733.4H118.4M109.6 1737.4H117.5M111.6 1739.4H116.4M111.1 1741.4H117.0M110.5 1743.4H117.6M111.7 1745.4H115.8M109.6 1747.4H117.5M111.2 1759.6H117.8M114.0 1767.6H124.7M96.8 1769.6H114.0M111.5 1781.6H115.7M109.9 1783.6H118.6M108.3 1785.6H120.1M108.0 1787.6H119.7M107.7 1789.6H121.2M111.2 1791.6H116.5M111.5 1796.0H116.7M110.0 1798.0H117.3M111.8 1800.0H116.2M110.3 1802.0H118.3M114.0 1804.0H130.5M110.9 1806.0H116.5M110.6 1808.0H117.0M110.6 1810.0H117.9M111.3 1825.0H116.0M111.7 1831.0H117.0M113.0 1839.0H115.6M110.9 1843.0H118.1M109.5 1845.0H117.5M111.6 1847.0H116.0M109.9 1851.0H118.0M101.2 1854.2H125.9M93.5 1862.2H135.1M96.8 1870.2H114.0M114.0 1872.2H124.0M104.1 1880.2H124.1M114.0 1880.2H125.7M105.3 1882.2H122.7M107.5 1884.2H121.0M104.5 1886.2H122.8M96.1 1888.9H131.3M104.4 1890.9H123.1M95.2 1892.9H132.5M104.8 1894.9H124.0M103.4 1896.9H125.4M104.6 1898.9H124.0M106.7 1900.9H122.0M109.1 1902.9H118.2M108.0 1904.9H120.3M104.5 1906.9H122.5M107.6 1908.9H120.6M106.4 1910.9H121.3M109.6 1912.9H119.3M106.8 1914.9H121.6M104.7 1916.9H124.0M99.9 1918.9H128.9M95.6 1920.9H132.0M96.9 1922.9H130.7M101.1 1924.9H126.9M101.7 1930.9H126.9M95.4 1932.9H131.8M95.4 1934.9H131.6M114.0 1938.9H134.8M101.3 1940.9H126.7M105.9 1946.9H114.0M106.1 1950.9H121.0M107.6 1954.9H120.8M108.4 1956.9H120.4M110.0 1958.9H119.0M110.0 1960.9H118.2M109.7 1962.9H117.8M177.3 1506.3H191.7M171.1 1512.3H183.8M170.4 1524.3H177.3M168.8 1542.3H185.7M177.3 1548.3H188.9M177.3 1576.3H190.0M176.4 1579.6H178.0M176.5 1581.6H178.5M176.4 1583.6H179.2M175.9 1585.6H179.3M176.1 1587.6H178.4M175.6 1589.6H178.9M176.4 1591.6H178.3M175.3 1593.6H178.7M175.7 1595.6H178.5M176.2 1599.6H178.8M175.5 1601.6H178.9M176.5 1603.6H178.6M176.0 1605.6H179.4M176.2 1607.6H178.6M175.9 1609.6H178.9M176.1 1613.6H177.7M176.8 1617.6H178.6M176.3 1619.6H178.4M175.6 1621.6H178.6M176.5 1623.6H178.7M175.9 1625.6H178.6M176.0 1627.6H179.3M175.6 1629.6H178.5M176.4 1631.6H179.2M175.8 1633.6H178.7M176.1 1635.6H179.5M176.0 1637.6H177.8M175.2 1639.6H178.7M176.0 1641.6H178.6M176.1 1643.6H179.2M176.3 1645.6H179.0M175.9 1647.6H178.9M176.0 1649.6H177.9M175.7 1651.6H178.2M175.6 1653.6H178.4M176.3 1655.6H178.3M176.1 1657.6H177.7M176.2 1659.6H177.9M176.7 1661.6H178.7M175.7 1663.6H178.8M176.1 1665.6H178.9M176.2 1667.6H179.4M175.6 1669.6H178.5M175.1 1672.3H179.3M175.2 1674.3H178.9M173.6 1682.3H180.6M173.3 1684.3H181.1M173.0 1686.3H181.3M174.3 1688.3H180.7M174.6 1690.3H180.0M172.9 1692.3H181.2M175.7 1694.3H180.0M174.6 1696.3H180.5M172.9 1698.3H181.4M175.7 1699.4H178.7M176.3 1701.4H179.2M176.0 1703.4H178.8M175.8 1705.4H178.9M175.9 1707.4H178.3M175.5 1709.4H178.3M176.0 1711.4H178.9M176.5 1713.4H179.2M176.2 1715.4H179.5M176.9 1717.4H178.8M175.8 1719.4H179.2M175.7 1721.4H179.1M176.1 1725.4H178.7M176.4 1727.4H178.6M175.7 1729.4H179.0M175.9 1731.4H179.3M175.3 1733.4H178.7M176.3 1735.4H178.1M176.1 1737.4H178.0M176.3 1739.4H179.2M176.5 1741.4H178.5M176.5 1743.4H178.5M176.0 1745.4H178.4M176.1 1747.4H179.0M175.8 1749.4H178.9M175.6 1751.4H179.3M173.9 1753.6H181.2M175.2 1755.6H179.7M174.8 1769.6H179.8M177.3 1771.6H198.1M168.3 1785.6H177.3M175.1 1796.0H179.6M173.7 1798.0H180.1M174.4 1800.0H181.0M172.6 1802.0H182.1M172.5 1804.0H182.0M174.8 1806.0H179.9M172.4 1808.0H181.4M175.4 1810.0H180.2M173.3 1812.0H182.3M174.0 1814.0H180.3M174.1 1816.0H180.5M175.1 1819.0H178.8M175.8 1821.0H178.4M176.1 1823.0H178.5M175.5 1825.0H178.3M176.6 1827.0H178.3M175.7 1829.0H178.8M175.6 1831.0H178.7M175.2 1833.0H178.6M176.5 1835.0H178.8M175.8 1837.0H178.4M175.7 1839.0H179.7M175.9 1841.0H179.4M175.1 1843.0H178.7M175.6 1845.0H179.4M175.7 1847.0H179.1M176.7 1851.0H178.6M176.0 1853.0H178.6M161.8 1856.2H192.1M162.6 1862.2H191.8M160.1 1864.2H194.4M177.3 1874.2H196.9M168.1 1878.2H186.1M171.5 1884.2H183.8M161.2 1888.9H193.2M159.7 1890.9H195.5M162.7 1892.9H191.5M164.1 1894.9H190.2M160.3 1896.9H193.8M163.7 1898.9H191.5M168.5 1900.9H185.7M170.3 1902.9H184.2M169.6 1904.9H184.8M167.8 1906.9H187.3M167.1 1908.9H187.2M172.3 1910.9H181.5M168.4 1912.9H186.9M172.2 1914.9H182.6M169.2 1916.9H185.3M164.0 1918.9H191.7M159.3 1922.9H196.1M168.3 1926.9H186.4M159.9 1928.9H195.8M163.4 1930.9H191.8M160.8 1932.9H194.8M168.0 1942.9H186.2M168.2 1946.9H185.6M170.9 1952.9H184.3M168.7 1954.9H186.0M171.7 1964.9H182.2M240.7 1528.3H255.1M240.7 1530.3H259.9M231.4 1552.3H250.5M228.6 1570.3H240.7M237.5 1579.6H243.5M237.3 1581.6H244.4M238.7 1583.6H242.7M238.4 1585.6H242.5M238.0 1587.6H243.5M237.5 1589.6H244.1M237.1 1593.6H245.1M237.4 1599.6H244.5M237.8 1601.6H243.3M238.5 1605.6H243.7M237.6 1607.6H244.3M237.6 1609.6H244.2M237.2 1611.6H244.3M238.8 1613.6H242.4M238.4 1615.6H242.8M237.8 1619.6H244.0M238.6 1621.6H243.2M238.9 1623.6H243.1M238.4 1625.6H243.2M237.9 1627.6H244.3M237.6 1629.6H243.0M236.8 1631.6H244.8M237.9 1635.6H243.1M238.2 1637.6H243.6M237.3 1641.6H244.5M237.2 1659.6H243.4M238.4 1661.6H242.2M237.0 1669.6H244.4M237.2 1672.3H244.5M237.7 1674.3H243.7M237.0 1676.3H245.2M239.0 1678.3H243.0M236.9 1680.3H245.1M237.5 1682.3H243.7M236.6 1684.3H245.5M238.2 1686.3H243.9M238.4 1690.3H243.1M237.2 1692.3H244.3M236.7 1694.3H244.2M237.3 1696.3H244.3M236.6 1753.6H244.9M238.4 1755.6H242.8M236.2 1757.6H244.3M237.2 1759.6H244.6M234.7 1761.6H247.2M234.0 1763.6H247.1M235.6 1765.6H246.6M237.0 1771.6H243.8M238.4 1775.6H243.1M238.6 1777.6H242.5M238.9 1779.6H243.0M237.1 1781.6H245.1M236.7 1783.6H245.2M234.9 1785.6H247.4M237.4 1787.6H243.9M235.3 1789.6H247.1M237.1 1791.6H244.4M237.0 1796.0H243.7M238.6 1798.0H243.1M237.5 1800.0H244.6M236.7 1802.0H245.0M238.1 1804.0H243.5M238.4 1806.0H243.2M237.8 1808.0H243.5M236.1 1810.0H245.2M235.5 1812.0H245.0M238.0 1814.0H242.7M237.3 1816.0H243.7M220.1 1854.2H261.1M227.8 1856.2H253.9M228.3 1862.2H252.9M227.0 1872.2H240.7M230.8 1878.2H249.8M229.5 1880.2H252.8M230.0 1882.2H251.8M231.9 1884.2H249.9M229.1 1886.2H251.5M225.8 1892.9H254.8M230.4 1898.9H250.3M231.0 1900.9H251.1M231.2 1902.9H249.5M235.0 1904.9H245.6M231.8 1906.9H249.6M233.5 1908.9H248.4M234.1 1910.9H247.1M234.9 1912.9H246.7M227.5 1914.9H240.7M234.4 1916.9H246.8M223.8 1918.9H257.4M223.7 1920.9H257.2M229.6 1922.9H251.4M227.2 1924.9H253.9M223.4 1926.9H258.8M230.5 1928.9H251.9M228.4 1930.9H252.8M222.1 1932.9H260.1M228.9 1934.9H252.3M231.2 1936.9H249.7M231.2 1938.9H249.3M230.4 1940.9H250.6M232.7 1942.9H247.8M234.8 1944.9H246.6M235.0 1946.9H245.6M233.7 1948.9H248.2M230.2 1950.9H251.7M232.4 1952.9H249.1M231.4 1954.9H250.2M233.2 1956.9H247.9M235.9 1958.9H246.0M231.3 1960.9H249.1M232.5 1962.9H248.5M234.2 1964.9H246.3M301.6 1504.3H307.0M296.6 1516.3H304.0M283.2 1520.3H304.0M299.4 1524.3H308.4M294.7 1528.3H313.5M304.0 1544.3H315.3M292.8 1548.3H304.0M295.5 1554.3H304.0M296.0 1566.3H304.0M299.8 1570.3H308.2M302.0 1572.3H306.1M301.4 1583.6H306.0M302.4 1591.6H306.6M302.0 1593.6H305.8M302.5 1595.6H306.2M300.4 1599.6H306.7M300.0 1601.6H307.5M301.3 1605.6H306.1M302.2 1607.6H306.2M300.4 1609.6H308.3M302.1 1611.6H306.4M301.5 1613.6H305.7M302.1 1615.6H306.2M301.1 1617.6H307.5M300.5 1621.6H308.2M300.9 1623.6H306.2M301.5 1625.6H306.4M300.5 1627.6H308.4M302.0 1631.6H305.9M301.0 1633.6H306.8M300.7 1635.6H306.4M302.2 1637.6H306.4M301.6 1639.6H306.0M300.2 1641.6H306.9M300.1 1643.6H308.1M301.7 1645.6H307.1M302.4 1647.6H306.2M300.6 1649.6H306.9M301.7 1651.6H306.5M300.3 1653.6H308.0M300.6 1655.6H306.9M302.2 1657.6H306.1M302.2 1659.6H306.3M300.7 1661.6H308.0M300.9 1663.6H307.3M301.8 1665.6H306.5M302.0 1667.6H305.7M301.1 1669.6H307.2M300.6 1680.3H307.7M301.0 1682.3H307.4M288.1 1690.3H304.0M286.8 1694.3H304.0M301.6 1753.6H305.5M300.4 1755.6H307.5M300.7 1757.6H307.2M300.1 1759.6H307.4M298.9 1761.6H308.5M299.8 1763.6H308.8M299.1 1765.6H308.7M300.4 1767.6H307.2M299.9 1769.6H307.1M300.2 1771.6H307.3M301.4 1773.6H307.0M301.9 1775.6H306.1M301.3 1777.6H307.2M301.2 1779.6H306.1M300.5 1781.6H307.9M297.9 1783.6H309.5M298.7 1785.6H308.7M298.6 1787.6H309.5M299.4 1789.6H309.4M300.5 1791.6H307.6M301.7 1793.6H306.5M301.4 1796.0H307.0M300.8 1798.0H307.1M300.1 1800.0H308.3M300.1 1802.0H307.5M300.5 1804.0H307.2M300.1 1806.0H308.9M299.1 1808.0H308.0M300.1 1810.0H308.5M300.8 1812.0H307.1M301.4 1814.0H306.1M299.8 1816.0H308.7M292.4 1856.2H315.7M290.5 1858.2H317.9M293.4 1860.2H313.7M291.5 1862.2H315.7M289.2 1862.2H304.0M285.8 1864.2H321.4M285.2 1868.2H322.5M282.6 1870.2H304.0M304.0 1874.2H315.1M282.2 1878.2H304.0M287.5 1888.9H321.4M295.4 1890.9H312.5M286.6 1892.9H321.4M286.8 1894.9H321.4M294.0 1896.9H313.4M289.1 1898.9H319.5M287.3 1902.9H304.0M291.0 1912.9H304.0M295.5 1916.9H311.6M295.3 1920.9H313.4M294.8 1922.9H313.7M290.1 1924.9H318.9M286.8 1926.9H321.4M286.1 1928.9H321.6M287.5 1930.9H321.0M292.7 1932.9H314.8M291.2 1934.9H315.9M285.8 1936.9H321.3M285.9 1938.9H321.5M294.0 1940.9H314.1M288.6 1940.9H304.0M297.0 1944.9H311.3M295.0 1946.9H313.5M292.8 1948.9H315.8M298.2 1950.9H309.2M304.0 1950.9H320.8M295.8 1952.9H311.9M293.7 1954.9H313.9M293.9 1956.9H313.3M294.3 1958.9H313.4M299.7 1960.9H308.9M300.0 1962.9H308.5M297.3 1964.9H310.1M384.9 1676.3H388.7M385.7 1680.3H389.1M385.1 1682.3H388.3M385.5 1684.3H388.8M384.9 1686.3H388.2M386.1 1688.3H388.7M385.8 1690.3H387.9M385.8 1692.3H389.1M384.1 1696.3H389.8M385.4 1698.3H387.9M385.6 1753.6H389.1M385.9 1759.6H388.9M384.7 1761.6H389.8M385.1 1763.6H389.6M385.5 1767.6H389.0M384.8 1769.6H388.1M384.8 1771.6H388.1M386.1 1773.6H388.1M384.8 1775.6H388.3M385.6 1777.6H388.8M385.8 1779.6H388.5M385.8 1781.6H388.8M385.8 1783.6H388.5M384.5 1785.6H390.0M384.7 1787.6H389.5M385.7 1789.6H388.9M385.5 1791.6H388.5M385.5 1793.6H387.9M385.2 1796.0H389.5M383.4 1798.0H389.6M384.5 1800.0H388.7M384.6 1802.0H389.0M384.5 1804.0H389.9M384.6 1806.0H389.2M382.9 1808.0H390.8M384.0 1810.0H389.2M382.9 1812.0H392.0M384.0 1814.0H390.8M382.8 1816.0H390.4M384.2 1819.0H389.5M384.0 1821.0H390.8M384.3 1823.0H389.3M383.0 1825.0H390.2M383.7 1827.0H390.2M384.7 1829.0H389.2M383.2 1831.0H391.6M384.7 1833.0H389.6M384.5 1835.0H390.1M382.1 1839.0H391.6M384.5 1841.0H390.3M382.8 1843.0H391.8M383.7 1845.0H389.5M382.4 1847.0H392.1M382.7 1849.0H391.9M384.0 1851.0H390.3M383.5 1853.0H391.3M367.6 1862.2H405.4M370.3 1868.2H404.3M380.5 1870.2H393.3M379.8 1874.2H394.3M375.2 1876.2H398.6M386.9 1878.2H401.9M375.1 1880.2H397.8M380.8 1882.2H392.6M379.2 1884.2H394.6M374.4 1892.9H398.8M368.7 1894.9H404.4M368.9 1896.9H405.0M380.7 1900.9H393.6M379.5 1904.9H394.0M380.8 1906.9H393.6M377.5 1910.9H395.9M378.5 1912.9H394.5M377.4 1914.9H396.1M386.9 1914.9H395.1M381.2 1916.9H393.4M373.5 1918.9H401.0M371.0 1920.9H403.0M378.2 1922.9H395.4M371.5 1924.9H401.7M378.1 1926.9H396.0M374.1 1928.9H399.9M373.8 1930.9H400.9M375.8 1932.9H399.1M369.3 1936.9H404.1M374.3 1938.9H400.5M377.5 1940.9H395.9M377.8 1942.9H395.1M379.6 1946.9H386.9M380.5 1954.9H394.3M379.2 1956.9H394.7M383.1 1958.9H391.3M378.7 1960.9H394.4M378.7 1962.9H395.8M379.9 1964.9H393.1M451.1 1672.3H452.8M450.5 1674.3H452.2M447.2 1678.3H455.3M450.7 1680.3H452.8M450.9 1682.3H453.0M450.3 1684.3H453.2M450.1 1686.3H452.7M450.9 1688.3H453.6M450.6 1690.3H452.6M450.3 1692.3H454.2M450.9 1694.3H453.2M450.0 1753.6H453.7M449.6 1767.6H454.2M449.4 1769.6H453.5M450.6 1773.6H452.8M449.8 1777.6H452.8M451.2 1793.6H453.1M448.7 1796.0H454.2M447.1 1800.0H455.7M449.0 1802.0H453.9M448.8 1804.0H454.2M448.6 1806.0H454.8M447.0 1808.0H455.6M447.9 1810.0H455.7M449.0 1812.0H454.4M449.3 1816.0H454.4M451.8 1823.0H464.3M448.0 1829.0H456.4M447.8 1837.0H455.9M444.9 1845.0H451.8M431.5 1847.0H451.8M451.8 1862.2H460.1M451.8 1866.2H465.5M444.8 1874.2H459.0M451.8 1886.2H462.7M436.1 1888.9H467.4M441.7 1890.9H461.7M434.0 1892.9H468.6M433.7 1894.9H470.1M437.3 1896.9H465.8M438.6 1898.9H465.3M445.6 1900.9H456.9M447.3 1902.9H456.2M445.8 1904.9H457.7M446.3 1908.9H456.7M442.5 1910.9H461.3M447.9 1912.9H456.5M446.3 1914.9H457.8M433.2 1920.9H470.6M439.8 1922.9H463.0M436.2 1924.9H468.2M432.1 1926.9H470.6M440.8 1928.9H462.8M434.9 1930.9H467.7M441.5 1932.9H462.2M451.8 1932.9H467.2M440.5 1934.9H463.8M437.8 1936.9H464.8M451.8 1936.9H462.7M442.1 1940.9H461.8M443.4 1946.9H460.0M441.8 1948.9H461.8M445.8 1950.9H458.7M444.7 1952.9H458.1M442.9 1954.9H460.8M442.5 1956.9H462.0M443.0 1958.9H461.1M443.0 1960.9H461.3M444.4 1962.9H459.8M443.7 1964.9H460.1" stroke-opacity="0.167"/>
<path d="M111.1 1678.3H116.3M111.3 1692.3H116.1M109.5 1694.3H118.3M111.0 1699.4H116.2M109.9 1719.4H118.8M111.0 1721.4H117.4M111.2 1725.4H117.1M109.4 1727.4H118.9M112.0 1729.4H116.3M109.4 1735.4H118.9M109.2 1749.4H118.7M110.9 1751.4H118.0M110.1 1753.6H117.2M111.9 1755.6H116.1M110.7 1757.6H116.9M110.7 1761.6H118.0M109.9 1763.6H118.5M107.4 1765.6H120.0M109.2 1767.6H117.9M110.5 1771.6H117.0M111.4 1773.6H115.8M111.4 1775.6H116.5M110.7 1777.6H118.2M109.5 1779.6H118.3M111.3 1793.6H116.4M110.1 1804.0H118.7M109.6 1812.0H118.7M109.7 1814.0H119.2M109.5 1816.0H118.4M112.3 1819.0H115.0M111.5 1821.0H115.6M111.9 1823.0H115.5M112.1 1827.0H115.4M112.0 1829.0H115.6M113.1 1831.0H115.6M111.9 1833.0H116.1M112.0 1835.0H115.7M112.1 1837.0H116.2M112.7 1841.0H114.9M112.8 1843.0H116.2M111.6 1845.0H115.4M112.7 1847.0H114.8M113.0 1849.0H115.9M112.0 1851.0H115.8M112.9 1853.0H115.2M105.2 1860.2H122.3M108.4 1872.2H119.8M111.5 1874.2H117.3M108.9 1876.2H119.7M111.2 1878.2H116.6M96.0 1920.9H114.0M174.4 1500.3H180.2M175.2 1514.3H180.1M173.6 1516.3H181.8M174.0 1518.3H180.2M173.8 1520.3H181.9M174.9 1522.3H179.3M174.4 1524.3H180.1M174.3 1526.3H179.9M172.5 1528.3H181.9M173.6 1532.3H181.8M174.5 1538.3H180.2M173.5 1540.3H181.9M174.4 1544.3H180.1M173.8 1546.3H180.2M173.5 1548.3H182.0M174.6 1550.3H180.6M174.2 1552.3H179.6M174.8 1556.3H180.4M174.8 1558.3H180.4M174.4 1560.3H179.8M175.2 1562.3H179.7M174.5 1564.3H180.5M173.8 1566.3H181.8M174.9 1568.3H179.6M174.4 1570.3H180.3M173.7 1572.3H180.3M174.1 1574.3H180.4M173.9 1576.3H181.2M175.1 1578.3H179.6M176.2 1674.3H177.9M175.9 1676.3H179.4M175.8 1678.3H179.4M176.2 1680.3H178.9M175.2 1686.3H179.1M176.0 1688.3H179.0M176.0 1690.3H178.5M175.1 1692.3H179.0M176.8 1694.3H178.8M175.7 1723.4H179.4M174.2 1757.6H180.5M174.9 1759.6H180.0M170.7 1761.6H184.4M170.9 1763.6H184.0M172.9 1765.6H181.7M173.5 1767.6H180.7M173.9 1771.6H180.9M173.7 1773.6H181.3M175.4 1775.6H179.5M174.7 1777.6H180.3M172.6 1779.6H181.9M172.2 1781.6H181.6M173.7 1783.6H182.0M172.7 1785.6H182.5M173.4 1787.6H182.0M175.1 1791.6H179.3M172.3 1874.2H181.9M177.3 1900.9H198.7M177.3 1906.9H198.2M170.4 1928.9H177.3M173.5 1958.9H182.1M175.3 1960.9H179.9M174.3 1962.9H181.2M237.0 1492.3H243.5M237.1 1494.3H244.4M235.3 1496.3H245.2M236.9 1498.3H245.4M236.8 1500.3H244.1M237.1 1502.3H245.0M235.3 1504.3H245.1M237.5 1510.3H242.9M236.8 1512.3H244.3M238.0 1514.3H244.2M237.1 1516.3H244.0M236.6 1518.3H245.5M237.4 1520.3H243.3M238.6 1522.3H243.7M237.8 1524.3H243.7M237.0 1526.3H243.4M236.8 1528.3H244.6M237.7 1530.3H243.6M235.7 1534.3H245.6M236.9 1536.3H244.1M236.8 1538.3H245.5M236.8 1540.3H245.2M237.5 1542.3H243.4M238.0 1544.3H244.0M236.3 1546.3H244.3M236.0 1548.3H245.0M235.9 1550.3H245.8M238.1 1556.3H242.7M236.5 1558.3H245.3M238.2 1560.3H243.5M235.6 1578.3H245.9M239.1 1579.6H241.9M239.2 1581.6H242.5M239.7 1583.6H241.6M239.5 1587.6H242.1M239.3 1589.6H242.4M239.4 1591.6H241.1M238.5 1595.6H242.2M239.3 1597.6H241.9M239.2 1599.6H242.6M239.2 1601.6H241.8M239.0 1603.6H242.3M239.9 1605.6H242.3M239.8 1613.6H241.5M239.5 1615.6H241.7M239.9 1617.6H241.7M239.5 1619.6H242.4M239.8 1621.6H242.0M240.0 1623.6H242.0M239.6 1625.6H241.9M239.6 1627.6H242.6M239.1 1629.6H241.6M238.9 1631.6H242.6M239.6 1633.6H241.4M239.2 1635.6H241.7M238.6 1639.6H242.3M239.2 1641.6H242.6M240.2 1643.6H241.9M239.0 1645.6H242.1M239.5 1647.6H241.8M238.6 1649.6H242.3M238.7 1651.6H242.4M239.1 1653.6H242.7M240.0 1655.6H242.1M239.9 1657.6H242.0M238.9 1659.6H241.7M239.4 1661.6H241.2M239.0 1663.6H242.1M239.4 1665.6H241.7M239.7 1667.6H241.3M238.9 1669.6H242.4M235.2 1688.3H245.2M236.4 1698.3H244.7M235.9 1767.6H244.8M236.3 1769.6H244.2M238.0 1773.6H243.2M236.6 1793.6H243.9M238.7 1796.0H241.9M239.8 1798.0H241.9M239.5 1804.0H242.1M239.2 1814.0H241.5M239.0 1816.0H242.0M235.1 1870.2H245.9M235.2 1876.2H246.3M240.7 1878.2H253.7M235.1 1888.9H246.2M240.7 1940.9H257.9M240.7 1944.9H261.2M223.0 1962.9H240.7M299.0 1492.3H308.2M301.5 1494.3H306.2M300.8 1496.3H308.1M300.9 1498.3H306.5M301.3 1500.3H307.7M301.4 1502.3H307.1M299.6 1506.3H309.3M299.9 1508.3H308.1M301.2 1510.3H307.1M301.6 1512.3H307.3M299.8 1516.3H308.8M299.0 1518.3H308.9M300.9 1520.3H307.4M301.1 1522.3H306.8M300.9 1526.3H307.5M300.4 1530.3H306.7M299.5 1532.3H308.8M300.0 1534.3H309.0M300.5 1536.3H308.2M299.5 1538.3H308.7M300.2 1540.3H308.7M301.6 1542.3H306.0M300.9 1546.3H307.7M300.1 1550.3H307.5M301.4 1552.3H307.2M299.7 1554.3H308.8M299.2 1556.3H308.1M301.9 1558.3H307.1M300.3 1560.3H306.8M301.2 1562.3H307.1M299.4 1564.3H309.3M301.7 1566.3H306.4M300.0 1568.3H307.0M300.0 1574.3H308.4M300.8 1576.3H307.3M301.2 1578.3H307.3M302.9 1579.6H306.1M303.3 1581.6H305.0M302.6 1583.6H304.8M302.6 1585.6H305.1M302.2 1587.6H305.0M303.1 1589.6H305.2M303.5 1591.6H305.5M303.5 1595.6H305.3M302.9 1597.6H305.0M300.7 1603.6H307.3M303.2 1611.6H305.2M303.2 1615.6H305.1M302.8 1617.6H305.8M303.0 1619.6H305.0M302.5 1621.6H306.2M300.8 1629.6H308.1M303.3 1637.6H305.3M303.2 1645.6H305.7M303.3 1659.6H305.2M302.6 1661.6H306.0M302.6 1663.6H305.6M303.0 1665.6H305.2M300.9 1672.3H306.3M301.2 1674.3H307.0M299.4 1676.3H307.8M301.0 1678.3H306.1M299.5 1684.3H308.8M300.8 1686.3H307.0M299.8 1688.3H309.2M300.4 1690.3H306.8M300.9 1692.3H307.6M300.1 1694.3H308.0M300.3 1696.3H307.1M299.2 1698.3H308.1M302.3 1755.6H305.6M301.4 1761.6H306.0M302.2 1763.6H306.4M301.7 1765.6H306.1M301.8 1769.6H305.2M302.9 1773.6H305.5M301.0 1783.6H306.5M302.9 1796.0H305.5M302.5 1798.0H305.4M302.3 1800.0H306.2M302.1 1802.0H305.5M302.3 1804.0H305.4M302.6 1814.0H304.9M302.1 1816.0H306.3M299.2 1870.2H308.1M299.9 1874.2H308.4M300.9 1878.2H306.3M299.5 1880.2H308.8M300.0 1882.2H308.3M298.5 1886.2H308.8M300.8 1904.9H307.1M300.1 1908.9H308.1M299.6 1912.9H307.6M288.0 1928.9H304.0M304.0 1938.9H317.6M304.0 1954.9H326.1M386.4 1672.3H388.3M385.6 1674.3H389.1M385.4 1678.3H388.3M385.2 1694.3H389.1M385.6 1696.3H388.3M385.2 1765.6H389.4M383.1 1837.0H390.4M381.3 1856.2H392.2M377.7 1858.2H396.5M451.0 1676.3H453.3M449.4 1678.3H453.2M450.4 1696.3H453.4M450.7 1698.3H452.8M451.0 1753.6H452.7M450.2 1755.6H452.3M450.3 1757.6H452.7M449.6 1759.6H453.3M449.6 1761.6H453.9M450.3 1763.6H453.8M449.9 1765.6H452.8M450.8 1767.6H453.0M450.5 1769.6H452.4M450.8 1771.6H453.1M451.0 1775.6H453.0M450.9 1779.6H453.0M450.3 1781.6H453.0M448.7 1783.6H454.6M448.8 1785.6H454.1M449.8 1787.6H453.8M449.6 1789.6H453.6M450.9 1791.6H453.2M449.6 1798.0H454.0M450.2 1806.0H453.2M450.5 1812.0H453.0M450.3 1814.0H452.3M448.2 1819.0H454.4M447.3 1821.0H456.2M448.6 1823.0H454.9M447.3 1825.0H457.0M446.7 1827.0H456.0M447.9 1831.0H455.5M446.8 1833.0H456.5M447.0 1835.0H456.3M448.2 1839.0H455.7M447.3 1841.0H457.2M448.6 1843.0H454.3M446.9 1845.0H457.2M446.7 1847.0H456.4M449.9 1849.0H454.5M448.0 1851.0H454.8M447.5 1853.0H455.4M441.8 1854.2H461.2M445.7 1856.2H457.4M444.1 1860.2H459.7M446.2 1864.2H457.9M443.0 1866.2H460.7M446.0 1868.2H457.2M447.6 1872.2H456.7M447.2 1876.2H456.6M447.3 1878.2H455.3M447.2 1880.2H455.5M447.2 1882.2H456.4M445.9 1886.2H458.2M444.9 1918.9H457.8M451.8 1934.9H466.0M451.8 1950.9H461.7M432.6 1954.9H451.8M442.6 1960.9H451.8" stroke-opacity="0.250"/>
<path d="M112.5 1674.3H116.3M112.8 1676.3H116.1M111.9 1680.3H115.3M112.5 1682.3H114.9M112.6 1684.3H115.4M112.4 1686.3H115.7M113.1 1688.3H115.4M111.8 1696.3H115.3M111.5 1698.3H115.7M112.5 1703.4H116.4M112.4 1707.4H115.5M111.8 1709.4H115.6M112.5 1711.4H114.8M112.4 1713.4H116.0M112.4 1715.4H115.6M112.0 1733.4H116.1M112.9 1739.4H115.1M112.6 1741.4H115.4M112.4 1743.4H115.7M112.8 1745.4H114.7M111.7 1747.4H115.4M109.9 1769.6H117.2M111.4 1785.6H117.0M111.1 1787.6H116.6M112.8 1796.0H115.3M112.0 1798.0H115.4M112.6 1825.0H114.8M107.0 1854.2H120.1M107.3 1856.2H121.0M103.9 1858.2H124.8M103.3 1862.2H125.3M107.2 1864.2H120.9M105.3 1866.2H122.2M103.6 1868.2H124.5M110.5 1870.2H116.8M108.8 1880.2H119.4M110.7 1884.2H117.8M108.8 1886.2H118.5M111.9 1912.9H117.0M110.3 1914.9H118.1M106.7 1918.9H122.1M104.2 1920.9H123.5M107.2 1924.9H120.8M106.7 1926.9H120.7M109.9 1928.9H119.0M107.6 1930.9H121.0M103.9 1932.9H123.3M103.9 1934.9H123.1M109.8 1936.9H119.0M106.1 1938.9H121.0M107.2 1940.9H120.7M107.5 1942.9H119.9M111.0 1944.9H117.7M111.1 1946.9H117.6M108.9 1948.9H119.6M109.6 1950.9H117.5M110.7 1952.9H116.7M110.7 1954.9H117.7M111.2 1956.9H117.6M112.1 1958.9H116.9M111.9 1960.9H116.3M111.6 1962.9H115.9M110.6 1964.9H116.8M172.7 1492.3H181.8M173.6 1494.3H181.4M173.5 1496.3H181.2M171.8 1498.3H182.2M174.3 1502.3H180.3M175.1 1504.3H179.8M174.2 1506.3H179.8M172.3 1508.3H181.6M172.5 1510.3H181.7M174.1 1512.3H180.9M174.9 1530.3H179.6M174.3 1534.3H181.1M173.7 1536.3H180.4M172.7 1542.3H181.7M174.1 1554.3H180.5M176.2 1672.3H178.2M175.4 1682.3H178.7M175.4 1684.3H179.0M176.2 1696.3H178.9M175.2 1698.3H179.2M171.2 1789.6H182.5M172.7 1793.6H181.6M176.3 1796.0H178.4M175.4 1798.0H178.4M176.2 1800.0H179.3M175.1 1802.0H179.6M175.0 1804.0H179.5M176.6 1810.0H178.9M175.7 1812.0H179.9M175.7 1814.0H178.6M175.8 1816.0H178.8M168.1 1854.2H185.8M168.9 1856.2H185.0M169.8 1858.2H185.8M167.3 1860.2H186.6M168.1 1864.2H186.4M171.8 1866.2H183.0M170.8 1868.2H184.1M171.4 1870.2H183.0M173.6 1872.2H181.5M172.3 1876.2H182.5M172.3 1878.2H181.9M171.0 1880.2H182.8M172.9 1882.2H181.1M174.4 1884.2H180.9M171.9 1886.2H182.0M170.2 1894.9H184.0M168.1 1896.9H185.9M174.6 1914.9H180.1M173.0 1916.9H181.5M170.5 1918.9H185.2M171.6 1920.9H183.5M168.0 1922.9H187.5M170.1 1924.9H185.0M172.6 1926.9H182.2M170.1 1930.9H185.2M168.8 1932.9H186.8M170.8 1934.9H182.9M170.2 1936.9H184.1M168.0 1938.9H186.0M171.4 1940.9H183.0M172.3 1942.9H181.9M173.4 1944.9H181.0M172.3 1946.9H181.5M173.9 1948.9H181.8M171.6 1950.9H182.9M174.1 1952.9H181.2M172.7 1954.9H181.9M173.7 1956.9H180.1M174.2 1964.9H179.7M237.6 1506.3H243.1M238.1 1508.3H243.9M238.1 1532.3H244.1M235.9 1552.3H246.0M235.8 1554.3H245.9M236.2 1562.3H246.1M235.8 1564.3H246.2M236.6 1566.3H243.9M236.0 1568.3H244.9M237.1 1570.3H243.5M237.1 1572.3H244.2M238.0 1574.3H243.3M236.9 1576.3H245.4M239.5 1585.6H241.4M239.2 1593.6H242.9M239.4 1607.6H242.5M239.3 1609.6H242.4M239.1 1611.6H242.4M239.6 1637.6H242.1M240.0 1678.3H241.9M239.1 1680.3H243.0M239.1 1682.3H242.1M239.6 1755.6H241.6M238.3 1757.6H242.1M239.2 1759.6H242.6M238.0 1761.6H243.9M237.5 1763.6H243.6M238.9 1783.6H243.0M239.4 1800.0H242.7M238.9 1802.0H242.8M239.7 1806.0H242.0M239.3 1808.0H242.0M238.5 1810.0H242.8M238.0 1812.0H242.5M229.7 1854.2H251.5M233.9 1856.2H247.8M231.4 1858.2H250.3M234.5 1860.2H246.6M234.0 1862.2H247.1M230.5 1864.2H250.1M230.6 1866.2H250.5M233.5 1868.2H247.5M235.2 1872.2H246.4M236.3 1874.2H244.8M235.2 1878.2H245.4M234.9 1880.2H247.4M235.1 1882.2H246.7M236.1 1884.2H245.7M234.4 1886.2H246.2M232.4 1890.9H248.7M232.7 1894.9H248.9M235.5 1896.9H245.8M235.5 1902.9H245.2M237.5 1904.9H243.1M235.9 1906.9H245.4M237.0 1908.9H244.9M237.1 1910.9H244.0M237.6 1912.9H243.9M237.1 1914.9H243.3M231.7 1918.9H249.5M231.5 1920.9H249.3M233.5 1924.9H247.6M235.5 1938.9H245.0M235.1 1940.9H245.8M236.2 1942.9H244.3M237.5 1946.9H243.1M237.1 1948.9H244.8M237.0 1964.9H243.5M299.6 1514.3H309.0M301.5 1524.3H306.3M299.1 1528.3H309.1M301.1 1544.3H307.3M299.9 1548.3H307.5M303.1 1572.3H305.0M303.0 1593.6H304.8M302.1 1599.6H305.0M302.0 1601.6H305.5M302.6 1605.6H304.8M303.2 1607.6H305.2M302.5 1609.6H306.2M302.6 1613.6H304.6M302.3 1623.6H304.8M302.8 1625.6H305.1M302.6 1627.6H306.3M303.0 1631.6H304.9M302.6 1633.6H305.3M302.2 1635.6H304.9M302.8 1639.6H304.8M302.0 1641.6H305.1M302.2 1643.6H306.0M303.4 1647.6H305.2M302.3 1649.6H305.2M303.0 1651.6H305.2M302.4 1653.6H306.0M302.3 1655.6H305.2M303.2 1657.6H305.0M303.0 1667.6H304.7M302.7 1669.6H305.5M302.7 1753.6H304.5M302.4 1757.6H305.5M302.0 1759.6H305.5M302.2 1767.6H305.4M302.1 1771.6H305.4M303.0 1775.6H305.0M302.9 1777.6H305.6M302.4 1781.6H305.9M301.3 1785.6H306.0M301.5 1787.6H306.6M302.0 1789.6H306.7M302.4 1791.6H305.7M303.0 1793.6H305.2M302.4 1806.0H306.5M301.5 1808.0H305.7M302.4 1810.0H306.3M302.5 1812.0H305.5M296.5 1854.2H311.0M297.8 1856.2H310.2M298.2 1860.2H308.9M297.2 1862.2H310.0M294.1 1864.2H313.0M294.9 1866.2H313.1M294.0 1868.2H313.8M298.7 1872.2H309.5M300.5 1876.2H308.1M299.4 1884.2H308.4M294.9 1894.9H313.3M298.6 1896.9H308.8M301.4 1900.9H306.6M301.1 1902.9H306.2M300.1 1906.9H308.4M299.8 1910.9H308.4M302.0 1914.9H306.7M299.2 1916.9H307.8M299.2 1918.9H308.1M299.5 1920.9H309.2M294.4 1928.9H313.3M298.7 1940.9H309.4M300.6 1942.9H307.4M300.3 1944.9H307.9M299.3 1946.9H309.2M298.2 1948.9H310.4M300.7 1950.9H306.6M298.4 1956.9H308.7M302.0 1962.9H306.5M386.3 1796.0H388.3M385.0 1798.0H388.0M385.6 1800.0H387.6M385.9 1804.0H388.5M385.8 1806.0H388.0M385.0 1808.0H388.7M385.4 1810.0H387.8M385.8 1814.0H389.0M384.8 1816.0H388.4M385.6 1819.0H388.1M386.0 1835.0H388.6M385.2 1843.0H389.4M385.3 1845.0H388.0M378.0 1854.2H395.1M380.0 1860.2H394.2M376.5 1862.2H396.6M378.6 1864.2H395.0M379.1 1866.2H394.8M378.2 1868.2H396.3M383.1 1872.2H390.8M383.2 1874.2H390.9M380.7 1876.2H393.1M384.0 1878.2H390.3M380.5 1880.2H392.5M382.8 1884.2H391.0M382.1 1886.2H392.0M382.0 1888.9H391.5M378.1 1890.9H395.4M380.1 1892.9H393.1M377.1 1894.9H396.0M379.4 1898.9H395.1M383.8 1900.9H390.6M382.9 1902.9H391.8M383.8 1906.9H390.6M384.0 1908.9H389.6M381.8 1910.9H391.6M381.8 1914.9H391.7M384.1 1916.9H390.6M379.9 1918.9H394.5M378.6 1924.9H394.6M381.2 1932.9H393.6M380.4 1934.9H393.7M377.5 1936.9H396.0M380.4 1938.9H394.3M381.8 1940.9H391.6M382.9 1944.9H390.5M383.8 1946.9H391.0M382.1 1948.9H391.5M382.8 1950.9H391.8M381.8 1952.9H392.1M383.7 1954.9H391.1M382.9 1956.9H391.1M385.0 1958.9H389.3M382.4 1960.9H390.7M383.0 1964.9H390.0M449.4 1800.0H453.4M450.3 1802.0H452.6M450.3 1804.0H452.8M450.0 1810.0H453.7M450.7 1816.0H453.1M443.6 1858.2H459.4M446.7 1862.2H457.3M447.6 1870.2H455.9M448.2 1874.2H455.6M445.9 1884.2H458.1M442.1 1892.9H460.5M442.2 1894.9H461.6M444.0 1896.9H459.2M444.9 1898.9H459.1M449.4 1902.9H454.1M448.6 1904.9H454.9M449.0 1906.9H453.8M448.7 1908.9H454.2M446.9 1910.9H456.9M449.0 1914.9H455.1M448.4 1916.9H454.4M445.3 1922.9H457.6M446.3 1932.9H457.3M444.1 1936.9H458.5M445.3 1938.9H458.4M446.7 1940.9H457.2M446.5 1942.9H456.0M447.5 1944.9H456.0M447.3 1946.9H456.1M448.8 1950.9H455.7M447.0 1956.9H457.4M448.0 1962.9H456.2M447.5 1964.9H456.2" stroke-opacity="0.333"/>
<path d="M111.7 1672.3H115.8M113.1 1690.3H115.7M112.6 1692.3H114.9M112.4 1699.4H114.8M112.5 1701.4H115.6M111.8 1705.4H116.1M112.2 1717.4H116.3M112.3 1719.4H116.5M112.4 1723.4H115.9M112.8 1725.4H115.6M111.9 1727.4H116.4M112.7 1731.4H114.7M111.9 1735.4H116.4M111.7 1737.4H115.4M113.0 1755.6H115.0M112.3 1757.6H115.2M113.0 1759.6H116.0M112.7 1761.6H116.1M112.2 1763.6H116.2M110.7 1765.6H116.7M112.6 1781.6H114.6M112.2 1783.6H116.3M111.3 1789.6H117.6M112.6 1791.6H115.1M112.6 1793.6H115.1M113.0 1800.0H115.1M112.4 1802.0H116.2M112.4 1804.0H116.4M112.4 1806.0H115.0M112.3 1808.0H115.3M112.5 1810.0H115.9M112.0 1812.0H116.3M112.2 1814.0H116.7M111.8 1816.0H116.0M109.4 1882.2H118.6M104.3 1888.9H123.1M108.8 1890.9H118.7M103.9 1892.9H123.8M109.3 1894.9H119.5M108.6 1896.9H120.2M109.2 1898.9H119.5M110.3 1900.9H118.4M111.3 1902.9H116.1M110.9 1904.9H117.4M108.8 1906.9H118.3M110.6 1908.9H117.5M109.9 1910.9H117.8M109.2 1916.9H119.5M104.8 1922.9H122.8M175.9 1520.3H179.8M175.9 1524.3H178.6M175.6 1552.3H178.2M176.2 1558.3H178.9M176.0 1570.3H178.7M175.5 1572.3H178.6M176.3 1578.3H178.4M175.9 1753.6H179.3M176.4 1755.6H178.5M175.9 1757.6H178.8M176.2 1759.6H178.6M175.2 1765.6H179.3M175.4 1767.6H178.8M176.1 1769.6H178.5M175.8 1771.6H179.0M175.7 1773.6H179.3M176.2 1777.6H178.8M175.3 1785.6H179.9M176.2 1806.0H178.6M174.8 1808.0H179.0M169.5 1862.2H185.0M168.7 1888.9H185.7M168.1 1890.9H187.1M169.5 1892.9H184.7M170.2 1898.9H185.0M172.5 1900.9H181.7M173.5 1902.9H180.9M173.2 1904.9H181.2M172.3 1906.9H182.7M171.8 1908.9H182.5M174.4 1910.9H179.3M172.7 1912.9H182.6M168.3 1928.9H187.3M239.4 1524.3H242.2M239.6 1544.3H242.4M239.1 1672.3H242.6M239.3 1674.3H242.1M239.2 1676.3H243.0M239.0 1684.3H243.1M239.7 1686.3H242.4M239.7 1690.3H241.9M239.1 1692.3H242.5M238.6 1694.3H242.2M239.2 1696.3H242.5M238.6 1698.3H242.5M238.8 1753.6H242.7M238.5 1765.6H243.7M238.3 1767.6H242.4M238.4 1769.6H242.1M238.8 1771.6H242.0M239.3 1773.6H241.8M239.6 1775.6H241.9M239.6 1777.6H241.4M239.9 1779.6H241.9M239.2 1781.6H243.0M238.2 1785.6H244.1M239.1 1787.6H242.1M238.4 1789.6H243.9M239.0 1791.6H242.4M232.6 1892.9H248.0M235.1 1898.9H245.7M235.7 1900.9H246.4M237.3 1916.9H243.9M234.7 1922.9H246.3M231.7 1926.9H250.5M235.5 1928.9H246.9M234.2 1930.9H247.1M231.0 1932.9H251.2M234.4 1934.9H246.8M235.5 1936.9H245.4M237.5 1944.9H243.8M235.2 1950.9H246.6M236.3 1952.9H245.1M235.8 1954.9H245.8M236.7 1956.9H244.5M238.3 1958.9H243.6M235.5 1960.9H244.9M236.2 1962.9H244.7M301.5 1492.3H305.8M302.7 1494.3H304.9M302.7 1496.3H306.2M303.0 1504.3H305.5M302.1 1508.3H305.9M301.9 1568.3H305.1M302.0 1570.3H306.0M302.5 1603.6H305.6M302.7 1629.6H306.2M302.3 1672.3H304.9M302.4 1678.3H304.8M302.5 1680.3H305.8M302.7 1682.3H305.7M301.9 1684.3H306.3M302.5 1686.3H305.4M301.6 1698.3H305.8M302.5 1779.6H304.8M296.9 1858.2H311.5M295.5 1888.9H313.5M299.4 1890.9H308.5M294.7 1892.9H313.3M296.2 1898.9H312.4M299.2 1922.9H309.3M296.8 1924.9H312.1M294.9 1926.9H313.3M295.4 1930.9H313.1M297.9 1932.9H309.6M297.0 1934.9H310.1M294.1 1936.9H313.0M294.2 1938.9H313.2M299.6 1952.9H308.1M298.5 1954.9H309.1M298.8 1958.9H308.9M301.9 1960.9H306.7M300.3 1964.9H307.1M385.8 1802.0H387.9M385.3 1812.0H389.6M385.8 1821.0H389.0M385.6 1823.0H388.0M384.9 1825.0H388.3M385.4 1827.0H388.5M385.9 1829.0H388.0M385.4 1831.0H389.4M386.0 1833.0H388.3M384.7 1839.0H389.1M386.0 1841.0H388.7M385.0 1847.0H389.5M385.1 1849.0H389.5M385.7 1851.0H388.7M385.5 1853.0H389.2M383.5 1870.2H390.3M383.6 1882.2H389.8M377.3 1896.9H396.5M382.9 1904.9H390.6M382.2 1912.9H390.7M378.5 1920.9H395.5M382.2 1922.9H391.3M382.3 1926.9H391.8M380.2 1928.9H393.9M380.1 1930.9H394.5M381.9 1942.9H391.1M382.7 1962.9H391.8M450.2 1796.0H452.7M450.8 1798.0H452.8M449.3 1808.0H453.3M449.2 1827.0H453.6M450.2 1829.0H454.2M449.9 1831.0H453.5M449.3 1833.0H453.9M449.5 1835.0H453.8M450.0 1837.0H453.8M443.5 1888.9H460.1M446.4 1890.9H457.0M448.3 1900.9H454.2M449.9 1912.9H454.5M441.9 1920.9H461.9M443.7 1924.9H460.7M441.1 1926.9H461.6M445.9 1928.9H457.6M442.6 1930.9H460.0M445.9 1934.9H458.3M446.5 1948.9H457.1M447.8 1952.9H454.9M447.1 1954.9H456.6M447.3 1958.9H456.9M447.3 1960.9H457.0" stroke-opacity="0.417"/>
<path d="M112.5 1678.3H115.0M111.8 1694.3H116.0M112.7 1721.4H115.7M113.1 1729.4H115.1M111.7 1749.4H116.2M112.8 1751.4H116.1M111.9 1753.6H115.3M111.5 1767.6H115.6M112.2 1771.6H115.2M112.6 1773.6H114.7M112.7 1775.6H115.1M112.7 1777.6H116.3M111.9 1779.6H116.0M113.1 1874.2H115.8M175.8 1516.3H179.6M175.6 1518.3H178.5M176.1 1522.3H178.1M175.8 1526.3H178.4M175.0 1528.3H179.4M175.8 1532.3H179.7M175.9 1544.3H178.6M175.8 1548.3H179.7M176.2 1550.3H179.0M176.3 1556.3H178.9M175.9 1560.3H178.4M176.1 1564.3H178.9M175.9 1566.3H179.7M176.2 1568.3H178.4M175.8 1574.3H178.7M175.8 1576.3H179.3M174.3 1761.6H180.8M174.4 1763.6H180.5M176.5 1775.6H178.5M175.0 1779.6H179.4M174.7 1781.6H179.1M175.9 1783.6H179.8M175.6 1787.6H179.7M176.2 1791.6H178.2M239.0 1494.3H242.5M239.1 1498.3H243.1M238.8 1500.3H242.2M237.9 1504.3H242.5M239.0 1510.3H241.5M238.8 1512.3H242.3M239.6 1514.3H242.6M238.9 1516.3H242.1M239.0 1518.3H243.2M239.0 1520.3H241.7M240.0 1522.3H242.3M238.7 1526.3H241.7M238.8 1528.3H242.5M239.2 1530.3H242.0M238.8 1536.3H242.2M239.1 1538.3H243.2M239.0 1542.3H241.8M238.4 1546.3H242.1M238.4 1548.3H242.6M238.5 1550.3H243.1M238.8 1558.3H243.0M239.6 1560.3H242.1M238.5 1793.6H241.9M238.0 1870.2H243.1M238.2 1876.2H243.4M302.4 1498.3H305.1M302.2 1506.3H306.8M302.7 1510.3H305.5M303.1 1512.3H305.8M302.2 1516.3H306.5M301.6 1518.3H306.3M302.6 1520.3H305.7M302.6 1526.3H305.8M302.0 1532.3H306.3M302.4 1534.3H306.6M302.6 1536.3H306.2M302.5 1540.3H306.5M302.7 1546.3H305.9M303.0 1552.3H305.7M302.1 1554.3H306.4M302.0 1560.3H305.1M302.7 1562.3H305.5M302.1 1564.3H306.7M303.0 1566.3H305.2M302.2 1574.3H306.2M302.5 1576.3H305.6M302.8 1578.3H305.7M302.7 1674.3H305.4M301.6 1676.3H305.6M302.3 1688.3H306.7M302.1 1690.3H305.1M302.7 1692.3H305.8M302.2 1694.3H305.9M302.1 1696.3H305.3M301.6 1870.2H305.8M301.3 1886.2H306.1M385.1 1837.0H388.5M449.8 1819.0H452.8M449.7 1821.0H453.8M450.3 1823.0H453.2M449.8 1825.0H454.4M449.9 1841.0H454.6M450.1 1843.0H452.8M449.3 1847.0H453.8M451.1 1849.0H453.3M449.8 1851.0H453.0M447.0 1854.2H456.1M450.0 1872.2H454.3" stroke-opacity="0.500"/>
<path d="M111.9 1769.6H115.3M109.7 1860.2H117.8M110.8 1864.2H117.2M109.8 1866.2H117.7M111.4 1872.2H116.8M111.8 1876.2H116.9M112.6 1878.2H115.2M110.4 1926.9H117.0M112.9 1946.9H115.9M111.7 1948.9H116.7M175.7 1494.3H179.3M175.9 1500.3H178.7M174.7 1508.3H179.1M174.9 1510.3H179.3M176.5 1514.3H178.8M176.1 1530.3H178.4M176.1 1534.3H179.3M176.0 1538.3H178.7M175.7 1540.3H179.7M175.5 1546.3H178.5M175.8 1554.3H178.8M176.4 1562.3H178.5M174.2 1789.6H179.5M172.8 1854.2H181.1M174.3 1868.2H180.6M174.5 1870.2H179.9M175.7 1872.2H179.4M174.9 1874.2H179.4M174.7 1920.9H180.4M174.0 1934.9H179.7M173.9 1936.9H180.5M174.5 1940.9H179.9M175.4 1956.9H178.4M175.8 1958.9H179.8M176.5 1960.9H178.6M176.1 1962.9H179.4M238.7 1492.3H241.8M237.9 1496.3H242.6M239.2 1502.3H242.9M239.6 1508.3H242.4M239.7 1532.3H242.5M238.4 1534.3H243.0M239.0 1540.3H243.0M238.5 1554.3H243.2M239.3 1556.3H241.4M238.8 1562.3H243.4M238.5 1566.3H242.0M238.4 1568.3H242.5M238.8 1570.3H241.8M238.3 1578.3H243.1M237.9 1688.3H242.6M237.7 1860.2H243.4M235.7 1864.2H244.9M237.2 1868.2H243.8M238.2 1872.2H243.4M238.5 1874.2H242.6M238.0 1888.9H243.2M303.0 1500.3H306.0M302.9 1502.3H305.6M302.1 1514.3H306.5M302.6 1522.3H305.3M302.1 1530.3H305.1M302.0 1538.3H306.3M302.8 1542.3H304.9M302.7 1544.3H305.6M301.9 1548.3H305.5M302.0 1550.3H305.5M301.6 1556.3H305.7M303.2 1558.3H305.7M300.4 1854.2H307.2M299.7 1866.2H308.3M301.6 1872.2H306.6M302.2 1874.2H306.2M302.5 1876.2H306.1M302.3 1878.2H304.8M302.0 1880.2H306.4M302.2 1882.2H306.1M301.8 1884.2H306.0M302.5 1902.9H304.9M302.5 1904.9H305.4M302.2 1908.9H306.0M301.7 1912.9H305.5M382.5 1854.2H390.6M384.2 1856.2H389.3M382.7 1858.2H391.5M383.8 1860.2H390.5M382.9 1864.2H390.7M385.7 1878.2H388.6M384.9 1944.9H388.5M385.7 1946.9H389.1M450.2 1839.0H453.7M449.7 1845.0H454.5M449.6 1853.0H453.3M448.8 1856.2H454.3M448.2 1860.2H455.6M449.3 1864.2H454.8M447.7 1866.2H456.0M448.9 1868.2H454.2M449.8 1870.2H453.7M449.7 1876.2H454.1M449.4 1878.2H453.2M449.4 1880.2H453.3M449.7 1882.2H454.0M449.1 1884.2H454.9M449.2 1886.2H454.9M450.3 1906.9H452.5M448.3 1918.9H454.4" stroke-opacity="0.583"/>
<path d="M110.5 1854.2H116.7M111.0 1856.2H117.4M109.4 1858.2H119.2M109.2 1868.2H119.0M112.2 1870.2H115.1M111.6 1880.2H116.6M113.2 1912.9H115.7M112.3 1914.9H116.0M110.8 1924.9H117.2M112.3 1928.9H116.6M111.2 1930.9H117.4M109.0 1934.9H118.0M112.2 1936.9H116.5M110.0 1938.9H117.1M110.8 1940.9H117.2M110.8 1942.9H116.6M112.8 1944.9H116.0M111.7 1950.9H115.4M112.3 1952.9H115.1M113.4 1958.9H115.6M112.8 1962.9H114.8M112.2 1964.9H115.2M175.1 1492.3H179.4M175.6 1496.3H179.2M174.6 1498.3H179.5M175.9 1502.3H178.7M176.3 1504.3H178.6M175.7 1506.3H178.3M175.5 1536.3H178.6M175.1 1542.3H179.3M175.1 1793.6H179.2M173.2 1856.2H180.8M174.0 1858.2H181.5M172.4 1860.2H181.5M174.8 1866.2H180.1M175.0 1876.2H179.8M174.1 1880.2H179.7M175.1 1882.2H178.9M174.6 1886.2H179.3M172.8 1896.9H181.2M174.4 1918.9H181.3M174.0 1924.9H181.0M175.1 1926.9H179.6M174.1 1930.9H181.2M172.8 1938.9H181.3M174.8 1942.9H179.4M175.4 1944.9H179.0M174.8 1946.9H179.1M176.0 1948.9H179.7M174.6 1950.9H179.9M175.2 1954.9H179.5M175.7 1964.9H178.3M239.1 1506.3H241.7M238.5 1564.3H243.4M238.9 1572.3H242.3M239.4 1574.3H241.9M239.2 1576.3H243.1M237.6 1856.2H244.1M236.4 1858.2H245.3M237.5 1862.2H243.7M235.9 1866.2H245.2M238.2 1880.2H244.1M238.1 1882.2H243.6M238.7 1884.2H243.2M237.5 1886.2H243.1M236.7 1890.9H244.4M237.0 1894.9H244.6M238.2 1896.9H243.1M238.1 1902.9H242.7M238.4 1906.9H242.9M239.1 1908.9H242.8M238.9 1910.9H242.2M238.8 1914.9H241.7M236.4 1918.9H244.8M239.0 1946.9H241.6M301.8 1528.3H306.5M301.1 1856.2H307.0M300.6 1862.2H306.6M299.8 1894.9H308.4M301.3 1896.9H306.1M302.8 1900.9H305.2M302.3 1906.9H306.2M302.1 1910.9H306.2M303.2 1914.9H305.4M301.5 1916.9H305.5M301.6 1918.9H305.8M301.5 1940.9H306.6M302.4 1942.9H305.6M302.3 1944.9H305.9M302.3 1950.9H305.1M381.8 1862.2H391.2M383.3 1866.2H390.6M383.0 1868.2H391.5M385.1 1872.2H388.7M384.0 1876.2H389.8M383.6 1880.2H389.3M384.7 1886.2H389.3M384.5 1888.9H389.0M382.7 1890.9H390.8M383.5 1892.9H389.6M383.6 1898.9H391.0M385.2 1902.9H389.4M385.6 1906.9H388.8M385.5 1908.9H388.1M384.4 1910.9H389.0M384.4 1914.9H389.1M383.8 1918.9H390.7M382.8 1924.9H390.4M383.9 1934.9H390.2M384.6 1948.9H389.0M385.2 1950.9H389.4M384.5 1952.9H389.3M386.1 1958.9H388.2M447.8 1858.2H455.2M449.5 1862.2H454.5M447.0 1892.9H455.7M450.6 1902.9H452.8M450.3 1904.9H453.2M450.2 1908.9H452.8M449.6 1910.9H454.3M450.0 1916.9H452.8M449.2 1932.9H454.4M447.9 1936.9H454.7M448.8 1938.9H454.9M449.1 1942.9H453.5M449.7 1944.9H453.7" stroke-opacity="0.667"/>
<path d="M109.1 1862.2H119.5M112.6 1884.2H115.9M111.4 1886.2H115.9M112.0 1894.9H116.8M111.7 1896.9H117.2M111.9 1916.9H116.8M110.8 1918.9H118.0M109.3 1920.9H118.4M109.0 1932.9H118.2M112.5 1954.9H115.8M112.9 1956.9H115.9M113.1 1960.9H115.1M175.9 1512.3H179.1M172.9 1864.2H181.5M174.8 1878.2H179.3M176.1 1884.2H179.2M173.9 1894.9H180.4M174.1 1898.9H181.1M175.7 1910.9H178.0M176.1 1914.9H178.7M175.3 1916.9H179.3M173.1 1922.9H182.3M173.3 1928.9H182.3M173.6 1932.9H182.1M176.0 1952.9H179.3M238.6 1552.3H243.4M235.5 1854.2H245.7M237.9 1878.2H242.7M239.0 1904.9H241.6M239.3 1912.9H242.2M236.2 1920.9H244.6M237.2 1924.9H243.9M237.7 1934.9H243.5M238.1 1936.9H242.8M238.0 1938.9H242.5M238.0 1940.9H243.0M238.4 1942.9H242.1M239.1 1948.9H242.8M238.2 1950.9H243.6M238.6 1952.9H242.8M239.7 1958.9H242.2M238.7 1964.9H241.7M302.8 1524.3H305.0M301.0 1860.2H306.1M299.1 1864.2H308.0M299.2 1868.2H308.6M299.6 1892.9H308.4M302.1 1920.9H306.6M299.4 1928.9H308.3M301.9 1946.9H306.6M301.4 1948.9H307.2M301.8 1952.9H305.8M301.1 1956.9H306.0M303.2 1962.9H305.3M385.3 1874.2H388.9M385.2 1882.2H388.2M385.0 1884.2H388.9M382.1 1894.9H391.0M382.4 1896.9H391.5M385.6 1900.9H388.8M385.8 1916.9H388.9M383.0 1920.9H391.0M384.6 1922.9H388.9M383.8 1928.9H390.2M383.9 1930.9H390.7M384.5 1932.9H390.3M382.4 1936.9H391.1M384.1 1938.9H390.7M384.4 1940.9H389.0M385.7 1954.9H389.2M385.0 1956.9H388.9M384.6 1960.9H388.5M384.8 1964.9H388.1M450.1 1874.2H453.7M447.3 1894.9H456.4M448.0 1896.9H455.2M448.6 1898.9H455.3M449.8 1900.9H452.7M450.6 1914.9H453.5M448.5 1922.9H454.3M446.6 1926.9H456.2M449.2 1934.9H455.0M449.5 1940.9H454.4M449.6 1946.9H453.7M450.6 1950.9H453.8M449.7 1952.9H453.0M449.8 1956.9H454.7M449.8 1958.9H454.3M450.2 1962.9H454.0M449.8 1964.9H453.9" stroke-opacity="0.750"/>
<path d="M111.8 1882.2H116.2M109.3 1888.9H118.1M111.4 1890.9H116.1M109.2 1892.9H118.5M111.9 1898.9H116.8M112.4 1900.9H116.2M112.5 1902.9H114.8M112.6 1904.9H115.7M111.3 1906.9H115.8M112.4 1908.9H115.7M112.0 1910.9H115.7M109.6 1922.9H118.0M173.6 1862.2H180.9M173.2 1888.9H181.2M173.1 1890.9H182.0M173.5 1892.9H180.7M175.0 1900.9H179.3M175.5 1902.9H179.0M175.3 1904.9H179.1M175.1 1906.9H179.9M174.7 1908.9H179.7M175.3 1912.9H180.0M236.7 1892.9H243.9M237.9 1898.9H242.9M238.5 1900.9H243.5M239.0 1916.9H242.1M237.8 1922.9H243.2M236.7 1926.9H245.5M238.5 1928.9H243.9M237.6 1930.9H243.7M236.3 1932.9H245.8M239.2 1944.9H242.2M238.5 1954.9H243.2M238.7 1956.9H242.4M238.0 1960.9H242.4M238.5 1962.9H242.5M300.8 1858.2H307.6M300.2 1888.9H308.7M301.8 1890.9H306.1M300.5 1898.9H308.1M301.9 1922.9H306.6M300.9 1924.9H308.1M299.8 1926.9H308.4M300.1 1930.9H308.4M301.0 1932.9H306.5M300.5 1934.9H306.6M299.1 1936.9H308.0M299.2 1938.9H308.2M301.3 1954.9H306.3M301.4 1958.9H306.2M303.1 1960.9H305.4M302.1 1964.9H305.3M385.3 1870.2H388.5M384.9 1904.9H388.6M384.5 1912.9H388.5M384.8 1926.9H389.3M384.3 1942.9H388.6M385.1 1962.9H389.4M447.9 1888.9H455.7M449.2 1890.9H454.2M451.1 1912.9H453.3M447.2 1920.9H456.6M448.2 1924.9H456.2M449.0 1928.9H454.5M447.2 1930.9H455.4M449.3 1948.9H454.3M449.6 1954.9H454.1M449.9 1960.9H454.4" stroke-opacity="0.833"/>
</g>
<rect x="82.3" y="1671.3" width="63.4" height="27.1" fill="url(#hz)" fill-opacity="0.019"/>
<rect x="82.3" y="1698.4" width="63.4" height="54.2" fill="url(#hz)" fill-opacity="0.007"/>
<rect x="82.3" y="1752.6" width="63.4" height="42.4" fill="url(#hz)" fill-opacity="0.029"/>
<rect x="82.3" y="1795" width="63.4" height="23.0" fill="url(#hz)" fill-opacity="0.026"/>
<rect x="82.3" y="1818" width="63.4" height="35.2" fill="url(#hz)" fill-opacity="0.009"/>
<rect x="82.3" y="1853.2" width="63.4" height="34.7" fill="url(#hz)" fill-opacity="0.100"/>
<rect x="82.3" y="1887.9" width="63.4" height="77.3" fill="url(#hz)" fill-opacity="0.070"/>
<rect x="145.7" y="1671.3" width="63.3" height="27.1" fill="url(#hz)" fill-opacity="0.018"/>
<rect x="145.7" y="1698.4" width="63.3" height="54.2" fill="url(#hz)" fill-opacity="0.003"/>
<rect x="145.7" y="1752.6" width="63.3" height="42.4" fill="url(#hz)" fill-opacity="0.031"/>
<rect x="145.7" y="1795" width="63.3" height="23.0" fill="url(#hz)" fill-opacity="0.023"/>
<rect x="145.7" y="1818" width="63.3" height="35.2" fill="url(#hz)" fill-opacity="0.005"/>
<rect x="145.7" y="1853.2" width="63.3" height="34.7" fill="url(#hz)" fill-opacity="0.100"/>
<rect x="145.7" y="1887.9" width="63.3" height="77.3" fill="url(#hz)" fill-opacity="0.070"/>
<rect x="209" y="1671.3" width="63.4" height="27.1" fill="url(#hz)" fill-opacity="0.019"/>
<rect x="209" y="1698.4" width="63.4" height="54.2" fill="url(#hz)" fill-opacity="0.002"/>
<rect x="209" y="1752.6" width="63.4" height="42.4" fill="url(#hz)" fill-opacity="0.026"/>
<rect x="209" y="1795" width="63.4" height="23.0" fill="url(#hz)" fill-opacity="0.020"/>
<rect x="209" y="1818" width="63.4" height="35.2" fill="url(#hz)" fill-opacity="0.003"/>
<rect x="209" y="1853.2" width="63.4" height="34.7" fill="url(#hz)" fill-opacity="0.100"/>
<rect x="209" y="1887.9" width="63.4" height="77.3" fill="url(#hz)" fill-opacity="0.070"/>
<rect x="272.4" y="1671.3" width="63.2" height="27.1" fill="url(#hz)" fill-opacity="0.021"/>
<rect x="272.4" y="1698.4" width="63.2" height="54.2" fill="url(#hz)" fill-opacity="0.002"/>
<rect x="272.4" y="1752.6" width="63.2" height="42.4" fill="url(#hz)" fill-opacity="0.022"/>
<rect x="272.4" y="1795" width="63.2" height="23.0" fill="url(#hz)" fill-opacity="0.019"/>
<rect x="272.4" y="1818" width="63.2" height="35.2" fill="url(#hz)" fill-opacity="0.003"/>
<rect x="272.4" y="1853.2" width="63.2" height="34.7" fill="url(#hz)" fill-opacity="0.100"/>
<rect x="272.4" y="1887.9" width="63.2" height="77.3" fill="url(#hz)" fill-opacity="0.070"/>
<rect x="354.5" y="1671.3" width="64.9" height="27.1" fill="url(#hz)" fill-opacity="0.011"/>
<rect x="354.5" y="1698.4" width="64.9" height="54.2" fill="url(#hz)" fill-opacity="0.001"/>
<rect x="354.5" y="1752.6" width="64.9" height="42.4" fill="url(#hz)" fill-opacity="0.011"/>
<rect x="354.5" y="1795" width="64.9" height="23.0" fill="url(#hz)" fill-opacity="0.021"/>
<rect x="354.5" y="1818" width="64.9" height="35.2" fill="url(#hz)" fill-opacity="0.012"/>
<rect x="354.5" y="1853.2" width="64.9" height="34.7" fill="url(#hz)" fill-opacity="0.100"/>
<rect x="354.5" y="1887.9" width="64.9" height="77.3" fill="url(#hz)" fill-opacity="0.070"/>
<rect x="419.4" y="1671.3" width="64.7" height="27.1" fill="url(#hz)" fill-opacity="0.010"/>
<rect x="419.4" y="1698.4" width="64.7" height="54.2" fill="url(#hz)" fill-opacity="0.001"/>
<rect x="419.4" y="1752.6" width="64.7" height="42.4" fill="url(#hz)" fill-opacity="0.016"/>
<rect x="419.4" y="1795" width="64.7" height="23.0" fill="url(#hz)" fill-opacity="0.021"/>
<rect x="419.4" y="1818" width="64.7" height="35.2" fill="url(#hz)" fill-opacity="0.016"/>
<rect x="419.4" y="1853.2" width="64.7" height="34.7" fill="url(#hz)" fill-opacity="0.100"/>
<rect x="419.4" y="1887.9" width="64.7" height="77.3" fill="url(#hz)" fill-opacity="0.070"/>
<g filter="url(#fb)">
<path d="M84.3 1797.5 L102.0 1808 L112.0 1811" stroke="#3030E8" stroke-opacity="0.39" stroke-width="2" fill="none"/>
<path d="M96.0 1810.5 H117.0" stroke="#2020E0" stroke-opacity="0.55" stroke-width="2.6" fill="none"/>
<path d="M116.0 1676.5 H142.7 M126.0 1678.5 L135.7 1677 M131.7 1682 L123.7 1688 M137.7 1692 L143.7 1695" stroke="#3535E8" stroke-opacity="0.33" stroke-width="1.8" fill="none"/>
<path d="M90.0 1913 H100.0" stroke="#3030E8" stroke-opacity="0.39" stroke-width="2.4" fill="none"/>
<path d="M117.0 1877 H131.0" stroke="#2020E0" stroke-opacity="0.50" stroke-width="2.6" fill="none"/>
<path d="M118.0 1858 L138.0 1866" stroke="#3030E8" stroke-opacity="0.19" stroke-width="5" fill="none"/>
<path d="M147.7 1797.5 L165.3 1808 L175.3 1811" stroke="#3030E8" stroke-opacity="0.39" stroke-width="2" fill="none"/>
<path d="M159.3 1810.5 H180.3" stroke="#2020E0" stroke-opacity="0.55" stroke-width="2.6" fill="none"/>
<path d="M179.3 1676.5 H206.0 M189.3 1678.5 L199.0 1677 M195.0 1682 L187.0 1688 M201.0 1692 L207.0 1695" stroke="#3535E8" stroke-opacity="0.33" stroke-width="1.8" fill="none"/>
<path d="M157.3 1597 L165.3 1597 M161.3 1602.5 H179.3 M169.3 1591 H180.3" stroke="#3535E8" stroke-opacity="0.42" stroke-width="1.8" fill="none"/>
<path d="M153.3 1913 H163.3" stroke="#3030E8" stroke-opacity="0.39" stroke-width="2.4" fill="none"/>
<path d="M180.3 1877 H194.3" stroke="#2020E0" stroke-opacity="0.50" stroke-width="2.6" fill="none"/>
<path d="M181.3 1858 L201.3 1866" stroke="#3030E8" stroke-opacity="0.19" stroke-width="5" fill="none"/>
<path d="M211.0 1797.5 L228.7 1808 L238.7 1811" stroke="#3030E8" stroke-opacity="0.39" stroke-width="2" fill="none"/>
<path d="M222.7 1810.5 H243.7" stroke="#2020E0" stroke-opacity="0.55" stroke-width="2.6" fill="none"/>
<path d="M242.7 1676.5 H269.4 M252.7 1678.5 L262.4 1677 M258.4 1682 L250.4 1688 M264.4 1692 L270.4 1695" stroke="#3535E8" stroke-opacity="0.33" stroke-width="1.8" fill="none"/>
<path d="M220.7 1597 L228.7 1597 M224.7 1602.5 H242.7 M232.7 1591 H243.7" stroke="#3535E8" stroke-opacity="0.42" stroke-width="1.8" fill="none"/>
<path d="M216.7 1913 H226.7" stroke="#3030E8" stroke-opacity="0.39" stroke-width="2.4" fill="none"/>
<path d="M243.7 1877 H257.7" stroke="#2020E0" stroke-opacity="0.50" stroke-width="2.6" fill="none"/>
<path d="M244.7 1858 L264.7 1866" stroke="#3030E8" stroke-opacity="0.19" stroke-width="5" fill="none"/>
<path d="M274.4 1797.5 L292.0 1808 L302.0 1811" stroke="#3030E8" stroke-opacity="0.39" stroke-width="2" fill="none"/>
<path d="M286.0 1810.5 H307.0" stroke="#2020E0" stroke-opacity="0.55" stroke-width="2.6" fill="none"/>
<path d="M306.0 1676.5 H332.6 M316.0 1678.5 L325.6 1677 M321.6 1682 L313.6 1688 M327.6 1692 L333.6 1695" stroke="#3535E8" stroke-opacity="0.33" stroke-width="1.8" fill="none"/>
<path d="M284.0 1597 L292.0 1597 M288.0 1602.5 H306.0 M296.0 1591 H307.0" stroke="#3535E8" stroke-opacity="0.42" stroke-width="1.8" fill="none"/>
<path d="M280.0 1913 H290.0" stroke="#3030E8" stroke-opacity="0.39" stroke-width="2.4" fill="none"/>
<path d="M307.0 1877 H321.0" stroke="#2020E0" stroke-opacity="0.50" stroke-width="2.6" fill="none"/>
<path d="M308.0 1858 L328.0 1866" stroke="#3030E8" stroke-opacity="0.19" stroke-width="5" fill="none"/>
<path d="M356.5 1797.5 L374.9 1808 L384.9 1811" stroke="#3030E8" stroke-opacity="0.28" stroke-width="2" fill="none"/>
<path d="M368.9 1810.5 H389.9" stroke="#2020E0" stroke-opacity="0.40" stroke-width="2.6" fill="none"/>
<path d="M388.9 1676.5 H416.4 M398.9 1678.5 L409.4 1677 M405.4 1682 L397.4 1688 M411.4 1692 L417.4 1695" stroke="#3535E8" stroke-opacity="0.24" stroke-width="1.8" fill="none"/>
<path d="M362.9 1913 H372.9" stroke="#3030E8" stroke-opacity="0.28" stroke-width="2.4" fill="none"/>
<path d="M389.9 1877 H403.9" stroke="#2020E0" stroke-opacity="0.36" stroke-width="2.6" fill="none"/>
<path d="M390.9 1858 L410.9 1866" stroke="#3030E8" stroke-opacity="0.14" stroke-width="5" fill="none"/>
<path d="M421.4 1797.5 L439.8 1808 L449.8 1811" stroke="#3030E8" stroke-opacity="0.28" stroke-width="2" fill="none"/>
<path d="M433.8 1810.5 H454.8" stroke="#2020E0" stroke-opacity="0.40" stroke-width="2.6" fill="none"/>
<path d="M453.8 1676.5 H481.1 M463.8 1678.5 L474.1 1677 M470.1 1682 L462.1 1688 M476.1 1692 L482.1 1695" stroke="#3535E8" stroke-opacity="0.24" stroke-width="1.8" fill="none"/>
<path d="M427.8 1913 H437.8" stroke="#3030E8" stroke-opacity="0.28" stroke-width="2.4" fill="none"/>
<path d="M454.8 1877 H468.8" stroke="#2020E0" stroke-opacity="0.36" stroke-width="2.6" fill="none"/>
<path d="M455.8 1858 L475.8 1866" stroke="#3030E8" stroke-opacity="0.14" stroke-width="5" fill="none"/>
</g>
<rect x="82.3" y="1491.3" width="253.3" height="473.9" fill="none" stroke="#444" stroke-width="1"/>
<rect x="354.5" y="1491.3" width="129.6" height="473.9" fill="none" stroke="#444" stroke-width="1"/>
<line x1="145.7" y1="1491.3" x2="145.7" y2="1965.2" stroke="#333" stroke-width="1"/>
<line x1="209.0" y1="1491.3" x2="209.0" y2="1965.2" stroke="#333" stroke-width="1"/>
<line x1="272.4" y1="1491.3" x2="272.4" y2="1965.2" stroke="#333" stroke-width="1"/>
<line x1="419.4" y1="1491.3" x2="419.4" y2="1965.2" stroke="#333" stroke-width="1"/>
<path d="M82.3 1578.6H331 M357 1578.6H484" stroke="#111" stroke-width="1.1" stroke-dasharray="3.2 2.4" fill="none"/>
<path d="M82.3 1671.3H331 M357 1671.3H484" stroke="#111" stroke-width="1.1" stroke-dasharray="3.2 2.4" fill="none"/>
<path d="M82.3 1698.4H331 M357 1698.4H484" stroke="#111" stroke-width="1.1" stroke-dasharray="3.2 2.4" fill="none"/>
<path d="M82.3 1752.6H331 M357 1752.6H484" stroke="#111" stroke-width="1.1" stroke-dasharray="3.2 2.4" fill="none"/>
<path d="M82.3 1795H331 M357 1795H484" stroke="#111" stroke-width="1.1" stroke-dasharray="3.2 2.4" fill="none"/>
<path d="M82.3 1818H331 M357 1818H484" stroke="#111" stroke-width="1.1" stroke-dasharray="3.2 2.4" fill="none"/>
<path d="M82.3 1853.2H331 M357 1853.2H484" stroke="#111" stroke-width="1.1" stroke-dasharray="3.2 2.4" fill="none"/>
<path d="M82.3 1887.9H331 M357 1887.9H484" stroke="#111" stroke-width="1.1" stroke-dasharray="3.2 2.4" fill="none"/>
<text x="113.2" y="1486.0" text-anchor="middle">d25</text>
<text x="179.2" y="1486.0" text-anchor="middle">d50</text>
<text x="240.0" y="1486.0" text-anchor="middle">d75</text>
<text x="303.6" y="1486.0" text-anchor="middle">d100</text>
<text x="386.4" y="1486.0" text-anchor="middle">hPSC</text>
<text x="452.3" y="1486.0" text-anchor="middle">NPC</text>
<rect x="68.4" y="1494" width="11.2" height="82.1" fill="#00CCF7"/>
<rect x="68.4" y="1578.8" width="11.2" height="90.0" fill="#F0A800"/>
<rect x="68.4" y="1671.8" width="11.2" height="23.8" fill="#80B0FF"/>
<rect x="68.4" y="1699.1" width="11.2" height="51.1" fill="#FF8C82"/>
<rect x="68.4" y="1753.4" width="11.2" height="39.8" fill="#F28CFA"/>
<rect x="68.4" y="1796.4" width="11.2" height="19.7" fill="#AEBB00"/>
<rect x="68.4" y="1819.3" width="11.2" height="32.8" fill="#FF7ED2"/>
<rect x="68.4" y="1855.4" width="11.2" height="29.8" fill="#00CC5A"/>
<rect x="68.4" y="1888.9" width="11.2" height="74.6" fill="#00D9B5"/>
<path d="M56.7 1576.1H8.9V1808.6H48.5 M56.7 1510.5V1644.4 M56.7 1510.5H66.5 M56.7 1644.4H62.1 M62.1 1612.1V1679.2 M62.1 1612.1H66.5 M62.1 1679.2H65 M48.5 1756.7V1864.1 M48.5 1756.7H59.7 M59.7 1723.1V1785.8 M59.7 1723.1H66.5 M59.7 1785.8H62.2 M62.2 1772.1V1799.4 M62.2 1772.1H65.5 M62.2 1799.4H65 M48.5 1864.1H58.4 M58.4 1828V1900.1 M58.4 1828H66 M58.4 1900.1H62.6 M62.6 1872.8V1926.2 M62.6 1872.8H66 M62.6 1926.2H65.5" stroke="#000" stroke-width="0.9" fill="none"/>
<path d="M67.6 1495.0L65.2 1514.5L64.2 1535.0L65.2 1555.5L67.6 1575.0Z" fill="#333" fill-opacity="0.85"/>
<path d="M67.6 1580.0L65.2 1601.4L64.2 1623.8L65.2 1646.1L67.6 1667.5Z" fill="#333" fill-opacity="0.85"/>
<path d="M67.6 1673.0L65.2 1677.9L64.2 1683.8L65.2 1689.6L67.6 1694.5Z" fill="#333" fill-opacity="0.85"/>
<path d="M67.6 1700.5L65.2 1712.1L64.2 1724.8L65.2 1737.4L67.6 1749.0Z" fill="#333" fill-opacity="0.85"/>
<path d="M67.6 1754.5L65.2 1763.4L64.2 1773.2L65.2 1783.1L67.6 1792.0Z" fill="#333" fill-opacity="0.85"/>
<path d="M67.6 1797.5L65.2 1801.4L64.2 1806.2L65.2 1811.1L67.6 1815.0Z" fill="#333" fill-opacity="0.85"/>
<path d="M67.6 1820.5L65.2 1827.6L64.2 1835.8L65.2 1843.9L67.6 1851.0Z" fill="#333" fill-opacity="0.85"/>
<path d="M67.6 1856.5L65.2 1862.9L64.2 1870.2L65.2 1877.6L67.6 1884.0Z" fill="#333" fill-opacity="0.85"/>
<path d="M67.6 1890.0L65.2 1907.6L64.2 1926.2L65.2 1944.9L67.6 1962.5Z" fill="#333" fill-opacity="0.85"/>
<text x="501.3" y="1746.6">Group</text>
<rect x="498" y="1758.9" width="20.9" height="20.6" fill="#FF80D0"/>
<text x="524.5" y="1775.7">1</text>
<rect x="498" y="1780.8" width="20.9" height="20.6" fill="#00D0FF"/>
<text x="524.5" y="1797.6">2</text>
<rect x="498" y="1802.7" width="20.9" height="20.6" fill="#F0A800"/>
<text x="524.5" y="1819.5">3</text>
<rect x="498" y="1824.6" width="20.9" height="20.6" fill="#80B0FF"/>
<text x="524.5" y="1841.4">4</text>
<rect x="498" y="1846.5" width="20.9" height="20.6" fill="#00D8B0"/>
<text x="524.5" y="1863.3">5</text>
<rect x="498" y="1868.4" width="20.9" height="20.6" fill="#00D060"/>
<text x="524.5" y="1885.2">6</text>
<rect x="498" y="1890.3" width="20.9" height="20.6" fill="#F090FF"/>
<text x="524.5" y="1907.1">7</text>
<rect x="498" y="1912.2" width="20.9" height="20.6" fill="#B0BC00"/>
<text x="524.5" y="1929.0">8</text>
<rect x="498" y="1934.1" width="20.9" height="20.6" fill="#FF9088"/>
<text x="524.5" y="1950.9">9</text>
</g>
<g id="pg">
<text transform="translate(576.4 1154.5) scale(1.12 1)" x="-1.2" y="0" font-size="31" font-weight="bold" stroke="#000" stroke-width="1.1" stroke-linejoin="round">g</text>
<text transform="translate(931.1 1156.5) scale(1.12 1)" x="-1.2" y="0" font-size="31" font-weight="bold" stroke="#000" stroke-width="1.1" stroke-linejoin="round">h</text>
<text x="774.5" y="1146.8" textLength="97.2" lengthAdjust="spacingAndGlyphs">Odds ratio</text>
<rect x="694.2" y="1163.0" width="75.7" height="19.2" fill="#00D2FF"/>
<text x="684.5" y="1181.0" text-anchor="end" font-style="italic">MEF2A</text>
<text x="803.0" y="1176.6">1.96</text>
<rect x="694.2" y="1186.0" width="75.7" height="19.2" fill="#00D2FF"/>
<text x="684.5" y="1204.0" text-anchor="end" font-style="italic">MEF2D</text>
<text x="803.0" y="1199.6">2.06</text>
<rect x="694.2" y="1209.0" width="60.9" height="19.2" fill="#00D2FF"/>
<text x="684.5" y="1227.0" text-anchor="end" font-style="italic">MEF2C</text>
<text x="803.0" y="1222.6">1.87</text>
<rect x="694.2" y="1232.0" width="32.2" height="19.2" fill="#00D2FF"/>
<text x="684.5" y="1250.0" text-anchor="end" font-style="italic">ZNF334</text>
<text x="803.0" y="1245.6">1.38</text>
<rect x="694.2" y="1255.0" width="32.2" height="19.2" fill="#00D2FF"/>
<text x="684.5" y="1273.0" text-anchor="end" font-style="italic">HMG20B</text>
<text x="803.0" y="1268.6">1.50</text>
<rect x="694.2" y="1278.0" width="30.2" height="19.2" fill="#00D2FF"/>
<text x="684.5" y="1296.0" text-anchor="end" font-style="italic">ZNF870</text>
<text x="803.0" y="1291.6">1.47</text>
<rect x="694.2" y="1301.0" width="29.4" height="19.2" fill="#00D2FF"/>
<text x="684.5" y="1319.0" text-anchor="end" font-style="italic">ZNF35</text>
<text x="803.0" y="1314.6">1.45</text>
<rect x="694.2" y="1324.0" width="28.6" height="19.2" fill="#00D2FF"/>
<text x="684.5" y="1342.0" text-anchor="end" font-style="italic">ZNF79</text>
<text x="803.0" y="1337.6">1.33</text>
<rect x="694.2" y="1347.0" width="28.1" height="19.2" fill="#00D2FF"/>
<text x="684.5" y="1365.0" text-anchor="end" font-style="italic">CPEB1</text>
<text x="803.0" y="1360.6">1.39</text>
<rect x="694.2" y="1370.0" width="27.4" height="19.2" fill="#00D2FF"/>
<text x="684.5" y="1388.0" text-anchor="end" font-style="italic">ZNF570</text>
<text x="803.0" y="1383.6">1.41</text>
<rect x="694.2" y="1393.0" width="25.8" height="19.2" fill="#00D2FF"/>
<text x="684.5" y="1411.0" text-anchor="end" font-style="italic">ZNF25</text>
<text x="803.0" y="1406.6">1.35</text>
<rect x="694.2" y="1416.0" width="25.1" height="19.2" fill="#00D2FF"/>
<text x="684.5" y="1434.0" text-anchor="end" font-style="italic">ARID5A</text>
<text x="803.0" y="1429.6">1.50</text>
<rect x="694.2" y="1439.0" width="25.1" height="19.2" fill="#00D2FF"/>
<text x="684.5" y="1457.0" text-anchor="end" font-style="italic">ZNF136</text>
<text x="803.0" y="1452.6">1.43</text>
<rect x="694.2" y="1462.0" width="24.8" height="19.2" fill="#00D2FF"/>
<text x="684.5" y="1480.0" text-anchor="end" font-style="italic">HMGA1</text>
<text x="803.0" y="1475.6">1.41</text>
<rect x="694.2" y="1485.0" width="23.8" height="19.2" fill="#00D2FF"/>
<text x="684.5" y="1503.0" text-anchor="end" font-style="italic">FOXJ2</text>
<text x="803.0" y="1498.6">1.33</text>
<line x1="693.3" y1="1160.4" x2="693.3" y2="1508.8" stroke="#000" stroke-width="2.0"/>
<line x1="692.5" y1="1508.0" x2="786.6" y2="1508.0" stroke="#000" stroke-width="2.0"/>
<line x1="693.3" y1="1508.0" x2="693.3" y2="1514.8" stroke="#000" stroke-width="2.0"/>
<text x="691.3" y="1537.5" text-anchor="middle">0</text>
<line x1="729.9" y1="1508.0" x2="729.9" y2="1514.8" stroke="#000" stroke-width="2.0"/>
<text x="727.9" y="1537.5" text-anchor="middle">20</text>
<line x1="766.7" y1="1508.0" x2="766.7" y2="1514.8" stroke="#000" stroke-width="2.0"/>
<text x="764.7" y="1537.5" text-anchor="middle">40</text>
<line x1="785.8" y1="1508.0" x2="785.8" y2="1514.8" stroke="#000" stroke-width="2.0"/>
<rect x="696.6" y="1553.5" width="80.3" height="18.2" fill="#F0A800"/>
<text x="684.5" y="1569.7" text-anchor="end" font-style="italic">FOSL2</text>
<text x="803.0" y="1567.8">2.10</text>
<rect x="696.6" y="1576.1" width="75.9" height="18.2" fill="#F0A800"/>
<text x="684.5" y="1592.3" text-anchor="end" font-style="italic">NFE2L2</text>
<text x="803.0" y="1590.4">2.26</text>
<rect x="696.6" y="1598.8" width="59.8" height="18.2" fill="#F0A800"/>
<text x="684.5" y="1615.0" text-anchor="end" font-style="italic">BACH2</text>
<text x="803.0" y="1613.1">1.98</text>
<rect x="696.6" y="1621.4" width="36.8" height="18.2" fill="#F0A800"/>
<text x="684.5" y="1637.6" text-anchor="end" font-style="italic">BACH1</text>
<text x="803.0" y="1635.7">1.46</text>
<rect x="696.6" y="1644.0" width="33.8" height="18.2" fill="#F0A800"/>
<text x="684.5" y="1660.2" text-anchor="end" font-style="italic">MEF2A</text>
<text x="803.0" y="1658.3">1.34</text>
<rect x="696.6" y="1666.7" width="32" height="18.2" fill="#F0A800"/>
<text x="684.5" y="1682.9" text-anchor="end" font-style="italic">MEF2D</text>
<text x="803.0" y="1681.0">1.35</text>
<rect x="696.6" y="1689.3" width="31.2" height="18.2" fill="#F0A800"/>
<text x="684.5" y="1705.5" text-anchor="end" font-style="italic">MEF2C</text>
<text x="803.0" y="1703.6">1.35</text>
<rect x="696.6" y="1711.9" width="24.5" height="18.2" fill="#F0A800"/>
<text x="684.5" y="1728.1" text-anchor="end" font-style="italic">HMGA1</text>
<text x="803.0" y="1726.2">1.31</text>
<rect x="696.6" y="1734.5" width="21" height="18.2" fill="#F0A800"/>
<text x="684.5" y="1750.7" text-anchor="end" font-style="italic">ZNF25</text>
<text x="803.0" y="1748.8">1.23</text>
<rect x="696.6" y="1757.2" width="18.9" height="18.2" fill="#F0A800"/>
<text x="684.5" y="1773.4" text-anchor="end" font-style="italic">ZNF35</text>
<text x="803.0" y="1771.5">1.23</text>
<rect x="696.6" y="1779.8" width="18.9" height="18.2" fill="#F0A800"/>
<text x="684.5" y="1796.0" text-anchor="end" font-style="italic">HMG20B</text>
<text x="803.0" y="1794.1">1.24</text>
<rect x="696.6" y="1802.4" width="18.9" height="18.2" fill="#F0A800"/>
<text x="684.5" y="1818.6" text-anchor="end" font-style="italic">ZNF879</text>
<text x="803.0" y="1816.7">1.23</text>
<rect x="696.6" y="1825.1" width="17.6" height="18.2" fill="#F0A800"/>
<text x="684.5" y="1841.3" text-anchor="end" font-style="italic">ARID3B</text>
<text x="803.0" y="1839.4">1.22</text>
<rect x="696.6" y="1847.7" width="15.1" height="18.2" fill="#F0A800"/>
<text x="684.5" y="1863.9" text-anchor="end" font-style="italic">NFE2L3</text>
<text x="803.0" y="1862.0">1.32</text>
<rect x="696.6" y="1870.3" width="15.1" height="18.2" fill="#F0A800"/>
<text x="684.5" y="1886.5" text-anchor="end" font-style="italic">NFE2L1</text>
<text x="803.0" y="1884.6">1.32</text>
<line x1="695.6" y1="1550.0" x2="695.6" y2="1897.8" stroke="#000" stroke-width="2.0"/>
<line x1="694.8" y1="1897.0" x2="788.8" y2="1897.0" stroke="#000" stroke-width="2.0"/>
<line x1="695.6" y1="1897.0" x2="695.6" y2="1903.8" stroke="#000" stroke-width="2.0"/>
<text x="693.6" y="1925.3" text-anchor="middle">0</text>
<line x1="742.0" y1="1897.0" x2="742.0" y2="1903.8" stroke="#000" stroke-width="2.0"/>
<text x="740.0" y="1925.3" text-anchor="middle">20</text>
<line x1="788.0" y1="1897.0" x2="788.0" y2="1903.8" stroke="#000" stroke-width="2.0"/>
<text x="786.0" y="1925.3" text-anchor="middle">40</text>
<text x="645" y="1957" textLength="153.8" lengthAdjust="spacingAndGlyphs">Binomial <tspan font-style="italic">z</tspan>-score</text>
<rect x="1292.4" y="1164.7" width="74.1" height="21" fill="#00D2FF"/>
<text x="1282.0" y="1183.0" text-anchor="end" textLength="294.2" lengthAdjust="spacingAndGlyphs">Chemical synaptic transmission</text>
<rect x="1292.4" y="1193.4" width="70.3" height="21" fill="#00D2FF"/>
<text x="1282.0" y="1211.7" text-anchor="end" textLength="336.2" lengthAdjust="spacingAndGlyphs">Peptidyl-tyrosine dephosphorylation</text>
<rect x="1292.4" y="1222.0" width="56.9" height="21" fill="#00D2FF"/>
<text x="1282.0" y="1240.3" text-anchor="end" textLength="138.3" lengthAdjust="spacingAndGlyphs">Axon guidance</text>
<rect x="1292.4" y="1250.7" width="50.8" height="21" fill="#00D2FF"/>
<text x="1282.0" y="1269.0" text-anchor="end" textLength="345.4" lengthAdjust="spacingAndGlyphs">Positive regulation of GTPase activity</text>
<rect x="1292.4" y="1279.3" width="28.7" height="21" fill="#00D2FF"/>
<text x="1282.0" y="1297.6" text-anchor="end" textLength="276.2" lengthAdjust="spacingAndGlyphs">Nervous system development</text>
<rect x="1292.4" y="1308.0" width="24.1" height="21" fill="#00D2FF"/>
<text x="1282.0" y="1326.3" text-anchor="end" textLength="130.3" lengthAdjust="spacingAndGlyphs">Axonogenesis</text>
<rect x="1292.4" y="1336.7" width="22.5" height="21" fill="#00D2FF"/>
<text x="1282.0" y="1355.0" text-anchor="end" textLength="371.8" lengthAdjust="spacingAndGlyphs">Positive regulation of synapse assembly</text>
<rect x="1292.4" y="1365.3" width="22.2" height="21" fill="#00D2FF"/>
<text x="1282.0" y="1383.6" text-anchor="end" textLength="398.5" lengthAdjust="spacingAndGlyphs">Ionotropic glutamate receptor sig. pathway</text>
<rect x="1292.4" y="1394.0" width="22.5" height="21" fill="#00D2FF"/>
<text x="1282.0" y="1412.3" text-anchor="end" textLength="241.9" lengthAdjust="spacingAndGlyphs">Behavioural fear response</text>
<rect x="1292.4" y="1422.6" width="22.2" height="21" fill="#00D2FF"/>
<text x="1282.0" y="1440.9" text-anchor="end" textLength="399.3" lengthAdjust="spacingAndGlyphs">Regulation of ion transmembrane transport</text>
<rect x="1292.4" y="1451.3" width="22.2" height="21" fill="#00D2FF"/>
<text x="1282.0" y="1469.6" text-anchor="end" textLength="244.9" lengthAdjust="spacingAndGlyphs">Protein dephosphorylation</text>
<rect x="1292.4" y="1480.0" width="22.2" height="21" fill="#00D2FF"/>
<text x="1282.0" y="1498.3" text-anchor="end" textLength="159.7" lengthAdjust="spacingAndGlyphs">Neuron migration</text>
<line x1="1291.5" y1="1157.4" x2="1291.5" y2="1509.4" stroke="#000" stroke-width="2.0"/>
<line x1="1290.7" y1="1508.6" x2="1381.5" y2="1508.6" stroke="#000" stroke-width="2.0"/>
<line x1="1291.5" y1="1508.6" x2="1291.5" y2="1515.2" stroke="#000" stroke-width="2.0"/>
<text x="1292.5" y="1537.5" text-anchor="middle">0</text>
<line x1="1313.6" y1="1508.6" x2="1313.6" y2="1515.2" stroke="#000" stroke-width="2.0"/>
<text x="1314.6" y="1537.5" text-anchor="middle">2</text>
<line x1="1336.2" y1="1508.6" x2="1336.2" y2="1515.2" stroke="#000" stroke-width="2.0"/>
<text x="1337.2" y="1537.5" text-anchor="middle">4</text>
<line x1="1358.3" y1="1508.6" x2="1358.3" y2="1515.2" stroke="#000" stroke-width="2.0"/>
<text x="1359.3" y="1537.5" text-anchor="middle">6</text>
<line x1="1380.7" y1="1508.6" x2="1380.7" y2="1515.2" stroke="#000" stroke-width="2.0"/>
<text x="1381.7" y="1537.5" text-anchor="middle">8</text>
<rect x="1293.9" y="1554.0" width="71.5" height="33.2" fill="#F0A800"/>
<text x="1282.0" y="1576.2" text-anchor="end" textLength="294.2" lengthAdjust="spacingAndGlyphs">Chemical synaptic transmission</text>
<rect x="1293.9" y="1597.4" width="64.6" height="33.2" fill="#F0A800"/>
<text x="1282.0" y="1619.6" text-anchor="end" textLength="276.2" lengthAdjust="spacingAndGlyphs">Nervous system development</text>
<rect x="1293.9" y="1640.8" width="51.2" height="33.2" fill="#F0A800"/>
<text x="1282.0" y="1663.0" text-anchor="end" textLength="138.3" lengthAdjust="spacingAndGlyphs">Axon guidance</text>
<rect x="1293.9" y="1684.2" width="35.5" height="33.2" fill="#F0A800"/>
<text x="1282.0" y="1706.4" text-anchor="end" textLength="125.3" lengthAdjust="spacingAndGlyphs">Cell adhesion</text>
<rect x="1293.9" y="1727.6" width="29.8" height="33.2" fill="#F0A800"/>
<text x="1282.0" y="1749.8" text-anchor="end" textLength="174.2" lengthAdjust="spacingAndGlyphs">Synapse assembly</text>
<rect x="1293.9" y="1771.0" width="29.4" height="33.2" fill="#F0A800"/>
<text x="1282.0" y="1793.2" text-anchor="end" textLength="371.8" lengthAdjust="spacingAndGlyphs">Positive regulation of synapse assembly</text>
<rect x="1293.9" y="1814.4" width="29" height="33.2" fill="#F0A800"/>
<text x="1282.0" y="1836.6" text-anchor="end" textLength="345.4" lengthAdjust="spacingAndGlyphs">Positive regulation of GTPase activity</text>
<rect x="1293.9" y="1857.8" width="21.8" height="33.2" fill="#F0A800"/>
<text x="1282.0" y="1880.0" text-anchor="end" textLength="289.6" lengthAdjust="spacingAndGlyphs">Intracellular signal transduction</text>
<line x1="1293.0" y1="1549.9" x2="1293.0" y2="1898.4" stroke="#000" stroke-width="2.0"/>
<line x1="1292.2" y1="1897.6" x2="1382.8" y2="1897.6" stroke="#000" stroke-width="2.0"/>
<line x1="1293.0" y1="1897.6" x2="1293.0" y2="1904.2" stroke="#000" stroke-width="2.0"/>
<text x="1294.0" y="1925.5" text-anchor="middle">0</text>
<line x1="1315.2" y1="1897.6" x2="1315.2" y2="1904.2" stroke="#000" stroke-width="2.0"/>
<text x="1316.2" y="1925.5" text-anchor="middle">2</text>
<line x1="1337.3" y1="1897.6" x2="1337.3" y2="1904.2" stroke="#000" stroke-width="2.0"/>
<text x="1338.3" y="1925.5" text-anchor="middle">4</text>
<line x1="1359.9" y1="1897.6" x2="1359.9" y2="1904.2" stroke="#000" stroke-width="2.0"/>
<text x="1360.9" y="1925.5" text-anchor="middle">6</text>
<line x1="1382.0" y1="1897.6" x2="1382.0" y2="1904.2" stroke="#000" stroke-width="2.0"/>
<text x="1383.0" y="1925.5" text-anchor="middle">8</text>
<text x="1268.2" y="1950.3" textLength="130.3" lengthAdjust="spacingAndGlyphs">–log<tspan font-size="11.5" dy="5">10</tspan><tspan dy="-5">(</tspan><tspan font-style="italic">P</tspan> value)</text>
</g>
</svg>
</body></html>
